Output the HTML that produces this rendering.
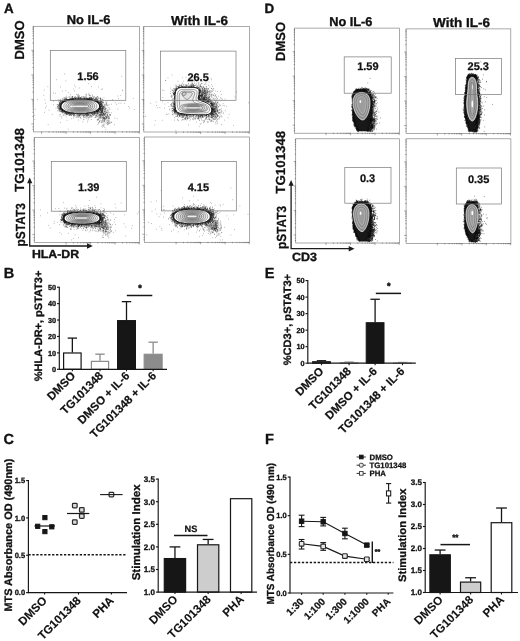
<!DOCTYPE html>
<html><head><meta charset="utf-8"><title>Figure</title>
<style>html,body{margin:0;padding:0;background:#fff}svg{display:block;filter:blur(0.4px)}text{font-family:"Liberation Sans",Arial,sans-serif;text-rendering:geometricPrecision;stroke-linejoin:round}</style>
</head><body>
<svg width="520" height="641" viewBox="0 0 520 641">
<rect width="520" height="641" fill="#fff"/>
<rect x="33.30" y="26.30" width="106.30" height="105.60" fill="none" stroke="#7d7d7d" stroke-width="0.65"/>
<path d="M33.7 123.90h-2.4 M33.7 116.52h-1.3 M33.7 112.21h-1.3 M33.7 109.15h-1.3 M33.7 106.78h-1.3 M33.7 104.84h-1.3 M33.7 103.20h-1.3 M33.7 101.77h-1.3 M33.7 100.52h-1.3 M33.7 99.40h-2.4 M33.7 92.02h-1.3 M33.7 87.71h-1.3 M33.7 84.65h-1.3 M33.7 82.28h-1.3 M33.7 80.34h-1.3 M33.7 78.70h-1.3 M33.7 77.27h-1.3 M33.7 76.02h-1.3 M33.7 74.90h-2.4 M33.7 67.52h-1.3 M33.7 63.21h-1.3 M33.7 60.15h-1.3 M33.7 57.78h-1.3 M33.7 55.84h-1.3 M33.7 54.20h-1.3 M33.7 52.77h-1.3 M33.7 51.52h-1.3 M33.7 50.40h-2.4 M33.7 43.02h-1.3 M33.7 38.71h-1.3 M33.7 35.65h-1.3 M33.7 33.28h-1.3 M33.7 31.34h-1.3 M33.7 29.70h-1.3 M33.7 28.27h-1.3 M33.7 27.02h-1.3 M33.7 129.40h-1.3 M33.7 126.90h-1.3 M115.10 131.5v2.4 M122.48 131.5v1.3 M126.79 131.5v1.3 M129.85 131.5v1.3 M132.22 131.5v1.3 M134.16 131.5v1.3 M135.80 131.5v1.3 M137.23 131.5v1.3 M138.48 131.5v1.3 M90.60 131.5v2.4 M97.98 131.5v1.3 M102.29 131.5v1.3 M105.35 131.5v1.3 M107.72 131.5v1.3 M109.66 131.5v1.3 M111.30 131.5v1.3 M112.73 131.5v1.3 M113.98 131.5v1.3 M66.10 131.5v2.4 M73.48 131.5v1.3 M77.79 131.5v1.3 M80.85 131.5v1.3 M83.22 131.5v1.3 M85.16 131.5v1.3 M86.80 131.5v1.3 M88.23 131.5v1.3 M89.48 131.5v1.3 M41.60 131.5v2.4 M48.98 131.5v1.3 M53.29 131.5v1.3 M56.35 131.5v1.3 M58.72 131.5v1.3 M60.66 131.5v1.3 M62.30 131.5v1.3 M63.73 131.5v1.3 M64.98 131.5v1.3 M139.30 131.5v2.4" stroke="#444" stroke-width="0.45" fill="none"/>
<rect x="143.80" y="26.40" width="105.80" height="105.60" fill="none" stroke="#7d7d7d" stroke-width="0.65"/>
<path d="M144.2 124.00h-2.4 M144.2 116.62h-1.3 M144.2 112.31h-1.3 M144.2 109.25h-1.3 M144.2 106.88h-1.3 M144.2 104.94h-1.3 M144.2 103.30h-1.3 M144.2 101.87h-1.3 M144.2 100.62h-1.3 M144.2 99.50h-2.4 M144.2 92.12h-1.3 M144.2 87.81h-1.3 M144.2 84.75h-1.3 M144.2 82.38h-1.3 M144.2 80.44h-1.3 M144.2 78.80h-1.3 M144.2 77.37h-1.3 M144.2 76.12h-1.3 M144.2 75.00h-2.4 M144.2 67.62h-1.3 M144.2 63.31h-1.3 M144.2 60.25h-1.3 M144.2 57.88h-1.3 M144.2 55.94h-1.3 M144.2 54.30h-1.3 M144.2 52.87h-1.3 M144.2 51.62h-1.3 M144.2 50.50h-2.4 M144.2 43.12h-1.3 M144.2 38.81h-1.3 M144.2 35.75h-1.3 M144.2 33.38h-1.3 M144.2 31.44h-1.3 M144.2 29.80h-1.3 M144.2 28.37h-1.3 M144.2 27.12h-1.3 M144.2 129.50h-1.3 M144.2 127.00h-1.3 M225.10 131.6v2.4 M232.48 131.6v1.3 M236.79 131.6v1.3 M239.85 131.6v1.3 M242.22 131.6v1.3 M244.16 131.6v1.3 M245.80 131.6v1.3 M247.23 131.6v1.3 M248.48 131.6v1.3 M200.60 131.6v2.4 M207.98 131.6v1.3 M212.29 131.6v1.3 M215.35 131.6v1.3 M217.72 131.6v1.3 M219.66 131.6v1.3 M221.30 131.6v1.3 M222.73 131.6v1.3 M223.98 131.6v1.3 M176.10 131.6v2.4 M183.48 131.6v1.3 M187.79 131.6v1.3 M190.85 131.6v1.3 M193.22 131.6v1.3 M195.16 131.6v1.3 M196.80 131.6v1.3 M198.23 131.6v1.3 M199.48 131.6v1.3 M249.30 131.6v2.4" stroke="#444" stroke-width="0.45" fill="none"/>
<rect x="34.30" y="137.30" width="105.30" height="105.30" fill="none" stroke="#7d7d7d" stroke-width="0.65"/>
<path d="M34.7 234.60h-2.4 M34.7 227.22h-1.3 M34.7 222.91h-1.3 M34.7 219.85h-1.3 M34.7 217.48h-1.3 M34.7 215.54h-1.3 M34.7 213.90h-1.3 M34.7 212.47h-1.3 M34.7 211.22h-1.3 M34.7 210.10h-2.4 M34.7 202.72h-1.3 M34.7 198.41h-1.3 M34.7 195.35h-1.3 M34.7 192.98h-1.3 M34.7 191.04h-1.3 M34.7 189.40h-1.3 M34.7 187.97h-1.3 M34.7 186.72h-1.3 M34.7 185.60h-2.4 M34.7 178.22h-1.3 M34.7 173.91h-1.3 M34.7 170.85h-1.3 M34.7 168.48h-1.3 M34.7 166.54h-1.3 M34.7 164.90h-1.3 M34.7 163.47h-1.3 M34.7 162.22h-1.3 M34.7 161.10h-2.4 M34.7 153.72h-1.3 M34.7 149.41h-1.3 M34.7 146.35h-1.3 M34.7 143.98h-1.3 M34.7 142.04h-1.3 M34.7 140.40h-1.3 M34.7 138.97h-1.3 M34.7 240.10h-1.3 M34.7 237.60h-1.3 M115.10 242.2v2.4 M122.48 242.2v1.3 M126.79 242.2v1.3 M129.85 242.2v1.3 M132.22 242.2v1.3 M134.16 242.2v1.3 M135.80 242.2v1.3 M137.23 242.2v1.3 M138.48 242.2v1.3 M90.60 242.2v2.4 M97.98 242.2v1.3 M102.29 242.2v1.3 M105.35 242.2v1.3 M107.72 242.2v1.3 M109.66 242.2v1.3 M111.30 242.2v1.3 M112.73 242.2v1.3 M113.98 242.2v1.3 M66.10 242.2v2.4 M73.48 242.2v1.3 M77.79 242.2v1.3 M80.85 242.2v1.3 M83.22 242.2v1.3 M85.16 242.2v1.3 M86.80 242.2v1.3 M88.23 242.2v1.3 M89.48 242.2v1.3 M139.30 242.2v2.4" stroke="#444" stroke-width="0.45" fill="none"/>
<rect x="144.30" y="137.00" width="105.30" height="105.30" fill="none" stroke="#7d7d7d" stroke-width="0.65"/>
<path d="M144.7 234.30h-2.4 M144.7 226.92h-1.3 M144.7 222.61h-1.3 M144.7 219.55h-1.3 M144.7 217.18h-1.3 M144.7 215.24h-1.3 M144.7 213.60h-1.3 M144.7 212.17h-1.3 M144.7 210.92h-1.3 M144.7 209.80h-2.4 M144.7 202.42h-1.3 M144.7 198.11h-1.3 M144.7 195.05h-1.3 M144.7 192.68h-1.3 M144.7 190.74h-1.3 M144.7 189.10h-1.3 M144.7 187.67h-1.3 M144.7 186.42h-1.3 M144.7 185.30h-2.4 M144.7 177.92h-1.3 M144.7 173.61h-1.3 M144.7 170.55h-1.3 M144.7 168.18h-1.3 M144.7 166.24h-1.3 M144.7 164.60h-1.3 M144.7 163.17h-1.3 M144.7 161.92h-1.3 M144.7 160.80h-2.4 M144.7 153.42h-1.3 M144.7 149.11h-1.3 M144.7 146.05h-1.3 M144.7 143.68h-1.3 M144.7 141.74h-1.3 M144.7 140.10h-1.3 M144.7 138.67h-1.3 M144.7 239.80h-1.3 M144.7 237.30h-1.3 M225.10 241.9v2.4 M232.48 241.9v1.3 M236.79 241.9v1.3 M239.85 241.9v1.3 M242.22 241.9v1.3 M244.16 241.9v1.3 M245.80 241.9v1.3 M247.23 241.9v1.3 M248.48 241.9v1.3 M200.60 241.9v2.4 M207.98 241.9v1.3 M212.29 241.9v1.3 M215.35 241.9v1.3 M217.72 241.9v1.3 M219.66 241.9v1.3 M221.30 241.9v1.3 M222.73 241.9v1.3 M223.98 241.9v1.3 M176.10 241.9v2.4 M183.48 241.9v1.3 M187.79 241.9v1.3 M190.85 241.9v1.3 M193.22 241.9v1.3 M195.16 241.9v1.3 M196.80 241.9v1.3 M198.23 241.9v1.3 M199.48 241.9v1.3 M249.30 241.9v2.4" stroke="#444" stroke-width="0.45" fill="none"/>
<rect x="294.60" y="28.10" width="104.90" height="105.10" fill="none" stroke="#7d7d7d" stroke-width="0.65"/>
<path d="M295.0 125.20h-2.4 M295.0 117.82h-1.3 M295.0 113.51h-1.3 M295.0 110.45h-1.3 M295.0 108.08h-1.3 M295.0 106.14h-1.3 M295.0 104.50h-1.3 M295.0 103.07h-1.3 M295.0 101.82h-1.3 M295.0 100.70h-2.4 M295.0 93.32h-1.3 M295.0 89.01h-1.3 M295.0 85.95h-1.3 M295.0 83.58h-1.3 M295.0 81.64h-1.3 M295.0 80.00h-1.3 M295.0 78.57h-1.3 M295.0 77.32h-1.3 M295.0 76.20h-2.4 M295.0 68.82h-1.3 M295.0 64.51h-1.3 M295.0 61.45h-1.3 M295.0 59.08h-1.3 M295.0 57.14h-1.3 M295.0 55.50h-1.3 M295.0 54.07h-1.3 M295.0 52.82h-1.3 M295.0 51.70h-2.4 M295.0 44.32h-1.3 M295.0 40.01h-1.3 M295.0 36.95h-1.3 M295.0 34.58h-1.3 M295.0 32.64h-1.3 M295.0 31.00h-1.3 M295.0 29.57h-1.3 M295.0 130.70h-1.3 M295.0 128.20h-1.3 M375.00 132.8v2.4 M382.38 132.8v1.3 M386.69 132.8v1.3 M389.75 132.8v1.3 M392.12 132.8v1.3 M394.06 132.8v1.3 M395.70 132.8v1.3 M397.13 132.8v1.3 M398.38 132.8v1.3 M350.50 132.8v2.4 M357.88 132.8v1.3 M362.19 132.8v1.3 M365.25 132.8v1.3 M367.62 132.8v1.3 M369.56 132.8v1.3 M371.20 132.8v1.3 M372.63 132.8v1.3 M373.88 132.8v1.3 M326.00 132.8v2.4 M333.38 132.8v1.3 M337.69 132.8v1.3 M340.75 132.8v1.3 M343.12 132.8v1.3 M345.06 132.8v1.3 M346.70 132.8v1.3 M348.13 132.8v1.3 M349.38 132.8v1.3 M399.20 132.8v2.4" stroke="#444" stroke-width="0.45" fill="none"/>
<rect x="406.10" y="28.90" width="104.70" height="104.70" fill="none" stroke="#7d7d7d" stroke-width="0.65"/>
<path d="M406.5 125.60h-2.4 M406.5 118.22h-1.3 M406.5 113.91h-1.3 M406.5 110.85h-1.3 M406.5 108.48h-1.3 M406.5 106.54h-1.3 M406.5 104.90h-1.3 M406.5 103.47h-1.3 M406.5 102.22h-1.3 M406.5 101.10h-2.4 M406.5 93.72h-1.3 M406.5 89.41h-1.3 M406.5 86.35h-1.3 M406.5 83.98h-1.3 M406.5 82.04h-1.3 M406.5 80.40h-1.3 M406.5 78.97h-1.3 M406.5 77.72h-1.3 M406.5 76.60h-2.4 M406.5 69.22h-1.3 M406.5 64.91h-1.3 M406.5 61.85h-1.3 M406.5 59.48h-1.3 M406.5 57.54h-1.3 M406.5 55.90h-1.3 M406.5 54.47h-1.3 M406.5 53.22h-1.3 M406.5 52.10h-2.4 M406.5 44.72h-1.3 M406.5 40.41h-1.3 M406.5 37.35h-1.3 M406.5 34.98h-1.3 M406.5 33.04h-1.3 M406.5 31.40h-1.3 M406.5 29.97h-1.3 M406.5 131.10h-1.3 M406.5 128.60h-1.3 M486.30 133.2v2.4 M493.68 133.2v1.3 M497.99 133.2v1.3 M501.05 133.2v1.3 M503.42 133.2v1.3 M505.36 133.2v1.3 M507.00 133.2v1.3 M508.43 133.2v1.3 M509.68 133.2v1.3 M461.80 133.2v2.4 M469.18 133.2v1.3 M473.49 133.2v1.3 M476.55 133.2v1.3 M478.92 133.2v1.3 M480.86 133.2v1.3 M482.50 133.2v1.3 M483.93 133.2v1.3 M485.18 133.2v1.3 M437.30 133.2v2.4 M444.68 133.2v1.3 M448.99 133.2v1.3 M452.05 133.2v1.3 M454.42 133.2v1.3 M456.36 133.2v1.3 M458.00 133.2v1.3 M459.43 133.2v1.3 M460.68 133.2v1.3 M510.50 133.2v2.4" stroke="#444" stroke-width="0.45" fill="none"/>
<rect x="295.70" y="138.80" width="103.80" height="104.20" fill="none" stroke="#7d7d7d" stroke-width="0.65"/>
<path d="M296.1 235.00h-2.4 M296.1 227.62h-1.3 M296.1 223.31h-1.3 M296.1 220.25h-1.3 M296.1 217.88h-1.3 M296.1 215.94h-1.3 M296.1 214.30h-1.3 M296.1 212.87h-1.3 M296.1 211.62h-1.3 M296.1 210.50h-2.4 M296.1 203.12h-1.3 M296.1 198.81h-1.3 M296.1 195.75h-1.3 M296.1 193.38h-1.3 M296.1 191.44h-1.3 M296.1 189.80h-1.3 M296.1 188.37h-1.3 M296.1 187.12h-1.3 M296.1 186.00h-2.4 M296.1 178.62h-1.3 M296.1 174.31h-1.3 M296.1 171.25h-1.3 M296.1 168.88h-1.3 M296.1 166.94h-1.3 M296.1 165.30h-1.3 M296.1 163.87h-1.3 M296.1 162.62h-1.3 M296.1 161.50h-2.4 M296.1 154.12h-1.3 M296.1 149.81h-1.3 M296.1 146.75h-1.3 M296.1 144.38h-1.3 M296.1 142.44h-1.3 M296.1 140.80h-1.3 M296.1 139.37h-1.3 M296.1 240.50h-1.3 M296.1 238.00h-1.3 M375.00 242.6v2.4 M382.38 242.6v1.3 M386.69 242.6v1.3 M389.75 242.6v1.3 M392.12 242.6v1.3 M394.06 242.6v1.3 M395.70 242.6v1.3 M397.13 242.6v1.3 M398.38 242.6v1.3 M350.50 242.6v2.4 M357.88 242.6v1.3 M362.19 242.6v1.3 M365.25 242.6v1.3 M367.62 242.6v1.3 M369.56 242.6v1.3 M371.20 242.6v1.3 M372.63 242.6v1.3 M373.88 242.6v1.3 M326.00 242.6v2.4 M333.38 242.6v1.3 M337.69 242.6v1.3 M340.75 242.6v1.3 M343.12 242.6v1.3 M345.06 242.6v1.3 M346.70 242.6v1.3 M348.13 242.6v1.3 M349.38 242.6v1.3 M399.20 242.6v2.4" stroke="#444" stroke-width="0.45" fill="none"/>
<rect x="406.10" y="138.80" width="104.80" height="104.60" fill="none" stroke="#7d7d7d" stroke-width="0.65"/>
<path d="M406.5 235.40h-2.4 M406.5 228.02h-1.3 M406.5 223.71h-1.3 M406.5 220.65h-1.3 M406.5 218.28h-1.3 M406.5 216.34h-1.3 M406.5 214.70h-1.3 M406.5 213.27h-1.3 M406.5 212.02h-1.3 M406.5 210.90h-2.4 M406.5 203.52h-1.3 M406.5 199.21h-1.3 M406.5 196.15h-1.3 M406.5 193.78h-1.3 M406.5 191.84h-1.3 M406.5 190.20h-1.3 M406.5 188.77h-1.3 M406.5 187.52h-1.3 M406.5 186.40h-2.4 M406.5 179.02h-1.3 M406.5 174.71h-1.3 M406.5 171.65h-1.3 M406.5 169.28h-1.3 M406.5 167.34h-1.3 M406.5 165.70h-1.3 M406.5 164.27h-1.3 M406.5 163.02h-1.3 M406.5 161.90h-2.4 M406.5 154.52h-1.3 M406.5 150.21h-1.3 M406.5 147.15h-1.3 M406.5 144.78h-1.3 M406.5 142.84h-1.3 M406.5 141.20h-1.3 M406.5 139.77h-1.3 M406.5 240.90h-1.3 M406.5 238.40h-1.3 M486.40 243.0v2.4 M493.78 243.0v1.3 M498.09 243.0v1.3 M501.15 243.0v1.3 M503.52 243.0v1.3 M505.46 243.0v1.3 M507.10 243.0v1.3 M508.53 243.0v1.3 M509.78 243.0v1.3 M461.90 243.0v2.4 M469.28 243.0v1.3 M473.59 243.0v1.3 M476.65 243.0v1.3 M479.02 243.0v1.3 M480.96 243.0v1.3 M482.60 243.0v1.3 M484.03 243.0v1.3 M485.28 243.0v1.3 M437.40 243.0v2.4 M444.78 243.0v1.3 M449.09 243.0v1.3 M452.15 243.0v1.3 M454.52 243.0v1.3 M456.46 243.0v1.3 M458.10 243.0v1.3 M459.53 243.0v1.3 M460.78 243.0v1.3 M510.60 243.0v2.4" stroke="#444" stroke-width="0.45" fill="none"/>
<path d="M69.9 114.3h0.6 M101.7 111.5h0.6 M61.3 104.2h0.6 M60.8 105.7h0.6 M100.2 108.4h0.6 M97.2 110.5h0.6 M62.7 109.9h0.6 M84.5 114.2h0.6 M64.7 99.3h0.6 M63.9 111.2h0.6 M106.2 103.8h0.6 M74.3 114.2h0.6 M94.2 113.5h0.6 M89.6 98.5h0.6 M91.0 116.2h0.6 M65.3 112.5h0.6 M61.4 103.7h0.6 M86.6 113.2h0.6 M70.6 98.5h0.6 M63.0 102.0h0.6 M60.9 108.9h0.6 M72.3 96.5h0.6 M81.5 115.9h0.6 M95.6 99.9h0.6 M76.9 98.1h0.6 M102.4 117.9h0.6 M63.4 109.9h0.6 M60.2 106.9h0.6 M102.0 109.0h0.6 M60.4 101.5h0.6 M95.8 99.8h0.6 M61.8 100.5h0.6 M60.1 100.8h0.6 M100.1 102.9h0.6 M61.1 107.7h0.6 M73.4 99.1h0.6 M65.8 97.6h0.6 M75.2 113.1h0.6 M65.3 111.1h0.6 M61.4 108.2h0.6 M91.0 113.0h0.6 M83.2 98.9h0.6 M94.1 111.4h0.6 M96.3 98.7h0.6 M101.3 112.1h0.6 M96.0 100.5h0.6 M89.9 98.6h0.6 M62.4 110.7h0.6 M64.6 115.2h0.6 M95.6 116.7h0.6 M89.9 112.6h0.6 M59.9 107.2h0.6 M63.8 102.3h0.6 M63.2 109.9h0.6 M62.9 115.4h0.6 M71.7 97.9h0.6 M59.2 105.1h0.6 M102.1 110.1h0.6 M97.1 101.1h0.6 M88.4 94.8h0.6 M64.3 111.3h0.6 M66.6 100.5h0.6 M100.3 110.1h0.6 M91.6 112.9h0.6 M69.2 112.1h0.6 M92.2 111.9h0.6 M96.5 110.9h0.6 M94.7 100.8h0.6 M64.8 100.9h0.6 M67.7 113.2h0.6 M64.9 114.1h0.6 M104.4 105.5h0.6 M60.8 108.2h0.6 M96.1 110.7h0.6 M68.8 112.4h0.6 M94.6 117.6h0.6 M103.6 108.1h0.6 M93.4 112.8h0.6 M59.6 103.4h0.6 M99.9 104.9h0.6 M94.0 100.2h0.6 M65.7 112.8h0.6 M91.0 112.7h0.6 M85.1 96.7h0.6 M69.9 113.0h0.6 M106.0 104.7h0.6 M93.7 99.0h0.6 M78.3 96.0h0.6 M84.2 115.6h0.6 M99.4 107.8h0.6 M99.6 107.8h0.6 M72.1 98.4h0.6 M106.7 101.8h0.6 M102.2 105.3h0.6 M100.3 103.5h0.6 M84.1 114.4h0.6 M87.9 113.9h0.6 M99.9 99.2h0.6 M93.7 96.7h0.6 M87.2 99.2h0.6 M100.9 112.3h0.6 M85.9 95.2h0.6 M80.3 98.2h0.6 M85.9 99.4h0.6 M68.9 114.1h0.6 M60.0 114.3h0.6 M61.5 112.5h0.6 M91.2 113.8h0.6 M97.4 114.6h0.6 M89.5 95.4h0.6 M95.4 115.4h0.6 M66.3 96.2h0.6 M67.6 112.9h0.6 M99.8 107.1h0.6 M101.7 104.2h0.6 M101.2 101.6h0.6 M60.1 110.5h0.6 M86.8 116.8h0.6 M79.9 113.5h0.6 M62.5 101.6h0.6 M78.6 114.2h0.6 M97.5 101.8h0.6 M66.1 114.3h0.6 M97.4 101.4h0.6 M61.3 110.9h0.6 M60.5 104.3h0.6 M59.4 104.6h0.6 M89.2 112.9h0.6 M100.0 106.5h0.6 M60.3 107.8h0.6 M76.3 97.8h0.6 M60.8 105.1h0.6 M62.1 103.5h0.6 M61.6 103.0h0.6 M80.6 113.8h0.6 M57.9 105.5h0.6 M62.3 103.2h0.6 M57.8 110.6h0.6 M63.5 100.0h0.6 M72.6 99.7h0.6 M59.7 109.3h0.6 M99.0 103.1h0.6 M72.3 96.5h0.6 M78.4 117.3h0.6 M59.1 102.1h0.6 M95.0 113.4h0.6 M95.6 112.1h0.6 M81.9 113.4h0.6 M100.5 111.0h0.6 M100.1 98.6h0.6 M92.5 112.9h0.6 M96.1 115.7h0.6 M96.6 99.8h0.6 M99.1 103.7h0.6 M58.9 114.8h0.6 M91.0 99.6h0.6 M93.2 115.3h0.6 M68.7 113.2h0.6 M88.3 114.7h0.6 M104.7 108.0h0.6 M61.9 103.5h0.6 M70.0 112.4h0.6 M65.6 100.7h0.6 M99.3 105.3h0.6 M86.0 98.5h0.6 M77.8 113.2h0.6 M99.3 108.3h0.6 M96.0 113.4h0.6 M60.1 111.4h0.6 M78.7 115.5h0.6 M94.7 115.1h0.6 M73.1 98.5h0.6 M101.4 113.1h0.6 M62.0 110.2h0.6 M102.2 111.8h0.6 M87.8 98.4h0.6 M97.8 110.4h0.6 M94.0 100.1h0.6 M60.6 108.9h0.6 M101.0 101.1h0.6 M77.2 115.1h0.6 M82.4 115.4h0.6 M96.0 111.2h0.6 M87.2 113.5h0.6 M71.6 113.9h0.6 M73.6 116.8h0.6 M60.5 106.2h0.6 M102.4 107.6h0.6 M80.2 117.2h0.6 M61.8 103.6h0.6 M91.1 119.5h0.6 M96.8 111.5h0.6 M90.5 97.3h0.6 M91.5 99.0h0.6 M62.1 113.0h0.6 M99.4 105.2h0.6 M67.9 113.6h0.6 M65.3 98.8h0.6 M63.8 110.6h0.6 M94.7 112.1h0.6 M97.8 109.5h0.6 M92.4 114.4h0.6 M100.7 112.1h0.6 M68.7 97.1h0.6 M75.6 113.0h0.6 M60.1 108.7h0.6 M93.0 114.2h0.6 M99.8 104.0h0.6 M101.7 104.3h0.6 M99.7 104.2h0.6 M72.4 112.7h0.6 M65.7 111.1h0.6 M60.1 107.8h0.6 M61.3 105.9h0.6 M99.4 106.5h0.6 M63.7 111.1h0.6 M101.9 109.1h0.6 M83.1 113.3h0.6 M60.8 100.7h0.6 M68.7 99.9h0.6 M75.1 98.1h0.6 M69.8 113.9h0.6 M102.8 105.0h0.6 M66.1 98.7h0.6 M102.7 109.5h0.6 M63.9 98.5h0.6 M77.7 99.0h0.6 M60.5 104.8h0.6 M59.5 105.9h0.6 M92.0 96.2h0.6 M61.5 101.3h0.6 M72.0 98.0h0.6 M83.6 114.4h0.6 M67.2 111.8h0.6 M97.8 112.2h0.6 M64.9 99.5h0.6 M65.7 100.4h0.6 M103.3 106.5h0.6 M86.9 99.6h0.6 M59.4 103.9h0.6 M67.6 97.8h0.6 M79.8 114.7h0.6 M98.1 109.9h0.6 M87.9 117.5h0.6 M78.4 97.1h0.6 M65.4 111.3h0.6 M60.0 107.6h0.6 M63.3 99.3h0.6 M67.1 99.9h0.6 M79.5 113.7h0.6 M79.0 98.5h0.6 M103.9 107.3h0.6 M98.7 109.3h0.6 M71.5 97.0h0.6 M70.5 99.5h0.6 M59.3 108.6h0.6 M58.4 108.6h0.6 M88.6 117.0h0.6 M99.8 104.9h0.6 M61.7 108.3h0.6 M90.6 97.3h0.6 M77.3 113.5h0.6 M86.5 114.7h0.6 M63.0 102.3h0.6 M98.5 118.5h0.6 M94.7 112.4h0.6 M91.8 94.8h0.6 M73.8 99.4h0.6 M83.5 115.5h0.6 M101.7 108.0h0.6 M103.5 106.5h0.6 M73.2 112.8h0.6 M94.2 113.0h0.6 M92.5 98.5h0.6 M99.3 106.3h0.6 M99.9 116.0h0.6 M99.2 102.0h0.6 M73.3 118.1h0.6 M61.6 116.3h0.6 M60.0 99.8h0.6 M66.3 113.0h0.6 M99.8 109.0h0.6 M97.3 111.5h0.6 M100.3 102.2h0.6 M80.5 113.3h0.6 M89.7 116.1h0.6 M63.0 114.7h0.6 M89.1 98.4h0.6 M63.9 98.0h0.6 M59.7 103.0h0.6 M75.2 96.5h0.6 M61.1 108.9h0.6 M80.9 98.4h0.6 M100.9 109.4h0.6 M100.1 101.6h0.6 M67.8 113.7h0.6 M73.6 113.2h0.6 M78.1 120.1h0.6 M68.4 99.7h0.6 M62.6 112.4h0.6 M91.2 113.3h0.6 M98.1 101.0h0.6 M60.5 106.4h0.6 M107.4 105.8h0.6 M61.2 108.9h0.6 M98.3 111.2h0.6 M68.2 113.3h0.6 M78.8 114.0h0.6 M60.6 101.9h0.6 M61.6 111.4h0.6 M61.8 111.2h0.6 M69.2 112.4h0.6 M99.7 109.8h0.6 M101.0 118.0h0.6 M58.6 105.9h0.6 M86.1 117.1h0.6 M77.0 113.0h0.6 M60.2 109.6h0.6 M102.8 102.7h0.6 M105.5 108.3h0.6 M101.0 108.3h0.6 M57.3 108.4h0.6 M62.0 101.3h0.6 M97.6 102.8h0.6 M92.0 95.9h0.6 M80.7 118.5h0.6 M97.5 112.4h0.6 M70.6 98.1h0.6 M99.1 103.1h0.6 M83.0 96.4h0.6 M61.3 108.5h0.6 M85.1 99.3h0.6 M83.5 116.5h0.6 M72.4 114.3h0.6 M94.2 111.4h0.6 M72.4 97.0h0.6 M98.5 113.5h0.6 M62.6 102.0h0.6 M64.9 111.2h0.6 M104.4 107.2h0.6 M71.3 118.7h0.6 M67.1 99.7h0.6 M96.8 99.8h0.6 M80.9 113.3h0.6 M99.7 104.0h0.6 M102.3 107.8h0.6 M60.3 106.3h0.6 M78.9 115.4h0.6 M69.3 99.1h0.6 M100.2 108.2h0.6 M67.7 114.9h0.6 M88.1 114.8h0.6 M86.9 99.5h0.6 M87.5 116.3h0.6 M101.6 104.1h0.6 M83.9 117.7h0.6 M84.6 113.1h0.6 M101.5 102.9h0.6 M60.8 106.5h0.6 M62.2 110.7h0.6 M69.2 99.3h0.6 M64.6 111.0h0.6 M86.0 114.4h0.6 M98.8 108.8h0.6 M104.2 111.5h0.6 M98.3 98.5h0.6 M77.0 94.8h0.6 M70.3 112.4h0.6 M90.7 117.1h0.6 M101.4 108.4h0.6 M69.0 99.0h0.6 M69.2 113.7h0.6 M91.8 114.7h0.6 M68.2 111.9h0.6 M105.3 102.1h0.6 M87.7 118.1h0.6 M66.5 113.3h0.6 M59.3 110.9h0.6 M102.0 109.7h0.6 M97.7 102.3h0.6 M89.5 116.8h0.6 M105.1 109.0h0.6 M62.6 110.9h0.6 M104.7 109.8h0.6 M106.8 109.8h0.6 M78.9 115.2h0.6 M79.7 97.9h0.6 M76.7 114.3h0.6 M100.8 103.5h0.6 M75.2 98.5h0.6 M71.6 112.5h0.6 M81.3 99.2h0.6 M102.0 99.6h0.6 M105.9 108.6h0.6 M83.6 119.8h0.6 M100.0 103.5h0.6 M65.4 110.9h0.6 M59.2 106.7h0.6 M100.0 101.7h0.6 M78.1 96.1h0.6 M89.9 99.5h0.6 M68.8 115.3h0.6 M70.1 115.0h0.6 M101.8 112.2h0.6 M87.5 112.7h0.6 M100.6 110.4h0.6 M102.1 108.6h0.6 M100.3 105.0h0.6 M96.9 99.7h0.6 M97.2 110.1h0.6 M101.3 113.8h0.6 M62.2 108.8h0.6 M83.2 116.3h0.6 M70.0 98.8h0.6 M79.9 97.7h0.6 M97.9 114.2h0.6 M92.0 99.5h0.6 M64.3 113.5h0.6 M78.3 98.9h0.6 M81.2 114.9h0.6 M93.9 114.8h0.6 M69.6 114.3h0.6 M62.5 112.3h0.6 M83.3 113.1h0.6 M89.8 95.5h0.6 M103.6 116.3h0.6 M59.8 107.8h0.6 M102.2 99.2h0.6 M99.3 108.4h0.6 M88.9 114.0h0.6 M106.5 103.5h0.6 M64.5 113.3h0.6 M95.2 99.2h0.6 M84.5 98.9h0.6 M102.0 102.3h0.6 M64.7 100.2h0.6 M85.2 114.0h0.6 M87.0 114.0h0.6 M79.3 116.1h0.6 M87.5 115.3h0.6 M101.9 107.1h0.6 M90.5 116.5h0.6 M71.6 113.8h0.6 M58.8 102.8h0.6 M100.9 110.4h0.6 M61.0 103.4h0.6 M66.7 100.0h0.6 M72.7 99.1h0.6 M63.6 110.4h0.6 M101.6 103.0h0.6 M71.2 114.6h0.6 M62.8 110.4h0.6 M95.5 98.6h0.6 M87.5 112.7h0.6 M76.9 99.4h0.6 M96.5 101.8h0.6 M62.3 110.1h0.6 M97.2 99.3h0.6 M61.6 108.2h0.6 M61.9 103.6h0.6 M67.1 100.2h0.6 M65.7 100.9h0.6 M65.6 112.3h0.6 M75.4 112.9h0.6 M60.6 104.9h0.6 M60.9 106.8h0.6 M88.3 98.2h0.6 M94.6 111.6h0.6 M102.2 102.0h0.6 M99.0 109.0h0.6 M102.9 100.2h0.6 M63.9 99.4h0.6 M91.0 97.7h0.6 M85.2 117.2h0.6 M62.2 111.8h0.6 M91.1 117.1h0.6 M85.5 115.7h0.6 M64.3 112.1h0.6 M94.6 111.3h0.6 M100.3 98.5h0.6 M104.6 109.8h0.6 M101.3 108.7h0.6 M92.7 97.8h0.6 M60.4 103.2h0.6 M65.9 100.6h0.6 M61.8 101.5h0.6 M61.9 110.2h0.6 M60.6 109.9h0.6 M102.4 108.0h0.6 M82.9 115.1h0.6 M82.6 99.0h0.6 M90.9 115.7h0.6 M60.7 107.8h0.6 M62.2 109.7h0.6 M100.2 112.5h0.6 M100.4 108.7h0.6 M65.3 98.7h0.6 M84.7 97.7h0.6 M59.1 105.3h0.6 M65.3 111.8h0.6 M103.1 102.3h0.6 M105.0 105.8h0.6 M77.4 98.9h0.6 M101.5 104.9h0.6 M57.0 106.9h0.6 M91.9 113.9h0.6 M86.0 98.8h0.6 M68.0 112.1h0.6 M81.5 97.0h0.6 M75.8 117.5h0.6 M89.7 98.1h0.6 M100.1 101.0h0.6 M86.2 113.1h0.6 M70.1 115.2h0.6 M99.8 108.3h0.6 M99.8 102.4h0.6 M70.8 99.1h0.6 M85.5 98.7h0.6 M99.0 114.4h0.6 M67.0 112.1h0.6 M97.0 98.2h0.6 M96.0 100.4h0.6 M100.0 113.9h0.6 M64.8 110.8h0.6 M87.1 99.0h0.6 M57.9 99.9h0.6 M67.3 111.8h0.6 M91.3 115.6h0.6 M79.0 95.9h0.6 M79.6 114.4h0.6 M65.7 98.8h0.6 M69.5 100.0h0.6 M71.8 113.2h0.6 M92.3 111.8h0.6 M63.9 100.0h0.6 M97.2 100.7h0.6 M94.3 112.0h0.6 M104.7 108.2h0.6 M100.4 106.4h0.6 M67.1 112.4h0.6 M84.7 116.2h0.6 M87.2 114.7h0.6 M65.4 100.5h0.6 M98.3 103.1h0.6 M81.5 113.7h0.6 M66.8 100.3h0.6 M94.5 100.6h0.6 M77.7 115.5h0.6 M102.3 107.1h0.6 M66.8 113.9h0.6 M65.2 97.1h0.6 M77.5 97.8h0.6 M80.6 113.6h0.6 M61.3 104.5h0.6 M64.1 110.3h0.6 M84.7 98.7h0.6 M107.9 107.6h0.6 M94.6 113.8h0.6 M88.1 115.5h0.6 M66.6 99.6h0.6 M89.0 98.9h0.6 M72.8 114.6h0.6 M103.5 110.2h0.6 M74.8 97.4h0.6 M102.8 106.8h0.6 M58.8 108.6h0.6 M78.8 98.0h0.6 M96.4 111.1h0.6 M83.4 115.4h0.6 M80.2 99.0h0.6 M72.3 98.1h0.6 M77.4 116.3h0.6 M59.2 102.5h0.6 M60.1 104.7h0.6 M77.4 117.2h0.6 M86.3 118.7h0.6 M96.6 99.6h0.6 M82.6 113.2h0.6 M79.1 96.3h0.6 M69.9 113.6h0.6 M95.6 100.5h0.6 M98.5 100.9h0.6 M66.0 100.3h0.6 M104.4 104.3h0.6 M59.9 108.1h0.6 M95.5 97.5h0.6 M62.2 109.3h0.6 M71.4 115.7h0.6 M85.9 113.7h0.6 M97.6 101.7h0.6 M93.8 113.1h0.6 M97.9 102.8h0.6 M68.6 112.3h0.6 M99.4 108.5h0.6 M71.9 97.9h0.6 M77.9 97.1h0.6 M100.8 110.5h0.6 M89.7 98.6h0.6 M89.6 99.2h0.6 M94.3 100.4h0.6 M98.3 101.6h0.6 M86.6 113.3h0.6 M100.7 115.5h0.6 M88.9 98.8h0.6 M66.1 100.0h0.6 M74.2 116.0h0.6 M100.3 113.6h0.6 M87.4 115.6h0.6 M71.2 112.9h0.6 M79.1 113.2h0.6 M75.4 113.4h0.6 M70.1 114.6h0.6 M106.0 102.7h0.6 M65.7 101.3h0.6 M102.5 108.5h0.6 M84.0 98.2h0.6 M68.1 112.6h0.6 M85.9 116.3h0.6 M96.5 97.1h0.6 M92.0 115.2h0.6 M101.2 106.3h0.6 M105.2 104.1h0.6 M103.7 106.6h0.6 M86.8 99.5h0.6 M90.1 115.3h0.6 M90.6 100.1h0.6 M78.4 115.0h0.6 M85.6 113.7h0.6 M73.1 98.8h0.6 M67.2 100.9h0.6 M98.4 110.5h0.6 M86.4 96.0h0.6 M65.6 100.2h0.6 M63.4 111.8h0.6 M100.2 97.7h0.6 M103.2 108.2h0.6 M86.6 113.3h0.6 M57.0 106.1h0.6 M65.0 112.0h0.6 M60.8 108.4h0.6 M61.5 104.5h0.6 M66.0 98.0h0.6 M68.1 112.4h0.6 M92.5 99.1h0.6 M69.4 100.2h0.6 M61.3 109.6h0.6 M84.0 98.4h0.6 M61.3 108.3h0.6 M95.2 101.3h0.6 M72.8 114.3h0.6 M73.6 99.0h0.6 M92.7 113.4h0.6 M80.8 114.5h0.6 M93.2 115.3h0.6 M69.2 114.6h0.6 M76.3 94.5h0.6 M97.4 111.6h0.6 M65.4 111.1h0.6 M100.9 105.1h0.6 M59.5 110.6h0.6 M87.9 113.6h0.6 M86.7 113.8h0.6 M63.5 112.4h0.6 M86.2 99.1h0.6 M71.7 97.1h0.6 M61.7 108.1h0.6 M94.8 113.9h0.6 M78.7 98.2h0.6 M100.1 99.9h0.6 M80.1 98.3h0.6 M62.9 110.0h0.6 M98.6 97.7h0.6 M84.2 98.1h0.6 M69.6 96.6h0.6 M66.5 99.5h0.6 M66.2 100.7h0.6 M101.0 113.8h0.6 M74.6 97.9h0.6 M66.6 101.0h0.6 M59.8 109.1h0.6 M64.2 99.5h0.6 M100.4 101.7h0.6 M90.3 115.4h0.6 M62.6 113.0h0.6 M60.8 106.9h0.6 M61.8 104.0h0.6 M92.1 113.5h0.6 M56.8 104.6h0.6 M99.4 113.0h0.6 M75.3 98.4h0.6 M58.9 105.3h0.6 M58.6 104.6h0.6 M62.6 110.9h0.6 M71.5 99.5h0.6 M64.9 110.8h0.6 M101.1 105.1h0.6 M66.7 113.2h0.6 M64.0 110.9h0.6 M102.7 107.3h0.6 M72.9 98.7h0.6 M68.0 111.9h0.6 M78.7 98.0h0.6 M100.5 102.4h0.6 M87.4 99.4h0.6 M64.8 110.9h0.6 M84.5 98.3h0.6 M88.9 98.0h0.6 M61.0 102.6h0.6 M84.3 115.5h0.6 M67.1 100.5h0.6 M89.7 98.8h0.6 M73.4 115.3h0.6 M59.5 103.0h0.6 M65.9 114.4h0.6 M92.5 100.3h0.6 M79.5 115.5h0.6 M63.0 109.6h0.6 M76.1 99.4h0.6 M75.7 113.0h0.6 M59.7 107.6h0.6 M61.0 110.4h0.6 M65.5 113.6h0.6 M98.3 102.6h0.6 M90.5 99.4h0.6 M96.8 101.9h0.6 M91.3 98.8h0.6 M66.7 100.7h0.6 M98.6 103.8h0.6 M68.9 100.4h0.6 M93.9 113.0h0.6 M83.0 113.4h0.6 M93.9 114.5h0.6 M96.8 101.7h0.6 M97.1 100.4h0.6 M64.6 101.3h0.6 M99.6 98.6h0.6 M85.9 98.7h0.6 M72.2 98.7h0.6 M61.5 104.6h0.6 M97.6 99.0h0.6 M62.2 103.5h0.6 M94.9 113.6h0.6 M59.2 106.7h0.6 M93.7 112.9h0.6 M58.8 106.9h0.6 M93.4 100.8h0.6 M101.6 106.7h0.6 M60.8 102.5h0.6 M69.2 99.3h0.6 M61.8 110.8h0.6 M103.4 103.0h0.6 M66.3 99.9h0.6 M103.5 108.5h0.6 M101.0 101.6h0.6 M68.7 114.9h0.6 M61.1 107.1h0.6 M100.2 98.6h0.6 M65.8 100.7h0.6 M68.6 113.4h0.6 M60.0 107.8h0.6 M61.3 104.8h0.6 M61.3 109.8h0.6 M59.7 111.6h0.6 M73.9 114.3h0.6 M91.4 97.7h0.6 M76.7 114.7h0.6 M58.4 105.7h0.6 M86.3 99.1h0.6 M69.7 113.0h0.6 M62.4 101.6h0.6 M66.9 100.8h0.6 M76.1 98.9h0.6 M95.9 100.8h0.6 M73.3 112.9h0.6 M102.5 106.7h0.6 M61.8 99.0h0.6 M68.5 99.5h0.6 M62.0 98.8h0.6 M64.0 100.0h0.6 M62.5 100.8h0.6 M71.1 99.3h0.6 M58.9 109.1h0.6 M82.5 98.3h0.6 M100.3 108.4h0.6 M84.5 96.7h0.6 M65.5 112.7h0.6 M90.0 99.3h0.6 M78.7 116.2h0.6 M72.6 114.6h0.6 M62.0 109.8h0.6 M67.2 100.3h0.6 M62.5 102.9h0.6 M103.8 109.5h0.6 M60.9 101.6h0.6 M97.7 102.3h0.6 M65.3 111.0h0.6 M59.7 99.3h0.6 M59.3 107.9h0.6 M61.5 111.5h0.6 M86.3 115.3h0.6 M92.3 112.2h0.6 M71.6 99.9h0.6 M95.7 112.2h0.6 M94.1 100.8h0.6 M98.1 115.6h0.6 M81.7 113.5h0.6 M77.6 99.2h0.6 M84.1 98.8h0.6 M74.6 97.6h0.6 M101.3 112.4h0.6 M66.1 100.7h0.6 M101.4 101.4h0.6 M79.4 117.0h0.6 M100.6 107.0h0.6 M103.4 107.4h0.6 M102.3 112.6h0.6 M72.1 112.8h0.6 M94.4 99.4h0.6 M59.5 107.2h0.6 M62.5 102.5h0.6 M62.0 109.3h0.6 M87.2 98.4h0.6 M65.8 113.1h0.6 M61.2 111.1h0.6 M64.5 111.8h0.6 M86.5 94.1h0.6 M62.6 103.0h0.6 M100.4 104.6h0.6 M73.6 98.8h0.6 M63.6 100.8h0.6 M101.6 104.6h0.6 M71.4 115.4h0.6 M61.4 110.2h0.6 M71.3 98.7h0.6 M62.3 100.1h0.6 M74.9 115.7h0.6 M99.6 106.3h0.6 M61.9 101.3h0.6 M89.2 99.3h0.6 M91.0 99.7h0.6 M89.3 97.7h0.6 M76.3 115.4h0.6 M93.3 99.3h0.6 M101.2 99.8h0.6 M67.1 114.2h0.6 M87.3 98.1h0.6 M87.1 112.7h0.6 M83.5 119.4h0.6 M64.2 101.1h0.6 M87.2 115.7h0.6 M79.4 113.0h0.6 M58.1 109.2h0.6 M98.8 111.3h0.6 M83.5 117.4h0.6 M60.4 101.0h0.6 M59.0 104.6h0.6 M60.3 107.6h0.6 M88.4 113.6h0.6 M89.7 113.3h0.6 M61.0 102.5h0.6 M63.3 111.2h0.6 M98.9 108.5h0.6 M100.6 106.0h0.6 M66.4 100.5h0.6 M86.1 97.8h0.6 M67.2 114.3h0.6 M60.9 105.0h0.6 M99.4 105.6h0.6 M96.4 97.9h0.6 M78.3 113.3h0.6 M85.5 94.5h0.6 M83.3 97.1h0.6 M90.1 98.1h0.6 M99.5 108.3h0.6 M87.2 113.2h0.6 M99.9 109.2h0.6 M60.9 102.9h0.6 M101.2 102.7h0.6 M100.4 99.9h0.6 M63.7 111.3h0.6 M96.8 113.0h0.6 M62.3 103.0h0.6 M65.7 98.5h0.6 M64.2 111.3h0.6 M59.3 109.7h0.6 M107.6 105.2h0.6 M84.9 115.0h0.6 M67.9 112.2h0.6 M100.7 98.9h0.6 M102.6 109.7h0.6 M85.7 98.7h0.6 M104.5 104.9h0.6 M102.1 110.3h0.6 M102.6 101.5h0.6 M70.6 99.3h0.6 M81.8 96.7h0.6 M96.8 111.5h0.6 M96.2 113.0h0.6 M60.7 107.3h0.6 M94.3 113.5h0.6 M69.6 97.2h0.6 M87.8 113.0h0.6 M101.3 108.6h0.6 M98.9 102.7h0.6 M94.6 99.9h0.6 M61.5 109.0h0.6 M101.7 114.2h0.6 M65.4 99.9h0.6 M60.0 109.2h0.6 M58.2 107.9h0.6 M65.9 100.4h0.6 M100.3 109.7h0.6 M74.8 98.5h0.6 M94.4 100.6h0.6 M77.5 114.2h0.6 M76.9 113.7h0.6 M91.8 99.6h0.6 M60.3 106.8h0.6 M71.0 113.4h0.6 M100.2 104.9h0.6 M102.5 110.5h0.6 M86.5 115.5h0.6 M61.1 107.5h0.6 M87.7 115.0h0.6 M61.4 118.0h0.6 M98.1 102.5h0.6 M97.9 111.6h0.6 M105.8 111.8h0.6 M76.5 98.0h0.6 M109.4 108.2h0.6 M88.2 99.0h0.6 M101.1 106.4h0.6 M91.5 98.6h0.6 M62.4 109.3h0.6 M97.6 101.8h0.6 M96.3 115.1h0.6 M89.6 113.0h0.6 M89.1 117.3h0.6 M101.2 111.9h0.6 M59.9 106.5h0.6 M76.5 113.9h0.6 M73.7 97.1h0.6 M89.0 98.4h0.6 M99.1 109.8h0.6 M77.3 96.8h0.6 M101.5 110.0h0.6 M89.3 97.4h0.6 M97.0 96.9h0.6 M56.9 106.8h0.6 M61.0 107.5h0.6 M94.3 100.9h0.6 M91.4 98.6h0.6 M66.0 112.3h0.6 M62.8 101.2h0.6 M103.4 106.6h0.6 M61.1 105.3h0.6 M95.8 112.2h0.6 M97.4 96.6h0.6 M70.9 113.0h0.6 M80.6 97.5h0.6 M104.3 111.6h0.6 M57.7 106.7h0.6 M58.9 105.2h0.6 M100.1 107.5h0.6 M99.3 104.4h0.6 M97.8 112.0h0.6 M80.2 113.3h0.6 M97.0 110.9h0.6 M73.3 99.6h0.6 M64.2 101.7h0.6 M60.5 101.3h0.6 M96.6 111.1h0.6 M94.1 100.9h0.6 M95.3 111.9h0.6 M59.7 106.7h0.6 M94.6 111.2h0.6 M62.5 111.4h0.6 M95.3 98.4h0.6 M95.7 116.0h0.6 M92.2 114.3h0.6 M91.2 97.8h0.6 M62.6 110.2h0.6 M92.9 97.8h0.6 M98.7 103.2h0.6 M84.5 98.6h0.6 M68.9 113.5h0.6 M59.0 110.8h0.6 M97.5 102.0h0.6 M89.0 99.4h0.6 M60.9 105.2h0.6 M101.2 103.4h0.6 M62.6 110.1h0.6 M65.8 99.8h0.6 M101.0 110.9h0.6 M62.3 109.5h0.6 M93.2 111.6h0.6 M100.4 104.3h0.6 M63.8 97.5h0.6 M89.7 96.0h0.6 M104.2 109.1h0.6 M67.4 100.5h0.6 M76.1 116.8h0.6 M59.5 103.4h0.6 M80.1 114.7h0.6 M57.0 104.5h0.6 M74.3 115.3h0.6 M72.6 113.4h0.6 M63.5 101.7h0.6 M101.5 103.2h0.6 M61.5 108.0h0.6 M61.1 104.3h0.6 M94.9 112.5h0.6 M73.7 114.5h0.6 M81.5 114.2h0.6 M102.8 113.8h0.6 M64.3 100.9h0.6 M62.2 102.6h0.6 M74.4 98.5h0.6 M59.1 108.9h0.6 M60.8 108.0h0.6 M72.2 112.7h0.6 M59.9 105.3h0.6 M65.4 111.2h0.6 M68.0 112.0h0.6 M93.5 100.6h0.6 M58.7 106.9h0.6 M74.8 115.0h0.6 M83.7 99.3h0.6 M95.0 117.4h0.6 M60.8 109.7h0.6 M101.0 110.3h0.6 M77.8 98.0h0.6 M96.6 111.7h0.6 M78.0 94.4h0.6 M92.8 113.4h0.6 M70.1 98.6h0.6 M64.0 100.0h0.6 M58.4 104.9h0.6 M78.4 99.3h0.6 M58.0 108.1h0.6 M85.6 98.2h0.6 M99.7 117.0h0.6 M97.8 97.1h0.6 M63.6 102.3h0.6 M58.8 106.4h0.6 M62.9 110.2h0.6 M85.7 97.3h0.6 M64.2 112.7h0.6 M58.8 109.5h0.6 M74.0 113.8h0.6 M63.4 112.2h0.6 M70.7 113.2h0.6 M86.0 97.9h0.6 M60.3 109.6h0.6 M89.1 113.1h0.6 M62.2 102.3h0.6 M60.1 100.7h0.6 M69.5 115.0h0.6 M93.9 97.1h0.6 M88.5 119.1h0.6 M62.8 109.7h0.6 M98.9 108.6h0.6 M58.5 101.4h0.6 M83.9 99.4h0.6 M59.4 103.7h0.6 M61.4 105.2h0.6 M71.2 98.6h0.6 M63.2 101.4h0.6 M66.1 114.7h0.6 M60.6 104.7h0.6 M98.4 112.0h0.6 M61.2 102.8h0.6 M59.7 101.1h0.6 M57.7 107.3h0.6 M57.6 111.0h0.6 M65.7 116.9h0.6 M61.1 104.5h0.6 M70.9 113.8h0.6 M101.2 104.7h0.6 M98.5 113.4h0.6 M97.6 100.3h0.6 M105.8 105.2h0.6 M96.6 100.4h0.6 M74.5 113.5h0.6 M60.1 105.4h0.6 M89.1 112.5h0.6 M65.6 99.9h0.6 M101.4 105.7h0.6 M65.9 99.4h0.6 M85.8 98.9h0.6 M72.7 112.7h0.6 M72.9 112.9h0.6 M93.6 97.2h0.6 M88.3 115.0h0.6 M59.8 106.4h0.6 M67.7 100.2h0.6 M59.1 104.0h0.6 M63.8 110.1h0.6 M97.1 113.5h0.6 M99.8 114.0h0.6 M97.0 111.1h0.6 M90.3 98.7h0.6 M65.3 101.4h0.6 M99.9 107.0h0.6 M83.6 98.7h0.6 M66.9 113.2h0.6 M90.5 112.3h0.6 M97.0 101.6h0.6 M62.9 102.2h0.6 M64.7 111.6h0.6 M100.2 109.5h0.6 M100.3 103.8h0.6 M61.9 109.3h0.6 M99.6 108.7h0.6 M98.6 102.6h0.6 M97.0 101.2h0.6 M89.2 99.3h0.6 M101.1 103.6h0.6 M60.6 106.5h0.6 M65.0 111.0h0.6 M75.6 99.4h0.6 M95.4 100.2h0.6 M61.2 107.1h0.6 M90.6 113.4h0.6 M66.8 112.7h0.6 M73.7 115.9h0.6 M61.7 102.9h0.6 M64.7 111.6h0.6 M63.8 110.7h0.6 M90.1 99.8h0.6 M68.2 111.8h0.6 M75.2 113.7h0.6 M82.6 115.0h0.6 M68.9 112.4h0.6 M91.8 112.2h0.6 M77.2 113.5h0.6 M91.4 99.3h0.6 M91.6 99.3h0.6 M87.9 99.1h0.6 M76.1 98.7h0.6 M65.5 111.7h0.6 M98.8 103.7h0.6 M61.2 105.9h0.6 M95.2 112.9h0.6 M74.2 99.5h0.6 M61.9 101.2h0.6 M66.8 111.4h0.6 M86.1 114.8h0.6 M95.1 100.1h0.6 M61.1 103.8h0.6 M77.1 113.1h0.6 M68.5 99.6h0.6 M62.4 102.9h0.6 M98.4 110.9h0.6 M90.0 113.2h0.6 M69.2 99.7h0.6 M96.8 111.8h0.6 M60.9 106.2h0.6 M73.5 113.7h0.6 M84.0 113.4h0.6 M94.5 111.5h0.6 M63.5 110.9h0.6 M97.1 101.9h0.6 M95.3 98.3h0.6 M93.8 111.5h0.6 M71.1 99.8h0.6 M69.3 99.7h0.6 M68.7 99.7h0.6 M73.4 99.7h0.6 M66.7 113.7h0.6 M66.4 100.9h0.6 M97.5 101.9h0.6 M77.7 99.4h0.6 M99.3 108.4h0.6 M91.4 112.5h0.6 M65.1 111.7h0.6 M99.8 108.4h0.6 M90.3 114.4h0.6 M92.4 98.5h0.6 M79.4 113.9h0.6 M62.3 109.4h0.6 M100.9 106.3h0.6 M90.9 100.0h0.6 M100.2 108.8h0.6 M92.9 100.3h0.6 M81.3 113.3h0.6 M95.6 111.0h0.6 M98.0 101.8h0.6 M80.2 98.1h0.6 M64.2 111.3h0.6 M79.8 99.0h0.6 M97.9 110.9h0.6 M101.9 102.3h0.6 M72.1 98.8h0.6 M78.3 98.7h0.6 M60.7 108.9h0.6 M99.0 109.0h0.6 M60.3 105.4h0.6 M99.6 102.0h0.6 M101.0 109.0h0.6 M73.7 99.4h0.6 M61.3 103.7h0.6 M100.5 104.3h0.6 M80.4 114.2h0.6 M99.3 109.5h0.6 M87.4 113.9h0.6 M71.8 113.8h0.6 M69.7 99.1h0.6 M82.3 113.1h0.6 M61.0 109.3h0.6 M98.8 102.8h0.6 M95.9 100.7h0.6 M93.9 112.8h0.6 M89.0 99.5h0.6 M62.0 103.8h0.6 M69.6 99.7h0.6 M63.1 101.0h0.6 M90.8 99.6h0.6 M95.5 111.2h0.6 M86.8 114.1h0.6 M98.4 109.2h0.6 M73.4 99.1h0.6 M61.5 109.0h0.6 M61.0 108.0h0.6 M67.1 111.7h0.6 M99.9 106.9h0.6 M99.3 105.7h0.6 M75.4 99.1h0.6 M100.0 105.0h0.6 M61.2 106.9h0.6 M62.2 109.5h0.6 M101.5 106.8h0.6 M98.6 101.8h0.6 M99.8 102.4h0.6 M68.6 100.5h0.6 M94.1 112.6h0.6 M99.6 107.8h0.6 M73.2 115.1h0.6 M89.5 114.4h0.6 M100.0 101.7h0.6 M90.9 112.8h0.6 M78.9 97.6h0.6 M70.1 113.2h0.6 M70.3 114.4h0.6 M66.0 112.2h0.6 M90.7 99.8h0.6 M82.2 114.7h0.6 M66.3 100.8h0.6 M89.7 99.2h0.6 M101.9 102.2h0.6 M60.7 106.6h0.6 M73.5 112.7h0.6 M62.3 101.9h0.6 M91.7 113.2h0.6 M61.9 109.1h0.6 M98.9 108.3h0.6 M61.9 109.3h0.6 M102.1 106.5h0.6 M92.3 99.0h0.6 M61.7 110.3h0.6 M75.3 113.7h0.6 M62.3 110.3h0.6 M68.5 113.6h0.6 M90.3 99.4h0.6 M97.0 101.6h0.6 M61.6 109.2h0.6 M62.2 103.1h0.6 M97.9 110.5h0.6 M69.4 115.3h0.6 M97.6 101.6h0.6 M96.3 97.9h0.6 M65.6 101.0h0.6 M89.1 98.1h0.6 M64.7 101.3h0.6 M73.0 115.5h0.6 M60.3 107.4h0.6 M67.9 100.4h0.6 M96.2 100.5h0.6 M100.1 107.9h0.6 M60.7 109.3h0.6 M97.8 110.5h0.6 M62.7 102.2h0.6 M62.3 110.7h0.6 M64.5 110.8h0.6 M96.4 112.0h0.6 M60.2 103.3h0.6 M96.0 111.5h0.6 M97.3 110.9h0.6 M61.6 104.6h0.6 M61.2 103.2h0.6 M84.0 113.6h0.6 M61.1 105.4h0.6 M63.1 101.8h0.6 M98.4 110.0h0.6 M61.6 109.4h0.6 M75.0 98.6h0.6 M81.6 97.0h0.6 M75.7 97.5h0.6 M96.7 111.1h0.6 M90.9 113.6h0.6 M101.7 103.4h0.6 M94.2 112.5h0.6 M84.4 98.7h0.6 M66.2 111.5h0.6 M100.3 107.2h0.6 M73.3 113.2h0.6 M73.8 97.8h0.6 M65.3 100.6h0.6 M96.5 98.7h0.6 M95.0 100.0h0.6 M90.6 112.3h0.6 M82.6 98.4h0.6 M71.2 99.7h0.6 M66.0 111.7h0.6 M78.1 97.9h0.6 M99.6 108.6h0.6 M63.9 101.2h0.6 M87.8 98.8h0.6 M97.1 112.5h0.6 M79.4 113.9h0.6 M88.9 115.3h0.6 M62.9 102.2h0.6 M95.9 111.5h0.6 M87.2 99.6h0.6 M89.3 113.7h0.6 M71.9 99.6h0.6 M64.7 112.1h0.6 M60.2 103.9h0.6 M72.0 99.0h0.6 M103.6 107.4h0.6 M68.6 112.7h0.6 M95.3 100.0h0.6 M87.4 98.9h0.6 M89.2 99.8h0.6 M70.8 99.2h0.6 M92.2 113.1h0.6 M93.2 98.5h0.6 M64.2 100.8h0.6 M98.0 110.0h0.6 M96.5 101.1h0.6 M63.4 102.0h0.6 M67.2 111.8h0.6 M60.7 108.1h0.6 M67.7 112.2h0.6 M100.8 106.6h0.6 M100.0 107.4h0.6 M61.5 108.3h0.6 M92.7 111.8h0.6 M70.3 100.0h0.6 M60.5 106.2h0.6 M78.2 114.4h0.6 M99.6 103.8h0.6 M101.7 105.6h0.6 M83.6 99.1h0.6 M94.4 100.8h0.6 M66.1 99.9h0.6 M66.9 111.9h0.6 M96.2 99.1h0.6 M98.7 103.0h0.6 M82.6 98.6h0.6 M78.4 98.0h0.6 M68.2 111.9h0.6 M61.9 103.6h0.6 M69.4 112.3h0.6 M70.3 113.7h0.6 M66.8 111.5h0.6 M81.5 113.1h0.6 M94.6 112.8h0.6 M100.7 106.7h0.6 M61.4 109.1h0.6 M62.6 102.9h0.6 M98.9 109.8h0.6 M73.0 113.4h0.6 M60.7 103.2h0.6 M100.1 102.4h0.6 M61.9 101.5h0.6 M98.2 110.3h0.6 M101.5 105.3h0.6 M67.6 111.9h0.6 M95.0 99.8h0.6 M101.6 111.1h0.6 M76.4 113.2h0.6 M78.9 113.8h0.6 M77.4 113.1h0.6 M73.9 99.5h0.6 M87.6 114.2h0.6 M63.9 101.3h0.6 M88.1 114.3h0.6 M77.6 98.1h0.6 M97.8 110.1h0.6 M88.5 99.0h0.6 M94.2 112.4h0.6 M89.7 115.5h0.6 M67.1 100.4h0.6 M97.7 102.5h0.6 M80.1 98.5h0.6 M67.5 99.6h0.6 M68.9 113.0h0.6 M98.7 109.1h0.6 M66.2 101.0h0.6 M68.9 113.6h0.6 M79.0 113.1h0.6 M59.4 108.6h0.6 M62.5 103.1h0.6 M101.7 105.3h0.6 M76.3 99.0h0.6 M70.0 112.8h0.6 M93.3 112.1h0.6 M83.2 97.7h0.6 M62.2 110.2h0.6 M60.7 104.0h0.6 M68.6 99.8h0.6 M64.0 101.4h0.6 M78.8 114.9h0.6 M74.8 99.4h0.6 M71.6 114.6h0.6 M83.9 98.2h0.6 M76.1 113.1h0.6 M61.0 104.9h0.6 M99.6 106.8h0.6 M60.5 107.7h0.6 M66.1 112.9h0.6 M99.7 105.5h0.6 M99.4 111.9h0.6 M99.5 107.8h0.6 M61.0 106.1h0.6 M61.4 103.2h0.6 M65.2 113.5h0.6 M93.1 112.9h0.6 M99.6 101.4h0.6 M92.7 114.6h0.6 M81.6 113.4h0.6 M101.9 104.9h0.6 M68.9 112.0h0.6 M87.5 98.7h0.6 M96.6 101.8h0.6 M95.7 110.8h0.6 M67.7 100.4h0.6 M64.2 110.6h0.6 M62.4 103.1h0.6 M61.8 111.5h0.6 M65.6 100.3h0.6 M84.2 112.9h0.6 M61.9 109.6h0.6 M83.3 113.6h0.6 M66.7 99.5h0.6 M73.4 113.6h0.6 M62.8 103.0h0.6 M92.9 113.9h0.6 M77.3 114.9h0.6 M80.6 99.0h0.6 M69.6 113.0h0.6 M60.9 107.1h0.6 M71.4 99.6h0.6 M63.3 101.3h0.6 M95.4 101.0h0.6 M86.3 113.8h0.6 M84.8 98.8h0.6 M94.3 99.9h0.6 M102.7 105.7h0.6 M73.6 113.3h0.6 M99.2 104.8h0.6 M100.2 106.8h0.6 M78.0 99.1h0.6 M97.4 111.2h0.6 M98.8 111.5h0.6 M68.4 113.5h0.6 M95.8 100.5h0.6 M100.5 104.9h0.6 M86.3 99.4h0.6 M71.8 98.8h0.6 M83.2 113.3h0.6 M62.7 109.5h0.6 M99.5 105.6h0.6 M71.4 112.9h0.6 M61.0 107.0h0.6 M94.2 112.3h0.6 M71.7 99.6h0.6 M92.5 111.9h0.6 M97.0 112.3h0.6 M66.3 114.0h0.6 M68.3 111.9h0.6 M86.0 115.8h0.6 M77.3 99.0h0.6 M76.7 113.4h0.6 M99.0 110.0h0.6 M100.6 108.9h0.6 M62.3 103.5h0.6 M66.0 113.0h0.6 M68.6 100.4h0.6 M60.5 103.6h0.6 M100.1 105.1h0.6 M94.5 100.9h0.6 M70.9 113.6h0.6 M62.4 110.4h0.6 M65.3 111.1h0.6 M61.7 111.5h0.6 M104.6 106.7h0.6 M64.5 101.2h0.6 M65.0 101.4h0.6 M66.1 111.2h0.6 M95.9 111.8h0.6 M92.0 99.8h0.6 M102.5 109.9h0.6 M72.6 99.2h0.6 M60.9 103.4h0.6 M71.7 112.6h0.6 M79.6 99.4h0.6 M93.8 99.0h0.6 M99.5 105.8h0.6 M83.0 114.5h0.6 M64.9 112.1h0.6 M74.7 98.6h0.6 M64.8 101.0h0.6 M70.7 99.5h0.6 M60.7 103.7h0.6 M84.5 113.8h0.6 M97.4 101.7h0.6 M61.3 107.7h0.6 M60.2 107.7h0.6 M84.9 115.0h0.6 M59.8 104.4h0.6 M59.7 104.6h0.6 M82.2 113.4h0.6 M90.5 113.0h0.6 M66.9 100.0h0.6 M91.2 98.1h0.6 M101.0 109.0h0.6 M65.0 111.8h0.6 M96.6 113.3h0.6 M91.9 111.9h0.6 M67.4 112.2h0.6 M88.0 98.4h0.6 M97.1 110.2h0.6 M63.3 111.7h0.6 M62.1 108.7h0.6 M60.9 107.5h0.6 M94.0 114.2h0.6 M70.9 99.2h0.6 M82.5 114.2h0.6 M66.1 111.8h0.6 M100.8 107.4h0.6 M87.2 113.2h0.6 M89.6 112.6h0.6 M75.6 99.4h0.6 M81.8 114.2h0.6 M91.7 98.7h0.6 M93.8 99.8h0.6 M87.7 115.1h0.6 M65.1 100.8h0.6 M65.6 112.2h0.6 M66.6 111.7h0.6 M74.9 99.3h0.6 M67.6 99.8h0.6 M88.7 99.1h0.6 M62.6 102.3h0.6 M99.0 102.0h0.6 M74.3 97.2h0.6 M66.1 111.7h0.6 M99.0 110.1h0.6 M81.4 98.5h0.6 M60.5 106.5h0.6 M96.2 101.9h0.6 M63.9 102.0h0.6 M59.8 108.6h0.6 M63.2 110.2h0.6 M60.7 107.8h0.6 M60.6 106.8h0.6 M60.7 105.4h0.6 M78.6 98.1h0.6 M63.0 111.4h0.6 M61.9 103.5h0.6 M83.3 99.4h0.6 M84.8 113.6h0.6 M97.7 109.9h0.6 M97.5 110.5h0.6 M81.0 99.1h0.6 M71.3 99.8h0.6 M74.7 99.3h0.6 M72.4 99.8h0.6 M60.4 111.6h0.6 M90.0 97.7h0.6 M94.7 100.4h0.6 M60.7 105.1h0.6 M100.8 106.7h0.6 M78.2 113.1h0.6 M72.0 112.6h0.6 M60.4 102.8h0.6 M61.1 105.5h0.6 M72.9 112.8h0.6 M94.4 100.2h0.6 M78.9 115.4h0.6 M87.5 114.5h0.6 M66.0 111.6h0.6 M60.3 108.4h0.6 M66.9 111.6h0.6 M87.6 98.9h0.6 M60.3 102.8h0.6 M99.3 109.0h0.6 M62.9 110.9h0.6 M100.1 116.1h0.6 M106.5 123.3h0.6 M105.5 122.6h0.6 M101.8 110.3h0.6 M98.0 122.5h0.6 M99.0 122.1h0.6 M107.2 115.7h0.6 M102.1 115.4h0.6 M103.4 114.4h0.6 M100.9 115.5h0.6 M105.4 111.7h0.6 M101.9 111.0h0.6 M98.2 112.0h0.6 M104.2 118.9h0.6 M103.1 113.6h0.6 M104.3 113.7h0.6 M105.0 116.4h0.6 M99.5 105.7h0.6 M101.2 121.1h0.6 M107.9 124.6h0.6 M101.4 114.3h0.6 M108.9 115.6h0.6 M110.0 114.7h0.6 M104.3 119.1h0.6 M100.0 115.7h0.6 M101.2 116.1h0.6 M104.5 112.9h0.6 M103.2 113.6h0.6 M99.9 104.1h0.6 M103.1 117.0h0.6 M102.3 121.6h0.6 M106.7 120.5h0.6 M107.5 116.8h0.6 M100.5 112.2h0.6 M101.7 114.6h0.6 M103.0 113.8h0.6 M108.8 104.8h0.6 M105.7 112.2h0.6 M104.6 119.9h0.6 M100.7 111.4h0.6 M104.1 114.6h0.6 M97.7 120.2h0.6 M98.6 115.0h0.6 M105.4 116.3h0.6 M107.2 124.7h0.6 M103.2 113.0h0.6 M103.7 115.1h0.6 M93.4 113.8h0.6 M103.7 126.1h0.6 M102.2 115.3h0.6 M103.8 120.6h0.6 M107.1 122.4h0.6 M109.2 120.9h0.6 M103.8 117.6h0.6 M101.7 116.1h0.6 M97.0 116.7h0.6 M99.1 115.2h0.6 M107.4 114.9h0.6 M108.7 117.2h0.6 M108.2 118.2h0.6 M103.3 120.0h0.6 M101.2 114.6h0.6 M111.5 122.1h0.6 M104.2 124.2h0.6 M103.9 111.4h0.6 M104.9 116.9h0.6 M103.6 114.0h0.6 M99.6 118.3h0.6 M107.5 117.5h0.6 M107.6 119.0h0.6 M100.3 117.5h0.6 M106.5 119.2h0.6 M104.9 117.7h0.6 M108.2 123.7h0.6 M96.9 119.6h0.6 M111.0 112.7h0.6 M98.2 119.6h0.6 M97.6 115.9h0.6 M107.7 122.1h0.6 M106.1 117.7h0.6 M106.7 115.0h0.6 M100.6 117.1h0.6 M103.7 114.4h0.6 M100.6 115.8h0.6 M96.7 114.7h0.6 M102.3 114.8h0.6 M106.5 121.2h0.6 M104.1 115.4h0.6 M97.5 113.9h0.6 M102.5 112.1h0.6 M102.2 111.2h0.6 M103.5 115.5h0.6 M105.4 112.9h0.6 M102.7 117.5h0.6 M107.1 122.2h0.6 M101.4 114.4h0.6 M103.4 118.3h0.6 M105.5 118.2h0.6 M104.6 127.6h0.6 M108.6 112.8h0.6 M100.1 118.6h0.6 M99.7 106.9h0.6 M100.1 110.4h0.6 M107.6 120.4h0.6 M103.1 108.6h0.6 M109.3 117.1h0.6 M103.3 118.5h0.6 M107.0 112.2h0.6 M102.0 113.9h0.6 M102.0 106.0h0.6 M105.3 110.0h0.6 M102.5 108.3h0.6 M99.3 115.3h0.6 M102.2 108.5h0.6 M103.7 112.6h0.6 M106.2 112.7h0.6 M104.3 114.5h0.6 M107.8 111.6h0.6 M107.5 123.5h0.6 M105.0 118.4h0.6 M101.6 118.0h0.6 M96.9 120.2h0.6 M98.2 111.5h0.6 M101.6 122.7h0.6 M101.3 109.6h0.6 M107.1 110.3h0.6 M102.8 117.5h0.6 M96.5 111.8h0.6 M103.7 121.7h0.6 M102.7 108.5h0.6 M106.9 114.1h0.6 M104.9 115.4h0.6 M102.3 111.6h0.6 M99.1 114.9h0.6 M103.6 118.9h0.6 M103.2 124.0h0.6 M100.2 114.9h0.6 M106.3 116.4h0.6 M100.0 112.6h0.6 M96.9 111.7h0.6 M109.0 118.1h0.6 M109.8 114.7h0.6 M105.9 118.3h0.6 M105.5 113.4h0.6 M109.0 123.5h0.6 M95.3 113.6h0.6 M102.1 120.4h0.6 M106.0 112.7h0.6 M105.2 114.7h0.6 M103.0 113.5h0.6 M103.2 116.0h0.6 M111.4 122.5h0.6 M99.2 121.1h0.6 M105.4 119.6h0.6 M108.1 117.1h0.6 M103.6 111.1h0.6 M101.9 125.1h0.6 M104.8 110.4h0.6 M108.5 116.3h0.6 M98.1 123.5h0.6 M102.9 122.0h0.6 M99.7 114.4h0.6 M98.3 117.8h0.6 M104.8 111.8h0.6 M102.5 127.2h0.6 M110.2 115.5h0.6 M99.1 112.4h0.6 M99.7 120.9h0.6 M104.8 109.8h0.6 M102.7 115.0h0.6 M103.6 118.3h0.6 M108.0 110.1h0.6 M108.1 118.7h0.6 M102.1 115.9h0.6 M101.7 122.3h0.6 M100.3 114.4h0.6 M101.6 112.7h0.6 M99.6 116.6h0.6 M107.2 112.7h0.6 M101.7 109.6h0.6 M101.6 126.1h0.6 M98.8 110.9h0.6 M104.3 118.5h0.6 M96.3 115.6h0.6 M102.1 112.1h0.6 M107.7 118.3h0.6 M103.7 113.6h0.6 M101.8 113.7h0.6 M103.6 117.4h0.6 M104.5 120.2h0.6 M109.7 109.6h0.6 M106.1 118.5h0.6 M104.7 114.0h0.6 M104.1 120.6h0.6 M106.2 116.9h0.6 M102.3 119.7h0.6 M105.2 114.0h0.6 M109.9 123.1h0.6 M99.1 121.5h0.6 M96.9 112.8h0.6 M103.8 118.5h0.6 M100.9 111.5h0.6 M97.9 116.3h0.6 M101.5 112.8h0.6 M102.7 125.2h0.6 M100.5 116.8h0.6 M100.4 114.7h0.6 M102.8 114.8h0.6 M102.5 110.5h0.6 M103.2 125.9h0.6 M104.8 119.0h0.6 M108.0 116.1h0.6 M100.0 110.1h0.6 M100.7 122.4h0.6 M106.5 117.0h0.6 M93.8 110.8h0.6 M97.6 113.3h0.6 M101.5 111.9h0.6 M106.6 111.0h0.6 M103.5 120.2h0.6 M102.3 112.0h0.6 M109.9 121.9h0.6 M99.2 117.1h0.6 M95.9 110.5h0.6 M106.7 117.6h0.6 M107.1 116.0h0.6 M97.3 119.3h0.6 M98.8 112.7h0.6 M101.7 120.8h0.6 M106.7 123.9h0.6 M100.5 108.0h0.6 M108.7 119.2h0.6 M100.7 111.4h0.6 M105.6 108.0h0.6 M98.9 108.9h0.6 M95.9 111.7h0.6 M109.1 118.6h0.6 M99.1 111.5h0.6 M104.0 117.5h0.6 M96.3 114.2h0.6 M104.5 118.8h0.6 M104.5 117.6h0.6 M94.2 108.7h0.6 M102.2 112.0h0.6 M102.1 114.8h0.6 M103.0 112.2h0.6 M107.6 113.7h0.6 M106.2 117.5h0.6 M107.3 115.8h0.6 M96.7 116.6h0.6 M109.8 114.6h0.6 M106.0 116.8h0.6 M99.9 114.5h0.6 M103.9 121.5h0.6 M108.3 122.2h0.6 M108.9 122.4h0.6 M102.1 110.7h0.6 M109.2 114.3h0.6 M107.3 114.8h0.6 M102.7 117.2h0.6 M97.3 113.4h0.6 M99.5 115.5h0.6 M99.0 117.9h0.6 M108.7 123.2h0.6 M108.7 112.7h0.6 M105.4 113.6h0.6 M104.4 115.2h0.6 M101.9 117.2h0.6 M99.9 120.2h0.6 M100.0 112.4h0.6 M103.5 118.7h0.6 M102.3 119.0h0.6 M108.4 121.0h0.6 M99.8 117.4h0.6 M108.1 120.9h0.6 M86.7 114.3h0.6 M44.6 99.9h0.6 M120.7 103.2h0.6 M132.9 98.4h0.6 M73.5 89.1h0.6 M95.8 109.0h0.6 M129.4 108.0h0.6 M74.2 91.1h0.6 M78.3 116.4h0.6 M98.3 119.4h0.6 M101.4 105.7h0.6 M95.0 108.1h0.6 M47.8 124.6h0.6 M89.4 94.9h0.6 M89.7 109.3h0.6 M104.6 121.7h0.6 M117.7 96.0h0.6 M34.9 109.2h0.6 M88.5 110.0h0.6 M53.2 101.2h0.6 M85.1 114.2h0.6 M133.9 109.4h0.6 M65.6 80.8h0.6 M106.6 104.8h0.6 M77.6 95.6h0.6 M98.3 86.9h0.6 M83.0 107.5h0.6 M87.6 120.3h0.6 M77.9 107.2h0.6 M101.3 89.5h0.6 M73.1 106.9h0.6 M103.7 97.6h0.6 M100.0 110.3h0.6 M43.9 90.2h0.6 M45.2 107.7h0.6 M85.4 114.0h0.6 M100.4 100.2h0.6 M106.5 115.0h0.6 M91.9 111.4h0.6 M48.7 110.1h0.6 M55.0 93.3h0.6 M71.7 107.7h0.6 M79.0 102.6h0.6 M55.7 108.2h0.6 M62.1 91.0h0.6 M82.6 121.9h0.6 M70.4 94.7h0.6 M114.3 124.7h0.6 M73.1 103.9h0.6 M83.6 117.0h0.6 M91.2 86.5h0.6 M53.2 92.9h0.6 M90.9 107.4h0.6 M124.3 103.3h0.6 M87.9 107.0h0.6 M87.3 122.1h0.6 M112.2 99.6h0.6 M97.2 102.1h0.6 M83.0 107.9h0.6 M80.8 101.1h0.6 M118.6 103.3h0.6 M97.6 124.4h0.6 M95.7 117.3h0.6 M114.5 118.0h0.6 M122.6 90.7h0.6 M128.5 106.5h0.6 M37.3 99.3h0.6 M46.0 106.0h0.6 M43.6 95.3h0.6 M87.6 107.9h0.6 M60.6 103.7h0.6 M77.9 107.0h0.6 M80.1 103.8h0.6 M102.0 88.8h0.6 M68.1 107.6h0.6 M70.4 100.2h0.6 M69.5 108.5h0.6 M111.0 104.2h0.6 M73.7 110.1h0.6 M74.3 85.2h0.6 M86.9 102.1h0.6 M66.2 113.0h0.6 M81.4 100.1h0.6 M80.6 104.9h0.6 M91.1 108.6h0.6 M68.5 92.4h0.6 M53.3 104.7h0.6 M51.9 114.4h0.6 M47.6 86.7h0.6 M75.5 86.9h0.6 M120.5 95.4h0.6 M79.0 103.5h0.6 M60.1 87.0h0.6 M34.3 115.6h0.6 M105.5 129.7h0.6 M44.2 112.3h0.6 M80.0 115.4h0.6 M67.6 114.0h0.6 M102.4 112.8h0.6 M116.0 104.3h0.6 M118.4 98.6h0.6 M121.5 76.3h0.6 M80.6 97.5h0.6 M80.3 117.4h0.6 M98.0 107.2h0.6 M122.3 90.1h0.6 M60.2 122.6h0.6 M88.4 83.6h0.6 M88.7 93.3h0.6 M116.8 118.6h0.6 M66.8 120.3h0.6 M59.7 116.2h0.6 M94.6 104.8h0.6 M45.2 103.2h0.6 M34.6 119.4h0.6 M56.4 79.7h0.6 M94.7 110.2h0.6 M67.8 129.2h0.6 M99.4 106.9h0.6 M64.4 74.0h0.6 M92.1 116.6h0.6 M65.7 90.8h0.6 M79.3 88.0h0.6 M80.5 114.6h0.6 M117.6 109.1h0.6 M85.2 114.4h0.6 M114.9 102.7h0.6" stroke="#111" stroke-width="0.6" fill="none" opacity="0.75"/>
<path d="M99.6 106.2 L99.5 107.4 L99.0 108.4 L98.3 109.3 L97.3 110.1 L96.1 110.8 L94.6 111.5 L92.8 112.0 L90.9 112.5 L88.7 112.8 L86.3 113.1 L83.6 113.2 L80.3 113.3 L77.0 113.2 L74.3 113.1 L71.9 112.8 L69.7 112.5 L67.8 112.0 L66.0 111.5 L64.5 110.8 L63.3 110.1 L62.3 109.3 L61.6 108.4 L61.1 107.4 L61.0 106.2 L61.1 105.0 L61.6 104.0 L62.3 103.1 L63.3 102.3 L64.5 101.6 L66.0 100.9 L67.8 100.4 L69.7 99.9 L71.9 99.6 L74.3 99.3 L77.0 99.2 L80.3 99.1 L83.6 99.2 L86.3 99.3 L88.7 99.6 L90.9 99.9 L92.8 100.4 L94.6 100.9 L96.1 101.6 L97.3 102.3 L98.3 103.1 L99.0 104.0 L99.5 105.0Z" fill="#fff" stroke="#1a1a1a" stroke-width="1.1"/>
<path d="M96.8 106.2 L96.7 107.3 L96.4 108.1 L95.8 108.9 L95.0 109.5 L93.9 110.1 L92.7 110.6 L91.2 111.1 L89.6 111.4 L87.7 111.7 L85.7 111.9 L83.3 112.1 L80.3 112.1 L77.3 112.1 L74.9 111.9 L72.9 111.7 L71.0 111.4 L69.4 111.1 L67.9 110.6 L66.7 110.1 L65.6 109.5 L64.8 108.9 L64.2 108.1 L63.9 107.3 L63.8 106.2 L63.9 105.1 L64.2 104.3 L64.8 103.5 L65.6 102.9 L66.7 102.3 L67.9 101.8 L69.4 101.3 L71.0 101.0 L72.9 100.7 L74.9 100.5 L77.3 100.3 L80.3 100.3 L83.3 100.3 L85.7 100.5 L87.7 100.7 L89.6 101.0 L91.2 101.3 L92.7 101.8 L93.9 102.3 L95.0 102.9 L95.8 103.5 L96.4 104.3 L96.7 105.1Z" fill="#f4f4f4" stroke="#3a3a3a" stroke-width="0.45"/>
<path d="M94.7 106.2 L94.6 107.1 L94.3 107.9 L93.8 108.5 L93.1 109.1 L92.2 109.6 L91.1 110.1 L89.8 110.5 L88.4 110.8 L86.8 111.0 L85.0 111.2 L82.9 111.3 L80.3 111.4 L77.7 111.3 L75.6 111.2 L73.8 111.0 L72.2 110.8 L70.8 110.5 L69.5 110.1 L68.4 109.6 L67.5 109.1 L66.8 108.5 L66.3 107.9 L66.0 107.1 L65.9 106.2 L66.0 105.3 L66.3 104.5 L66.8 103.9 L67.5 103.3 L68.4 102.8 L69.5 102.3 L70.8 101.9 L72.2 101.6 L73.8 101.4 L75.6 101.2 L77.7 101.1 L80.3 101.0 L82.9 101.1 L85.0 101.2 L86.8 101.4 L88.4 101.6 L89.8 101.9 L91.1 102.3 L92.2 102.8 L93.1 103.3 L93.8 103.9 L94.3 104.5 L94.6 105.3Z" fill="#e6e6e6" stroke="#3a3a3a" stroke-width="0.45"/>
<path d="M92.6 106.2 L92.6 107.0 L92.3 107.6 L91.9 108.2 L91.3 108.7 L90.5 109.1 L89.6 109.5 L88.5 109.8 L87.2 110.1 L85.8 110.3 L84.3 110.5 L82.6 110.6 L80.3 110.6 L78.0 110.6 L76.3 110.5 L74.8 110.3 L73.4 110.1 L72.1 109.8 L71.0 109.5 L70.1 109.1 L69.3 108.7 L68.7 108.2 L68.3 107.6 L68.0 107.0 L68.0 106.2 L68.0 105.4 L68.3 104.8 L68.7 104.2 L69.3 103.7 L70.1 103.3 L71.0 102.9 L72.1 102.6 L73.4 102.3 L74.8 102.1 L76.3 101.9 L78.0 101.8 L80.3 101.8 L82.6 101.8 L84.3 101.9 L85.8 102.1 L87.2 102.3 L88.5 102.6 L89.6 102.9 L90.5 103.3 L91.3 103.7 L91.9 104.2 L92.3 104.8 L92.6 105.4Z" fill="#d8d8d8" stroke="#3a3a3a" stroke-width="0.45"/>
<path d="M90.6 106.2 L90.5 106.9 L90.3 107.4 L89.9 107.8 L89.4 108.3 L88.8 108.6 L88.0 109.0 L87.1 109.2 L86.1 109.5 L84.9 109.6 L83.6 109.8 L82.2 109.8 L80.3 109.9 L78.4 109.8 L77.0 109.8 L75.7 109.6 L74.5 109.5 L73.5 109.2 L72.6 109.0 L71.8 108.6 L71.2 108.3 L70.7 107.8 L70.3 107.4 L70.1 106.9 L70.0 106.2 L70.1 105.5 L70.3 105.0 L70.7 104.6 L71.2 104.1 L71.8 103.8 L72.6 103.4 L73.5 103.2 L74.5 102.9 L75.7 102.8 L77.0 102.6 L78.4 102.6 L80.3 102.5 L82.2 102.6 L83.6 102.6 L84.9 102.8 L86.1 102.9 L87.1 103.2 L88.0 103.4 L88.8 103.8 L89.4 104.1 L89.9 104.6 L90.3 105.0 L90.5 105.5Z" fill="#cacaca" stroke="#3a3a3a" stroke-width="0.45"/>
<path d="M88.5 106.2 L88.4 106.7 L88.2 107.1 L87.9 107.5 L87.5 107.8 L87.0 108.1 L86.4 108.4 L85.7 108.6 L84.9 108.8 L84.0 108.9 L82.9 109.0 L81.8 109.1 L80.3 109.1 L78.8 109.1 L77.7 109.0 L76.6 108.9 L75.7 108.8 L74.9 108.6 L74.2 108.4 L73.6 108.1 L73.1 107.8 L72.7 107.5 L72.4 107.1 L72.2 106.7 L72.1 106.2 L72.2 105.7 L72.4 105.3 L72.7 104.9 L73.1 104.6 L73.6 104.3 L74.2 104.0 L74.9 103.8 L75.7 103.6 L76.6 103.5 L77.7 103.4 L78.8 103.3 L80.3 103.3 L81.8 103.3 L82.9 103.4 L84.0 103.5 L84.9 103.6 L85.7 103.8 L86.4 104.0 L87.0 104.3 L87.5 104.6 L87.9 104.9 L88.2 105.3 L88.4 105.7Z" fill="#bcbcbc" stroke="#3a3a3a" stroke-width="0.45"/>
<path d="M86.6 106.2 L86.5 106.6 L86.4 106.9 L86.2 107.1 L85.9 107.3 L85.5 107.5 L85.0 107.7 L84.4 107.9 L83.8 108.0 L83.1 108.1 L82.3 108.2 L81.4 108.2 L80.3 108.2 L79.2 108.2 L78.3 108.2 L77.5 108.1 L76.8 108.0 L76.2 107.9 L75.6 107.7 L75.1 107.5 L74.7 107.3 L74.4 107.1 L74.2 106.9 L74.1 106.6 L74.0 106.2 L74.1 105.8 L74.2 105.5 L74.4 105.3 L74.7 105.1 L75.1 104.9 L75.6 104.7 L76.2 104.5 L76.8 104.4 L77.5 104.3 L78.3 104.2 L79.2 104.2 L80.3 104.2 L81.4 104.2 L82.3 104.2 L83.1 104.3 L83.8 104.4 L84.4 104.5 L85.0 104.7 L85.5 104.9 L85.9 105.1 L86.2 105.3 L86.4 105.5 L86.5 105.8Z" fill="#a2a2a2" stroke="#444" stroke-width="0.4"/>
<line x1="70" y1="106.3" x2="88" y2="106.3" stroke="#fff" stroke-width="1.0" />
<path d="M65.6 214.1h0.6 M74.4 210.8h0.6 M75.0 224.4h0.6 M100.1 218.9h0.6 M69.5 223.2h0.6 M63.6 218.6h0.6 M100.5 216.7h0.6 M85.0 211.0h0.6 M91.6 225.4h0.6 M65.9 222.1h0.6 M73.4 210.1h0.6 M98.7 222.8h0.6 M101.7 214.1h0.6 M105.3 220.7h0.6 M91.6 212.5h0.6 M90.3 208.1h0.6 M72.7 213.2h0.6 M89.6 223.9h0.6 M99.2 213.2h0.6 M64.6 213.8h0.6 M71.6 212.9h0.6 M98.4 222.8h0.6 M103.6 216.9h0.6 M64.1 214.7h0.6 M85.8 224.2h0.6 M93.4 213.4h0.6 M97.0 224.9h0.6 M78.1 212.2h0.6 M94.4 223.1h0.6 M68.4 223.9h0.6 M63.4 217.0h0.6 M88.3 211.6h0.6 M76.6 226.8h0.6 M86.2 227.0h0.6 M89.2 224.1h0.6 M68.1 224.3h0.6 M67.7 210.6h0.6 M100.1 220.7h0.6 M71.7 212.7h0.6 M101.7 219.9h0.6 M63.8 221.3h0.6 M76.6 211.3h0.6 M99.7 223.4h0.6 M92.2 225.5h0.6 M85.0 225.1h0.6 M98.9 221.1h0.6 M66.4 227.0h0.6 M64.5 215.7h0.6 M99.1 221.4h0.6 M62.6 214.5h0.6 M98.9 209.4h0.6 M97.4 223.1h0.6 M101.2 215.0h0.6 M91.5 223.5h0.6 M94.5 213.6h0.6 M79.6 224.8h0.6 M102.9 212.8h0.6 M99.3 221.7h0.6 M64.5 220.3h0.6 M71.4 212.3h0.6 M66.7 226.6h0.6 M60.5 219.5h0.6 M92.4 227.7h0.6 M64.3 217.5h0.6 M105.6 220.3h0.6 M64.2 216.5h0.6 M84.8 227.5h0.6 M71.0 213.5h0.6 M95.2 225.0h0.6 M80.2 208.1h0.6 M96.5 210.1h0.6 M92.4 228.1h0.6 M86.0 228.7h0.6 M101.8 223.6h0.6 M87.1 226.7h0.6 M94.4 223.3h0.6 M89.2 223.5h0.6 M103.0 214.0h0.6 M67.1 221.8h0.6 M99.3 216.0h0.6 M84.8 227.1h0.6 M99.4 215.9h0.6 M61.6 218.8h0.6 M86.6 223.9h0.6 M93.4 210.3h0.6 M57.1 222.2h0.6 M85.7 226.2h0.6 M66.6 221.8h0.6 M71.3 223.2h0.6 M68.7 222.7h0.6 M92.1 223.1h0.6 M67.8 214.5h0.6 M80.6 227.0h0.6 M76.8 212.0h0.6 M94.1 222.7h0.6 M101.0 216.1h0.6 M94.8 225.1h0.6 M64.8 214.3h0.6 M97.5 212.8h0.6 M92.0 223.9h0.6 M64.9 214.1h0.6 M96.7 213.7h0.6 M70.2 210.6h0.6 M78.6 228.7h0.6 M99.5 215.6h0.6 M98.0 214.8h0.6 M98.9 223.7h0.6 M76.8 223.9h0.6 M101.9 216.2h0.6 M63.2 216.6h0.6 M93.9 212.3h0.6 M61.7 217.4h0.6 M95.8 222.3h0.6 M64.1 213.5h0.6 M90.1 207.8h0.6 M90.8 228.0h0.6 M101.5 222.9h0.6 M91.3 225.7h0.6 M74.8 212.9h0.6 M68.4 223.9h0.6 M64.2 217.1h0.6 M80.6 211.9h0.6 M66.8 212.0h0.6 M88.5 212.2h0.6 M105.3 219.0h0.6 M76.5 212.3h0.6 M69.4 211.9h0.6 M88.0 207.4h0.6 M85.2 230.1h0.6 M88.4 226.8h0.6 M62.8 224.1h0.6 M84.7 225.2h0.6 M79.6 210.8h0.6 M84.8 210.1h0.6 M95.1 222.7h0.6 M79.4 225.5h0.6 M101.8 220.3h0.6 M64.7 222.0h0.6 M104.9 224.9h0.6 M64.1 214.2h0.6 M70.0 223.3h0.6 M92.4 226.3h0.6 M61.4 219.4h0.6 M92.5 223.5h0.6 M66.6 225.4h0.6 M92.4 212.3h0.6 M69.0 212.1h0.6 M103.6 215.8h0.6 M88.8 223.8h0.6 M80.9 226.0h0.6 M92.4 209.2h0.6 M97.7 211.4h0.6 M66.7 214.9h0.6 M64.4 216.6h0.6 M78.6 212.6h0.6 M101.0 218.5h0.6 M91.1 223.3h0.6 M84.9 224.0h0.6 M79.6 225.6h0.6 M110.5 220.4h0.6 M102.6 228.1h0.6 M95.4 225.9h0.6 M71.1 225.0h0.6 M66.2 221.4h0.6 M64.5 219.2h0.6 M98.6 221.9h0.6 M94.1 226.5h0.6 M74.8 211.4h0.6 M79.9 224.9h0.6 M69.5 226.3h0.6 M62.7 218.7h0.6 M61.5 214.3h0.6 M102.0 221.3h0.6 M66.0 224.1h0.6 M77.5 212.3h0.6 M90.0 208.5h0.6 M98.7 222.8h0.6 M76.3 212.1h0.6 M88.9 212.4h0.6 M99.3 223.0h0.6 M71.6 212.5h0.6 M89.3 224.1h0.6 M64.5 214.1h0.6 M83.6 226.2h0.6 M80.5 226.6h0.6 M78.2 211.5h0.6 M99.7 219.6h0.6 M76.2 225.4h0.6 M69.4 213.0h0.6 M100.4 212.1h0.6 M88.3 225.2h0.6 M80.1 227.3h0.6 M93.0 223.7h0.6 M93.3 208.9h0.6 M76.7 209.3h0.6 M74.2 224.5h0.6 M74.0 223.5h0.6 M67.4 214.0h0.6 M101.0 223.8h0.6 M93.7 223.9h0.6 M100.8 214.4h0.6 M89.4 225.9h0.6 M98.7 225.3h0.6 M69.8 222.7h0.6 M76.8 209.4h0.6 M97.2 222.6h0.6 M101.2 222.3h0.6 M81.5 225.7h0.6 M72.4 213.0h0.6 M62.8 219.5h0.6 M77.0 212.5h0.6 M63.3 221.0h0.6 M102.2 213.4h0.6 M98.0 223.2h0.6 M63.9 220.3h0.6 M101.5 220.3h0.6 M101.2 217.1h0.6 M64.2 219.8h0.6 M68.4 214.0h0.6 M82.2 211.9h0.6 M85.1 211.8h0.6 M67.4 222.1h0.6 M98.0 222.2h0.6 M76.9 223.8h0.6 M84.7 211.9h0.6 M99.4 221.5h0.6 M95.2 228.6h0.6 M92.0 224.3h0.6 M91.1 223.5h0.6 M70.6 225.3h0.6 M95.5 222.6h0.6 M103.0 228.8h0.6 M80.5 224.1h0.6 M102.9 210.6h0.6 M61.9 219.9h0.6 M76.7 224.6h0.6 M64.0 219.8h0.6 M98.7 226.7h0.6 M89.5 224.9h0.6 M89.9 212.7h0.6 M71.9 223.1h0.6 M63.1 219.8h0.6 M104.0 217.5h0.6 M71.8 226.9h0.6 M91.1 223.3h0.6 M90.8 226.2h0.6 M64.6 222.2h0.6 M62.9 213.8h0.6 M100.0 218.8h0.6 M100.4 211.9h0.6 M102.1 215.3h0.6 M92.3 208.8h0.6 M79.5 225.4h0.6 M69.6 224.2h0.6 M67.8 223.2h0.6 M98.5 214.1h0.6 M64.1 223.1h0.6 M83.1 209.4h0.6 M83.1 228.0h0.6 M102.9 217.5h0.6 M78.9 212.5h0.6 M81.3 228.6h0.6 M69.9 211.1h0.6 M97.6 226.1h0.6 M63.0 216.1h0.6 M69.1 226.2h0.6 M94.5 210.5h0.6 M97.9 227.3h0.6 M98.6 215.7h0.6 M69.4 211.0h0.6 M102.1 221.1h0.6 M63.1 220.6h0.6 M71.4 223.8h0.6 M98.4 209.9h0.6 M87.1 224.9h0.6 M98.6 223.2h0.6 M70.9 227.2h0.6 M85.4 224.6h0.6 M103.4 223.4h0.6 M89.2 225.6h0.6 M61.8 220.5h0.6 M102.7 215.2h0.6 M73.3 226.9h0.6 M61.4 220.1h0.6 M96.9 214.5h0.6 M96.9 212.0h0.6 M64.1 214.5h0.6 M92.4 211.1h0.6 M62.5 217.1h0.6 M95.7 213.9h0.6 M72.0 212.8h0.6 M68.4 224.3h0.6 M99.7 216.3h0.6 M98.9 214.2h0.6 M102.6 220.4h0.6 M77.4 211.6h0.6 M63.8 221.9h0.6 M91.2 211.4h0.6 M87.4 211.7h0.6 M81.1 211.5h0.6 M88.9 211.9h0.6 M107.3 217.4h0.6 M63.4 221.8h0.6 M101.6 213.9h0.6 M88.4 224.4h0.6 M79.2 210.9h0.6 M91.1 226.8h0.6 M72.2 212.6h0.6 M103.3 234.9h0.6 M63.3 214.9h0.6 M88.4 210.6h0.6 M61.4 214.9h0.6 M83.6 211.3h0.6 M100.1 214.2h0.6 M88.5 227.1h0.6 M97.0 214.3h0.6 M99.9 212.4h0.6 M99.3 215.1h0.6 M63.9 215.2h0.6 M89.6 210.2h0.6 M64.9 221.7h0.6 M78.2 224.9h0.6 M64.0 222.4h0.6 M97.4 221.7h0.6 M102.8 218.6h0.6 M81.6 209.9h0.6 M84.0 223.9h0.6 M92.6 226.9h0.6 M66.7 213.9h0.6 M65.9 214.7h0.6 M78.0 212.7h0.6 M76.0 209.7h0.6 M78.4 226.8h0.6 M105.9 222.7h0.6 M100.0 215.5h0.6 M98.7 221.1h0.6 M88.2 212.2h0.6 M63.8 220.1h0.6 M68.8 212.4h0.6 M84.5 212.6h0.6 M82.9 224.3h0.6 M65.7 222.2h0.6 M68.2 214.0h0.6 M86.6 225.3h0.6 M98.5 221.9h0.6 M62.8 217.9h0.6 M91.4 226.6h0.6 M99.9 216.9h0.6 M62.3 219.1h0.6 M88.9 224.7h0.6 M66.3 214.5h0.6 M99.7 221.8h0.6 M75.2 210.9h0.6 M70.3 223.2h0.6 M64.2 222.0h0.6 M65.6 223.8h0.6 M94.6 225.4h0.6 M103.3 218.7h0.6 M93.3 213.2h0.6 M68.1 212.6h0.6 M100.4 213.7h0.6 M75.4 225.1h0.6 M63.7 215.5h0.6 M103.7 214.5h0.6 M96.3 226.4h0.6 M88.3 209.3h0.6 M66.1 214.5h0.6 M101.5 215.0h0.6 M64.1 215.9h0.6 M96.7 223.0h0.6 M96.7 214.5h0.6 M73.1 223.8h0.6 M62.6 219.4h0.6 M96.4 214.5h0.6 M67.6 227.4h0.6 M69.4 213.0h0.6 M63.5 219.4h0.6 M66.6 213.3h0.6 M86.8 212.6h0.6 M66.4 223.5h0.6 M68.2 224.6h0.6 M78.1 225.4h0.6 M72.1 223.7h0.6 M74.2 212.0h0.6 M99.9 219.3h0.6 M89.2 212.1h0.6 M93.4 222.9h0.6 M79.8 224.7h0.6 M79.5 211.8h0.6 M106.3 213.5h0.6 M64.5 215.9h0.6 M98.6 215.1h0.6 M64.5 221.3h0.6 M96.9 209.9h0.6 M65.2 224.8h0.6 M82.7 210.3h0.6 M66.7 214.4h0.6 M98.8 220.5h0.6 M99.2 226.4h0.6 M69.1 213.6h0.6 M96.8 222.9h0.6 M67.1 213.8h0.6 M72.0 211.5h0.6 M100.1 217.2h0.6 M64.5 221.3h0.6 M84.7 225.1h0.6 M105.2 216.1h0.6 M90.9 223.4h0.6 M91.1 224.9h0.6 M79.9 211.1h0.6 M103.9 222.6h0.6 M100.3 219.9h0.6 M64.8 220.8h0.6 M62.5 221.0h0.6 M97.2 212.6h0.6 M66.6 222.6h0.6 M103.5 214.2h0.6 M62.3 214.5h0.6 M94.7 224.0h0.6 M74.0 211.3h0.6 M101.7 218.5h0.6 M61.2 217.2h0.6 M100.8 218.5h0.6 M71.7 211.5h0.6 M65.6 215.4h0.6 M102.8 215.6h0.6 M103.5 215.1h0.6 M73.4 224.8h0.6 M68.4 222.7h0.6 M88.9 207.6h0.6 M87.8 209.6h0.6 M72.3 207.9h0.6 M73.8 223.4h0.6 M66.8 213.4h0.6 M93.7 225.1h0.6 M78.1 226.1h0.6 M104.2 212.0h0.6 M83.3 210.2h0.6 M93.4 223.1h0.6 M100.9 212.4h0.6 M63.1 212.9h0.6 M100.7 223.4h0.6 M86.0 211.2h0.6 M97.2 223.3h0.6 M98.1 210.4h0.6 M80.8 225.3h0.6 M79.1 212.1h0.6 M63.7 218.6h0.6 M78.0 212.0h0.6 M77.5 227.4h0.6 M65.8 226.2h0.6 M104.0 218.0h0.6 M62.7 222.6h0.6 M83.5 210.9h0.6 M63.6 220.4h0.6 M101.6 215.3h0.6 M62.1 219.8h0.6 M96.0 225.9h0.6 M71.2 208.0h0.6 M63.0 216.0h0.6 M80.4 210.7h0.6 M67.1 224.1h0.6 M82.2 224.1h0.6 M64.1 219.3h0.6 M101.5 223.9h0.6 M105.7 221.1h0.6 M61.5 220.4h0.6 M78.9 212.0h0.6 M70.7 224.2h0.6 M94.8 223.3h0.6 M90.4 211.8h0.6 M63.5 218.2h0.6 M70.6 225.7h0.6 M60.5 220.0h0.6 M86.8 212.7h0.6 M87.1 230.0h0.6 M102.9 210.9h0.6 M85.6 208.8h0.6 M66.8 211.1h0.6 M64.5 220.7h0.6 M101.6 225.1h0.6 M73.0 211.3h0.6 M81.1 212.4h0.6 M92.0 210.3h0.6 M101.1 216.1h0.6 M73.8 212.5h0.6 M64.3 215.7h0.6 M94.9 223.5h0.6 M63.0 219.8h0.6 M69.5 222.6h0.6 M65.1 216.0h0.6 M94.5 227.0h0.6 M100.1 210.6h0.6 M106.5 216.5h0.6 M99.1 229.0h0.6 M66.0 224.2h0.6 M64.9 216.2h0.6 M88.0 224.3h0.6 M95.9 223.1h0.6 M63.1 214.7h0.6 M100.1 215.7h0.6 M101.9 215.2h0.6 M67.1 211.0h0.6 M72.1 212.3h0.6 M69.0 223.9h0.6 M101.2 216.5h0.6 M83.0 224.8h0.6 M99.8 218.7h0.6 M64.6 215.9h0.6 M98.6 225.1h0.6 M93.1 211.5h0.6 M102.3 213.3h0.6 M102.2 217.7h0.6 M105.0 218.4h0.6 M107.6 223.0h0.6 M73.2 226.2h0.6 M63.9 214.7h0.6 M96.9 214.6h0.6 M66.7 214.9h0.6 M88.2 224.0h0.6 M90.8 224.0h0.6 M99.6 215.0h0.6 M79.2 226.0h0.6 M72.4 225.2h0.6 M104.0 215.8h0.6 M101.3 222.2h0.6 M92.0 212.0h0.6 M81.3 212.5h0.6 M78.9 225.2h0.6 M71.1 212.0h0.6 M110.3 212.9h0.6 M68.7 213.9h0.6 M70.2 212.1h0.6 M62.6 215.3h0.6 M69.2 223.9h0.6 M94.8 224.0h0.6 M93.9 225.3h0.6 M89.3 210.2h0.6 M94.7 226.9h0.6 M65.5 215.8h0.6 M66.3 221.6h0.6 M98.8 220.6h0.6 M65.9 221.2h0.6 M83.5 228.3h0.6 M90.8 213.1h0.6 M63.6 219.4h0.6 M66.5 223.4h0.6 M86.6 227.9h0.6 M72.1 212.2h0.6 M62.5 218.0h0.6 M99.5 214.5h0.6 M99.5 221.5h0.6 M98.3 221.6h0.6 M70.4 213.0h0.6 M65.3 221.5h0.6 M102.2 214.2h0.6 M83.0 225.1h0.6 M72.4 224.9h0.6 M98.0 214.4h0.6 M93.5 226.1h0.6 M104.2 221.6h0.6 M69.1 211.4h0.6 M93.0 223.7h0.6 M63.9 217.8h0.6 M70.5 226.0h0.6 M77.1 210.8h0.6 M63.0 217.6h0.6 M63.1 221.9h0.6 M70.0 210.3h0.6 M104.1 218.5h0.6 M86.0 225.3h0.6 M98.6 222.2h0.6 M73.7 211.3h0.6 M79.6 223.9h0.6 M72.6 212.9h0.6 M73.7 211.1h0.6 M65.4 221.0h0.6 M64.3 216.3h0.6 M101.1 217.6h0.6 M64.0 218.1h0.6 M63.4 218.8h0.6 M61.6 218.5h0.6 M89.8 211.4h0.6 M92.2 207.4h0.6 M63.1 219.6h0.6 M97.2 224.7h0.6 M73.9 212.2h0.6 M104.1 216.4h0.6 M100.4 220.5h0.6 M100.8 226.3h0.6 M72.0 226.2h0.6 M78.1 211.8h0.6 M70.6 223.5h0.6 M76.6 211.0h0.6 M77.8 226.4h0.6 M100.2 218.4h0.6 M98.1 222.1h0.6 M67.3 210.8h0.6 M94.8 226.2h0.6 M98.9 225.0h0.6 M68.5 222.3h0.6 M99.3 220.0h0.6 M67.1 227.4h0.6 M71.3 228.9h0.6 M98.5 214.1h0.6 M63.4 212.9h0.6 M104.9 215.8h0.6 M62.2 214.1h0.6 M89.9 226.9h0.6 M71.8 223.4h0.6 M66.8 224.7h0.6 M85.8 224.0h0.6 M77.7 226.7h0.6 M66.3 221.2h0.6 M71.6 212.5h0.6 M77.9 226.6h0.6 M85.0 211.5h0.6 M61.2 217.0h0.6 M82.2 226.6h0.6 M68.0 223.3h0.6 M75.9 226.8h0.6 M91.3 210.8h0.6 M64.3 219.0h0.6 M63.7 220.6h0.6 M69.8 223.3h0.6 M82.9 210.8h0.6 M79.5 212.2h0.6 M87.0 211.1h0.6 M70.6 212.4h0.6 M74.1 210.5h0.6 M78.4 226.0h0.6 M100.6 219.9h0.6 M104.5 215.3h0.6 M100.1 216.6h0.6 M88.9 212.6h0.6 M98.8 224.1h0.6 M87.9 212.6h0.6 M67.5 224.5h0.6 M78.6 227.8h0.6 M96.7 214.3h0.6 M94.3 211.7h0.6 M64.7 222.0h0.6 M73.6 224.9h0.6 M92.6 223.3h0.6 M76.9 228.1h0.6 M71.4 225.2h0.6 M94.7 211.6h0.6 M89.9 225.5h0.6 M85.3 211.9h0.6 M97.8 214.0h0.6 M63.3 221.5h0.6 M81.0 225.9h0.6 M102.4 219.5h0.6 M101.9 218.9h0.6 M69.1 222.5h0.6 M72.8 211.4h0.6 M68.8 214.0h0.6 M72.9 212.8h0.6 M67.8 214.2h0.6 M94.8 212.1h0.6 M97.6 214.7h0.6 M63.7 214.2h0.6 M72.5 225.3h0.6 M70.2 213.3h0.6 M66.7 214.0h0.6 M87.0 223.8h0.6 M73.7 225.4h0.6 M98.1 213.8h0.6 M97.7 224.0h0.6 M93.7 213.5h0.6 M83.2 226.0h0.6 M101.1 220.3h0.6 M88.2 212.1h0.6 M85.9 211.0h0.6 M63.8 219.2h0.6 M68.6 222.3h0.6 M85.6 227.2h0.6 M94.4 210.3h0.6 M62.5 215.4h0.6 M99.9 224.6h0.6 M80.4 223.8h0.6 M103.7 217.6h0.6 M99.3 222.9h0.6 M100.2 218.3h0.6 M99.6 223.3h0.6 M64.7 221.3h0.6 M63.7 217.8h0.6 M61.5 217.1h0.6 M101.7 217.1h0.6 M62.3 218.6h0.6 M68.5 223.2h0.6 M96.4 212.9h0.6 M69.2 224.1h0.6 M63.4 214.8h0.6 M76.3 229.1h0.6 M67.3 224.7h0.6 M97.7 223.8h0.6 M71.7 225.5h0.6 M72.2 224.4h0.6 M64.9 222.1h0.6 M101.4 215.8h0.6 M93.5 225.4h0.6 M71.4 212.4h0.6 M65.2 222.8h0.6 M84.6 224.5h0.6 M93.0 210.5h0.6 M68.9 222.4h0.6 M86.3 224.4h0.6 M101.4 216.0h0.6 M61.7 218.4h0.6 M64.2 219.5h0.6 M69.8 212.7h0.6 M75.0 212.8h0.6 M97.6 226.5h0.6 M67.3 213.6h0.6 M73.2 225.9h0.6 M63.7 215.7h0.6 M67.1 213.1h0.6 M95.6 224.0h0.6 M62.3 215.5h0.6 M68.0 213.9h0.6 M86.5 227.4h0.6 M64.1 221.0h0.6 M82.6 210.3h0.6 M65.8 227.2h0.6 M91.6 211.0h0.6 M69.9 211.7h0.6 M102.5 220.3h0.6 M103.6 213.3h0.6 M79.3 224.5h0.6 M94.2 211.4h0.6 M61.2 216.8h0.6 M102.7 219.3h0.6 M92.3 211.5h0.6 M73.0 209.3h0.6 M88.4 224.8h0.6 M96.9 214.4h0.6 M71.8 223.5h0.6 M102.8 222.7h0.6 M97.0 223.8h0.6 M92.7 223.7h0.6 M100.1 213.9h0.6 M102.9 210.8h0.6 M60.9 222.3h0.6 M88.2 211.7h0.6 M91.7 207.4h0.6 M79.4 212.5h0.6 M99.3 214.7h0.6 M62.3 215.1h0.6 M96.5 226.4h0.6 M74.5 209.6h0.6 M64.2 220.2h0.6 M89.5 225.9h0.6 M81.1 212.2h0.6 M91.5 213.2h0.6 M64.7 224.0h0.6 M85.9 225.2h0.6 M65.5 226.9h0.6 M64.0 217.7h0.6 M82.6 212.6h0.6 M81.1 211.3h0.6 M87.8 225.6h0.6 M70.9 223.2h0.6 M64.2 223.5h0.6 M62.1 216.7h0.6 M60.8 220.1h0.6 M64.1 217.8h0.6 M78.0 211.4h0.6 M70.4 223.1h0.6 M78.2 224.8h0.6 M68.5 212.4h0.6 M66.1 215.2h0.6 M86.4 223.9h0.6 M88.2 212.8h0.6 M81.3 225.4h0.6 M65.7 213.3h0.6 M67.3 212.3h0.6 M75.7 226.7h0.6 M94.8 213.0h0.6 M91.5 209.3h0.6 M63.2 221.6h0.6 M92.1 230.0h0.6 M99.7 224.0h0.6 M94.5 224.6h0.6 M86.3 225.6h0.6 M94.7 224.9h0.6 M90.9 225.1h0.6 M64.0 219.4h0.6 M62.7 216.1h0.6 M92.6 212.2h0.6 M101.8 219.2h0.6 M100.2 220.1h0.6 M84.9 210.2h0.6 M86.7 225.2h0.6 M86.5 211.4h0.6 M85.7 228.0h0.6 M65.0 214.9h0.6 M62.9 219.3h0.6 M101.7 222.2h0.6 M95.2 226.4h0.6 M65.1 216.1h0.6 M92.9 212.2h0.6 M96.3 212.3h0.6 M98.3 221.7h0.6 M81.5 226.4h0.6 M81.9 225.4h0.6 M74.9 225.8h0.6 M87.2 212.2h0.6 M78.0 211.6h0.6 M101.4 218.7h0.6 M71.3 225.9h0.6 M86.6 210.5h0.6 M99.9 218.0h0.6 M83.2 212.1h0.6 M64.9 222.5h0.6 M74.0 224.4h0.6 M102.0 222.9h0.6 M64.7 220.8h0.6 M65.1 220.8h0.6 M60.7 219.9h0.6 M93.1 228.6h0.6 M64.7 223.0h0.6 M70.8 211.6h0.6 M65.3 215.0h0.6 M83.0 228.8h0.6 M100.1 222.5h0.6 M66.1 226.1h0.6 M106.8 219.4h0.6 M67.3 212.2h0.6 M61.7 220.1h0.6 M95.8 223.8h0.6 M78.5 209.7h0.6 M88.6 226.3h0.6 M70.3 211.5h0.6 M102.6 219.6h0.6 M66.7 214.4h0.6 M70.7 225.3h0.6 M76.5 226.4h0.6 M87.6 211.7h0.6 M90.3 210.0h0.6 M95.8 222.2h0.6 M99.6 215.2h0.6 M100.0 219.4h0.6 M91.7 226.2h0.6 M65.7 223.4h0.6 M95.2 222.3h0.6 M63.0 216.9h0.6 M64.0 226.2h0.6 M64.9 221.0h0.6 M70.6 229.3h0.6 M70.0 212.8h0.6 M83.0 210.8h0.6 M77.9 224.3h0.6 M64.8 220.4h0.6 M95.7 213.3h0.6 M84.1 210.4h0.6 M78.1 225.5h0.6 M64.1 222.0h0.6 M100.5 215.0h0.6 M64.7 215.5h0.6 M64.4 222.5h0.6 M98.2 214.7h0.6 M74.2 226.8h0.6 M101.3 221.9h0.6 M100.0 214.3h0.6 M77.2 211.7h0.6 M100.9 219.3h0.6 M63.9 219.5h0.6 M101.1 219.1h0.6 M99.6 222.3h0.6 M98.5 222.3h0.6 M96.8 225.7h0.6 M91.3 211.4h0.6 M83.5 224.8h0.6 M94.7 209.4h0.6 M98.3 222.7h0.6 M102.6 214.6h0.6 M95.7 212.0h0.6 M101.0 224.9h0.6 M65.7 214.4h0.6 M77.9 212.3h0.6 M91.2 226.9h0.6 M65.0 220.9h0.6 M74.7 226.8h0.6 M78.4 224.4h0.6 M88.7 212.0h0.6 M64.3 218.4h0.6 M63.4 217.7h0.6 M64.0 218.0h0.6 M64.8 222.5h0.6 M97.3 213.6h0.6 M103.6 208.6h0.6 M102.3 217.5h0.6 M90.1 212.3h0.6 M66.6 213.1h0.6 M66.7 208.3h0.6 M89.7 212.0h0.6 M94.5 213.5h0.6 M90.9 223.5h0.6 M90.5 227.6h0.6 M64.6 219.8h0.6 M71.4 212.6h0.6 M100.7 225.2h0.6 M74.2 212.6h0.6 M102.5 220.9h0.6 M63.5 225.5h0.6 M63.9 222.1h0.6 M80.3 210.4h0.6 M69.7 211.8h0.6 M63.0 217.3h0.6 M92.6 230.8h0.6 M86.1 210.8h0.6 M106.7 217.5h0.6 M83.6 224.9h0.6 M80.7 211.6h0.6 M95.0 207.5h0.6 M95.8 213.7h0.6 M61.0 219.9h0.6 M73.2 226.3h0.6 M94.6 210.1h0.6 M93.1 212.7h0.6 M93.7 224.5h0.6 M65.4 215.4h0.6 M99.2 223.8h0.6 M93.0 223.4h0.6 M94.1 211.8h0.6 M72.2 224.3h0.6 M79.2 225.6h0.6 M65.7 223.4h0.6 M68.5 222.4h0.6 M101.9 219.0h0.6 M102.4 218.2h0.6 M99.5 216.4h0.6 M102.3 219.7h0.6 M97.7 222.5h0.6 M61.8 217.9h0.6 M82.7 225.4h0.6 M64.8 226.9h0.6 M101.0 217.6h0.6 M93.5 212.7h0.6 M101.2 219.4h0.6 M74.0 209.6h0.6 M64.7 216.1h0.6 M63.8 216.3h0.6 M79.5 225.1h0.6 M76.4 212.0h0.6 M65.5 215.2h0.6 M65.1 213.1h0.6 M99.3 214.5h0.6 M71.6 225.9h0.6 M99.1 215.0h0.6 M71.9 223.9h0.6 M75.6 210.3h0.6 M71.4 212.3h0.6 M99.1 215.5h0.6 M62.6 220.4h0.6 M83.6 212.2h0.6 M68.0 213.6h0.6 M89.3 212.9h0.6 M100.2 211.3h0.6 M96.8 224.4h0.6 M71.2 225.0h0.6 M102.7 214.9h0.6 M87.6 212.7h0.6 M67.8 212.1h0.6 M94.5 230.3h0.6 M98.5 221.4h0.6 M64.4 219.1h0.6 M64.7 222.6h0.6 M93.6 212.8h0.6 M86.4 211.2h0.6 M74.8 224.4h0.6 M62.1 218.8h0.6 M62.6 217.8h0.6 M70.4 229.3h0.6 M90.0 229.8h0.6 M71.6 224.1h0.6 M98.8 220.4h0.6 M64.6 221.9h0.6 M104.1 215.7h0.6 M93.7 210.5h0.6 M102.1 219.0h0.6 M68.2 222.3h0.6 M103.3 222.9h0.6 M63.3 216.0h0.6 M65.5 222.7h0.6 M97.1 222.3h0.6 M64.3 212.7h0.6 M100.2 226.2h0.6 M104.0 217.2h0.6 M83.6 208.5h0.6 M71.6 212.3h0.6 M77.6 227.9h0.6 M98.8 212.7h0.6 M82.5 226.1h0.6 M75.8 224.7h0.6 M83.9 211.2h0.6 M63.8 216.1h0.6 M104.7 212.3h0.6 M64.1 214.9h0.6 M103.7 217.6h0.6 M64.8 216.0h0.6 M78.3 209.9h0.6 M64.0 219.3h0.6 M67.6 211.6h0.6 M99.9 215.7h0.6 M102.9 219.2h0.6 M105.2 223.2h0.6 M88.2 209.4h0.6 M88.6 212.2h0.6 M84.0 225.2h0.6 M75.9 211.9h0.6 M63.3 216.7h0.6 M65.7 214.5h0.6 M100.6 215.9h0.6 M82.6 230.2h0.6 M63.1 217.3h0.6 M89.2 211.4h0.6 M93.3 228.1h0.6 M100.4 214.8h0.6 M100.1 219.1h0.6 M102.3 214.1h0.6 M92.9 224.7h0.6 M63.5 215.8h0.6 M100.7 214.2h0.6 M93.3 224.0h0.6 M95.6 223.9h0.6 M63.8 213.8h0.6 M96.3 223.2h0.6 M96.2 225.9h0.6 M90.8 212.3h0.6 M100.7 215.0h0.6 M89.4 212.9h0.6 M94.6 213.8h0.6 M92.8 209.6h0.6 M85.6 210.5h0.6 M67.7 211.7h0.6 M69.9 228.8h0.6 M92.8 211.4h0.6 M73.6 212.3h0.6 M73.4 211.6h0.6 M78.0 226.4h0.6 M81.7 225.2h0.6 M94.1 213.4h0.6 M96.2 214.2h0.6 M71.5 210.4h0.6 M96.1 223.1h0.6 M73.5 227.5h0.6 M97.8 222.4h0.6 M61.2 220.4h0.6 M90.2 212.4h0.6 M70.4 223.7h0.6 M95.9 213.7h0.6 M82.5 211.9h0.6 M97.8 221.9h0.6 M82.6 224.8h0.6 M71.3 212.1h0.6 M63.6 220.7h0.6 M100.8 219.8h0.6 M87.5 211.3h0.6 M77.1 212.2h0.6 M74.8 210.6h0.6 M96.5 224.0h0.6 M77.4 225.1h0.6 M80.3 212.2h0.6 M77.2 225.9h0.6 M95.8 212.0h0.6 M67.1 223.7h0.6 M101.0 213.6h0.6 M65.0 215.3h0.6 M94.2 213.7h0.6 M98.8 223.6h0.6 M64.3 218.1h0.6 M64.6 221.3h0.6 M103.3 217.5h0.6 M92.4 213.1h0.6 M97.1 213.7h0.6 M69.4 213.3h0.6 M80.3 210.0h0.6 M74.2 225.1h0.6 M64.0 217.4h0.6 M62.5 220.0h0.6 M103.0 211.5h0.6 M61.9 219.6h0.6 M104.5 215.5h0.6 M67.9 211.1h0.6 M100.8 207.9h0.6 M105.5 220.3h0.6 M93.6 212.5h0.6 M92.4 211.0h0.6 M86.8 223.7h0.6 M64.5 222.8h0.6 M89.2 225.0h0.6 M102.3 224.6h0.6 M100.1 217.1h0.6 M64.7 222.4h0.6 M62.9 213.6h0.6 M67.5 211.6h0.6 M69.2 223.1h0.6 M64.0 217.3h0.6 M64.1 213.8h0.6 M65.7 221.9h0.6 M70.4 223.4h0.6 M99.0 215.6h0.6 M66.0 214.4h0.6 M82.0 224.2h0.6 M73.5 224.7h0.6 M99.6 217.2h0.6 M65.5 215.7h0.6 M92.6 223.5h0.6 M71.0 223.4h0.6 M84.3 226.6h0.6 M86.4 211.4h0.6 M64.3 216.7h0.6 M101.6 220.7h0.6 M74.3 212.4h0.6 M67.2 223.6h0.6 M75.1 224.6h0.6 M100.7 221.9h0.6 M85.7 224.4h0.6 M99.5 220.1h0.6 M80.0 212.6h0.6 M68.9 213.9h0.6 M84.7 225.3h0.6 M90.3 224.6h0.6 M63.3 220.6h0.6 M77.1 211.7h0.6 M65.9 213.9h0.6 M70.7 212.6h0.6 M89.8 224.7h0.6 M100.5 216.9h0.6 M69.3 212.9h0.6 M97.2 222.1h0.6 M93.0 212.6h0.6 M103.2 219.1h0.6 M86.6 211.9h0.6 M77.7 212.5h0.6 M75.9 212.1h0.6 M75.7 223.8h0.6 M83.7 211.6h0.6 M65.0 214.9h0.6 M66.4 224.5h0.6 M103.4 217.2h0.6 M99.6 219.5h0.6 M63.8 216.0h0.6 M73.6 224.7h0.6 M87.6 224.0h0.6 M83.0 211.3h0.6 M62.7 218.8h0.6 M86.4 224.3h0.6 M63.8 219.6h0.6 M72.3 213.3h0.6 M84.2 211.9h0.6 M79.4 211.8h0.6 M72.4 212.9h0.6 M66.3 214.0h0.6 M78.9 212.4h0.6 M70.9 223.8h0.6 M98.3 222.6h0.6 M65.0 214.7h0.6 M91.1 223.3h0.6 M82.3 212.1h0.6 M93.9 223.7h0.6 M64.0 217.4h0.6 M78.8 226.0h0.6 M77.1 225.7h0.6 M82.0 212.2h0.6 M81.1 225.4h0.6 M99.1 216.1h0.6 M72.6 223.2h0.6 M73.3 223.7h0.6 M97.9 213.6h0.6 M100.3 219.4h0.6 M101.0 219.0h0.6 M96.8 214.6h0.6 M96.5 223.0h0.6 M69.2 222.9h0.6 M82.0 224.4h0.6 M65.5 214.9h0.6 M64.3 217.0h0.6 M85.4 212.5h0.6 M99.0 214.4h0.6 M87.7 211.5h0.6 M72.5 223.7h0.6 M95.6 223.9h0.6 M98.1 222.7h0.6 M98.3 215.2h0.6 M75.7 212.7h0.6 M84.0 226.3h0.6 M70.6 223.3h0.6 M64.1 218.3h0.6 M68.7 213.6h0.6 M65.4 221.3h0.6 M76.9 212.7h0.6 M99.2 219.9h0.6 M93.7 223.5h0.6 M63.8 216.8h0.6 M99.3 223.3h0.6 M68.6 213.9h0.6 M86.5 224.3h0.6 M84.5 210.2h0.6 M71.7 223.5h0.6 M66.6 222.4h0.6 M99.7 216.7h0.6 M96.6 214.0h0.6 M100.6 215.1h0.6 M96.9 223.4h0.6 M81.8 211.2h0.6 M65.8 213.4h0.6 M98.8 223.5h0.6 M86.6 212.5h0.6 M73.7 212.2h0.6 M66.8 221.4h0.6 M98.8 215.4h0.6 M68.0 222.4h0.6 M90.2 211.6h0.6 M75.5 223.8h0.6 M64.4 218.7h0.6 M99.3 222.0h0.6 M64.9 221.6h0.6 M103.8 216.3h0.6 M99.0 222.0h0.6 M76.0 212.6h0.6 M102.1 219.2h0.6 M99.9 214.3h0.6 M90.1 212.4h0.6 M78.0 226.6h0.6 M79.0 224.3h0.6 M103.1 221.0h0.6 M80.2 210.2h0.6 M87.7 225.5h0.6 M71.3 211.8h0.6 M65.8 214.8h0.6 M100.1 215.6h0.6 M100.2 218.4h0.6 M99.9 218.1h0.6 M99.1 224.0h0.6 M79.3 212.1h0.6 M99.8 220.2h0.6 M63.3 218.7h0.6 M95.4 225.3h0.6 M94.7 222.7h0.6 M95.9 213.3h0.6 M83.7 224.3h0.6 M64.1 220.1h0.6 M97.4 213.3h0.6 M61.5 217.4h0.6 M86.7 224.0h0.6 M100.3 219.1h0.6 M96.1 223.3h0.6 M64.2 222.5h0.6 M64.0 219.0h0.6 M95.9 213.5h0.6 M83.5 211.0h0.6 M75.5 223.7h0.6 M64.7 215.8h0.6 M67.0 214.7h0.6 M71.0 223.6h0.6 M91.4 212.0h0.6 M99.1 225.5h0.6 M87.7 225.5h0.6 M81.2 211.6h0.6 M70.6 213.4h0.6 M64.5 215.3h0.6 M99.1 214.5h0.6 M65.7 214.4h0.6 M64.4 218.5h0.6 M96.4 224.2h0.6 M65.1 221.5h0.6 M65.0 215.6h0.6 M69.3 223.4h0.6 M68.7 223.0h0.6 M99.7 216.9h0.6 M78.1 212.6h0.6 M66.5 222.8h0.6 M69.2 222.9h0.6 M83.9 226.5h0.6 M98.8 215.7h0.6 M77.0 224.8h0.6 M98.9 220.6h0.6 M96.7 214.1h0.6 M81.1 224.6h0.6 M75.4 212.5h0.6 M67.2 222.9h0.6 M84.5 224.6h0.6 M95.6 211.4h0.6 M99.2 225.1h0.6 M77.0 211.1h0.6 M64.7 220.0h0.6 M79.3 212.4h0.6 M99.1 221.3h0.6 M63.2 219.6h0.6 M97.8 213.1h0.6 M97.5 222.4h0.6 M66.2 214.6h0.6 M98.7 215.2h0.6 M79.1 212.1h0.6 M71.2 223.5h0.6 M65.6 215.2h0.6 M90.2 211.8h0.6 M90.3 223.6h0.6 M100.2 215.4h0.6 M100.0 215.9h0.6 M97.7 223.5h0.6 M65.8 222.1h0.6 M70.9 224.0h0.6 M101.0 220.0h0.6 M91.9 224.6h0.6 M74.3 225.4h0.6 M63.0 217.3h0.6 M81.2 224.7h0.6 M86.5 212.2h0.6 M92.7 223.1h0.6 M98.7 213.9h0.6 M91.9 223.4h0.6 M87.0 224.4h0.6 M71.6 224.6h0.6 M66.1 222.3h0.6 M63.2 219.5h0.6 M98.3 213.7h0.6 M65.4 221.3h0.6 M100.1 217.1h0.6 M64.2 217.0h0.6 M78.8 224.9h0.6 M95.1 223.5h0.6 M75.3 212.3h0.6 M64.2 220.0h0.6 M90.7 223.5h0.6 M71.8 223.7h0.6 M101.8 218.4h0.6 M76.8 212.4h0.6 M80.4 224.0h0.6 M87.3 224.5h0.6 M72.3 224.5h0.6 M82.3 224.1h0.6 M70.7 223.7h0.6 M87.4 212.3h0.6 M97.6 212.6h0.6 M71.1 213.3h0.6 M92.0 223.4h0.6 M80.6 226.2h0.6 M66.3 214.9h0.6 M65.7 220.9h0.6 M82.7 209.7h0.6 M69.8 225.9h0.6 M80.9 224.8h0.6 M93.8 212.2h0.6 M69.6 223.7h0.6 M96.1 214.2h0.6 M88.7 224.2h0.6 M89.6 211.1h0.6 M73.7 212.9h0.6 M77.6 223.8h0.6 M100.3 217.4h0.6 M100.4 220.4h0.6 M90.1 224.3h0.6 M64.9 221.0h0.6 M92.1 223.6h0.6 M68.8 213.5h0.6 M91.1 224.8h0.6 M95.5 213.5h0.6 M83.4 224.3h0.6 M63.2 217.4h0.6 M78.7 212.5h0.6 M96.7 214.2h0.6 M91.4 213.1h0.6 M99.9 219.1h0.6 M67.1 214.3h0.6 M86.5 212.0h0.6 M93.7 212.8h0.6 M74.1 211.9h0.6 M88.0 211.6h0.6 M66.1 222.0h0.6 M73.1 224.7h0.6 M95.0 223.2h0.6 M96.0 223.5h0.6 M67.2 223.1h0.6 M66.8 221.9h0.6 M88.7 211.9h0.6 M99.1 215.3h0.6 M95.8 212.0h0.6 M64.0 216.5h0.6 M87.1 212.2h0.6 M81.1 224.1h0.6 M97.8 222.3h0.6 M66.3 221.9h0.6 M63.6 216.3h0.6 M88.2 211.7h0.6 M88.2 212.0h0.6 M94.1 223.6h0.6 M83.8 212.3h0.6 M70.9 223.9h0.6 M93.3 223.7h0.6 M90.1 211.8h0.6 M71.4 223.6h0.6 M81.2 211.5h0.6 M96.7 213.2h0.6 M66.0 222.4h0.6 M94.1 213.7h0.6 M68.9 223.8h0.6 M78.4 225.5h0.6 M74.6 224.9h0.6 M98.9 222.2h0.6 M103.7 221.0h0.6 M90.0 211.4h0.6 M64.6 216.5h0.6 M66.4 221.7h0.6 M97.9 215.1h0.6 M97.9 222.9h0.6 M69.4 212.8h0.6 M89.4 211.9h0.6 M102.8 221.6h0.6 M99.8 218.8h0.6 M94.6 225.4h0.6 M64.6 216.8h0.6 M64.1 216.9h0.6 M96.7 214.7h0.6 M63.5 219.3h0.6 M77.8 225.9h0.6 M73.5 212.7h0.6 M75.2 223.7h0.6 M88.6 211.4h0.6 M68.9 223.6h0.6 M64.1 220.5h0.6 M65.2 215.6h0.6 M101.2 216.0h0.6 M102.0 218.7h0.6 M63.5 218.8h0.6 M93.6 212.9h0.6 M77.0 212.0h0.6 M92.1 210.3h0.6 M69.4 211.7h0.6 M99.5 220.2h0.6 M65.6 215.4h0.6 M73.4 223.4h0.6 M99.6 222.1h0.6 M98.1 214.3h0.6 M64.2 220.8h0.6 M74.4 224.4h0.6 M100.5 216.9h0.6 M99.5 216.3h0.6 M101.1 222.7h0.6 M95.5 222.7h0.6 M65.8 221.3h0.6 M102.0 217.3h0.6 M86.5 226.8h0.6 M86.1 224.9h0.6 M98.9 220.5h0.6 M64.2 216.9h0.6 M64.2 215.3h0.6 M66.8 214.5h0.6 M74.0 211.5h0.6 M77.0 211.7h0.6 M77.1 223.9h0.6 M101.7 220.5h0.6 M90.0 223.9h0.6 M95.3 212.0h0.6 M90.7 211.3h0.6 M64.1 218.8h0.6 M80.0 211.9h0.6 M99.7 217.5h0.6 M70.6 222.9h0.6 M70.7 223.3h0.6 M92.8 213.1h0.6 M71.4 223.9h0.6 M74.9 224.1h0.6 M91.8 225.2h0.6 M91.1 212.8h0.6 M101.2 221.8h0.6 M100.3 217.4h0.6 M99.7 215.2h0.6 M100.7 218.1h0.6 M64.0 216.6h0.6 M99.8 219.4h0.6 M98.9 216.0h0.6 M69.0 223.9h0.6 M64.2 214.3h0.6 M96.3 213.0h0.6 M80.9 223.9h0.6 M66.3 221.4h0.6 M98.7 216.0h0.6 M65.6 214.7h0.6 M84.1 224.3h0.6 M99.1 223.1h0.6 M99.9 214.0h0.6 M70.6 223.6h0.6 M97.0 227.1h0.6 M88.9 210.8h0.6 M64.1 220.1h0.6 M102.1 213.4h0.6 M64.5 216.8h0.6 M101.7 217.1h0.6 M79.0 211.7h0.6 M65.2 222.5h0.6 M65.1 215.7h0.6 M94.3 213.1h0.6 M101.9 219.7h0.6 M93.7 223.2h0.6 M98.7 214.8h0.6 M66.5 221.6h0.6 M66.8 214.9h0.6 M97.1 221.6h0.6 M77.0 212.2h0.6 M89.4 212.2h0.6 M94.5 213.2h0.6 M100.4 218.5h0.6 M82.8 211.8h0.6 M100.6 219.2h0.6 M65.7 220.9h0.6 M102.0 217.0h0.6 M87.8 225.7h0.6 M97.2 222.8h0.6 M86.4 227.6h0.6 M72.6 224.5h0.6 M73.7 224.1h0.6 M67.1 221.7h0.6 M75.4 212.1h0.6 M91.0 225.8h0.6 M97.7 222.6h0.6 M98.8 214.5h0.6 M96.4 221.9h0.6 M68.1 223.8h0.6 M96.4 224.1h0.6 M63.5 219.6h0.6 M64.1 219.5h0.6 M64.9 221.7h0.6 M90.6 225.3h0.6 M96.8 214.3h0.6 M101.2 217.9h0.6 M85.9 224.2h0.6 M69.3 213.9h0.6 M74.4 212.2h0.6 M103.1 218.1h0.6 M64.1 221.3h0.6 M70.8 213.1h0.6 M70.9 223.5h0.6 M101.0 217.3h0.6 M64.2 219.3h0.6 M81.1 211.0h0.6 M71.8 211.7h0.6 M100.1 218.3h0.6 M65.7 220.9h0.6 M102.0 219.9h0.6 M88.2 223.9h0.6 M95.7 211.0h0.6 M69.3 224.0h0.6 M68.1 213.7h0.6 M86.1 212.5h0.6 M99.6 218.4h0.6 M96.6 213.2h0.6 M63.6 218.2h0.6 M67.8 214.3h0.6 M89.9 211.3h0.6 M66.9 222.8h0.6 M63.6 217.0h0.6 M100.5 217.7h0.6 M99.9 214.0h0.6 M75.4 212.1h0.6 M95.9 225.3h0.6 M72.8 212.8h0.6 M69.2 213.7h0.6 M98.9 214.6h0.6 M63.8 216.6h0.6 M70.9 223.0h0.6 M102.0 222.5h0.6 M90.0 212.6h0.6 M100.4 218.5h0.6 M78.6 212.4h0.6 M89.5 212.4h0.6 M97.6 224.4h0.6 M102.6 219.1h0.6 M92.0 211.9h0.6 M64.3 217.4h0.6 M98.0 224.7h0.6 M71.5 226.5h0.6 M66.5 221.3h0.6 M85.1 212.2h0.6 M101.9 217.4h0.6 M85.8 210.1h0.6 M99.5 222.3h0.6 M82.1 212.5h0.6 M71.0 223.9h0.6 M101.4 217.5h0.6 M95.3 222.9h0.6 M102.6 218.0h0.6 M64.5 217.3h0.6 M84.6 212.0h0.6 M81.0 211.7h0.6 M75.8 212.2h0.6 M93.4 212.8h0.6 M80.0 211.7h0.6 M65.3 215.4h0.6 M99.1 221.7h0.6 M95.8 222.9h0.6 M99.5 220.4h0.6 M67.2 213.2h0.6 M87.8 224.1h0.6 M67.2 212.9h0.6 M85.4 225.0h0.6 M79.2 224.3h0.6 M110.8 231.0h0.6 M95.0 222.9h0.6 M106.3 228.8h0.6 M102.5 227.3h0.6 M105.0 232.1h0.6 M97.6 231.6h0.6 M98.3 226.4h0.6 M97.0 226.0h0.6 M103.6 226.9h0.6 M108.4 222.9h0.6 M105.4 227.6h0.6 M107.6 232.0h0.6 M104.3 227.1h0.6 M103.3 227.0h0.6 M105.6 230.7h0.6 M103.8 227.0h0.6 M105.1 229.8h0.6 M104.3 231.2h0.6 M103.4 230.4h0.6 M109.8 224.4h0.6 M100.7 222.4h0.6 M105.8 225.6h0.6 M104.9 222.7h0.6 M109.2 232.8h0.6 M104.1 224.9h0.6 M99.7 229.0h0.6 M106.9 228.0h0.6 M98.0 224.8h0.6 M98.4 224.6h0.6 M103.4 228.3h0.6 M109.8 224.2h0.6 M104.3 217.9h0.6 M110.0 227.2h0.6 M106.7 229.2h0.6 M109.7 233.1h0.6 M102.1 218.7h0.6 M102.0 236.0h0.6 M106.3 232.0h0.6 M101.1 224.9h0.6 M103.3 228.6h0.6 M102.8 224.1h0.6 M106.6 228.2h0.6 M98.4 224.1h0.6 M97.0 229.0h0.6 M102.1 224.1h0.6 M101.5 227.3h0.6 M105.0 228.9h0.6 M107.1 227.0h0.6 M104.8 221.1h0.6 M106.2 227.2h0.6 M99.0 226.0h0.6 M105.1 226.3h0.6 M98.6 226.8h0.6 M110.0 227.4h0.6 M106.8 231.8h0.6 M100.5 227.7h0.6 M105.7 223.8h0.6 M101.6 231.0h0.6 M102.8 214.3h0.6 M101.3 221.7h0.6 M99.6 221.9h0.6 M109.9 219.7h0.6 M102.2 224.0h0.6 M99.6 226.8h0.6 M108.1 233.2h0.6 M107.9 232.3h0.6 M100.6 228.9h0.6 M98.8 221.5h0.6 M114.2 219.4h0.6 M102.7 223.5h0.6 M99.6 223.8h0.6 M105.8 223.5h0.6 M103.6 227.7h0.6 M100.4 229.8h0.6 M104.1 228.8h0.6 M102.5 227.6h0.6 M107.3 229.6h0.6 M103.7 231.7h0.6 M100.2 227.8h0.6 M104.3 227.1h0.6 M93.9 227.4h0.6 M105.1 230.7h0.6 M104.9 233.8h0.6 M98.4 230.2h0.6 M105.3 225.9h0.6 M106.5 229.9h0.6 M102.5 230.5h0.6 M106.3 224.1h0.6 M94.0 226.2h0.6 M98.7 224.2h0.6 M103.1 223.0h0.6 M112.3 224.7h0.6 M99.1 228.0h0.6 M109.7 226.8h0.6 M102.8 232.5h0.6 M107.1 236.1h0.6 M103.3 230.1h0.6 M104.3 224.1h0.6 M105.7 231.5h0.6 M105.0 225.7h0.6 M108.8 232.8h0.6 M107.5 227.0h0.6 M101.1 220.2h0.6 M102.9 224.7h0.6 M104.4 223.2h0.6 M102.6 222.0h0.6 M104.7 222.4h0.6 M104.8 229.1h0.6 M102.6 227.4h0.6 M110.7 231.8h0.6 M96.2 226.4h0.6 M107.7 229.3h0.6 M102.4 228.0h0.6 M108.1 235.9h0.6 M100.4 222.6h0.6 M96.1 224.6h0.6 M106.6 223.0h0.6 M110.9 225.9h0.6 M106.2 228.6h0.6 M108.0 229.0h0.6 M99.4 226.3h0.6 M102.2 228.1h0.6 M100.1 222.5h0.6 M105.5 234.9h0.6 M108.1 219.8h0.6 M104.7 226.0h0.6 M102.6 231.0h0.6 M107.1 233.3h0.6 M104.3 224.8h0.6 M95.4 231.0h0.6 M104.6 222.6h0.6 M107.8 227.9h0.6 M97.9 229.1h0.6 M106.2 229.1h0.6 M104.0 226.5h0.6 M101.9 226.3h0.6 M101.2 222.7h0.6 M104.8 224.4h0.6 M104.0 223.9h0.6 M105.1 226.6h0.6 M107.3 227.0h0.6 M106.0 224.5h0.6 M102.9 225.9h0.6 M99.6 228.5h0.6 M108.6 227.9h0.6 M101.7 229.4h0.6 M102.8 220.3h0.6 M105.4 227.5h0.6 M106.4 226.5h0.6 M93.9 222.1h0.6 M108.7 221.8h0.6 M110.2 229.5h0.6 M101.3 222.3h0.6 M107.6 224.3h0.6 M106.2 227.7h0.6 M108.7 229.0h0.6 M96.2 223.8h0.6 M104.0 226.6h0.6 M105.6 224.9h0.6 M107.6 234.9h0.6 M110.3 228.9h0.6 M105.0 222.0h0.6 M103.2 226.7h0.6 M98.4 225.4h0.6 M101.4 221.9h0.6 M106.3 227.7h0.6 M102.1 225.9h0.6 M106.5 227.6h0.6 M102.0 221.5h0.6 M103.3 237.5h0.6 M100.8 226.5h0.6 M96.4 226.9h0.6 M103.2 231.1h0.6 M92.6 226.0h0.6 M101.3 225.6h0.6 M100.3 226.4h0.6 M99.5 230.6h0.6 M107.5 225.3h0.6 M104.8 232.6h0.6 M102.8 222.0h0.6 M100.5 225.4h0.6 M106.1 231.5h0.6 M101.2 227.5h0.6 M101.3 222.0h0.6 M103.5 230.0h0.6 M102.8 217.7h0.6 M105.1 224.5h0.6 M108.8 227.0h0.6 M110.2 224.6h0.6 M100.6 224.3h0.6 M100.5 231.4h0.6 M107.0 229.0h0.6 M101.3 220.5h0.6 M101.8 226.6h0.6 M105.8 229.5h0.6 M108.5 225.4h0.6 M95.2 226.5h0.6 M95.5 227.6h0.6 M100.5 229.8h0.6 M105.4 231.5h0.6 M105.8 223.2h0.6 M106.5 225.2h0.6 M107.9 231.2h0.6 M100.0 228.5h0.6 M106.5 221.2h0.6 M104.5 226.9h0.6 M99.5 222.5h0.6 M99.4 224.2h0.6 M107.4 225.9h0.6 M103.1 221.0h0.6 M105.4 226.5h0.6 M105.2 222.2h0.6 M109.1 230.6h0.6 M107.0 220.1h0.6 M97.0 223.1h0.6 M107.8 227.4h0.6 M102.7 222.9h0.6 M110.9 230.8h0.6 M103.2 226.4h0.6 M108.3 226.7h0.6 M106.7 222.9h0.6 M103.9 224.9h0.6 M101.2 226.7h0.6 M103.9 229.2h0.6 M102.8 227.6h0.6 M98.5 223.5h0.6 M105.7 220.6h0.6 M111.1 227.3h0.6 M95.3 228.3h0.6 M102.4 227.6h0.6 M101.7 224.8h0.6 M107.1 224.1h0.6 M105.0 222.5h0.6 M104.5 233.1h0.6 M100.3 223.1h0.6 M105.4 231.1h0.6 M101.5 224.3h0.6 M107.7 229.5h0.6 M102.3 225.9h0.6 M108.5 237.7h0.6 M106.9 233.8h0.6 M104.1 228.6h0.6 M97.9 231.0h0.6 M103.1 225.5h0.6 M99.4 222.3h0.6 M99.5 230.0h0.6 M101.5 227.6h0.6 M102.0 225.2h0.6 M105.5 235.1h0.6 M99.2 226.8h0.6 M100.2 222.9h0.6 M102.6 231.7h0.6 M106.7 225.7h0.6 M115.1 224.4h0.6 M105.5 221.6h0.6 M110.6 231.3h0.6 M106.5 234.3h0.6 M98.7 223.9h0.6 M101.7 223.8h0.6 M103.1 221.5h0.6 M99.6 219.2h0.6 M105.8 230.9h0.6 M103.5 228.4h0.6 M104.5 220.7h0.6 M100.0 229.3h0.6 M103.9 225.3h0.6 M103.4 233.1h0.6 M99.6 227.8h0.6 M105.1 229.6h0.6 M100.5 224.4h0.6 M107.8 220.1h0.6 M105.7 224.8h0.6 M102.1 227.5h0.6 M103.5 228.4h0.6 M95.9 231.1h0.6 M83.7 209.7h0.6 M73.3 238.7h0.6 M123.8 223.8h0.6 M87.3 215.5h0.6 M113.4 214.3h0.6 M63.5 224.3h0.6 M60.3 211.3h0.6 M114.8 204.2h0.6 M80.6 219.3h0.6 M87.9 205.5h0.6 M76.9 215.3h0.6 M125.5 227.0h0.6 M65.0 225.9h0.6 M96.9 217.2h0.6 M76.6 215.8h0.6 M47.2 212.7h0.6 M103.2 230.8h0.6 M124.0 214.9h0.6 M96.0 197.2h0.6 M76.0 207.2h0.6 M100.7 203.7h0.6 M58.6 208.5h0.6 M91.0 225.5h0.6 M61.3 234.0h0.6 M85.7 210.9h0.6 M90.0 218.1h0.6 M100.9 221.2h0.6 M131.5 228.4h0.6 M67.7 225.1h0.6 M99.3 209.5h0.6 M65.2 211.1h0.6 M77.2 229.0h0.6 M69.5 218.9h0.6 M98.5 226.7h0.6 M89.3 209.1h0.6 M131.9 225.8h0.6 M112.9 232.4h0.6 M113.8 221.8h0.6 M92.8 223.7h0.6 M48.2 225.3h0.6 M60.1 221.9h0.6 M59.3 224.5h0.6 M71.1 240.0h0.6 M86.5 222.6h0.6 M61.7 215.7h0.6 M80.8 215.7h0.6 M72.3 210.6h0.6 M99.3 214.9h0.6 M63.8 221.4h0.6 M63.8 216.7h0.6 M70.6 210.1h0.6 M77.1 211.0h0.6 M53.9 221.3h0.6 M75.5 205.4h0.6 M73.3 219.8h0.6 M91.8 221.5h0.6 M87.9 223.4h0.6 M71.0 211.2h0.6 M96.0 214.6h0.6 M82.4 223.9h0.6 M103.3 228.9h0.6 M66.7 215.0h0.6 M94.7 205.7h0.6 M53.8 223.5h0.6 M68.3 210.2h0.6 M100.3 222.8h0.6 M102.9 215.3h0.6 M75.7 215.2h0.6 M88.9 200.5h0.6 M66.6 224.4h0.6 M64.6 217.6h0.6 M85.0 222.8h0.6 M71.5 208.3h0.6 M138.4 212.0h0.6 M120.7 202.9h0.6 M84.7 216.5h0.6 M124.9 236.0h0.6 M104.2 209.4h0.6 M64.1 211.6h0.6 M70.6 220.5h0.6 M64.5 216.1h0.6 M115.3 230.8h0.6 M40.3 209.9h0.6 M73.8 229.5h0.6 M74.8 234.8h0.6 M90.4 230.7h0.6 M62.9 215.5h0.6 M105.2 223.2h0.6 M40.2 215.8h0.6 M86.3 223.7h0.6 M67.9 233.4h0.6 M85.6 230.8h0.6 M91.3 218.9h0.6 M75.1 208.1h0.6 M101.7 224.8h0.6 M103.2 214.9h0.6 M59.6 214.9h0.6 M75.2 218.1h0.6 M104.3 210.3h0.6 M71.3 224.2h0.6 M102.5 237.5h0.6 M94.1 210.9h0.6 M58.9 211.3h0.6 M83.8 220.4h0.6 M80.7 212.9h0.6 M78.1 217.5h0.6 M95.6 218.9h0.6 M64.1 208.1h0.6 M115.6 217.5h0.6 M78.3 218.0h0.6 M107.6 215.5h0.6 M86.2 216.2h0.6 M95.3 209.4h0.6 M86.8 227.1h0.6 M108.9 223.6h0.6 M88.9 231.9h0.6 M98.1 230.4h0.6 M55.3 208.7h0.6 M100.2 215.9h0.6 M72.6 210.0h0.6 M115.6 207.9h0.6 M84.7 206.1h0.6 M78.4 237.7h0.6 M136.9 213.9h0.6 M59.6 232.4h0.6 M63.1 202.7h0.6 M90.1 208.9h0.6 M49.8 228.0h0.6 M65.9 209.0h0.6 M86.1 216.6h0.6 M107.5 219.0h0.6" stroke="#111" stroke-width="0.6" fill="none" opacity="0.75"/>
<path d="M99.9 218.2 L99.8 219.2 L99.4 220.0 L98.7 220.8 L97.8 221.4 L96.6 222.0 L95.2 222.6 L93.6 223.0 L91.8 223.4 L89.8 223.7 L87.5 223.9 L85.0 224.1 L82.0 224.1 L79.0 224.1 L76.5 223.9 L74.2 223.7 L72.2 223.4 L70.4 223.0 L68.8 222.6 L67.4 222.0 L66.2 221.4 L65.3 220.8 L64.6 220.0 L64.2 219.2 L64.1 218.2 L64.2 217.2 L64.6 216.4 L65.3 215.6 L66.2 215.0 L67.4 214.4 L68.8 213.8 L70.4 213.4 L72.2 213.0 L74.2 212.7 L76.5 212.5 L79.0 212.3 L82.0 212.3 L85.0 212.3 L87.5 212.5 L89.8 212.7 L91.8 213.0 L93.6 213.4 L95.2 213.8 L96.6 214.4 L97.8 215.0 L98.7 215.6 L99.4 216.4 L99.8 217.2Z" fill="#fff" stroke="#1a1a1a" stroke-width="1.1"/>
<path d="M97.3 218.2 L97.2 219.1 L96.9 219.8 L96.3 220.4 L95.6 220.9 L94.6 221.4 L93.5 221.8 L92.1 222.2 L90.6 222.5 L88.9 222.8 L87.0 222.9 L84.8 223.0 L82.0 223.1 L79.2 223.0 L77.0 222.9 L75.1 222.8 L73.4 222.5 L71.9 222.2 L70.5 221.8 L69.4 221.4 L68.4 220.9 L67.7 220.4 L67.1 219.8 L66.8 219.1 L66.7 218.2 L66.8 217.3 L67.1 216.6 L67.7 216.0 L68.4 215.5 L69.4 215.0 L70.5 214.6 L71.9 214.2 L73.4 213.9 L75.1 213.6 L77.0 213.5 L79.2 213.4 L82.0 213.3 L84.8 213.4 L87.0 213.5 L88.9 213.6 L90.6 213.9 L92.1 214.2 L93.5 214.6 L94.6 215.0 L95.6 215.5 L96.3 216.0 L96.9 216.6 L97.2 217.3Z" fill="#f4f4f4" stroke="#3a3a3a" stroke-width="0.45"/>
<path d="M95.4 218.2 L95.3 219.0 L95.0 219.6 L94.5 220.1 L93.9 220.6 L93.0 221.0 L92.0 221.4 L90.8 221.7 L89.5 222.0 L88.0 222.2 L86.3 222.3 L84.5 222.4 L82.0 222.5 L79.5 222.4 L77.7 222.3 L76.0 222.2 L74.5 222.0 L73.2 221.7 L72.0 221.4 L71.0 221.0 L70.1 220.6 L69.5 220.1 L69.0 219.6 L68.7 219.0 L68.6 218.2 L68.7 217.4 L69.0 216.8 L69.5 216.3 L70.1 215.8 L71.0 215.4 L72.0 215.0 L73.2 214.7 L74.5 214.4 L76.0 214.2 L77.7 214.1 L79.5 214.0 L82.0 213.9 L84.5 214.0 L86.3 214.1 L88.0 214.2 L89.5 214.4 L90.8 214.7 L92.0 215.0 L93.0 215.4 L93.9 215.8 L94.5 216.3 L95.0 216.8 L95.3 217.4Z" fill="#e6e6e6" stroke="#3a3a3a" stroke-width="0.45"/>
<path d="M93.4 218.2 L93.4 218.9 L93.1 219.4 L92.7 219.8 L92.1 220.2 L91.4 220.6 L90.6 220.9 L89.6 221.2 L88.4 221.4 L87.1 221.6 L85.7 221.7 L84.1 221.8 L82.0 221.8 L79.9 221.8 L78.3 221.7 L76.9 221.6 L75.6 221.4 L74.4 221.2 L73.4 220.9 L72.6 220.6 L71.9 220.2 L71.3 219.8 L70.9 219.4 L70.6 218.9 L70.6 218.2 L70.6 217.5 L70.9 217.0 L71.3 216.6 L71.9 216.2 L72.6 215.8 L73.4 215.5 L74.4 215.2 L75.6 215.0 L76.9 214.8 L78.3 214.7 L79.9 214.6 L82.0 214.6 L84.1 214.6 L85.7 214.7 L87.1 214.8 L88.4 215.0 L89.6 215.2 L90.6 215.5 L91.4 215.8 L92.1 216.2 L92.7 216.6 L93.1 217.0 L93.4 217.5Z" fill="#d8d8d8" stroke="#3a3a3a" stroke-width="0.45"/>
<path d="M91.5 218.2 L91.4 218.8 L91.2 219.2 L90.9 219.6 L90.4 219.9 L89.8 220.2 L89.1 220.5 L88.3 220.7 L87.3 220.9 L86.3 221.0 L85.1 221.1 L83.7 221.2 L82.0 221.2 L80.3 221.2 L78.9 221.1 L77.7 221.0 L76.7 220.9 L75.7 220.7 L74.9 220.5 L74.2 220.2 L73.6 219.9 L73.1 219.6 L72.8 219.2 L72.6 218.8 L72.5 218.2 L72.6 217.6 L72.8 217.2 L73.1 216.8 L73.6 216.5 L74.2 216.2 L74.9 215.9 L75.7 215.7 L76.7 215.5 L77.7 215.4 L78.9 215.3 L80.3 215.2 L82.0 215.2 L83.7 215.2 L85.1 215.3 L86.3 215.4 L87.3 215.5 L88.3 215.7 L89.1 215.9 L89.8 216.2 L90.4 216.5 L90.9 216.8 L91.2 217.2 L91.4 217.6Z" fill="#cacaca" stroke="#3a3a3a" stroke-width="0.45"/>
<path d="M89.6 218.2 L89.5 218.6 L89.4 219.0 L89.1 219.3 L88.7 219.6 L88.2 219.8 L87.7 220.0 L87.0 220.2 L86.2 220.3 L85.4 220.5 L84.5 220.5 L83.4 220.6 L82.0 220.6 L80.6 220.6 L79.5 220.5 L78.6 220.5 L77.8 220.3 L77.0 220.2 L76.3 220.0 L75.8 219.8 L75.3 219.6 L74.9 219.3 L74.6 219.0 L74.5 218.6 L74.4 218.2 L74.5 217.8 L74.6 217.4 L74.9 217.1 L75.3 216.8 L75.8 216.6 L76.3 216.4 L77.0 216.2 L77.8 216.1 L78.6 215.9 L79.5 215.9 L80.6 215.8 L82.0 215.8 L83.4 215.8 L84.5 215.9 L85.4 215.9 L86.2 216.1 L87.0 216.2 L87.7 216.4 L88.2 216.6 L88.7 216.8 L89.1 217.1 L89.4 217.4 L89.5 217.8Z" fill="#bcbcbc" stroke="#3a3a3a" stroke-width="0.45"/>
<path d="M87.8 218.2 L87.8 218.5 L87.6 218.7 L87.4 219.0 L87.2 219.1 L86.8 219.3 L86.4 219.5 L85.8 219.6 L85.3 219.7 L84.6 219.8 L83.9 219.8 L83.1 219.9 L82.0 219.9 L80.9 219.9 L80.1 219.8 L79.4 219.8 L78.7 219.7 L78.2 219.6 L77.6 219.5 L77.2 219.3 L76.8 219.1 L76.6 219.0 L76.4 218.7 L76.2 218.5 L76.2 218.2 L76.2 217.9 L76.4 217.7 L76.6 217.4 L76.8 217.3 L77.2 217.1 L77.6 216.9 L78.2 216.8 L78.7 216.7 L79.4 216.6 L80.1 216.6 L80.9 216.5 L82.0 216.5 L83.1 216.5 L83.9 216.6 L84.6 216.6 L85.3 216.7 L85.8 216.8 L86.4 216.9 L86.8 217.1 L87.2 217.3 L87.4 217.4 L87.6 217.7 L87.8 217.9Z" fill="#a2a2a2" stroke="#444" stroke-width="0.4"/>
<line x1="75" y1="218" x2="87.5" y2="218" stroke="#fff" stroke-width="1.0" />
<path d="M207.9 221.3h0.6 M206.7 210.7h0.6 M196.1 226.6h0.6 M182.1 207.9h0.6 M174.4 221.8h0.6 M211.7 213.1h0.6 M171.9 215.9h0.6 M175.8 220.8h0.6 M183.6 207.7h0.6 M211.7 211.6h0.6 M193.9 207.6h0.6 M207.9 221.4h0.6 M213.8 224.8h0.6 M205.7 209.9h0.6 M200.2 223.0h0.6 M170.4 218.1h0.6 M204.7 210.0h0.6 M172.4 215.5h0.6 M188.4 208.0h0.6 M205.3 210.5h0.6 M176.4 222.1h0.6 M173.4 217.6h0.6 M185.7 207.9h0.6 M171.7 217.0h0.6 M213.0 217.5h0.6 M174.3 214.1h0.6 M209.8 214.3h0.6 M198.2 224.3h0.6 M204.5 224.5h0.6 M213.1 219.7h0.6 M188.6 225.0h0.6 M184.8 223.2h0.6 M209.2 210.9h0.6 M176.5 211.9h0.6 M210.3 224.8h0.6 M208.2 220.9h0.6 M173.6 213.7h0.6 M175.7 209.5h0.6 M209.0 211.5h0.6 M200.5 224.2h0.6 M185.9 209.5h0.6 M175.4 220.7h0.6 M186.4 228.4h0.6 M174.3 213.3h0.6 M191.0 209.4h0.6 M177.1 210.4h0.6 M176.6 223.8h0.6 M182.0 210.0h0.6 M202.2 223.6h0.6 M183.6 224.2h0.6 M205.0 208.3h0.6 M209.6 214.0h0.6 M212.0 219.1h0.6 M210.3 218.5h0.6 M194.0 207.6h0.6 M215.4 217.2h0.6 M206.1 222.3h0.6 M173.6 218.2h0.6 M180.9 222.6h0.6 M213.9 213.7h0.6 M204.5 207.9h0.6 M212.0 207.8h0.6 M174.2 212.9h0.6 M183.2 223.1h0.6 M196.4 224.7h0.6 M181.5 225.8h0.6 M195.1 205.9h0.6 M210.4 222.2h0.6 M205.6 207.1h0.6 M193.9 223.7h0.6 M184.2 207.3h0.6 M174.6 211.7h0.6 M205.4 223.5h0.6 M216.0 218.1h0.6 M177.1 208.9h0.6 M182.0 223.8h0.6 M170.8 218.3h0.6 M209.2 220.4h0.6 M173.9 215.8h0.6 M190.3 226.9h0.6 M198.0 224.0h0.6 M176.2 225.9h0.6 M205.9 211.3h0.6 M173.4 213.3h0.6 M214.9 217.3h0.6 M207.8 222.7h0.6 M171.2 215.1h0.6 M186.7 223.4h0.6 M208.4 211.9h0.6 M200.8 209.4h0.6 M207.3 210.4h0.6 M207.2 207.3h0.6 M210.0 207.7h0.6 M192.4 225.6h0.6 M199.0 208.8h0.6 M210.0 210.1h0.6 M201.0 203.7h0.6 M175.5 213.0h0.6 M189.6 208.6h0.6 M172.2 216.6h0.6 M173.7 216.0h0.6 M204.1 208.7h0.6 M203.9 209.4h0.6 M171.1 215.7h0.6 M175.5 213.0h0.6 M174.8 219.4h0.6 M210.9 214.6h0.6 M211.9 222.1h0.6 M191.1 223.8h0.6 M198.5 209.2h0.6 M198.7 208.5h0.6 M210.4 212.4h0.6 M175.0 225.9h0.6 M173.2 213.8h0.6 M183.5 209.9h0.6 M189.7 223.6h0.6 M207.6 221.9h0.6 M211.9 213.6h0.6 M182.8 209.1h0.6 M182.1 226.4h0.6 M170.9 214.4h0.6 M197.5 207.6h0.6 M175.4 212.4h0.6 M207.3 224.0h0.6 M182.8 223.0h0.6 M207.7 225.4h0.6 M193.5 223.9h0.6 M209.5 218.8h0.6 M171.9 220.0h0.6 M209.0 225.9h0.6 M191.8 209.0h0.6 M172.9 213.9h0.6 M212.8 215.8h0.6 M212.3 214.8h0.6 M190.3 225.6h0.6 M175.4 220.4h0.6 M182.6 225.8h0.6 M183.1 206.8h0.6 M202.5 227.7h0.6 M173.8 216.1h0.6 M205.2 208.1h0.6 M197.3 207.7h0.6 M195.8 209.2h0.6 M173.5 217.8h0.6 M189.0 225.5h0.6 M173.3 219.1h0.6 M171.0 213.7h0.6 M187.0 226.2h0.6 M188.4 223.9h0.6 M204.1 209.6h0.6 M210.1 211.6h0.6 M209.1 210.9h0.6 M211.0 203.6h0.6 M184.8 224.2h0.6 M208.7 219.7h0.6 M214.5 217.8h0.6 M191.2 227.4h0.6 M203.5 223.2h0.6 M206.0 222.2h0.6 M206.5 222.6h0.6 M208.7 222.5h0.6 M216.8 220.7h0.6 M199.7 207.9h0.6 M184.6 226.2h0.6 M200.9 209.4h0.6 M209.9 214.0h0.6 M196.8 227.5h0.6 M212.5 219.8h0.6 M208.4 221.5h0.6 M181.6 209.6h0.6 M182.6 210.0h0.6 M197.9 226.6h0.6 M207.4 208.8h0.6 M176.8 209.9h0.6 M213.6 221.4h0.6 M171.8 215.4h0.6 M173.7 210.6h0.6 M174.2 214.7h0.6 M187.8 225.2h0.6 M210.3 216.8h0.6 M172.0 215.0h0.6 M198.4 226.7h0.6 M171.7 215.8h0.6 M173.1 218.9h0.6 M172.5 215.8h0.6 M170.3 215.2h0.6 M196.8 209.1h0.6 M190.4 224.7h0.6 M183.4 224.7h0.6 M185.5 225.5h0.6 M210.4 216.3h0.6 M184.9 208.0h0.6 M210.7 211.7h0.6 M213.8 213.2h0.6 M176.4 223.9h0.6 M182.1 225.8h0.6 M204.6 223.2h0.6 M179.2 224.3h0.6 M173.8 218.6h0.6 M214.3 208.9h0.6 M194.6 208.6h0.6 M213.3 217.1h0.6 M198.7 224.2h0.6 M173.1 218.0h0.6 M206.3 223.5h0.6 M192.6 225.7h0.6 M183.9 209.8h0.6 M202.6 209.9h0.6 M192.8 208.3h0.6 M189.7 225.0h0.6 M184.1 206.9h0.6 M178.6 207.2h0.6 M173.2 213.6h0.6 M175.3 220.4h0.6 M213.0 215.0h0.6 M211.8 222.0h0.6 M209.9 214.9h0.6 M191.8 205.8h0.6 M200.6 223.0h0.6 M174.3 213.7h0.6 M208.8 220.7h0.6 M209.8 211.8h0.6 M197.7 208.3h0.6 M207.4 230.1h0.6 M207.2 225.8h0.6 M210.9 223.6h0.6 M198.2 205.6h0.6 M181.2 223.7h0.6 M214.4 220.0h0.6 M172.1 216.0h0.6 M194.2 209.0h0.6 M197.7 225.6h0.6 M203.7 210.3h0.6 M188.3 208.5h0.6 M212.4 219.2h0.6 M194.3 209.2h0.6 M187.5 209.1h0.6 M211.7 219.3h0.6 M179.8 210.8h0.6 M202.5 210.1h0.6 M209.0 210.4h0.6 M179.7 209.1h0.6 M210.6 211.9h0.6 M195.1 207.4h0.6 M171.5 217.3h0.6 M175.7 220.7h0.6 M181.3 223.8h0.6 M183.8 224.1h0.6 M191.4 207.8h0.6 M204.2 208.8h0.6 M209.6 226.0h0.6 M196.4 209.2h0.6 M175.6 223.3h0.6 M174.2 209.0h0.6 M180.6 210.2h0.6 M174.8 212.8h0.6 M174.6 222.3h0.6 M193.0 207.6h0.6 M175.5 213.2h0.6 M212.0 216.2h0.6 M175.1 212.2h0.6 M208.7 221.4h0.6 M186.0 209.3h0.6 M191.0 227.3h0.6 M173.7 217.3h0.6 M211.7 209.7h0.6 M207.7 220.6h0.6 M178.5 211.1h0.6 M172.5 214.3h0.6 M181.8 209.5h0.6 M207.0 208.6h0.6 M198.4 208.4h0.6 M211.0 226.1h0.6 M179.3 225.6h0.6 M197.8 224.6h0.6 M174.9 220.9h0.6 M185.7 207.4h0.6 M211.1 213.6h0.6 M175.6 220.0h0.6 M176.0 220.3h0.6 M214.5 218.5h0.6 M209.8 224.7h0.6 M184.6 226.2h0.6 M210.5 218.3h0.6 M207.6 222.3h0.6 M210.3 222.6h0.6 M168.5 218.5h0.6 M219.8 222.2h0.6 M202.1 226.3h0.6 M211.6 213.9h0.6 M196.3 207.4h0.6 M178.7 223.7h0.6 M211.2 215.0h0.6 M190.7 226.9h0.6 M173.3 220.4h0.6 M175.0 213.3h0.6 M215.9 225.9h0.6 M174.4 222.9h0.6 M173.9 216.1h0.6 M189.6 205.9h0.6 M178.0 221.8h0.6 M177.2 210.7h0.6 M210.8 217.5h0.6 M179.6 223.4h0.6 M189.8 205.5h0.6 M208.3 221.2h0.6 M213.9 212.5h0.6 M203.2 209.4h0.6 M215.3 211.1h0.6 M212.0 218.9h0.6 M196.8 207.2h0.6 M206.3 226.3h0.6 M212.4 222.9h0.6 M184.0 209.6h0.6 M204.1 230.1h0.6 M191.4 226.3h0.6 M202.2 206.5h0.6 M174.3 219.7h0.6 M175.0 220.8h0.6 M208.7 220.2h0.6 M187.4 225.9h0.6 M176.6 225.6h0.6 M209.9 206.8h0.6 M209.0 210.3h0.6 M186.4 208.3h0.6 M174.8 213.2h0.6 M184.1 223.4h0.6 M179.2 210.6h0.6 M180.2 224.9h0.6 M212.2 215.2h0.6 M215.9 215.8h0.6 M216.4 212.2h0.6 M173.0 214.9h0.6 M197.4 209.1h0.6 M173.7 217.4h0.6 M175.4 208.2h0.6 M184.6 208.9h0.6 M174.2 218.7h0.6 M213.1 221.3h0.6 M173.8 225.7h0.6 M205.3 222.8h0.6 M177.2 211.7h0.6 M195.3 224.3h0.6 M212.8 210.7h0.6 M211.0 217.4h0.6 M171.4 217.5h0.6 M174.0 221.2h0.6 M174.0 215.2h0.6 M180.8 224.6h0.6 M203.0 210.5h0.6 M199.9 209.1h0.6 M171.8 216.6h0.6 M203.7 209.2h0.6 M211.8 217.4h0.6 M169.2 217.3h0.6 M210.9 212.1h0.6 M175.8 221.3h0.6 M192.6 209.5h0.6 M172.1 215.2h0.6 M216.1 220.5h0.6 M203.1 233.2h0.6 M205.4 223.4h0.6 M189.4 224.1h0.6 M211.3 211.8h0.6 M210.1 217.6h0.6 M204.7 208.5h0.6 M209.8 223.2h0.6 M216.7 213.9h0.6 M200.1 207.2h0.6 M196.6 224.4h0.6 M205.7 221.8h0.6 M172.8 211.5h0.6 M205.1 222.0h0.6 M209.5 212.4h0.6 M192.9 204.4h0.6 M211.5 215.0h0.6 M197.8 223.3h0.6 M178.0 210.3h0.6 M173.9 210.3h0.6 M173.9 214.8h0.6 M182.8 225.8h0.6 M217.1 221.6h0.6 M171.9 217.5h0.6 M172.8 221.0h0.6 M204.3 207.4h0.6 M172.1 210.7h0.6 M173.8 210.2h0.6 M181.3 223.2h0.6 M207.7 221.8h0.6 M208.8 212.6h0.6 M212.9 211.4h0.6 M174.2 209.3h0.6 M191.2 208.3h0.6 M209.5 220.9h0.6 M190.8 208.5h0.6 M174.8 213.5h0.6 M189.7 223.9h0.6 M175.2 208.8h0.6 M191.6 208.6h0.6 M172.7 219.6h0.6 M173.2 220.8h0.6 M209.4 208.6h0.6 M185.6 223.6h0.6 M212.6 217.1h0.6 M183.8 209.7h0.6 M213.3 216.0h0.6 M187.4 208.2h0.6 M205.3 206.7h0.6 M206.2 224.6h0.6 M188.3 224.9h0.6 M176.4 223.6h0.6 M186.0 223.8h0.6 M212.8 221.0h0.6 M184.2 207.7h0.6 M177.0 221.2h0.6 M205.4 222.2h0.6 M214.3 218.1h0.6 M195.4 224.6h0.6 M173.7 215.0h0.6 M209.6 214.5h0.6 M209.4 208.7h0.6 M172.8 215.9h0.6 M173.0 214.1h0.6 M213.1 212.0h0.6 M183.2 209.3h0.6 M201.1 209.5h0.6 M181.8 226.5h0.6 M212.8 214.0h0.6 M193.0 207.6h0.6 M196.9 207.8h0.6 M213.5 221.1h0.6 M187.4 209.0h0.6 M179.6 225.2h0.6 M176.4 223.1h0.6 M182.9 208.6h0.6 M173.1 214.9h0.6 M173.2 217.5h0.6 M186.7 225.0h0.6 M176.9 221.6h0.6 M211.6 215.0h0.6 M173.8 216.3h0.6 M213.7 218.7h0.6 M177.2 222.0h0.6 M210.6 215.3h0.6 M175.9 212.3h0.6 M192.7 223.7h0.6 M181.3 223.4h0.6 M173.0 217.5h0.6 M188.5 227.1h0.6 M172.9 215.3h0.6 M192.0 208.9h0.6 M180.9 210.0h0.6 M173.8 217.5h0.6 M177.1 227.0h0.6 M203.7 210.2h0.6 M215.5 217.1h0.6 M202.4 207.6h0.6 M173.3 216.7h0.6 M178.5 222.1h0.6 M176.7 209.1h0.6 M210.2 219.6h0.6 M186.2 229.2h0.6 M185.6 225.4h0.6 M210.8 213.3h0.6 M211.8 215.3h0.6 M202.3 224.3h0.6 M174.3 219.5h0.6 M209.7 208.4h0.6 M210.1 220.7h0.6 M184.4 223.3h0.6 M206.8 224.3h0.6 M188.6 208.8h0.6 M213.5 213.9h0.6 M179.9 210.6h0.6 M208.7 226.2h0.6 M209.4 208.7h0.6 M206.6 225.1h0.6 M184.0 206.3h0.6 M194.2 206.8h0.6 M212.0 218.1h0.6 M189.9 209.0h0.6 M213.2 216.8h0.6 M189.1 206.8h0.6 M179.3 222.0h0.6 M181.4 225.0h0.6 M175.5 226.4h0.6 M196.6 226.4h0.6 M175.0 219.4h0.6 M183.9 224.1h0.6 M168.5 219.3h0.6 M205.4 208.7h0.6 M199.2 208.3h0.6 M209.9 214.9h0.6 M203.3 206.3h0.6 M211.7 210.7h0.6 M177.2 221.9h0.6 M213.5 217.1h0.6 M210.6 216.5h0.6 M213.1 215.9h0.6 M218.2 218.3h0.6 M179.4 222.7h0.6 M181.4 207.6h0.6 M170.8 217.5h0.6 M193.9 207.3h0.6 M170.7 218.2h0.6 M172.6 216.9h0.6 M170.8 218.4h0.6 M189.7 209.2h0.6 M181.8 223.0h0.6 M181.9 208.5h0.6 M175.2 224.8h0.6 M196.5 206.4h0.6 M177.1 222.5h0.6 M176.0 210.9h0.6 M218.0 220.1h0.6 M211.0 220.6h0.6 M214.7 205.1h0.6 M187.6 206.6h0.6 M187.7 209.6h0.6 M208.7 224.1h0.6 M205.9 208.0h0.6 M197.1 226.6h0.6 M172.1 216.6h0.6 M173.9 217.2h0.6 M171.7 219.5h0.6 M210.5 215.1h0.6 M209.7 210.9h0.6 M175.5 224.0h0.6 M174.4 210.4h0.6 M184.9 224.7h0.6 M182.2 208.0h0.6 M171.4 217.0h0.6 M179.1 209.6h0.6 M210.1 216.8h0.6 M210.6 209.0h0.6 M201.9 209.7h0.6 M212.2 207.0h0.6 M174.1 224.2h0.6 M188.5 208.6h0.6 M174.3 221.1h0.6 M178.4 222.9h0.6 M204.7 208.5h0.6 M215.3 222.0h0.6 M174.9 213.5h0.6 M179.4 210.1h0.6 M209.0 207.5h0.6 M176.9 222.6h0.6 M191.8 223.5h0.6 M204.8 209.0h0.6 M178.8 209.6h0.6 M201.3 225.8h0.6 M175.7 212.9h0.6 M201.2 225.6h0.6 M190.0 224.1h0.6 M190.3 207.4h0.6 M191.9 207.0h0.6 M175.4 224.9h0.6 M174.1 213.7h0.6 M175.1 212.3h0.6 M210.8 210.1h0.6 M215.2 217.3h0.6 M176.1 221.0h0.6 M210.5 210.3h0.6 M213.1 217.3h0.6 M177.0 209.8h0.6 M202.5 208.5h0.6 M206.0 223.2h0.6 M191.7 225.4h0.6 M211.9 219.0h0.6 M173.3 214.7h0.6 M210.2 213.0h0.6 M177.6 223.0h0.6 M178.7 209.5h0.6 M205.8 225.7h0.6 M214.7 220.2h0.6 M206.5 224.0h0.6 M210.0 219.1h0.6 M209.3 212.5h0.6 M184.1 208.9h0.6 M212.2 220.4h0.6 M211.7 223.0h0.6 M212.4 209.3h0.6 M192.6 207.7h0.6 M172.0 215.7h0.6 M180.1 208.9h0.6 M202.2 210.3h0.6 M184.4 226.2h0.6 M212.7 213.9h0.6 M179.8 224.4h0.6 M197.7 224.5h0.6 M180.0 222.5h0.6 M172.9 218.0h0.6 M186.5 227.2h0.6 M208.3 223.4h0.6 M172.9 217.4h0.6 M182.0 207.7h0.6 M196.1 223.7h0.6 M181.6 224.7h0.6 M209.8 209.2h0.6 M175.1 223.0h0.6 M173.9 218.9h0.6 M213.0 212.8h0.6 M209.1 221.7h0.6 M203.6 209.6h0.6 M185.1 224.0h0.6 M184.5 209.9h0.6 M173.1 215.6h0.6 M190.9 206.5h0.6 M190.0 223.5h0.6 M214.3 220.6h0.6 M209.5 213.1h0.6 M177.9 224.2h0.6 M213.7 223.1h0.6 M207.4 222.9h0.6 M208.4 221.9h0.6 M198.2 207.2h0.6 M172.4 223.0h0.6 M183.1 223.4h0.6 M172.6 214.1h0.6 M201.0 208.6h0.6 M185.9 209.1h0.6 M172.6 216.1h0.6 M174.3 214.2h0.6 M199.9 209.7h0.6 M172.6 219.9h0.6 M171.9 212.6h0.6 M190.4 209.3h0.6 M212.0 210.0h0.6 M210.1 219.7h0.6 M178.8 210.2h0.6 M196.6 224.9h0.6 M201.3 223.1h0.6 M172.4 213.9h0.6 M211.1 217.3h0.6 M174.2 214.9h0.6 M210.6 219.9h0.6 M204.3 223.8h0.6 M173.7 218.6h0.6 M202.5 223.2h0.6 M180.8 227.5h0.6 M209.9 220.6h0.6 M180.6 210.5h0.6 M193.3 205.2h0.6 M204.0 222.9h0.6 M187.2 206.1h0.6 M205.4 207.7h0.6 M171.3 221.3h0.6 M178.1 221.8h0.6 M191.0 225.2h0.6 M204.4 222.5h0.6 M209.6 212.6h0.6 M213.0 214.6h0.6 M184.2 209.1h0.6 M179.1 222.3h0.6 M185.9 225.8h0.6 M211.0 214.8h0.6 M188.4 228.7h0.6 M210.5 221.1h0.6 M197.5 208.1h0.6 M202.6 209.2h0.6 M172.9 221.1h0.6 M209.5 213.6h0.6 M212.1 211.5h0.6 M188.5 207.4h0.6 M179.4 208.1h0.6 M193.9 209.0h0.6 M199.5 224.0h0.6 M174.2 214.1h0.6 M208.4 222.5h0.6 M213.2 216.1h0.6 M189.4 208.4h0.6 M175.1 220.2h0.6 M175.3 210.2h0.6 M181.1 226.5h0.6 M212.8 218.3h0.6 M178.9 208.6h0.6 M199.3 208.5h0.6 M202.3 206.9h0.6 M209.0 225.3h0.6 M208.9 221.8h0.6 M202.6 224.3h0.6 M211.0 212.5h0.6 M187.4 226.4h0.6 M209.3 213.4h0.6 M184.0 226.2h0.6 M173.6 212.4h0.6 M213.4 212.3h0.6 M172.5 213.5h0.6 M210.4 219.0h0.6 M209.8 225.0h0.6 M179.4 210.0h0.6 M201.8 208.1h0.6 M202.6 210.4h0.6 M172.3 214.1h0.6 M214.6 215.2h0.6 M210.2 221.3h0.6 M208.4 211.2h0.6 M181.3 210.2h0.6 M198.9 223.3h0.6 M204.6 227.2h0.6 M211.8 209.6h0.6 M210.0 215.5h0.6 M200.1 205.3h0.6 M209.9 213.1h0.6 M184.5 208.3h0.6 M185.7 208.8h0.6 M178.5 222.9h0.6 M206.3 224.8h0.6 M171.5 218.4h0.6 M197.7 226.1h0.6 M212.4 211.8h0.6 M179.0 209.5h0.6 M199.5 225.8h0.6 M176.7 210.4h0.6 M202.5 228.6h0.6 M177.8 211.1h0.6 M193.2 226.3h0.6 M215.7 221.4h0.6 M172.0 218.0h0.6 M210.3 216.7h0.6 M208.4 222.5h0.6 M185.8 225.6h0.6 M173.9 219.2h0.6 M201.6 209.9h0.6 M193.6 208.9h0.6 M211.0 221.6h0.6 M181.9 226.8h0.6 M173.6 216.1h0.6 M205.4 207.4h0.6 M209.5 218.8h0.6 M205.2 222.6h0.6 M208.2 211.1h0.6 M220.5 223.3h0.6 M174.5 222.1h0.6 M174.2 213.5h0.6 M181.6 223.2h0.6 M178.9 222.1h0.6 M183.8 206.6h0.6 M203.5 229.4h0.6 M201.9 224.4h0.6 M177.2 227.3h0.6 M218.1 219.2h0.6 M183.7 207.7h0.6 M203.0 209.7h0.6 M209.5 222.3h0.6 M193.0 208.5h0.6 M186.9 208.7h0.6 M194.3 208.9h0.6 M184.7 206.9h0.6 M211.5 213.2h0.6 M193.0 225.3h0.6 M189.1 227.8h0.6 M209.9 210.3h0.6 M172.1 210.4h0.6 M214.6 214.2h0.6 M177.1 223.9h0.6 M171.3 219.5h0.6 M174.3 221.4h0.6 M207.6 211.5h0.6 M206.4 225.6h0.6 M201.6 223.0h0.6 M174.9 212.9h0.6 M176.3 209.5h0.6 M172.6 213.5h0.6 M183.1 208.6h0.6 M211.6 217.9h0.6 M203.1 223.5h0.6 M176.1 211.7h0.6 M176.9 223.2h0.6 M204.0 205.8h0.6 M213.2 213.8h0.6 M210.8 215.7h0.6 M194.0 209.2h0.6 M172.4 214.9h0.6 M205.9 206.3h0.6 M181.3 208.1h0.6 M175.3 211.4h0.6 M175.6 221.4h0.6 M186.7 206.7h0.6 M206.7 210.1h0.6 M215.5 225.2h0.6 M199.5 224.0h0.6 M200.6 208.5h0.6 M211.5 217.4h0.6 M175.0 220.2h0.6 M210.7 217.3h0.6 M186.2 226.4h0.6 M190.8 226.4h0.6 M174.2 222.6h0.6 M186.8 225.3h0.6 M179.1 223.6h0.6 M175.5 219.9h0.6 M191.5 208.8h0.6 M180.7 222.4h0.6 M175.3 213.1h0.6 M173.3 212.9h0.6 M178.1 223.5h0.6 M215.3 222.6h0.6 M210.4 210.3h0.6 M173.3 213.8h0.6 M173.6 222.4h0.6 M182.0 226.3h0.6 M211.2 220.4h0.6 M173.8 209.9h0.6 M192.8 208.1h0.6 M184.0 208.9h0.6 M174.5 212.8h0.6 M180.8 223.1h0.6 M183.9 208.2h0.6 M197.4 208.2h0.6 M208.0 222.6h0.6 M184.3 208.6h0.6 M185.6 224.0h0.6 M188.0 208.1h0.6 M186.5 208.0h0.6 M210.6 220.5h0.6 M199.5 209.8h0.6 M170.8 217.4h0.6 M173.5 219.8h0.6 M191.6 209.2h0.6 M171.7 219.3h0.6 M172.0 214.2h0.6 M213.7 215.1h0.6 M174.3 214.7h0.6 M210.6 219.7h0.6 M175.2 212.4h0.6 M188.6 225.6h0.6 M186.2 225.2h0.6 M202.5 224.8h0.6 M212.1 222.5h0.6 M211.9 214.7h0.6 M187.4 224.5h0.6 M176.0 225.9h0.6 M207.3 221.2h0.6 M174.7 212.5h0.6 M179.4 223.3h0.6 M172.2 220.2h0.6 M171.8 218.0h0.6 M212.6 221.7h0.6 M172.4 221.0h0.6 M177.3 221.5h0.6 M180.2 210.4h0.6 M183.4 208.5h0.6 M205.1 209.2h0.6 M189.9 225.8h0.6 M174.5 213.8h0.6 M175.3 223.1h0.6 M183.4 206.4h0.6 M212.2 216.4h0.6 M177.8 223.7h0.6 M206.9 208.7h0.6 M202.5 226.2h0.6 M174.0 214.2h0.6 M175.7 225.9h0.6 M212.3 213.2h0.6 M174.1 213.7h0.6 M210.7 212.2h0.6 M172.2 211.9h0.6 M176.4 209.9h0.6 M178.0 208.7h0.6 M179.9 209.8h0.6 M171.1 214.5h0.6 M181.5 226.9h0.6 M183.2 209.9h0.6 M203.0 209.6h0.6 M212.7 213.2h0.6 M208.8 211.3h0.6 M172.1 216.4h0.6 M214.8 220.4h0.6 M174.7 210.9h0.6 M174.2 218.3h0.6 M176.6 221.2h0.6 M191.8 225.4h0.6 M176.5 211.1h0.6 M208.0 211.1h0.6 M211.0 217.4h0.6 M203.6 207.7h0.6 M210.5 218.3h0.6 M213.2 225.9h0.6 M209.3 218.9h0.6 M181.8 225.8h0.6 M196.0 224.0h0.6 M178.0 207.8h0.6 M214.4 225.4h0.6 M185.5 224.9h0.6 M197.3 224.8h0.6 M210.8 218.4h0.6 M191.0 208.0h0.6 M200.0 209.8h0.6 M175.9 212.3h0.6 M205.1 208.4h0.6 M173.7 221.0h0.6 M201.9 207.8h0.6 M173.6 216.8h0.6 M173.1 218.3h0.6 M204.0 206.9h0.6 M179.8 208.9h0.6 M194.5 209.4h0.6 M208.6 225.9h0.6 M174.3 214.7h0.6 M180.5 226.2h0.6 M202.2 223.2h0.6 M174.6 210.2h0.6 M206.9 221.9h0.6 M209.9 215.0h0.6 M202.8 229.1h0.6 M187.4 207.4h0.6 M184.6 207.8h0.6 M174.5 221.9h0.6 M173.6 218.4h0.6 M186.7 207.2h0.6 M180.1 226.5h0.6 M207.0 211.0h0.6 M175.8 212.0h0.6 M193.6 225.2h0.6 M188.2 209.1h0.6 M190.0 209.1h0.6 M211.2 219.5h0.6 M173.7 211.3h0.6 M173.2 213.6h0.6 M210.6 212.4h0.6 M203.0 206.9h0.6 M173.8 216.0h0.6 M185.7 209.1h0.6 M181.2 208.9h0.6 M172.8 219.3h0.6 M209.2 212.1h0.6 M210.6 213.6h0.6 M194.2 204.6h0.6 M171.6 221.1h0.6 M205.1 225.8h0.6 M177.7 221.4h0.6 M196.9 209.7h0.6 M199.0 231.1h0.6 M187.1 224.2h0.6 M188.2 208.3h0.6 M188.2 225.9h0.6 M192.7 225.1h0.6 M203.5 204.8h0.6 M204.1 224.9h0.6 M215.6 218.9h0.6 M173.5 213.8h0.6 M215.0 213.1h0.6 M190.2 223.8h0.6 M175.2 222.1h0.6 M192.3 208.7h0.6 M183.3 224.1h0.6 M209.8 209.6h0.6 M179.3 209.5h0.6 M195.3 225.3h0.6 M200.7 207.6h0.6 M206.8 210.2h0.6 M183.9 229.8h0.6 M184.0 225.3h0.6 M173.4 214.2h0.6 M178.0 210.2h0.6 M174.6 220.8h0.6 M188.3 207.4h0.6 M175.1 212.8h0.6 M205.5 224.9h0.6 M179.4 222.1h0.6 M194.9 209.2h0.6 M171.1 214.6h0.6 M209.3 220.0h0.6 M205.4 221.9h0.6 M205.5 210.5h0.6 M170.2 215.8h0.6 M175.8 221.2h0.6 M179.0 225.7h0.6 M173.0 218.9h0.6 M187.2 206.3h0.6 M173.9 215.7h0.6 M190.6 206.9h0.6 M175.8 220.3h0.6 M213.1 211.5h0.6 M174.9 213.5h0.6 M213.2 225.8h0.6 M193.4 226.0h0.6 M195.6 209.5h0.6 M186.7 227.4h0.6 M176.7 212.2h0.6 M202.9 209.8h0.6 M174.1 215.2h0.6 M173.3 213.2h0.6 M190.5 209.2h0.6 M194.9 224.4h0.6 M177.5 209.0h0.6 M188.4 207.6h0.6 M178.4 222.7h0.6 M177.1 211.4h0.6 M180.3 210.5h0.6 M207.7 226.1h0.6 M217.8 213.5h0.6 M181.7 209.1h0.6 M196.9 223.8h0.6 M176.0 223.9h0.6 M184.7 209.7h0.6 M197.3 227.7h0.6 M212.9 213.9h0.6 M210.2 212.1h0.6 M211.4 216.0h0.6 M193.1 224.9h0.6 M173.1 217.2h0.6 M189.2 208.4h0.6 M212.9 217.9h0.6 M186.3 208.4h0.6 M190.5 225.3h0.6 M210.3 217.5h0.6 M205.7 209.7h0.6 M210.8 212.4h0.6 M178.2 222.8h0.6 M176.1 220.7h0.6 M207.3 209.4h0.6 M212.8 209.6h0.6 M195.0 224.9h0.6 M180.5 210.4h0.6 M172.6 213.6h0.6 M196.8 226.7h0.6 M176.8 211.2h0.6 M195.8 209.0h0.6 M200.8 224.6h0.6 M171.9 220.9h0.6 M174.3 219.0h0.6 M184.8 208.9h0.6 M177.5 223.4h0.6 M189.4 224.4h0.6 M202.3 222.8h0.6 M205.3 225.4h0.6 M206.1 210.3h0.6 M203.9 224.2h0.6 M175.0 213.5h0.6 M209.1 212.6h0.6 M185.5 208.8h0.6 M173.3 220.3h0.6 M207.8 221.0h0.6 M186.1 228.4h0.6 M210.2 209.8h0.6 M208.6 227.5h0.6 M174.9 220.6h0.6 M193.0 225.5h0.6 M214.6 218.3h0.6 M197.4 224.1h0.6 M190.5 224.6h0.6 M197.2 208.6h0.6 M206.2 210.2h0.6 M175.1 212.9h0.6 M185.1 226.3h0.6 M173.3 212.9h0.6 M188.9 223.5h0.6 M212.8 209.8h0.6 M179.6 223.5h0.6 M173.6 218.5h0.6 M175.2 212.3h0.6 M172.1 213.7h0.6 M212.3 219.5h0.6 M205.0 224.3h0.6 M172.4 213.5h0.6 M208.0 209.9h0.6 M177.4 211.7h0.6 M206.3 210.1h0.6 M213.7 210.7h0.6 M172.8 213.3h0.6 M174.1 220.2h0.6 M186.6 207.8h0.6 M198.5 207.5h0.6 M211.7 212.8h0.6 M177.1 223.6h0.6 M174.3 214.3h0.6 M195.3 209.5h0.6 M188.0 209.1h0.6 M200.3 225.4h0.6 M207.0 224.8h0.6 M173.9 215.3h0.6 M211.9 213.5h0.6 M211.9 220.4h0.6 M182.1 208.2h0.6 M176.2 211.3h0.6 M210.5 219.2h0.6 M173.3 214.3h0.6 M175.8 222.2h0.6 M206.7 210.8h0.6 M172.7 212.0h0.6 M186.9 225.0h0.6 M185.1 224.2h0.6 M199.8 224.5h0.6 M177.1 224.6h0.6 M207.9 223.3h0.6 M173.8 213.6h0.6 M180.8 210.0h0.6 M200.5 210.1h0.6 M206.1 209.7h0.6 M174.9 220.3h0.6 M203.1 208.0h0.6 M215.0 225.4h0.6 M211.0 209.8h0.6 M211.5 214.6h0.6 M187.7 208.0h0.6 M211.1 213.7h0.6 M207.9 211.7h0.6 M213.2 209.7h0.6 M197.4 225.3h0.6 M174.7 212.5h0.6 M209.5 211.8h0.6 M202.2 223.3h0.6 M188.4 224.1h0.6 M207.5 211.4h0.6 M199.1 208.9h0.6 M210.7 216.6h0.6 M207.5 223.0h0.6 M213.6 213.5h0.6 M187.5 224.7h0.6 M178.9 222.3h0.6 M208.4 211.8h0.6 M186.7 225.1h0.6 M207.0 221.5h0.6 M199.8 224.2h0.6 M175.3 213.0h0.6 M206.2 210.6h0.6 M179.1 222.0h0.6 M174.8 213.9h0.6 M210.1 218.2h0.6 M174.2 218.2h0.6 M177.7 211.0h0.6 M202.5 210.2h0.6 M211.4 214.7h0.6 M213.7 214.2h0.6 M178.4 222.8h0.6 M197.0 209.3h0.6 M201.9 222.9h0.6 M173.6 213.9h0.6 M210.1 215.9h0.6 M177.7 221.4h0.6 M206.6 210.2h0.6 M176.5 211.7h0.6 M202.9 209.6h0.6 M211.5 213.4h0.6 M211.3 214.7h0.6 M180.5 210.4h0.6 M189.0 208.9h0.6 M176.8 222.5h0.6 M187.3 209.2h0.6 M207.9 221.6h0.6 M174.5 213.7h0.6 M185.5 224.1h0.6 M176.9 223.8h0.6 M172.9 214.8h0.6 M173.8 213.7h0.6 M200.4 209.1h0.6 M173.2 215.1h0.6 M200.1 223.1h0.6 M197.3 224.3h0.6 M210.3 218.8h0.6 M175.7 220.6h0.6 M193.0 209.3h0.6 M173.9 219.2h0.6 M198.1 208.8h0.6 M183.0 209.3h0.6 M189.6 224.6h0.6 M191.4 209.0h0.6 M210.6 218.5h0.6 M211.0 215.6h0.6 M209.4 212.8h0.6 M210.9 219.6h0.6 M183.2 209.6h0.6 M196.7 208.6h0.6 M208.1 220.5h0.6 M197.0 224.5h0.6 M178.3 211.4h0.6 M207.5 211.2h0.6 M206.9 211.2h0.6 M176.0 212.4h0.6 M209.4 219.4h0.6 M196.6 223.7h0.6 M173.8 216.3h0.6 M200.8 209.0h0.6 M176.3 220.5h0.6 M177.5 211.7h0.6 M173.8 220.3h0.6 M181.2 223.4h0.6 M209.8 212.5h0.6 M173.0 214.7h0.6 M173.3 217.6h0.6 M173.3 217.0h0.6 M212.2 216.4h0.6 M183.8 226.4h0.6 M200.1 209.9h0.6 M174.7 213.7h0.6 M175.6 220.7h0.6 M174.9 220.3h0.6 M173.8 217.7h0.6 M174.6 212.5h0.6 M186.4 208.8h0.6 M199.0 223.1h0.6 M174.0 218.1h0.6 M182.4 209.2h0.6 M176.8 211.5h0.6 M211.5 219.4h0.6 M208.9 212.6h0.6 M186.0 209.0h0.6 M205.1 222.2h0.6 M180.3 210.7h0.6 M209.4 221.4h0.6 M188.1 224.0h0.6 M175.4 222.0h0.6 M206.4 211.5h0.6 M198.0 223.5h0.6 M206.5 211.6h0.6 M186.9 223.9h0.6 M177.1 221.2h0.6 M208.2 212.8h0.6 M174.3 214.8h0.6 M175.3 213.0h0.6 M209.3 213.0h0.6 M207.4 209.0h0.6 M181.6 209.7h0.6 M175.8 212.6h0.6 M176.1 220.4h0.6 M205.0 210.6h0.6 M182.0 210.0h0.6 M206.3 210.0h0.6 M204.4 222.9h0.6 M208.0 211.7h0.6 M198.9 208.7h0.6 M173.7 216.0h0.6 M182.5 224.6h0.6 M213.4 214.1h0.6 M211.8 216.0h0.6 M181.2 209.9h0.6 M210.4 210.4h0.6 M198.5 208.6h0.6 M187.1 224.6h0.6 M203.1 224.4h0.6 M191.0 223.7h0.6 M208.1 211.9h0.6 M211.0 216.3h0.6 M191.3 208.4h0.6 M183.7 208.9h0.6 M205.7 222.3h0.6 M193.4 224.2h0.6 M181.0 209.8h0.6 M193.4 223.7h0.6 M196.9 207.3h0.6 M208.8 213.2h0.6 M173.4 217.3h0.6 M202.1 210.0h0.6 M173.4 217.6h0.6 M175.8 212.1h0.6 M190.6 209.5h0.6 M181.5 209.3h0.6 M173.8 214.9h0.6 M180.0 223.9h0.6 M195.4 208.6h0.6 M175.1 219.7h0.6 M183.9 208.2h0.6 M199.5 209.6h0.6 M209.1 213.6h0.6 M174.4 219.0h0.6 M209.6 222.6h0.6 M175.1 211.8h0.6 M181.1 223.5h0.6 M178.4 221.9h0.6 M178.8 209.5h0.6 M185.7 223.3h0.6 M199.0 209.0h0.6 M177.2 211.9h0.6 M212.5 215.4h0.6 M184.5 208.6h0.6 M175.1 213.2h0.6 M187.0 224.1h0.6 M201.3 208.0h0.6 M210.5 214.5h0.6 M176.3 221.9h0.6 M185.7 208.4h0.6 M191.5 207.6h0.6 M178.0 221.5h0.6 M196.3 209.3h0.6 M175.3 220.0h0.6 M173.8 216.8h0.6 M207.3 211.7h0.6 M193.6 207.8h0.6 M181.2 209.9h0.6 M182.7 209.8h0.6 M175.2 212.0h0.6 M180.1 222.5h0.6 M208.3 211.7h0.6 M180.3 210.2h0.6 M203.9 223.5h0.6 M172.4 218.9h0.6 M198.8 209.5h0.6 M194.1 225.0h0.6 M199.1 208.8h0.6 M177.5 221.9h0.6 M197.4 223.9h0.6 M183.5 224.8h0.6 M207.9 222.0h0.6 M211.3 215.7h0.6 M176.0 223.1h0.6 M187.7 208.1h0.6 M173.9 218.8h0.6 M203.6 223.0h0.6 M173.9 218.1h0.6 M173.8 217.9h0.6 M201.8 223.9h0.6 M181.8 209.9h0.6 M196.7 208.7h0.6 M209.0 220.7h0.6 M197.6 225.2h0.6 M205.7 223.8h0.6 M211.4 214.9h0.6 M174.0 214.3h0.6 M182.5 209.8h0.6 M187.9 208.8h0.6 M172.9 217.5h0.6 M206.6 222.0h0.6 M174.1 218.1h0.6 M173.6 215.0h0.6 M185.4 208.7h0.6 M182.3 210.1h0.6 M175.2 220.5h0.6 M210.1 217.0h0.6 M175.1 213.1h0.6 M176.2 221.6h0.6 M181.2 222.6h0.6 M206.3 208.9h0.6 M187.7 224.7h0.6 M205.4 222.4h0.6 M189.2 206.6h0.6 M208.4 211.9h0.6 M207.2 212.2h0.6 M199.8 209.3h0.6 M206.8 221.5h0.6 M185.9 209.2h0.6 M212.3 220.3h0.6 M173.0 215.5h0.6 M173.0 219.6h0.6 M195.6 223.9h0.6 M185.9 208.9h0.6 M183.8 223.9h0.6 M195.4 223.8h0.6 M200.1 224.2h0.6 M206.3 210.2h0.6 M200.1 208.9h0.6 M182.7 208.9h0.6 M212.0 211.7h0.6 M203.1 209.3h0.6 M178.9 209.6h0.6 M211.8 218.6h0.6 M173.6 213.9h0.6 M210.0 213.6h0.6 M213.3 214.9h0.6 M181.2 222.5h0.6 M198.4 209.7h0.6 M209.4 221.6h0.6 M208.4 219.9h0.6 M179.4 210.9h0.6 M192.9 224.4h0.6 M195.1 209.3h0.6 M184.8 223.2h0.6 M209.3 213.6h0.6 M173.9 219.2h0.6 M206.6 211.3h0.6 M181.6 209.5h0.6 M211.5 218.3h0.6 M179.1 210.8h0.6 M206.3 224.7h0.6 M200.3 223.8h0.6 M209.7 219.4h0.6 M187.0 223.6h0.6 M175.5 212.6h0.6 M173.4 215.5h0.6 M182.0 223.2h0.6 M178.5 211.2h0.6 M211.2 216.5h0.6 M174.6 213.7h0.6 M200.1 224.2h0.6 M179.7 210.7h0.6 M196.4 207.9h0.6 M172.3 219.5h0.6 M174.3 213.9h0.6 M173.4 215.9h0.6 M212.7 214.5h0.6 M182.8 223.5h0.6 M176.8 212.1h0.6 M172.4 216.8h0.6 M184.4 223.2h0.6 M207.1 220.9h0.6 M208.7 211.5h0.6 M182.2 209.8h0.6 M210.8 218.7h0.6 M210.1 214.4h0.6 M174.2 220.2h0.6 M208.7 221.2h0.6 M174.0 216.1h0.6 M189.5 207.8h0.6 M183.2 209.4h0.6 M173.3 215.9h0.6 M209.6 218.6h0.6 M174.8 213.2h0.6 M189.2 225.1h0.6 M176.8 210.0h0.6 M189.3 208.5h0.6 M206.0 210.3h0.6 M209.7 220.0h0.6 M176.4 211.9h0.6 M176.8 221.6h0.6 M189.1 223.9h0.6 M208.2 212.5h0.6 M177.9 222.6h0.6 M189.5 208.6h0.6 M195.6 225.3h0.6 M200.0 207.4h0.6 M205.3 209.8h0.6 M212.1 218.2h0.6 M201.6 207.7h0.6 M186.3 223.8h0.6 M192.6 225.1h0.6 M184.0 209.5h0.6 M203.7 210.4h0.6 M187.5 209.6h0.6 M183.3 209.1h0.6 M178.9 221.8h0.6 M211.4 213.3h0.6 M207.3 220.8h0.6 M212.1 215.4h0.6 M212.7 215.9h0.6 M204.4 222.1h0.6 M198.0 224.4h0.6 M211.7 216.0h0.6 M212.3 214.1h0.6 M183.8 208.5h0.6 M209.4 220.6h0.6 M210.7 215.2h0.6 M206.0 223.2h0.6 M173.4 215.5h0.6 M201.4 225.5h0.6 M174.9 213.7h0.6 M213.9 214.9h0.6 M205.2 222.5h0.6 M189.8 207.8h0.6 M181.1 223.9h0.6 M174.1 218.5h0.6 M178.3 222.4h0.6 M203.6 209.7h0.6 M211.7 217.6h0.6 M194.2 208.8h0.6 M177.6 221.7h0.6 M205.5 223.3h0.6 M212.4 214.1h0.6 M182.6 209.7h0.6 M211.7 216.1h0.6 M210.6 216.6h0.6 M201.9 223.5h0.6 M188.4 223.8h0.6 M205.0 210.8h0.6 M175.3 219.9h0.6 M173.8 215.1h0.6 M180.4 222.8h0.6 M180.2 222.2h0.6 M173.0 216.1h0.6 M203.0 209.7h0.6 M175.6 211.9h0.6 M209.6 221.3h0.6 M205.4 223.8h0.6 M200.9 223.0h0.6 M187.6 225.4h0.6 M205.3 224.3h0.6 M182.7 209.8h0.6 M175.2 212.2h0.6 M181.8 223.4h0.6 M210.5 221.4h0.6 M185.7 209.1h0.6 M200.8 224.3h0.6 M173.1 217.5h0.6 M182.1 224.3h0.6 M213.0 220.6h0.6 M174.2 213.7h0.6 M178.2 211.4h0.6 M211.7 213.1h0.6 M209.6 214.1h0.6 M206.1 224.7h0.6 M189.7 223.9h0.6 M205.6 209.4h0.6 M195.5 209.2h0.6 M181.0 210.1h0.6 M207.4 222.2h0.6 M176.9 220.9h0.6 M180.5 209.8h0.6 M210.7 220.2h0.6 M207.4 211.2h0.6 M176.2 210.3h0.6 M179.6 209.8h0.6 M178.7 210.3h0.6 M212.5 219.3h0.6 M203.3 210.3h0.6 M177.6 221.5h0.6 M203.4 209.2h0.6 M193.0 209.0h0.6 M197.8 224.0h0.6 M191.2 209.5h0.6 M174.3 221.8h0.6 M199.5 223.8h0.6 M206.0 211.1h0.6 M211.5 218.0h0.6 M210.5 218.7h0.6 M196.5 226.2h0.6 M175.8 220.3h0.6 M207.1 209.3h0.6 M188.4 208.5h0.6 M173.9 212.6h0.6 M177.0 212.0h0.6 M211.5 214.7h0.6 M193.0 207.5h0.6 M174.5 219.5h0.6 M176.9 221.7h0.6 M175.2 212.6h0.6 M203.2 210.4h0.6 M180.9 209.9h0.6 M181.7 210.0h0.6 M207.7 210.5h0.6 M203.3 209.2h0.6 M179.0 210.6h0.6 M173.9 215.4h0.6 M210.4 215.1h0.6 M185.1 223.3h0.6 M193.7 224.0h0.6 M194.4 209.0h0.6 M199.6 225.3h0.6 M208.2 224.7h0.6 M175.8 212.6h0.6 M211.6 221.0h0.6 M183.1 210.0h0.6 M181.1 225.5h0.6 M181.3 208.2h0.6 M179.0 210.8h0.6 M207.8 212.6h0.6 M190.9 209.2h0.6 M177.7 222.0h0.6 M180.9 208.7h0.6 M179.8 223.7h0.6 M210.1 219.9h0.6 M193.8 224.3h0.6 M191.5 209.3h0.6 M189.3 224.5h0.6 M198.4 209.7h0.6 M189.8 208.7h0.6 M205.4 223.6h0.6 M202.1 208.9h0.6 M200.2 223.9h0.6 M207.9 220.5h0.6 M182.3 226.1h0.6 M187.7 223.7h0.6 M197.3 209.6h0.6 M196.2 209.5h0.6 M207.3 211.9h0.6 M199.5 209.8h0.6 M210.6 213.8h0.6 M178.1 208.8h0.6 M185.2 209.3h0.6 M200.8 224.5h0.6 M179.0 210.4h0.6 M210.5 218.2h0.6 M213.2 217.6h0.6 M199.8 224.9h0.6 M205.0 222.8h0.6 M197.1 207.7h0.6 M208.5 212.1h0.6 M210.4 214.8h0.6 M198.1 208.7h0.6 M181.7 223.6h0.6 M178.6 211.0h0.6 M190.9 223.7h0.6 M175.0 220.6h0.6 M188.1 209.3h0.6 M201.6 223.5h0.6 M197.2 223.6h0.6 M187.2 208.2h0.6 M199.4 209.7h0.6 M212.2 216.9h0.6 M180.0 222.9h0.6 M198.1 209.2h0.6 M197.6 225.4h0.6 M196.1 224.2h0.6 M181.7 210.2h0.6 M206.9 221.3h0.6 M180.5 210.1h0.6 M205.8 209.4h0.6 M181.9 210.0h0.6 M175.2 211.2h0.6 M173.9 214.7h0.6 M208.8 221.0h0.6 M207.2 222.0h0.6 M174.7 213.2h0.6 M201.5 209.9h0.6 M203.5 207.7h0.6 M199.6 223.9h0.6 M209.3 219.9h0.6 M196.2 223.4h0.6 M210.0 218.0h0.6 M199.9 208.3h0.6 M211.0 221.3h0.6 M220.6 224.2h0.6 M213.5 230.2h0.6 M210.2 222.6h0.6 M214.3 228.9h0.6 M219.9 228.5h0.6 M214.4 225.5h0.6 M217.3 230.8h0.6 M216.2 231.2h0.6 M211.6 227.8h0.6 M217.9 227.9h0.6 M213.5 224.2h0.6 M207.7 227.9h0.6 M210.6 226.4h0.6 M217.0 220.8h0.6 M216.5 225.0h0.6 M211.0 228.8h0.6 M213.6 220.6h0.6 M209.7 227.0h0.6 M214.9 222.9h0.6 M216.3 227.5h0.6 M215.1 228.2h0.6 M217.4 223.6h0.6 M212.6 221.8h0.6 M211.6 227.4h0.6 M215.0 222.5h0.6 M211.9 232.5h0.6 M215.4 212.5h0.6 M211.1 228.8h0.6 M213.4 222.0h0.6 M217.5 230.2h0.6 M214.8 229.8h0.6 M212.3 222.7h0.6 M210.8 225.2h0.6 M220.6 228.7h0.6 M211.3 220.1h0.6 M211.7 225.8h0.6 M208.2 229.7h0.6 M211.9 220.9h0.6 M211.7 225.5h0.6 M221.0 225.9h0.6 M216.5 225.5h0.6 M212.3 232.3h0.6 M207.7 220.3h0.6 M215.4 223.9h0.6 M215.2 228.5h0.6 M214.2 228.5h0.6 M217.1 223.0h0.6 M213.0 227.2h0.6 M215.0 223.9h0.6 M212.7 223.7h0.6 M215.0 228.7h0.6 M211.2 227.2h0.6 M208.1 226.3h0.6 M215.4 228.4h0.6 M210.7 227.9h0.6 M212.0 229.3h0.6 M215.8 227.8h0.6 M210.2 221.4h0.6 M209.4 222.3h0.6 M211.9 227.4h0.6 M215.8 222.2h0.6 M212.2 228.6h0.6 M212.3 237.7h0.6 M211.7 233.0h0.6 M219.1 228.5h0.6 M215.3 229.5h0.6 M215.1 230.8h0.6 M210.3 224.5h0.6 M214.1 224.1h0.6 M214.1 222.1h0.6 M212.6 222.3h0.6 M218.5 234.9h0.6 M208.1 223.6h0.6 M208.8 228.4h0.6 M217.8 222.0h0.6 M216.4 224.2h0.6 M216.6 235.3h0.6 M213.1 217.6h0.6 M212.0 229.7h0.6 M215.4 224.5h0.6 M216.1 228.0h0.6 M215.2 230.9h0.6 M213.2 230.8h0.6 M217.2 225.7h0.6 M213.0 227.0h0.6 M208.0 231.3h0.6 M205.4 221.2h0.6 M214.2 221.7h0.6 M215.2 226.1h0.6 M206.8 226.0h0.6 M214.3 228.8h0.6 M211.4 221.5h0.6 M212.7 227.8h0.6 M209.3 227.0h0.6 M207.7 219.3h0.6 M221.0 226.9h0.6 M214.7 230.9h0.6 M214.3 234.1h0.6 M213.2 227.7h0.6 M212.5 227.8h0.6 M215.0 226.1h0.6 M213.3 230.8h0.6 M215.6 225.6h0.6 M215.5 221.9h0.6 M217.4 223.7h0.6 M217.5 222.2h0.6 M213.7 227.7h0.6 M220.4 230.2h0.6 M211.1 224.5h0.6 M219.0 230.0h0.6 M215.3 224.0h0.6 M217.7 224.2h0.6 M215.9 228.6h0.6 M207.3 218.8h0.6 M216.2 228.9h0.6 M216.5 227.8h0.6 M216.8 230.2h0.6 M217.7 232.0h0.6 M215.9 229.5h0.6 M213.1 228.6h0.6 M215.6 226.3h0.6 M218.6 224.1h0.6 M218.1 225.9h0.6 M215.2 221.2h0.6 M215.1 230.8h0.6 M212.5 229.4h0.6 M216.1 226.3h0.6 M216.5 227.8h0.6 M214.2 228.5h0.6 M211.5 225.6h0.6 M209.1 228.8h0.6 M209.1 229.5h0.6 M212.2 222.0h0.6 M214.9 227.5h0.6 M211.0 223.6h0.6 M214.6 228.3h0.6 M221.0 232.4h0.6 M209.0 231.2h0.6 M213.9 223.3h0.6 M219.6 234.0h0.6 M217.4 231.5h0.6 M216.1 223.0h0.6 M209.8 234.9h0.6 M214.6 217.1h0.6 M211.9 224.2h0.6 M214.7 226.4h0.6 M216.1 222.3h0.6 M215.9 216.7h0.6 M220.6 236.4h0.6 M215.1 229.1h0.6 M219.9 240.0h0.6 M215.8 223.6h0.6 M208.9 230.6h0.6 M211.6 217.4h0.6 M213.8 229.5h0.6 M206.5 229.8h0.6 M206.4 224.0h0.6 M217.7 230.2h0.6 M216.0 222.0h0.6 M211.6 218.8h0.6 M210.9 231.1h0.6 M210.6 223.3h0.6 M208.0 228.8h0.6 M216.1 215.0h0.6 M213.4 232.6h0.6 M207.0 227.4h0.6 M216.7 230.7h0.6 M217.8 233.6h0.6 M213.7 226.1h0.6 M216.1 227.1h0.6 M207.5 225.4h0.6 M214.1 228.2h0.6 M208.8 225.8h0.6 M212.6 229.1h0.6 M214.1 229.6h0.6 M213.1 222.3h0.6 M210.4 222.2h0.6 M216.1 229.4h0.6 M207.2 221.4h0.6 M214.9 224.5h0.6 M214.9 228.3h0.6 M217.2 229.4h0.6 M207.7 218.8h0.6 M211.9 226.1h0.6 M213.7 228.7h0.6 M216.2 231.9h0.6 M212.1 227.6h0.6 M217.7 235.3h0.6 M209.0 224.3h0.6 M214.6 230.1h0.6 M213.6 225.8h0.6 M205.1 221.0h0.6 M212.8 225.9h0.6 M220.0 224.9h0.6 M217.4 229.5h0.6 M208.6 223.3h0.6 M216.2 232.9h0.6 M215.6 222.6h0.6 M212.4 232.2h0.6 M214.8 220.4h0.6 M217.0 220.8h0.6 M215.8 224.4h0.6 M211.7 224.7h0.6 M217.4 227.7h0.6 M215.8 224.0h0.6 M216.3 236.3h0.6 M218.6 222.8h0.6 M214.0 234.3h0.6 M214.5 226.5h0.6 M217.3 226.4h0.6 M218.8 234.0h0.6 M209.9 232.2h0.6 M211.2 228.5h0.6 M214.1 227.8h0.6 M208.4 233.3h0.6 M220.0 220.9h0.6 M218.1 227.4h0.6 M213.8 224.0h0.6 M216.5 226.5h0.6 M220.2 227.2h0.6 M205.4 216.4h0.6 M219.6 225.8h0.6 M213.2 223.9h0.6 M224.4 227.4h0.6 M213.5 224.9h0.6 M218.8 230.8h0.6 M217.7 229.3h0.6 M215.6 227.4h0.6 M210.5 229.2h0.6 M214.0 226.1h0.6 M214.0 228.1h0.6 M211.8 226.7h0.6 M215.3 237.7h0.6 M208.6 223.4h0.6 M211.5 225.8h0.6 M205.3 218.9h0.6 M221.2 227.6h0.6 M214.1 229.3h0.6 M207.0 222.1h0.6 M216.3 228.2h0.6 M211.9 227.7h0.6 M204.5 231.3h0.6 M217.5 225.3h0.6 M215.8 228.4h0.6 M204.9 225.1h0.6 M210.7 229.6h0.6 M207.9 220.3h0.6 M216.3 224.2h0.6 M221.5 232.6h0.6 M206.2 224.4h0.6 M220.4 230.1h0.6 M216.0 227.2h0.6 M217.6 227.8h0.6 M211.8 231.6h0.6 M216.1 223.2h0.6 M210.2 226.2h0.6 M213.4 229.6h0.6 M216.4 225.3h0.6 M209.1 220.2h0.6 M210.5 223.4h0.6 M213.1 228.8h0.6 M222.3 239.8h0.6 M210.2 225.9h0.6 M210.0 227.5h0.6 M215.4 230.9h0.6 M210.2 233.4h0.6 M214.8 223.3h0.6 M212.4 228.5h0.6 M215.2 225.0h0.6 M213.6 226.8h0.6 M211.3 229.4h0.6 M215.8 225.7h0.6 M210.6 228.5h0.6 M214.4 227.9h0.6 M214.6 230.4h0.6 M217.2 225.7h0.6 M197.4 230.1h0.6 M191.0 214.7h0.6 M158.7 216.7h0.6 M220.2 205.9h0.6 M210.1 202.4h0.6 M198.9 236.8h0.6 M193.0 203.6h0.6 M198.6 214.9h0.6 M210.4 210.7h0.6 M151.7 211.2h0.6 M205.6 227.9h0.6 M198.3 216.8h0.6 M207.9 214.3h0.6 M181.4 219.0h0.6 M217.3 211.0h0.6 M203.4 209.5h0.6 M174.8 218.4h0.6 M161.0 207.1h0.6 M164.2 209.9h0.6 M206.0 217.3h0.6 M160.8 190.4h0.6 M202.1 209.6h0.6 M216.2 212.2h0.6 M161.5 209.5h0.6 M156.4 201.0h0.6 M208.4 210.7h0.6 M207.9 210.4h0.6 M186.5 210.5h0.6 M179.2 209.3h0.6 M226.6 215.9h0.6 M146.5 235.1h0.6 M221.0 228.8h0.6 M189.4 214.8h0.6 M180.7 217.9h0.6 M202.7 216.5h0.6 M172.7 206.0h0.6 M230.6 235.0h0.6 M163.0 209.5h0.6 M190.9 223.0h0.6 M189.1 219.1h0.6 M200.3 229.0h0.6 M161.4 228.5h0.6 M202.0 222.4h0.6 M156.7 214.0h0.6 M185.7 223.5h0.6 M207.7 224.0h0.6 M161.7 230.3h0.6 M193.3 226.7h0.6 M191.5 208.9h0.6 M209.5 211.5h0.6 M186.6 228.7h0.6 M202.2 235.6h0.6 M219.7 204.8h0.6 M155.9 229.2h0.6 M205.7 213.7h0.6 M184.9 210.5h0.6 M233.5 214.8h0.6 M159.6 226.4h0.6 M189.7 220.4h0.6 M182.8 216.1h0.6 M147.9 222.4h0.6 M175.7 212.4h0.6 M199.1 230.4h0.6 M204.4 227.5h0.6 M170.5 220.0h0.6 M201.0 226.6h0.6 M177.2 214.5h0.6 M179.7 228.9h0.6 M217.0 211.8h0.6 M188.5 218.9h0.6 M170.6 215.3h0.6 M211.8 224.9h0.6 M175.8 209.6h0.6 M188.9 200.7h0.6 M198.9 217.9h0.6 M160.5 214.1h0.6 M176.2 213.7h0.6 M171.2 231.3h0.6 M169.1 224.8h0.6 M196.4 232.1h0.6 M190.3 216.6h0.6 M193.2 196.3h0.6 M247.7 214.3h0.6 M184.2 204.5h0.6 M188.4 233.9h0.6 M174.0 221.3h0.6 M215.7 226.7h0.6 M182.2 197.9h0.6 M201.1 222.7h0.6 M184.0 212.0h0.6 M232.5 199.7h0.6 M179.6 210.1h0.6 M155.1 209.2h0.6 M173.0 229.9h0.6 M150.8 201.9h0.6 M197.7 200.1h0.6 M163.4 206.2h0.6 M187.9 221.5h0.6 M176.5 213.7h0.6 M208.2 215.0h0.6 M208.7 210.3h0.6 M203.0 230.2h0.6 M184.0 213.0h0.6 M187.8 221.6h0.6 M163.4 217.1h0.6 M177.9 231.8h0.6 M151.3 223.5h0.6 M184.2 208.7h0.6 M194.8 214.1h0.6 M192.5 219.2h0.6 M219.6 212.3h0.6 M230.6 187.9h0.6 M234.1 229.6h0.6 M228.1 218.8h0.6 M198.2 205.9h0.6 M222.8 204.3h0.6 M173.0 216.6h0.6 M197.0 220.3h0.6 M164.4 213.0h0.6 M203.0 229.2h0.6 M209.4 221.0h0.6 M185.5 210.9h0.6 M179.6 215.6h0.6 M203.9 211.3h0.6 M239.6 206.0h0.6 M210.6 214.5h0.6" stroke="#111" stroke-width="0.6" fill="none" opacity="0.75"/>
<path d="M210.3 216.5 L210.2 217.7 L209.8 218.8 L209.1 219.7 L208.1 220.5 L207.0 221.2 L205.5 221.9 L203.9 222.5 L202.0 222.9 L199.9 223.3 L197.6 223.6 L195.1 223.7 L192.0 223.8 L188.9 223.7 L186.4 223.6 L184.1 223.3 L182.0 222.9 L180.1 222.5 L178.5 221.9 L177.0 221.2 L175.9 220.5 L174.9 219.7 L174.2 218.8 L173.8 217.7 L173.7 216.5 L173.8 215.3 L174.2 214.2 L174.9 213.3 L175.9 212.5 L177.0 211.8 L178.5 211.1 L180.1 210.5 L182.0 210.1 L184.1 209.7 L186.4 209.4 L188.9 209.3 L192.0 209.2 L195.1 209.3 L197.6 209.4 L199.9 209.7 L202.0 210.1 L203.9 210.5 L205.5 211.1 L207.0 211.8 L208.1 212.5 L209.1 213.3 L209.8 214.2 L210.2 215.3Z" fill="#fff" stroke="#1a1a1a" stroke-width="1.1"/>
<path d="M207.7 216.5 L207.5 217.6 L207.2 218.5 L206.7 219.2 L205.9 219.9 L204.9 220.5 L203.7 221.1 L202.4 221.5 L200.8 221.9 L199.0 222.2 L197.1 222.4 L194.9 222.5 L192.0 222.6 L189.1 222.5 L186.9 222.4 L185.0 222.2 L183.2 221.9 L181.6 221.5 L180.3 221.1 L179.1 220.5 L178.1 219.9 L177.3 219.2 L176.8 218.5 L176.5 217.6 L176.3 216.5 L176.5 215.4 L176.8 214.5 L177.3 213.8 L178.1 213.1 L179.1 212.5 L180.3 211.9 L181.6 211.5 L183.2 211.1 L185.0 210.8 L186.9 210.6 L189.1 210.5 L192.0 210.4 L194.9 210.5 L197.1 210.6 L199.0 210.8 L200.8 211.1 L202.4 211.5 L203.7 211.9 L204.9 212.5 L205.9 213.1 L206.7 213.8 L207.2 214.5 L207.5 215.4Z" fill="#f4f4f4" stroke="#3a3a3a" stroke-width="0.45"/>
<path d="M205.7 216.5 L205.6 217.5 L205.3 218.2 L204.8 218.9 L204.1 219.5 L203.3 220.0 L202.2 220.5 L201.0 220.9 L199.7 221.2 L198.1 221.5 L196.4 221.7 L194.5 221.8 L192.0 221.8 L189.5 221.8 L187.6 221.7 L185.9 221.5 L184.3 221.2 L183.0 220.9 L181.8 220.5 L180.7 220.0 L179.9 219.5 L179.2 218.9 L178.7 218.2 L178.4 217.5 L178.3 216.5 L178.4 215.5 L178.7 214.8 L179.2 214.1 L179.9 213.5 L180.7 213.0 L181.8 212.5 L183.0 212.1 L184.3 211.8 L185.9 211.5 L187.6 211.3 L189.5 211.2 L192.0 211.2 L194.5 211.2 L196.4 211.3 L198.1 211.5 L199.7 211.8 L201.0 212.1 L202.2 212.5 L203.3 213.0 L204.1 213.5 L204.8 214.1 L205.3 214.8 L205.6 215.5Z" fill="#e6e6e6" stroke="#3a3a3a" stroke-width="0.45"/>
<path d="M203.7 216.5 L203.6 217.3 L203.4 218.0 L203.0 218.5 L202.4 219.1 L201.6 219.5 L200.8 219.9 L199.7 220.3 L198.6 220.5 L197.3 220.8 L195.8 220.9 L194.1 221.0 L192.0 221.1 L189.9 221.0 L188.2 220.9 L186.7 220.8 L185.4 220.5 L184.3 220.3 L183.2 219.9 L182.4 219.5 L181.6 219.1 L181.0 218.5 L180.6 218.0 L180.4 217.3 L180.3 216.5 L180.4 215.7 L180.6 215.0 L181.0 214.5 L181.6 213.9 L182.4 213.5 L183.2 213.1 L184.3 212.7 L185.4 212.5 L186.7 212.2 L188.2 212.1 L189.9 212.0 L192.0 211.9 L194.1 212.0 L195.8 212.1 L197.3 212.2 L198.6 212.5 L199.7 212.7 L200.8 213.1 L201.6 213.5 L202.4 213.9 L203.0 214.5 L203.4 215.0 L203.6 215.7Z" fill="#d8d8d8" stroke="#3a3a3a" stroke-width="0.45"/>
<path d="M201.7 216.5 L201.7 217.2 L201.4 217.7 L201.1 218.2 L200.6 218.6 L200.0 219.0 L199.3 219.3 L198.4 219.6 L197.5 219.9 L196.4 220.0 L195.2 220.2 L193.8 220.3 L192.0 220.3 L190.2 220.3 L188.8 220.2 L187.6 220.0 L186.5 219.9 L185.6 219.6 L184.7 219.3 L184.0 219.0 L183.4 218.6 L182.9 218.2 L182.6 217.7 L182.3 217.2 L182.3 216.5 L182.3 215.8 L182.6 215.3 L182.9 214.8 L183.4 214.4 L184.0 214.0 L184.7 213.7 L185.6 213.4 L186.5 213.1 L187.6 213.0 L188.8 212.8 L190.2 212.7 L192.0 212.7 L193.8 212.7 L195.2 212.8 L196.4 213.0 L197.5 213.1 L198.4 213.4 L199.3 213.7 L200.0 214.0 L200.6 214.4 L201.1 214.8 L201.4 215.3 L201.7 215.8Z" fill="#cacaca" stroke="#3a3a3a" stroke-width="0.45"/>
<path d="M199.7 216.5 L199.7 217.1 L199.5 217.5 L199.2 217.9 L198.9 218.2 L198.4 218.5 L197.8 218.8 L197.1 219.0 L196.3 219.2 L195.5 219.3 L194.5 219.4 L193.4 219.5 L192.0 219.5 L190.6 219.5 L189.5 219.4 L188.5 219.3 L187.7 219.2 L186.9 219.0 L186.2 218.8 L185.6 218.5 L185.1 218.2 L184.8 217.9 L184.5 217.5 L184.3 217.1 L184.3 216.5 L184.3 215.9 L184.5 215.5 L184.8 215.1 L185.1 214.8 L185.6 214.5 L186.2 214.2 L186.9 214.0 L187.7 213.8 L188.5 213.7 L189.5 213.6 L190.6 213.5 L192.0 213.5 L193.4 213.5 L194.5 213.6 L195.5 213.7 L196.3 213.8 L197.1 214.0 L197.8 214.2 L198.4 214.5 L198.9 214.8 L199.2 215.1 L199.5 215.5 L199.7 215.9Z" fill="#bcbcbc" stroke="#3a3a3a" stroke-width="0.45"/>
<path d="M197.9 216.5 L197.9 216.9 L197.8 217.2 L197.6 217.4 L197.3 217.7 L196.9 217.9 L196.4 218.1 L195.9 218.2 L195.3 218.4 L194.7 218.5 L193.9 218.5 L193.1 218.6 L192.0 218.6 L190.9 218.6 L190.1 218.5 L189.3 218.5 L188.7 218.4 L188.1 218.2 L187.6 218.1 L187.1 217.9 L186.7 217.7 L186.4 217.4 L186.2 217.2 L186.1 216.9 L186.1 216.5 L186.1 216.1 L186.2 215.8 L186.4 215.6 L186.7 215.3 L187.1 215.1 L187.6 214.9 L188.1 214.8 L188.7 214.6 L189.3 214.5 L190.1 214.5 L190.9 214.4 L192.0 214.4 L193.1 214.4 L193.9 214.5 L194.7 214.5 L195.3 214.6 L195.9 214.8 L196.4 214.9 L196.9 215.1 L197.3 215.3 L197.6 215.6 L197.8 215.8 L197.9 216.1Z" fill="#a2a2a2" stroke="#444" stroke-width="0.4"/>
<line x1="187.5" y1="216.3" x2="196.5" y2="216.3" stroke="#fff" stroke-width="1.0" />
<path d="M181.9 95.5h0.6 M184.4 98.1h0.6 M212.5 110.2h0.6 M181.1 114.5h0.6 M211.3 103.7h0.6 M202.8 98.1h0.6 M215.9 108.7h0.6 M211.1 112.0h0.6 M216.5 99.6h0.6 M176.6 96.5h0.6 M178.1 100.8h0.6 M211.3 100.6h0.6 M174.8 103.6h0.6 M179.3 115.4h0.6 M212.0 108.5h0.6 M211.7 113.6h0.6 M211.2 110.8h0.6 M183.4 93.1h0.6 M204.6 99.5h0.6 M175.4 116.6h0.6 M206.0 101.3h0.6 M173.7 105.3h0.6 M198.1 114.9h0.6 M200.7 95.9h0.6 M213.8 106.0h0.6 M173.9 109.9h0.6 M173.7 100.9h0.6 M174.0 102.7h0.6 M215.8 103.9h0.6 M212.0 109.6h0.6 M183.6 114.5h0.6 M176.5 110.9h0.6 M208.6 113.4h0.6 M217.1 98.8h0.6 M211.3 115.6h0.6 M213.4 111.5h0.6 M185.6 117.5h0.6 M176.3 103.5h0.6 M214.8 113.0h0.6 M203.2 117.5h0.6 M172.5 102.0h0.6 M177.7 100.9h0.6 M175.6 106.0h0.6 M186.3 98.0h0.6 M176.8 116.3h0.6 M176.3 102.5h0.6 M177.0 101.6h0.6 M181.1 100.0h0.6 M174.0 111.4h0.6 M187.0 115.6h0.6 M179.0 101.2h0.6 M180.9 100.5h0.6 M173.5 105.0h0.6 M175.6 114.1h0.6 M215.1 108.6h0.6 M178.5 100.3h0.6 M213.1 102.1h0.6 M179.4 116.5h0.6 M201.3 96.4h0.6 M171.8 108.6h0.6 M175.0 110.6h0.6 M216.8 106.9h0.6 M211.6 116.7h0.6 M197.9 116.4h0.6 M198.1 118.8h0.6 M187.0 114.5h0.6 M180.2 113.5h0.6 M208.8 115.7h0.6 M211.8 105.8h0.6 M211.6 115.2h0.6 M212.9 105.6h0.6 M207.6 101.0h0.6 M173.8 103.7h0.6 M176.4 111.1h0.6 M214.5 108.4h0.6 M208.7 101.2h0.6 M198.4 116.9h0.6 M202.2 98.9h0.6 M187.2 97.6h0.6 M179.7 114.6h0.6 M190.9 114.8h0.6 M185.9 115.8h0.6 M184.4 114.4h0.6 M175.2 107.2h0.6 M173.5 106.7h0.6 M201.2 119.1h0.6 M191.8 97.9h0.6 M182.8 119.4h0.6 M210.6 113.1h0.6 M208.4 115.0h0.6 M183.6 116.9h0.6 M178.2 112.8h0.6 M194.4 99.4h0.6 M207.5 101.3h0.6 M183.1 114.8h0.6 M191.9 98.9h0.6 M217.1 105.1h0.6 M173.6 110.5h0.6 M200.8 115.7h0.6 M193.3 117.3h0.6 M200.8 98.1h0.6 M190.4 99.0h0.6 M217.3 110.9h0.6 M181.3 100.7h0.6 M202.4 116.3h0.6 M219.6 104.5h0.6 M212.7 108.8h0.6 M212.4 112.8h0.6 M174.9 100.6h0.6 M207.2 98.0h0.6 M187.3 116.8h0.6 M193.2 98.0h0.6 M211.8 110.0h0.6 M178.5 113.9h0.6 M206.5 117.7h0.6 M185.7 116.2h0.6 M214.1 100.1h0.6 M173.4 106.4h0.6 M180.5 100.4h0.6 M173.9 104.0h0.6 M172.8 114.0h0.6 M214.5 106.4h0.6 M190.6 99.0h0.6 M212.7 112.8h0.6 M199.1 120.4h0.6 M190.4 100.3h0.6 M210.1 102.9h0.6 M214.3 112.0h0.6 M173.2 109.1h0.6 M215.2 98.8h0.6 M175.3 105.0h0.6 M171.8 105.6h0.6 M172.2 112.4h0.6 M175.8 103.2h0.6 M216.1 106.1h0.6 M173.0 103.6h0.6 M182.8 116.7h0.6 M209.4 99.2h0.6 M207.5 122.6h0.6 M203.7 120.6h0.6 M174.2 103.8h0.6 M207.9 113.1h0.6 M189.6 120.2h0.6 M213.8 103.7h0.6 M174.6 107.7h0.6 M177.0 111.4h0.6 M176.5 102.9h0.6 M182.1 101.2h0.6 M213.9 111.2h0.6 M185.5 100.4h0.6 M179.9 101.2h0.6 M174.5 112.9h0.6 M203.4 115.2h0.6 M186.9 100.0h0.6 M215.6 104.8h0.6 M174.9 106.3h0.6 M206.2 113.8h0.6 M214.1 116.6h0.6 M177.2 115.2h0.6 M216.4 109.1h0.6 M211.6 96.9h0.6 M202.7 117.0h0.6 M174.4 105.3h0.6 M213.6 95.6h0.6 M205.8 114.5h0.6 M206.1 117.6h0.6 M175.4 110.0h0.6 M186.0 100.4h0.6 M174.0 104.4h0.6 M193.8 117.1h0.6 M208.1 97.9h0.6 M186.1 117.4h0.6 M215.0 112.1h0.6 M208.8 119.7h0.6 M214.8 100.4h0.6 M218.9 113.3h0.6 M180.6 98.5h0.6 M211.1 103.0h0.6 M198.2 119.0h0.6 M201.8 100.5h0.6 M193.3 119.7h0.6 M175.7 109.4h0.6 M199.5 117.8h0.6 M215.5 106.3h0.6 M207.9 102.2h0.6 M207.2 119.7h0.6 M203.9 100.7h0.6 M212.1 112.1h0.6 M209.9 113.2h0.6 M197.3 96.0h0.6 M184.4 97.0h0.6 M209.6 119.6h0.6 M197.8 117.1h0.6 M190.7 99.6h0.6 M204.2 101.0h0.6 M175.4 102.4h0.6 M183.2 117.5h0.6 M206.2 115.0h0.6 M206.4 99.3h0.6 M215.4 116.0h0.6 M196.6 114.7h0.6 M176.0 99.3h0.6 M212.8 102.7h0.6 M174.9 109.4h0.6 M184.8 118.1h0.6 M182.2 117.4h0.6 M187.6 100.0h0.6 M175.3 106.6h0.6 M209.8 98.4h0.6 M178.3 98.8h0.6 M216.1 106.8h0.6 M201.4 115.3h0.6 M195.1 99.3h0.6 M180.1 98.4h0.6 M214.5 109.1h0.6 M192.6 116.5h0.6 M180.5 100.6h0.6 M187.1 99.3h0.6 M218.1 115.6h0.6 M212.9 102.4h0.6 M217.6 102.1h0.6 M176.7 103.8h0.6 M170.2 104.5h0.6 M213.5 104.9h0.6 M175.7 111.4h0.6 M174.2 113.0h0.6 M203.2 97.0h0.6 M212.3 113.2h0.6 M173.8 104.9h0.6 M203.9 98.1h0.6 M182.9 99.7h0.6 M210.7 103.6h0.6 M207.9 101.0h0.6 M183.8 100.8h0.6 M176.4 113.5h0.6 M188.9 116.4h0.6 M208.1 115.8h0.6 M174.4 112.3h0.6 M193.7 98.9h0.6 M190.1 114.7h0.6 M174.8 103.6h0.6 M192.4 97.4h0.6 M180.7 113.8h0.6 M192.3 118.8h0.6 M211.5 117.3h0.6 M216.7 102.7h0.6 M203.3 99.0h0.6 M194.8 118.5h0.6 M186.2 116.0h0.6 M174.1 108.9h0.6 M175.1 104.3h0.6 M200.9 114.6h0.6 M200.4 100.3h0.6 M205.3 115.3h0.6 M215.6 106.1h0.6 M174.3 101.2h0.6 M207.2 101.8h0.6 M197.2 99.1h0.6 M186.8 95.0h0.6 M186.6 116.4h0.6 M172.7 110.5h0.6 M176.4 103.6h0.6 M213.5 112.4h0.6 M212.5 114.8h0.6 M174.6 107.2h0.6 M188.0 98.1h0.6 M194.5 99.2h0.6 M214.3 104.8h0.6 M179.0 101.0h0.6 M194.2 118.7h0.6 M211.1 111.9h0.6 M207.3 114.8h0.6 M183.6 100.1h0.6 M193.2 100.1h0.6 M206.5 114.0h0.6 M211.7 109.0h0.6 M189.9 100.0h0.6 M205.7 113.9h0.6 M214.2 111.3h0.6 M202.3 116.1h0.6 M203.9 97.4h0.6 M208.3 116.4h0.6 M181.2 100.4h0.6 M213.7 106.4h0.6 M189.9 119.0h0.6 M213.5 107.3h0.6 M173.6 103.8h0.6 M183.5 98.6h0.6 M174.6 101.6h0.6 M215.7 113.2h0.6 M171.1 103.3h0.6 M198.7 98.7h0.6 M195.9 117.9h0.6 M177.5 114.7h0.6 M215.2 112.9h0.6 M206.4 113.6h0.6 M210.6 121.3h0.6 M206.8 114.1h0.6 M173.0 102.5h0.6 M176.6 102.2h0.6 M187.4 117.1h0.6 M201.6 120.2h0.6 M197.9 118.5h0.6 M210.4 100.5h0.6 M177.4 102.8h0.6 M209.4 119.1h0.6 M213.0 116.2h0.6 M177.0 103.4h0.6 M174.3 110.1h0.6 M199.8 115.3h0.6 M175.5 102.0h0.6 M212.0 101.7h0.6 M175.8 109.6h0.6 M174.7 108.4h0.6 M211.6 110.9h0.6 M177.8 113.9h0.6 M206.5 116.5h0.6 M185.4 115.4h0.6 M215.1 113.7h0.6 M173.1 103.9h0.6 M211.9 99.8h0.6 M174.6 112.5h0.6 M205.2 99.5h0.6 M198.0 115.2h0.6 M201.0 98.8h0.6 M179.5 101.5h0.6 M183.0 97.7h0.6 M176.5 112.0h0.6 M175.7 101.8h0.6 M212.4 105.5h0.6 M175.4 102.7h0.6 M216.6 105.0h0.6 M171.8 110.6h0.6 M207.5 98.6h0.6 M197.9 116.0h0.6 M179.9 115.3h0.6 M202.6 96.4h0.6 M171.4 108.9h0.6 M208.6 99.8h0.6 M214.6 110.4h0.6 M208.2 99.0h0.6 M174.0 110.2h0.6 M214.1 105.0h0.6 M208.0 115.2h0.6 M211.2 102.5h0.6 M189.4 97.6h0.6 M204.7 100.4h0.6 M180.8 100.6h0.6 M209.9 99.0h0.6 M180.9 101.2h0.6 M202.1 115.2h0.6 M218.3 106.6h0.6 M210.1 114.5h0.6 M215.7 111.0h0.6 M205.7 115.7h0.6 M211.0 117.9h0.6 M177.3 115.6h0.6 M216.7 106.9h0.6 M205.3 99.7h0.6 M176.3 100.8h0.6 M174.4 103.9h0.6 M196.1 116.5h0.6 M181.7 98.8h0.6 M180.8 99.0h0.6 M211.1 104.9h0.6 M205.6 97.0h0.6 M180.1 99.0h0.6 M202.5 100.8h0.6 M203.0 122.4h0.6 M171.7 111.5h0.6 M172.3 103.8h0.6 M173.2 111.0h0.6 M209.7 102.0h0.6 M177.3 100.7h0.6 M185.1 117.6h0.6 M212.6 110.7h0.6 M184.9 118.8h0.6 M203.7 122.3h0.6 M205.5 116.3h0.6 M208.5 116.4h0.6 M202.3 98.6h0.6 M189.1 117.9h0.6 M180.0 99.8h0.6 M206.9 99.0h0.6 M212.0 108.8h0.6 M205.0 100.0h0.6 M183.2 100.8h0.6 M207.5 121.7h0.6 M175.1 108.5h0.6 M216.1 113.6h0.6 M215.2 111.6h0.6 M216.1 97.3h0.6 M184.9 118.4h0.6 M201.5 115.9h0.6 M213.2 98.6h0.6 M198.5 98.1h0.6 M198.5 99.1h0.6 M188.4 98.4h0.6 M213.2 108.7h0.6 M216.0 105.8h0.6 M200.1 96.2h0.6 M176.5 102.6h0.6 M177.9 101.1h0.6 M191.8 114.8h0.6 M185.7 97.7h0.6 M195.4 98.5h0.6 M179.7 100.9h0.6 M176.0 102.6h0.6 M194.6 97.0h0.6 M181.7 115.9h0.6 M184.1 115.7h0.6 M175.3 102.4h0.6 M208.6 112.9h0.6 M190.0 100.2h0.6 M180.5 115.5h0.6 M212.8 109.5h0.6 M184.0 97.7h0.6 M181.4 98.4h0.6 M174.4 111.6h0.6 M181.5 117.4h0.6 M202.3 117.0h0.6 M215.6 111.8h0.6 M205.3 115.2h0.6 M175.2 105.7h0.6 M177.4 113.2h0.6 M190.7 96.5h0.6 M221.2 116.0h0.6 M175.2 99.8h0.6 M211.8 106.3h0.6 M182.5 115.9h0.6 M196.6 116.0h0.6 M173.9 107.3h0.6 M202.1 100.6h0.6 M196.7 99.6h0.6 M180.6 101.6h0.6 M206.5 101.3h0.6 M206.7 113.3h0.6 M201.2 98.1h0.6 M217.7 101.9h0.6 M207.1 98.3h0.6 M174.0 109.7h0.6 M206.9 114.2h0.6 M209.8 114.5h0.6 M213.7 111.4h0.6 M186.3 115.8h0.6 M174.1 106.6h0.6 M209.0 96.6h0.6 M175.6 104.8h0.6 M217.5 110.7h0.6 M212.9 115.4h0.6 M216.6 103.7h0.6 M199.9 116.9h0.6 M213.3 109.9h0.6 M205.2 119.6h0.6 M214.7 110.4h0.6 M181.3 114.7h0.6 M208.0 100.5h0.6 M185.9 100.1h0.6 M187.6 95.1h0.6 M173.1 109.6h0.6 M180.4 99.8h0.6 M185.9 115.3h0.6 M175.6 111.8h0.6 M185.2 100.6h0.6 M210.8 110.6h0.6 M217.4 110.1h0.6 M182.5 115.6h0.6 M176.6 116.1h0.6 M204.0 114.0h0.6 M217.9 116.2h0.6 M173.8 113.6h0.6 M201.0 116.1h0.6 M205.1 96.7h0.6 M215.5 102.9h0.6 M184.1 99.9h0.6 M189.1 116.9h0.6 M178.8 114.1h0.6 M188.0 118.4h0.6 M218.3 96.2h0.6 M181.4 100.7h0.6 M190.2 96.2h0.6 M169.3 109.8h0.6 M182.5 98.8h0.6 M204.4 116.6h0.6 M177.4 116.2h0.6 M206.7 116.8h0.6 M201.9 116.9h0.6 M210.4 99.8h0.6 M219.5 109.9h0.6 M194.8 98.7h0.6 M179.5 115.9h0.6 M212.0 108.0h0.6 M210.8 112.3h0.6 M204.4 121.5h0.6 M186.9 118.9h0.6 M180.6 100.4h0.6 M185.1 114.6h0.6 M200.3 100.1h0.6 M179.2 113.3h0.6 M173.9 108.2h0.6 M206.0 114.4h0.6 M202.4 115.8h0.6 M175.2 105.6h0.6 M208.2 100.7h0.6 M213.6 112.0h0.6 M212.5 111.5h0.6 M185.4 118.7h0.6 M191.4 116.4h0.6 M177.0 115.2h0.6 M174.2 111.4h0.6 M199.9 116.3h0.6 M196.1 122.0h0.6 M207.3 99.0h0.6 M215.0 109.9h0.6 M195.2 114.8h0.6 M204.4 98.9h0.6 M214.0 103.6h0.6 M184.5 119.2h0.6 M175.7 102.5h0.6 M170.6 105.8h0.6 M177.0 102.6h0.6 M172.7 108.5h0.6 M186.8 97.4h0.6 M186.1 115.1h0.6 M206.3 115.2h0.6 M172.4 99.6h0.6 M213.7 109.1h0.6 M172.6 106.4h0.6 M212.9 106.5h0.6 M201.7 100.0h0.6 M211.7 106.2h0.6 M174.1 117.7h0.6 M178.8 100.6h0.6 M187.3 96.6h0.6 M204.2 98.0h0.6 M175.1 100.7h0.6 M213.8 104.4h0.6 M209.3 98.0h0.6 M195.7 99.8h0.6 M206.3 115.6h0.6 M184.2 114.6h0.6 M182.1 100.8h0.6 M208.5 113.7h0.6 M174.4 104.1h0.6 M188.0 98.8h0.6 M210.5 112.4h0.6 M210.5 96.0h0.6 M187.4 97.6h0.6 M208.3 114.6h0.6 M174.8 110.8h0.6 M186.9 118.7h0.6 M204.3 120.1h0.6 M215.9 107.4h0.6 M207.9 101.3h0.6 M211.1 104.3h0.6 M178.5 100.2h0.6 M196.9 98.7h0.6 M213.1 114.3h0.6 M205.5 114.6h0.6 M185.9 98.7h0.6 M176.4 111.5h0.6 M212.6 113.8h0.6 M183.0 101.0h0.6 M174.2 110.2h0.6 M172.6 108.0h0.6 M174.2 112.1h0.6 M175.4 111.2h0.6 M186.1 115.4h0.6 M176.0 100.8h0.6 M200.2 116.3h0.6 M212.1 105.2h0.6 M178.8 114.7h0.6 M211.4 109.7h0.6 M204.5 98.8h0.6 M188.2 99.9h0.6 M195.4 118.8h0.6 M211.8 109.9h0.6 M175.4 106.1h0.6 M198.0 98.5h0.6 M174.0 104.5h0.6 M206.4 115.1h0.6 M205.9 118.8h0.6 M206.3 115.1h0.6 M216.3 96.9h0.6 M211.3 115.3h0.6 M213.3 109.9h0.6 M193.0 115.1h0.6 M211.7 104.8h0.6 M186.9 118.8h0.6 M211.8 120.0h0.6 M209.5 115.9h0.6 M184.1 114.6h0.6 M175.3 102.1h0.6 M212.4 110.6h0.6 M178.5 114.4h0.6 M214.2 112.4h0.6 M193.7 115.1h0.6 M183.2 116.7h0.6 M183.2 100.9h0.6 M206.6 114.5h0.6 M204.9 97.1h0.6 M205.3 118.6h0.6 M184.3 97.7h0.6 M198.7 117.0h0.6 M205.8 99.3h0.6 M188.9 98.1h0.6 M215.4 102.6h0.6 M177.5 100.8h0.6 M180.6 114.0h0.6 M174.7 110.4h0.6 M214.5 114.7h0.6 M175.0 112.4h0.6 M200.7 117.3h0.6 M175.3 104.9h0.6 M172.4 108.5h0.6 M195.8 93.0h0.6 M210.5 100.7h0.6 M216.8 98.3h0.6 M211.6 103.8h0.6 M211.7 112.9h0.6 M209.7 112.2h0.6 M175.1 109.9h0.6 M181.1 113.6h0.6 M188.5 99.7h0.6 M212.3 104.6h0.6 M191.4 98.0h0.6 M183.6 119.9h0.6 M199.8 124.1h0.6 M173.8 109.8h0.6 M176.3 114.3h0.6 M213.3 105.3h0.6 M205.5 91.5h0.6 M205.0 97.6h0.6 M211.4 115.6h0.6 M177.4 119.7h0.6 M206.0 118.8h0.6 M172.7 108.1h0.6 M176.3 101.9h0.6 M191.0 117.2h0.6 M198.2 98.3h0.6 M188.3 97.6h0.6 M177.3 102.9h0.6 M197.4 100.2h0.6 M202.5 99.8h0.6 M185.6 100.6h0.6 M202.8 120.8h0.6 M211.8 97.9h0.6 M172.2 102.8h0.6 M208.1 100.1h0.6 M175.8 104.3h0.6 M182.7 100.4h0.6 M208.8 101.6h0.6 M212.4 112.4h0.6 M186.6 99.4h0.6 M177.7 102.8h0.6 M195.6 117.6h0.6 M175.3 105.3h0.6 M187.5 118.3h0.6 M208.4 113.7h0.6 M213.9 103.5h0.6 M177.7 112.3h0.6 M214.2 98.9h0.6 M179.8 113.3h0.6 M215.6 106.8h0.6 M186.1 114.7h0.6 M176.0 104.9h0.6 M179.3 101.6h0.6 M175.4 113.5h0.6 M179.6 114.4h0.6 M181.5 98.6h0.6 M213.9 109.8h0.6 M174.4 109.4h0.6 M199.1 116.2h0.6 M175.4 102.3h0.6 M176.8 112.7h0.6 M211.5 106.1h0.6 M174.7 112.6h0.6 M185.4 119.5h0.6 M200.1 99.2h0.6 M176.5 103.4h0.6 M188.0 117.4h0.6 M222.1 99.1h0.6 M174.4 109.6h0.6 M184.5 118.5h0.6 M208.7 115.0h0.6 M194.8 99.5h0.6 M177.3 102.4h0.6 M218.7 103.9h0.6 M173.0 109.3h0.6 M212.4 108.9h0.6 M172.5 110.7h0.6 M171.4 105.3h0.6 M213.3 104.5h0.6 M215.3 109.0h0.6 M211.1 110.6h0.6 M198.3 115.5h0.6 M175.1 111.8h0.6 M213.1 108.0h0.6 M186.2 100.1h0.6 M212.1 102.7h0.6 M211.0 96.8h0.6 M174.4 104.2h0.6 M185.6 98.2h0.6 M179.4 115.9h0.6 M182.5 114.3h0.6 M202.4 99.6h0.6 M196.6 97.2h0.6 M211.7 109.2h0.6 M173.1 103.9h0.6 M181.5 120.3h0.6 M175.3 105.8h0.6 M221.4 108.8h0.6 M185.7 115.1h0.6 M176.6 116.5h0.6 M207.0 100.9h0.6 M174.9 110.5h0.6 M212.3 113.5h0.6 M174.9 102.5h0.6 M199.7 116.4h0.6 M173.6 111.6h0.6 M174.9 108.9h0.6 M213.7 108.6h0.6 M212.2 111.8h0.6 M208.8 118.9h0.6 M182.0 116.1h0.6 M172.6 114.9h0.6 M187.7 99.9h0.6 M197.9 115.1h0.6 M178.0 98.0h0.6 M204.0 98.9h0.6 M179.6 95.9h0.6 M207.9 102.1h0.6 M211.1 113.0h0.6 M178.3 101.8h0.6 M174.7 107.0h0.6 M175.3 109.9h0.6 M178.1 100.4h0.6 M179.4 100.6h0.6 M185.8 100.0h0.6 M205.5 117.6h0.6 M208.7 100.0h0.6 M202.0 114.9h0.6 M177.3 102.5h0.6 M174.8 106.3h0.6 M176.7 103.4h0.6 M189.3 99.5h0.6 M189.7 115.8h0.6 M205.5 100.2h0.6 M178.4 101.4h0.6 M212.1 115.8h0.6 M177.2 112.9h0.6 M201.7 100.0h0.6 M212.5 107.5h0.6 M196.4 99.8h0.6 M215.7 106.4h0.6 M212.2 105.7h0.6 M193.1 118.1h0.6 M220.2 97.8h0.6 M177.1 114.3h0.6 M178.4 117.2h0.6 M216.4 107.8h0.6 M216.0 104.1h0.6 M174.4 111.6h0.6 M177.6 101.7h0.6 M221.1 110.5h0.6 M217.1 110.7h0.6 M212.5 108.1h0.6 M197.2 99.0h0.6 M213.0 95.3h0.6 M197.7 117.0h0.6 M202.2 117.3h0.6 M201.9 117.0h0.6 M209.8 103.4h0.6 M198.0 117.4h0.6 M187.4 118.1h0.6 M198.4 98.0h0.6 M213.3 103.8h0.6 M178.7 113.5h0.6 M217.4 102.6h0.6 M204.4 99.7h0.6 M172.8 110.7h0.6 M178.9 99.4h0.6 M212.9 106.8h0.6 M169.5 109.1h0.6 M209.0 99.5h0.6 M208.2 98.6h0.6 M210.6 112.1h0.6 M204.4 97.4h0.6 M202.4 114.5h0.6 M180.8 114.6h0.6 M175.2 109.9h0.6 M208.0 97.8h0.6 M184.7 98.6h0.6 M177.1 114.1h0.6 M207.7 101.3h0.6 M194.9 116.6h0.6 M193.3 116.4h0.6 M194.8 119.2h0.6 M172.4 114.3h0.6 M199.0 120.0h0.6 M224.7 99.1h0.6 M182.4 117.7h0.6 M217.4 102.9h0.6 M211.1 103.0h0.6 M203.6 99.3h0.6 M196.2 115.5h0.6 M212.6 103.6h0.6 M181.2 115.1h0.6 M178.5 102.0h0.6 M208.6 100.0h0.6 M210.5 114.6h0.6 M173.9 109.8h0.6 M207.2 101.8h0.6 M219.4 109.6h0.6 M201.9 100.7h0.6 M197.8 114.8h0.6 M189.7 98.3h0.6 M211.0 100.0h0.6 M209.9 112.2h0.6 M201.6 95.2h0.6 M198.6 118.0h0.6 M191.1 99.2h0.6 M176.7 113.5h0.6 M184.5 97.1h0.6 M180.3 113.7h0.6 M173.7 107.4h0.6 M202.9 116.4h0.6 M212.8 114.0h0.6 M184.4 115.8h0.6 M173.8 106.8h0.6 M210.4 101.5h0.6 M208.6 115.5h0.6 M214.4 115.0h0.6 M191.0 97.6h0.6 M211.0 101.8h0.6 M210.6 112.9h0.6 M178.1 112.4h0.6 M175.5 111.4h0.6 M210.8 112.3h0.6 M179.8 99.0h0.6 M211.9 103.8h0.6 M213.3 112.1h0.6 M202.1 114.5h0.6 M208.0 112.8h0.6 M171.0 104.0h0.6 M174.1 108.8h0.6 M213.2 114.1h0.6 M216.9 105.4h0.6 M193.2 100.1h0.6 M174.3 111.9h0.6 M176.4 111.2h0.6 M213.9 109.7h0.6 M215.5 94.7h0.6 M178.5 113.7h0.6 M184.8 100.4h0.6 M213.6 107.8h0.6 M182.4 114.9h0.6 M197.0 118.6h0.6 M174.0 109.1h0.6 M175.8 110.7h0.6 M221.4 98.3h0.6 M188.5 98.1h0.6 M211.1 117.4h0.6 M174.5 111.4h0.6 M202.5 115.6h0.6 M174.5 110.2h0.6 M210.9 121.4h0.6 M175.5 100.9h0.6 M173.0 106.3h0.6 M176.4 101.2h0.6 M187.7 115.5h0.6 M215.4 101.3h0.6 M209.3 99.6h0.6 M177.4 103.1h0.6 M218.7 112.6h0.6 M211.4 105.4h0.6 M210.6 112.9h0.6 M176.7 100.8h0.6 M212.9 104.8h0.6 M174.8 108.8h0.6 M200.8 97.7h0.6 M187.3 100.1h0.6 M176.8 111.8h0.6 M195.9 99.4h0.6 M172.0 106.4h0.6 M196.2 99.4h0.6 M174.7 114.7h0.6 M216.9 115.0h0.6 M198.6 97.1h0.6 M193.2 115.6h0.6 M211.8 103.8h0.6 M214.1 112.2h0.6 M208.8 102.1h0.6 M206.3 114.5h0.6 M186.7 118.0h0.6 M205.8 100.7h0.6 M187.3 93.8h0.6 M185.7 114.5h0.6 M184.2 114.6h0.6 M172.4 110.4h0.6 M203.4 106.5h0.6 M195.7 89.4h0.6 M177.4 88.4h0.6 M173.9 94.3h0.6 M182.3 87.6h0.6 M172.9 93.8h0.6 M182.4 101.4h0.6 M179.6 89.3h0.6 M196.8 99.0h0.6 M176.0 92.1h0.6 M196.6 97.9h0.6 M191.8 88.0h0.6 M182.1 102.1h0.6 M195.0 99.6h0.6 M180.9 88.7h0.6 M171.6 95.8h0.6 M185.1 101.6h0.6 M185.4 101.0h0.6 M197.0 97.3h0.6 M195.2 101.5h0.6 M174.2 99.0h0.6 M175.5 91.5h0.6 M180.9 86.8h0.6 M196.0 87.0h0.6 M194.6 98.8h0.6 M197.1 90.2h0.6 M200.1 85.4h0.6 M174.4 90.5h0.6 M200.0 89.8h0.6 M184.1 101.3h0.6 M174.7 98.8h0.6 M178.8 99.3h0.6 M205.7 96.4h0.6 M173.5 99.2h0.6 M192.4 83.0h0.6 M184.9 84.8h0.6 M174.2 94.3h0.6 M193.9 81.8h0.6 M186.1 84.9h0.6 M181.8 87.4h0.6 M196.3 100.2h0.6 M186.5 102.8h0.6 M198.2 99.7h0.6 M202.1 95.1h0.6 M191.2 86.4h0.6 M186.8 101.1h0.6 M180.2 103.0h0.6 M174.6 97.9h0.6 M183.0 84.5h0.6 M184.7 86.3h0.6 M188.8 85.8h0.6 M196.1 98.5h0.6 M194.9 85.3h0.6 M177.1 103.9h0.6 M194.5 99.6h0.6 M178.1 99.9h0.6 M174.7 97.4h0.6 M179.5 87.1h0.6 M191.7 84.5h0.6 M176.3 97.3h0.6 M173.4 94.3h0.6 M172.8 90.9h0.6 M182.1 87.0h0.6 M200.0 86.2h0.6 M174.7 96.6h0.6 M171.2 95.1h0.6 M192.6 88.4h0.6 M195.5 87.5h0.6 M173.5 90.8h0.6 M186.0 100.8h0.6 M197.4 100.2h0.6 M194.2 100.7h0.6 M175.5 92.5h0.6 M203.3 97.9h0.6 M190.1 87.2h0.6 M199.9 89.3h0.6 M175.9 94.3h0.6 M181.9 100.7h0.6 M187.8 86.6h0.6 M181.2 85.3h0.6 M198.7 95.5h0.6 M187.9 100.5h0.6 M182.2 100.8h0.6 M176.9 96.9h0.6 M195.9 100.2h0.6 M198.4 100.4h0.6 M192.0 86.5h0.6 M196.4 89.8h0.6 M175.7 98.9h0.6 M175.4 92.9h0.6 M170.2 91.7h0.6 M173.8 100.4h0.6 M191.8 85.7h0.6 M193.9 88.9h0.6 M202.1 88.3h0.6 M187.5 87.9h0.6 M172.9 93.4h0.6 M195.8 102.1h0.6 M174.6 95.5h0.6 M191.4 83.0h0.6 M177.3 98.3h0.6 M178.5 86.6h0.6 M188.2 100.4h0.6 M204.5 93.6h0.6 M185.4 104.2h0.6 M185.8 102.9h0.6 M188.7 87.3h0.6 M184.7 87.1h0.6 M183.4 100.0h0.6 M190.1 85.8h0.6 M177.6 87.3h0.6 M193.1 85.6h0.6 M192.4 102.4h0.6 M177.8 87.8h0.6 M195.2 88.6h0.6 M182.8 85.8h0.6 M202.4 95.3h0.6 M174.5 96.9h0.6 M175.4 93.7h0.6 M184.1 87.3h0.6 M183.5 102.6h0.6 M196.8 100.2h0.6 M175.0 96.2h0.6 M197.4 101.7h0.6 M199.2 93.7h0.6 M175.9 88.6h0.6 M179.8 85.9h0.6 M176.0 101.4h0.6 M201.8 100.1h0.6 M178.3 100.0h0.6 M184.7 86.6h0.6 M204.0 88.2h0.6 M193.5 85.7h0.6 M175.3 92.3h0.6 M177.3 99.2h0.6 M199.5 101.9h0.6 M199.1 109.7h0.6 M174.8 101.4h0.6 M200.7 91.8h0.6 M201.3 87.9h0.6 M177.1 90.7h0.6 M191.8 85.1h0.6 M201.7 83.2h0.6 M197.9 95.5h0.6 M177.1 86.5h0.6 M175.0 97.6h0.6 M195.9 100.0h0.6 M198.4 88.8h0.6 M176.2 100.1h0.6 M188.3 87.2h0.6 M178.4 100.5h0.6 M180.5 99.2h0.6 M196.0 98.2h0.6 M181.5 86.8h0.6 M198.3 104.0h0.6 M176.2 85.2h0.6 M201.1 100.0h0.6 M175.8 88.1h0.6 M200.1 91.7h0.6 M198.5 94.7h0.6 M201.3 100.5h0.6 M193.7 88.0h0.6 M198.8 97.7h0.6 M178.9 99.0h0.6 M197.5 91.2h0.6 M176.9 90.1h0.6 M192.6 99.8h0.6 M187.5 102.6h0.6 M183.0 100.0h0.6 M175.6 89.3h0.6 M176.5 91.3h0.6 M201.5 96.0h0.6 M176.4 90.8h0.6 M176.0 98.4h0.6 M202.9 89.8h0.6 M201.8 97.1h0.6 M174.9 91.6h0.6 M188.5 83.4h0.6 M198.3 96.5h0.6 M189.0 88.2h0.6 M170.7 96.4h0.6 M186.6 85.7h0.6 M198.0 97.9h0.6 M176.0 97.5h0.6 M195.3 98.8h0.6 M175.6 92.0h0.6 M196.8 97.7h0.6 M181.9 104.8h0.6 M175.1 89.8h0.6 M193.8 85.4h0.6 M197.3 91.2h0.6 M200.9 93.5h0.6 M200.5 88.7h0.6 M204.8 102.2h0.6 M189.3 100.8h0.6 M195.5 88.3h0.6 M189.5 100.0h0.6 M174.8 93.9h0.6 M173.0 89.0h0.6 M201.0 96.4h0.6 M183.0 86.7h0.6 M188.8 103.0h0.6 M191.6 86.4h0.6 M189.3 87.4h0.6 M188.6 86.9h0.6 M202.8 95.3h0.6 M199.1 95.4h0.6 M178.5 89.6h0.6 M195.0 98.6h0.6 M182.0 88.1h0.6 M190.2 103.6h0.6 M176.0 93.1h0.6 M195.2 87.5h0.6 M181.0 107.4h0.6 M198.6 95.9h0.6 M175.8 89.1h0.6 M203.3 99.5h0.6 M186.4 85.9h0.6 M204.5 92.9h0.6 M195.5 87.8h0.6 M193.5 101.4h0.6 M198.4 90.3h0.6 M175.2 95.6h0.6 M176.6 89.3h0.6 M186.5 87.2h0.6 M199.4 98.9h0.6 M178.0 88.6h0.6 M181.1 100.3h0.6 M180.4 102.0h0.6 M196.1 102.2h0.6 M191.4 106.4h0.6 M182.1 83.0h0.6 M191.4 104.3h0.6 M178.1 104.4h0.6 M191.7 85.9h0.6 M199.6 88.2h0.6 M179.4 85.8h0.6 M171.6 97.3h0.6 M201.8 102.3h0.6 M176.0 95.5h0.6 M197.4 87.6h0.6 M191.3 100.0h0.6 M176.0 90.6h0.6 M197.3 97.1h0.6 M182.5 101.4h0.6 M181.8 88.0h0.6 M188.1 86.6h0.6 M187.6 85.5h0.6 M191.0 88.1h0.6 M175.2 90.0h0.6 M192.7 88.7h0.6 M202.3 94.9h0.6 M176.2 89.1h0.6 M193.0 102.0h0.6 M197.9 100.2h0.6 M200.2 91.4h0.6 M185.6 85.9h0.6 M179.0 88.0h0.6 M192.4 87.2h0.6 M184.6 103.3h0.6 M192.5 100.7h0.6 M204.1 88.2h0.6 M176.1 97.1h0.6 M181.8 101.1h0.6 M177.1 100.3h0.6 M174.0 94.6h0.6 M178.1 88.9h0.6 M174.5 97.4h0.6 M199.1 97.5h0.6 M175.5 88.4h0.6 M185.0 103.4h0.6 M195.2 100.9h0.6 M205.2 94.5h0.6 M198.8 90.7h0.6 M181.4 100.0h0.6 M175.7 86.2h0.6 M198.5 95.7h0.6 M174.3 97.5h0.6 M176.3 90.8h0.6 M200.9 95.5h0.6 M176.5 98.5h0.6 M200.2 95.2h0.6 M194.0 88.5h0.6 M174.6 89.6h0.6 M205.5 97.9h0.6 M188.3 101.5h0.6 M178.7 89.2h0.6 M177.2 101.6h0.6 M174.8 93.3h0.6 M185.4 86.0h0.6 M186.9 88.2h0.6 M197.0 102.4h0.6 M193.5 100.6h0.6 M202.7 98.6h0.6 M181.3 101.6h0.6 M192.2 103.1h0.6 M193.8 86.1h0.6 M186.6 87.3h0.6 M196.5 83.3h0.6 M199.7 85.6h0.6 M176.0 91.1h0.6 M181.6 87.3h0.6 M199.2 97.3h0.6 M192.8 101.5h0.6 M177.9 89.4h0.6 M194.7 99.6h0.6 M191.4 84.6h0.6 M176.5 88.0h0.6 M201.4 94.3h0.6 M187.8 103.4h0.6 M197.5 101.4h0.6 M180.4 89.0h0.6 M174.8 97.2h0.6 M198.1 95.5h0.6 M179.0 87.9h0.6 M202.0 103.2h0.6 M194.0 102.1h0.6 M195.4 98.9h0.6 M197.3 102.1h0.6 M195.6 99.5h0.6 M203.8 96.5h0.6 M178.5 87.5h0.6 M180.0 99.2h0.6 M176.5 97.6h0.6 M199.3 90.3h0.6 M175.6 95.1h0.6 M176.8 103.0h0.6 M191.1 86.1h0.6 M175.1 89.3h0.6 M174.5 94.0h0.6 M175.1 90.4h0.6 M172.1 92.5h0.6 M188.9 104.7h0.6 M173.9 94.2h0.6 M179.3 103.3h0.6 M192.9 100.9h0.6 M198.4 87.6h0.6 M174.7 92.8h0.6 M188.1 87.4h0.6 M174.7 94.8h0.6 M200.2 95.1h0.6 M191.5 100.3h0.6 M177.1 101.0h0.6 M183.8 102.3h0.6 M179.2 89.3h0.6 M176.6 96.5h0.6 M182.4 86.3h0.6 M209.1 96.1h0.6 M174.1 93.1h0.6 M193.4 86.4h0.6 M172.7 98.3h0.6 M196.2 88.2h0.6 M176.3 90.2h0.6 M178.5 98.5h0.6 M192.0 100.2h0.6 M199.0 103.4h0.6 M174.2 89.3h0.6 M175.8 101.1h0.6 M177.1 100.8h0.6 M198.8 92.6h0.6 M201.6 79.1h0.6 M205.7 105.4h0.6 M199.6 91.0h0.6 M176.7 89.4h0.6 M176.3 98.9h0.6 M196.5 108.8h0.6 M202.6 100.7h0.6 M192.7 85.1h0.6 M175.3 96.4h0.6 M191.3 87.5h0.6 M187.9 87.5h0.6 M200.6 86.4h0.6 M179.1 99.1h0.6 M175.9 87.0h0.6 M176.0 99.4h0.6 M183.1 88.3h0.6 M194.5 105.5h0.6 M179.7 99.4h0.6 M197.4 100.5h0.6 M175.6 88.0h0.6 M199.4 88.6h0.6 M174.3 96.8h0.6 M195.2 88.2h0.6 M177.8 99.9h0.6 M192.7 88.6h0.6 M193.1 86.7h0.6 M202.1 93.0h0.6 M181.2 85.1h0.6 M178.4 89.9h0.6 M195.1 89.4h0.6 M179.6 101.5h0.6 M198.5 84.1h0.6 M185.2 87.6h0.6 M205.0 88.7h0.6 M199.2 89.5h0.6 M199.2 89.6h0.6 M199.6 99.5h0.6 M172.2 90.6h0.6 M198.4 91.7h0.6 M194.9 100.0h0.6 M196.7 88.8h0.6 M178.8 87.1h0.6 M201.2 96.5h0.6 M191.6 100.7h0.6 M173.2 95.0h0.6 M184.1 87.9h0.6 M192.5 100.3h0.6 M175.9 99.2h0.6 M196.5 89.9h0.6 M192.0 83.8h0.6 M175.4 97.9h0.6 M196.1 86.1h0.6 M193.4 100.5h0.6 M201.9 90.0h0.6 M183.0 86.2h0.6 M175.1 96.1h0.6 M187.1 100.5h0.6 M190.9 102.6h0.6 M176.3 87.1h0.6 M187.1 86.6h0.6 M203.9 91.4h0.6 M175.6 92.5h0.6 M174.9 95.3h0.6 M179.8 101.1h0.6 M173.2 93.3h0.6 M180.5 87.9h0.6 M210.0 92.3h0.6 M179.9 103.7h0.6 M176.3 88.6h0.6 M174.9 96.2h0.6 M188.5 101.1h0.6 M191.6 88.4h0.6 M174.9 95.2h0.6 M200.4 90.6h0.6 M179.3 101.5h0.6 M179.9 87.9h0.6 M175.6 91.2h0.6 M198.3 95.4h0.6 M178.2 86.8h0.6 M184.3 99.8h0.6 M186.0 87.9h0.6 M194.2 100.0h0.6 M179.5 101.7h0.6 M195.2 85.1h0.6 M198.9 91.7h0.6 M180.6 88.6h0.6 M178.8 99.9h0.6 M177.0 98.5h0.6 M187.8 103.2h0.6 M174.8 103.2h0.6 M173.3 93.7h0.6 M177.1 101.7h0.6 M185.0 101.3h0.6 M174.3 94.2h0.6 M174.8 85.2h0.6 M178.4 101.1h0.6 M191.5 105.9h0.6 M197.1 85.8h0.6 M198.8 97.1h0.6 M190.0 86.5h0.6 M181.6 86.5h0.6 M198.7 85.1h0.6 M193.5 85.4h0.6 M185.6 104.5h0.6 M199.7 90.1h0.6 M181.8 101.8h0.6 M192.6 88.3h0.6 M173.4 91.6h0.6 M183.2 100.4h0.6 M184.4 87.9h0.6 M202.3 90.7h0.6 M176.7 90.3h0.6 M177.3 99.5h0.6 M175.3 94.8h0.6 M182.3 88.5h0.6 M198.1 100.9h0.6 M181.0 85.6h0.6 M204.0 95.7h0.6 M196.9 88.5h0.6 M199.3 87.2h0.6 M189.8 87.3h0.6 M199.2 99.1h0.6 M199.7 101.8h0.6 M182.4 86.5h0.6 M200.4 90.6h0.6 M196.2 87.5h0.6 M190.7 88.0h0.6 M197.7 92.0h0.6 M176.9 97.7h0.6 M174.8 91.7h0.6 M187.3 87.5h0.6 M202.5 101.1h0.6 M203.1 86.9h0.6 M175.4 90.7h0.6 M178.1 89.2h0.6 M188.4 83.8h0.6 M187.2 102.7h0.6 M195.6 88.0h0.6 M188.9 101.4h0.6 M200.0 96.1h0.6 M196.3 101.0h0.6 M173.6 95.2h0.6 M200.4 101.3h0.6 M174.4 92.9h0.6 M183.9 105.6h0.6 M174.4 98.4h0.6 M173.9 93.8h0.6 M195.3 87.8h0.6 M197.7 97.0h0.6 M184.6 101.3h0.6 M202.9 101.0h0.6 M191.8 84.2h0.6 M173.8 94.1h0.6 M198.8 88.3h0.6 M183.1 81.3h0.6 M197.7 91.7h0.6 M174.2 88.6h0.6 M178.4 89.3h0.6 M198.8 94.3h0.6 M197.6 96.7h0.6 M181.4 88.5h0.6 M195.8 102.1h0.6 M184.7 100.3h0.6 M184.2 103.6h0.6 M199.2 89.0h0.6 M178.6 89.6h0.6 M174.4 97.0h0.6 M183.9 101.2h0.6 M191.1 88.2h0.6 M179.7 85.7h0.6 M174.4 98.9h0.6 M197.1 98.9h0.6 M188.2 101.6h0.6 M198.9 91.8h0.6 M194.1 99.9h0.6 M193.6 88.8h0.6 M196.5 89.9h0.6 M178.9 101.3h0.6 M178.5 88.8h0.6 M178.6 87.0h0.6 M184.2 102.7h0.6 M178.5 87.0h0.6 M206.1 94.5h0.6 M176.0 89.4h0.6 M180.6 87.3h0.6 M177.7 98.0h0.6 M196.9 102.5h0.6 M197.4 87.4h0.6 M179.2 87.3h0.6 M184.5 103.9h0.6 M173.1 93.6h0.6 M187.7 103.7h0.6 M187.6 84.9h0.6 M197.8 98.6h0.6 M173.3 92.3h0.6 M191.2 86.2h0.6 M175.7 100.6h0.6 M175.4 91.0h0.6 M201.7 92.5h0.6 M177.8 102.0h0.6 M198.8 96.9h0.6 M182.7 86.9h0.6 M179.7 88.7h0.6 M175.4 95.0h0.6 M179.8 100.1h0.6 M194.3 86.9h0.6 M175.2 96.3h0.6 M176.2 91.5h0.6 M178.1 88.3h0.6 M185.1 101.8h0.6 M170.8 89.8h0.6 M175.2 100.5h0.6 M203.3 87.9h0.6 M197.4 89.4h0.6 M174.2 97.5h0.6 M181.5 102.4h0.6 M187.6 103.7h0.6 M174.2 94.1h0.6 M175.1 96.1h0.6 M183.2 104.5h0.6 M181.7 100.2h0.6 M176.7 97.4h0.6 M197.2 99.5h0.6 M180.2 101.4h0.6 M189.9 99.7h0.6 M197.9 88.0h0.6 M174.3 96.6h0.6 M198.7 91.6h0.6 M176.3 89.3h0.6 M204.0 94.1h0.6 M198.2 93.7h0.6 M175.2 97.7h0.6 M197.5 89.9h0.6 M173.5 88.8h0.6 M192.3 102.3h0.6 M196.7 102.6h0.6 M207.1 100.0h0.6 M180.6 100.2h0.6 M176.8 86.4h0.6 M199.6 86.7h0.6 M182.5 100.5h0.6 M172.9 98.6h0.6 M197.8 87.6h0.6 M196.4 98.9h0.6 M192.9 88.6h0.6 M179.5 87.5h0.6 M173.8 93.2h0.6 M175.9 90.9h0.6 M175.8 91.1h0.6 M195.2 102.2h0.6 M178.5 89.0h0.6 M176.1 89.8h0.6 M177.8 98.3h0.6 M199.2 96.1h0.6 M186.2 86.9h0.6 M174.6 93.3h0.6 M192.5 103.1h0.6 M189.8 101.6h0.6 M179.9 85.3h0.6 M177.8 104.0h0.6 M189.9 85.7h0.6 M201.9 96.7h0.6 M182.1 100.3h0.6 M196.7 98.1h0.6 M194.1 85.8h0.6 M188.4 102.5h0.6 M174.7 92.5h0.6 M175.1 96.3h0.6 M183.9 102.9h0.6 M196.3 99.6h0.6 M186.0 86.2h0.6 M190.0 84.4h0.6 M203.2 87.6h0.6 M190.7 87.8h0.6 M194.3 83.6h0.6 M186.3 85.1h0.6 M175.7 100.7h0.6 M202.5 88.4h0.6 M175.4 101.5h0.6 M181.9 86.6h0.6 M180.3 99.4h0.6 M181.2 86.8h0.6 M176.0 95.8h0.6 M192.4 86.9h0.6 M192.6 101.6h0.6 M202.2 98.0h0.6 M176.3 98.5h0.6 M172.2 90.2h0.6 M175.5 94.4h0.6 M193.8 88.9h0.6 M202.8 89.7h0.6 M190.2 88.1h0.6 M198.3 82.9h0.6 M197.4 88.4h0.6 M201.7 108.7h0.6 M179.5 89.1h0.6 M195.6 89.5h0.6 M199.6 101.0h0.6 M172.3 96.1h0.6 M176.1 95.9h0.6 M181.6 100.1h0.6 M182.9 102.8h0.6 M173.8 94.8h0.6 M176.7 89.9h0.6 M174.6 99.0h0.6 M193.7 89.0h0.6 M200.7 86.5h0.6 M181.9 102.0h0.6 M193.9 99.8h0.6 M188.7 86.9h0.6 M198.4 89.8h0.6 M196.6 100.2h0.6 M189.2 86.9h0.6 M199.1 93.5h0.6 M187.5 81.4h0.6 M190.4 86.5h0.6 M199.3 90.1h0.6 M179.8 99.4h0.6 M175.4 92.1h0.6 M184.7 101.1h0.6 M189.5 85.3h0.6 M198.1 90.8h0.6 M196.7 88.2h0.6 M177.6 98.8h0.6 M179.8 87.4h0.6 M201.1 103.6h0.6 M180.5 86.9h0.6 M198.1 96.5h0.6 M173.6 93.2h0.6 M175.1 99.1h0.6 M193.4 84.5h0.6 M204.5 106.5h0.6 M201.6 99.9h0.6 M193.8 89.0h0.6 M199.3 95.5h0.6 M175.1 97.5h0.6 M193.0 87.5h0.6 M176.9 99.2h0.6 M188.9 87.1h0.6 M179.1 99.0h0.6 M212.7 109.4h0.6 M186.0 114.7h0.6 M182.2 114.1h0.6 M209.8 112.3h0.6 M208.0 114.5h0.6 M211.0 103.4h0.6 M189.4 100.3h0.6 M175.6 104.5h0.6 M204.2 100.7h0.6 M179.1 114.8h0.6 M212.1 104.6h0.6 M201.5 100.4h0.6 M177.0 102.5h0.6 M210.2 102.1h0.6 M174.5 109.0h0.6 M212.2 109.3h0.6 M195.5 98.5h0.6 M214.0 108.3h0.6 M176.7 103.8h0.6 M178.7 100.9h0.6 M192.6 99.0h0.6 M211.6 116.1h0.6 M197.6 117.9h0.6 M178.2 112.6h0.6 M200.3 115.8h0.6 M210.0 111.7h0.6 M202.4 98.4h0.6 M209.4 113.0h0.6 M181.6 115.4h0.6 M174.9 111.0h0.6 M177.7 101.9h0.6 M178.6 112.9h0.6 M186.6 100.3h0.6 M181.6 117.2h0.6 M174.7 106.3h0.6 M210.9 110.8h0.6 M215.6 111.1h0.6 M177.9 101.3h0.6 M207.1 113.6h0.6 M212.7 110.0h0.6 M182.1 114.0h0.6 M205.1 100.0h0.6 M175.6 103.9h0.6 M210.2 111.2h0.6 M196.1 100.0h0.6 M178.4 114.7h0.6 M203.0 99.1h0.6 M185.1 99.8h0.6 M175.9 103.6h0.6 M176.1 111.6h0.6 M174.1 109.5h0.6 M181.9 115.2h0.6 M175.9 104.1h0.6 M186.6 100.1h0.6 M211.9 108.1h0.6 M204.0 114.3h0.6 M192.3 99.5h0.6 M175.2 108.5h0.6 M211.2 103.4h0.6 M212.1 104.1h0.6 M195.0 116.5h0.6 M201.5 99.5h0.6 M200.8 99.1h0.6 M200.0 115.9h0.6 M189.9 117.0h0.6 M211.9 104.0h0.6 M176.0 104.4h0.6 M177.5 113.0h0.6 M210.2 103.6h0.6 M207.8 117.0h0.6 M175.6 113.0h0.6 M203.4 99.4h0.6 M208.2 102.1h0.6 M210.8 114.3h0.6 M174.9 110.3h0.6 M201.4 114.5h0.6 M177.0 112.4h0.6 M209.4 100.7h0.6 M210.8 103.7h0.6 M176.4 112.1h0.6 M192.5 116.0h0.6 M181.9 99.8h0.6 M181.3 101.2h0.6 M195.8 99.5h0.6 M210.1 112.6h0.6 M199.9 114.6h0.6 M195.8 99.8h0.6 M211.0 103.9h0.6 M174.6 106.6h0.6 M197.1 115.9h0.6 M180.6 100.4h0.6 M211.9 102.2h0.6 M207.2 100.8h0.6 M208.4 100.1h0.6 M206.2 98.1h0.6 M211.2 105.1h0.6 M201.3 114.9h0.6 M174.8 104.4h0.6 M176.4 111.9h0.6 M177.3 111.7h0.6 M177.8 102.9h0.6 M211.0 114.2h0.6 M200.3 117.0h0.6 M189.0 114.9h0.6 M191.1 100.2h0.6 M206.2 100.3h0.6 M201.6 115.4h0.6 M213.4 109.6h0.6 M175.2 109.6h0.6 M179.7 113.2h0.6 M173.3 108.9h0.6 M178.6 113.0h0.6 M209.2 102.1h0.6 M206.6 116.0h0.6 M177.4 103.2h0.6 M214.2 111.7h0.6 M192.0 98.8h0.6 M184.8 117.0h0.6 M207.2 99.6h0.6 M173.4 104.5h0.6 M198.8 116.8h0.6 M188.9 99.5h0.6 M176.7 111.4h0.6 M206.6 99.6h0.6 M190.9 100.2h0.6 M175.5 109.9h0.6 M186.8 116.3h0.6 M177.9 102.5h0.6 M212.0 107.8h0.6 M176.4 112.0h0.6 M187.8 114.9h0.6 M174.8 108.3h0.6 M208.4 101.6h0.6 M181.4 99.0h0.6 M210.3 101.3h0.6 M211.3 102.2h0.6 M201.8 115.3h0.6 M204.6 115.0h0.6 M189.1 115.0h0.6 M209.2 112.9h0.6 M205.2 101.2h0.6 M200.9 114.8h0.6 M216.9 108.0h0.6 M205.9 114.5h0.6 M175.8 102.8h0.6 M177.2 102.8h0.6 M190.0 98.2h0.6 M199.6 98.4h0.6 M211.0 114.7h0.6 M198.0 100.2h0.6 M178.2 113.9h0.6 M174.9 106.5h0.6 M212.9 110.5h0.6 M176.5 111.0h0.6 M181.6 114.3h0.6 M210.2 113.0h0.6 M193.1 115.5h0.6 M180.7 114.6h0.6 M208.6 100.8h0.6 M206.4 113.5h0.6 M183.2 115.9h0.6 M187.2 99.2h0.6 M183.4 115.5h0.6 M214.5 106.9h0.6 M204.5 116.1h0.6 M176.0 110.9h0.6 M174.8 105.4h0.6 M176.7 103.5h0.6 M178.2 112.6h0.6 M198.8 99.3h0.6 M205.8 114.8h0.6 M210.3 103.6h0.6 M214.3 108.4h0.6 M187.0 98.4h0.6 M196.3 114.8h0.6 M211.0 113.3h0.6 M209.8 113.3h0.6 M177.5 112.1h0.6 M213.1 105.2h0.6 M182.6 100.3h0.6 M179.2 101.8h0.6 M180.9 100.7h0.6 M198.8 114.7h0.6 M177.3 112.7h0.6 M186.5 114.8h0.6 M184.5 114.4h0.6 M178.1 102.3h0.6 M175.1 112.0h0.6 M178.0 100.4h0.6 M182.7 100.8h0.6 M200.2 99.5h0.6 M186.1 115.2h0.6 M204.9 101.2h0.6 M212.3 105.2h0.6 M200.5 115.7h0.6 M175.6 111.3h0.6 M214.7 103.7h0.6 M187.6 99.8h0.6 M183.9 115.3h0.6 M213.7 110.0h0.6 M186.7 115.5h0.6 M212.4 106.8h0.6 M206.3 99.6h0.6 M179.9 101.5h0.6 M199.5 99.0h0.6 M214.6 103.0h0.6 M181.6 114.5h0.6 M208.4 113.0h0.6 M180.5 99.8h0.6 M212.5 105.8h0.6 M201.0 100.5h0.6 M213.0 111.4h0.6 M176.0 110.7h0.6 M205.4 114.6h0.6 M180.8 114.0h0.6 M183.4 114.9h0.6 M211.4 111.9h0.6 M178.2 101.8h0.6 M182.8 115.7h0.6 M175.4 104.0h0.6 M178.6 113.3h0.6 M176.5 112.2h0.6 M175.7 103.4h0.6 M210.3 112.1h0.6 M209.9 103.2h0.6 M199.7 115.3h0.6 M182.3 100.2h0.6 M177.5 112.2h0.6 M197.8 115.0h0.6 M210.6 111.2h0.6 M196.4 115.7h0.6 M201.0 114.6h0.6 M179.2 116.0h0.6 M186.2 98.9h0.6 M203.8 98.9h0.6 M179.7 101.4h0.6 M212.2 108.3h0.6 M184.6 100.4h0.6 M180.1 113.8h0.6 M211.7 105.4h0.6 M188.7 115.4h0.6 M184.0 115.1h0.6 M202.2 114.8h0.6 M213.4 108.6h0.6 M213.3 103.7h0.6 M214.1 106.2h0.6 M176.1 104.7h0.6 M200.7 114.6h0.6 M200.0 100.3h0.6 M190.2 115.3h0.6 M210.6 111.8h0.6 M180.6 115.0h0.6 M176.0 103.6h0.6 M175.9 105.2h0.6 M212.4 108.3h0.6 M206.4 117.5h0.6 M175.3 111.6h0.6 M197.7 99.4h0.6 M183.3 114.0h0.6 M198.5 99.3h0.6 M173.6 106.7h0.6 M203.8 115.5h0.6 M175.3 107.7h0.6 M198.4 100.1h0.6 M201.3 114.8h0.6 M198.4 99.9h0.6 M186.6 100.0h0.6 M180.2 114.5h0.6 M174.7 108.2h0.6 M211.4 104.8h0.6 M183.9 114.7h0.6 M174.5 110.0h0.6 M179.1 101.8h0.6 M199.6 99.0h0.6 M186.1 114.6h0.6 M199.7 99.2h0.6 M174.4 107.8h0.6 M208.6 102.5h0.6 M204.6 115.0h0.6 M175.6 104.8h0.6 M196.2 100.0h0.6 M175.7 110.7h0.6 M213.0 106.1h0.6 M198.7 114.8h0.6 M175.4 109.4h0.6 M176.5 102.5h0.6 M198.4 116.9h0.6 M182.8 114.3h0.6 M213.6 109.2h0.6 M211.6 105.2h0.6 M178.6 102.2h0.6 M211.2 103.5h0.6 M196.1 100.1h0.6 M186.0 114.5h0.6 M176.2 112.0h0.6 M175.1 109.6h0.6 M201.4 118.1h0.6 M207.6 101.5h0.6 M203.1 100.6h0.6 M174.9 109.2h0.6 M210.4 103.8h0.6 M205.9 100.9h0.6 M216.9 108.9h0.6 M176.8 103.6h0.6 M212.5 108.3h0.6 M183.4 99.4h0.6 M211.3 112.9h0.6 M204.5 114.3h0.6 M207.4 113.7h0.6 M212.6 104.2h0.6 M183.4 114.2h0.6 M175.7 109.6h0.6 M206.2 114.7h0.6 M185.6 100.3h0.6 M178.3 102.3h0.6 M186.2 99.0h0.6 M206.8 101.5h0.6 M198.9 99.9h0.6 M212.8 104.2h0.6 M208.5 114.4h0.6 M208.4 99.8h0.6 M210.1 103.6h0.6 M200.1 117.9h0.6 M208.7 102.1h0.6 M212.7 113.7h0.6 M178.6 101.9h0.6 M175.4 105.9h0.6 M179.9 113.1h0.6 M206.2 115.6h0.6 M191.0 115.1h0.6 M207.9 100.6h0.6 M211.9 104.3h0.6 M199.4 116.2h0.6 M197.6 118.8h0.6 M186.2 99.6h0.6 M190.0 116.9h0.6 M178.3 113.5h0.6 M207.2 100.7h0.6 M186.3 115.2h0.6 M175.2 109.6h0.6 M182.0 100.4h0.6 M179.4 115.6h0.6 M178.6 112.6h0.6 M200.2 98.4h0.6 M190.1 116.1h0.6 M176.7 102.3h0.6 M182.8 114.0h0.6 M191.3 99.9h0.6 M177.2 111.7h0.6 M179.9 114.7h0.6 M184.2 114.8h0.6 M191.5 114.7h0.6 M180.1 101.1h0.6 M173.6 105.2h0.6 M183.9 114.6h0.6 M177.7 112.9h0.6 M207.6 114.6h0.6 M214.5 102.4h0.6 M211.6 101.8h0.6 M212.1 105.1h0.6 M180.4 101.2h0.6 M181.5 101.1h0.6 M215.7 104.2h0.6 M175.4 111.1h0.6 M184.0 99.3h0.6 M205.9 101.5h0.6 M209.0 99.6h0.6 M180.8 114.2h0.6 M203.8 100.1h0.6 M203.7 100.6h0.6 M200.3 99.6h0.6 M190.9 115.8h0.6 M205.5 100.3h0.6 M203.7 99.2h0.6 M212.3 109.5h0.6 M208.5 116.0h0.6 M211.8 110.6h0.6 M175.3 105.2h0.6 M210.8 103.4h0.6 M212.5 111.6h0.6 M207.9 101.1h0.6 M200.3 99.5h0.6 M206.1 114.5h0.6 M189.6 98.7h0.6 M212.0 109.8h0.6 M205.0 99.3h0.6 M175.1 108.2h0.6 M176.5 102.8h0.6 M187.8 115.3h0.6 M174.5 103.8h0.6 M183.9 114.4h0.6 M174.7 106.1h0.6 M205.7 115.1h0.6 M178.7 112.9h0.6 M178.7 115.1h0.6 M185.6 115.1h0.6 M192.8 99.4h0.6 M181.4 114.0h0.6 M183.3 99.9h0.6 M181.0 101.1h0.6 M196.5 98.4h0.6 M179.5 88.2h0.6 M178.4 98.3h0.6 M187.3 102.3h0.6 M175.4 92.6h0.6 M176.6 90.7h0.6 M193.3 88.0h0.6 M179.6 87.5h0.6 M193.3 87.3h0.6 M194.9 99.4h0.6 M189.4 87.9h0.6 M199.2 93.3h0.6 M196.8 89.6h0.6 M189.3 87.8h0.6 M180.2 99.6h0.6 M194.8 88.4h0.6 M179.2 99.5h0.6 M178.2 89.4h0.6 M198.5 96.9h0.6 M176.9 90.1h0.6 M192.3 85.5h0.6 M193.9 99.1h0.6 M185.2 87.7h0.6 M180.5 99.6h0.6 M177.8 99.4h0.6 M190.6 88.3h0.6 M191.1 86.7h0.6 M176.8 89.8h0.6 M199.6 96.0h0.6 M178.3 87.9h0.6 M173.7 93.5h0.6 M175.9 90.0h0.6 M198.7 96.8h0.6 M176.1 95.6h0.6 M177.8 90.2h0.6 M175.6 94.3h0.6 M180.9 87.0h0.6 M198.5 93.9h0.6 M198.9 92.5h0.6 M176.3 90.5h0.6 M190.3 102.0h0.6 M198.9 92.1h0.6 M177.2 99.0h0.6 M196.2 97.8h0.6 M186.0 101.4h0.6 M200.7 98.0h0.6 M180.1 100.2h0.6 M185.6 99.9h0.6 M193.0 99.4h0.6 M184.1 100.1h0.6 M199.2 97.4h0.6 M175.0 94.3h0.6 M181.2 99.8h0.6 M194.1 87.9h0.6 M194.0 88.9h0.6 M178.3 99.7h0.6 M198.0 93.1h0.6 M189.5 100.1h0.6 M199.4 90.8h0.6 M174.9 94.7h0.6 M182.9 87.3h0.6 M179.7 88.7h0.6 M191.2 86.8h0.6 M193.0 88.1h0.6 M194.0 100.0h0.6 M201.0 98.3h0.6 M176.2 95.9h0.6 M182.1 101.1h0.6 M198.6 89.0h0.6 M199.7 91.5h0.6 M177.1 97.9h0.6 M189.6 101.6h0.6 M175.5 92.9h0.6 M198.1 97.5h0.6 M193.0 100.7h0.6 M195.6 88.5h0.6 M175.9 95.9h0.6 M178.5 99.7h0.6 M199.1 92.6h0.6 M189.8 99.9h0.6 M175.6 93.5h0.6 M177.9 89.8h0.6 M196.6 88.8h0.6 M175.7 94.1h0.6 M187.5 100.9h0.6 M178.2 98.4h0.6 M189.8 86.3h0.6 M197.0 99.6h0.6 M181.6 100.3h0.6 M194.6 101.5h0.6 M175.2 90.8h0.6 M176.1 92.7h0.6 M183.3 101.0h0.6 M193.7 99.6h0.6 M175.9 91.9h0.6 M197.8 95.9h0.6 M175.8 94.2h0.6 M179.0 88.5h0.6 M186.0 100.1h0.6 M174.5 92.0h0.6 M198.1 90.1h0.6 M199.0 94.6h0.6 M178.6 98.4h0.6 M175.1 97.7h0.6 M176.3 96.5h0.6 M175.9 92.9h0.6 M194.1 88.7h0.6 M175.7 94.3h0.6 M177.6 89.5h0.6 M198.5 90.8h0.6 M199.1 93.5h0.6 M181.6 99.4h0.6 M185.4 101.3h0.6 M175.9 91.3h0.6 M197.9 98.1h0.6 M189.5 103.4h0.6 M182.8 102.0h0.6 M188.5 100.0h0.6 M193.9 100.7h0.6 M175.4 96.8h0.6 M187.9 101.0h0.6 M185.7 88.0h0.6 M178.1 87.7h0.6 M175.5 98.3h0.6 M186.1 99.8h0.6 M176.2 96.2h0.6 M197.3 91.1h0.6 M182.3 100.6h0.6 M191.5 88.0h0.6 M186.9 100.8h0.6 M185.6 100.3h0.6 M180.8 87.8h0.6 M181.3 88.4h0.6 M200.2 95.6h0.6 M180.5 88.8h0.6 M175.6 89.7h0.6 M181.8 87.9h0.6 M193.2 86.4h0.6 M197.3 90.5h0.6 M186.4 87.5h0.6 M179.8 98.8h0.6 M175.8 90.4h0.6 M196.8 97.8h0.6 M197.0 98.2h0.6 M195.8 88.6h0.6 M175.8 96.2h0.6 M176.8 91.0h0.6 M198.6 92.5h0.6 M200.1 95.9h0.6 M180.4 100.4h0.6 M178.7 88.5h0.6 M175.6 93.0h0.6 M192.8 86.8h0.6 M176.6 90.1h0.6 M196.5 89.2h0.6 M198.9 95.3h0.6 M199.9 95.8h0.6 M192.4 99.8h0.6 M194.4 99.9h0.6 M174.8 90.7h0.6 M176.3 97.8h0.6 M175.6 94.5h0.6 M199.3 98.1h0.6 M184.6 88.1h0.6 M196.6 90.0h0.6 M189.5 100.0h0.6 M193.2 99.7h0.6 M193.7 87.6h0.6 M177.3 90.4h0.6 M198.9 90.1h0.6 M196.7 88.6h0.6 M199.5 91.3h0.6 M192.9 87.5h0.6 M197.1 97.8h0.6 M184.8 100.2h0.6 M189.6 88.0h0.6 M174.9 93.7h0.6 M181.1 100.7h0.6 M196.8 90.6h0.6 M189.9 100.7h0.6 M198.5 91.7h0.6 M197.8 90.8h0.6 M198.5 95.7h0.6 M189.4 101.2h0.6 M177.5 90.3h0.6 M186.4 87.0h0.6 M175.4 98.0h0.6 M193.1 101.2h0.6 M190.8 101.0h0.6 M197.1 97.1h0.6 M182.4 100.5h0.6 M186.1 100.8h0.6 M197.5 90.8h0.6 M175.4 92.1h0.6 M199.6 99.0h0.6 M197.8 98.1h0.6 M179.0 98.6h0.6 M190.2 100.7h0.6 M189.9 100.7h0.6 M179.8 88.9h0.6 M188.3 102.4h0.6 M175.1 93.4h0.6 M198.0 91.4h0.6 M174.0 92.6h0.6 M199.8 98.7h0.6 M199.3 91.8h0.6 M175.5 98.1h0.6 M181.2 101.1h0.6 M188.0 87.9h0.6 M189.1 101.8h0.6 M198.2 96.5h0.6 M175.4 92.8h0.6 M179.2 99.5h0.6 M195.3 99.3h0.6 M184.2 100.2h0.6 M196.9 89.4h0.6 M196.0 88.6h0.6 M180.0 88.9h0.6 M196.2 89.7h0.6 M190.4 100.6h0.6 M199.0 96.6h0.6 M177.8 98.1h0.6 M188.7 87.8h0.6 M200.9 95.2h0.6 M175.8 98.7h0.6 M183.8 100.1h0.6 M192.0 88.6h0.6 M182.7 100.2h0.6 M190.9 87.9h0.6 M196.1 99.8h0.6 M193.6 100.2h0.6 M179.6 88.3h0.6 M195.5 89.0h0.6 M175.0 92.4h0.6 M178.0 89.8h0.6 M176.3 92.0h0.6 M176.4 97.1h0.6 M179.7 99.5h0.6 M186.7 101.1h0.6 M198.5 99.4h0.6 M177.7 98.6h0.6 M189.1 86.6h0.6 M193.5 99.4h0.6 M197.1 88.8h0.6 M192.0 101.3h0.6 M176.6 88.9h0.6 M193.5 100.0h0.6 M196.5 88.9h0.6 M193.5 100.5h0.6 M175.7 92.4h0.6 M184.8 87.5h0.6 M197.0 97.4h0.6 M174.9 94.5h0.6 M184.5 86.9h0.6 M193.6 99.3h0.6 M191.5 99.5h0.6 M178.6 89.1h0.6 M181.3 87.9h0.6 M176.1 96.2h0.6 M176.1 97.3h0.6 M196.1 98.1h0.6 M176.6 90.6h0.6 M198.2 90.5h0.6 M193.2 102.0h0.6 M191.8 87.6h0.6 M184.6 99.8h0.6 M181.2 88.1h0.6 M175.9 94.1h0.6 M183.8 99.7h0.6 M196.6 90.3h0.6 M182.5 100.6h0.6 M184.7 86.6h0.6 M190.5 87.4h0.6 M176.1 97.2h0.6 M190.9 87.5h0.6 M178.3 89.9h0.6 M176.5 96.7h0.6 M191.3 86.0h0.6 M199.0 97.6h0.6 M198.3 96.2h0.6 M183.2 101.6h0.6 M190.2 99.8h0.6 M192.9 100.1h0.6 M181.7 88.0h0.6 M180.5 88.7h0.6 M190.1 100.1h0.6 M193.0 87.9h0.6 M175.5 94.3h0.6 M198.6 95.8h0.6 M200.9 91.8h0.6 M181.4 100.4h0.6 M196.8 86.7h0.6 M175.0 96.1h0.6 M176.4 91.2h0.6 M176.7 90.8h0.6 M175.1 93.7h0.6 M190.5 87.3h0.6 M198.5 92.5h0.6 M197.6 97.5h0.6 M199.5 92.8h0.6 M199.5 94.3h0.6 M204.8 90.9h0.6 M204.0 92.0h0.6 M195.6 88.2h0.6 M201.1 91.7h0.6 M205.2 100.5h0.6 M202.6 102.7h0.6 M201.8 94.3h0.6 M202.6 87.0h0.6 M203.2 93.0h0.6 M200.3 96.9h0.6 M205.0 92.6h0.6 M200.1 95.1h0.6 M200.4 90.4h0.6 M201.6 97.7h0.6 M202.4 93.2h0.6 M202.2 96.3h0.6 M202.9 97.2h0.6 M202.9 97.3h0.6 M202.3 90.8h0.6 M205.0 93.0h0.6 M201.7 99.7h0.6 M201.6 90.7h0.6 M202.2 99.7h0.6 M198.3 98.6h0.6 M205.4 92.2h0.6 M202.2 90.9h0.6 M195.7 90.1h0.6 M198.1 87.4h0.6 M201.8 96.3h0.6 M199.9 92.5h0.6 M200.5 93.0h0.6 M204.9 98.8h0.6 M205.7 95.4h0.6 M208.7 96.8h0.6 M205.3 96.2h0.6 M206.5 89.7h0.6 M200.0 94.2h0.6 M196.6 92.8h0.6 M202.1 95.2h0.6 M206.0 99.2h0.6 M194.4 94.8h0.6 M204.7 99.7h0.6 M201.0 95.6h0.6 M202.8 90.1h0.6 M204.3 97.8h0.6 M202.0 94.3h0.6 M207.5 93.1h0.6 M202.1 95.1h0.6 M205.0 95.5h0.6 M208.0 95.7h0.6 M198.8 87.3h0.6 M203.0 100.7h0.6 M203.5 92.1h0.6 M204.4 96.0h0.6 M208.1 88.7h0.6 M206.2 94.7h0.6 M206.5 98.3h0.6 M194.8 97.6h0.6 M205.2 90.7h0.6 M202.8 98.2h0.6 M197.6 97.5h0.6 M206.3 101.0h0.6 M200.1 91.4h0.6 M207.1 92.7h0.6 M204.9 83.3h0.6 M212.4 86.3h0.6 M197.0 95.9h0.6 M205.2 90.6h0.6 M194.9 96.1h0.6 M204.2 90.2h0.6 M203.8 91.5h0.6 M199.4 96.7h0.6 M203.3 94.0h0.6 M198.6 91.0h0.6 M202.2 91.4h0.6 M204.6 94.0h0.6 M202.4 93.2h0.6 M204.8 98.0h0.6 M199.2 97.8h0.6 M206.7 97.1h0.6 M201.2 94.7h0.6 M211.3 88.5h0.6 M206.5 92.8h0.6 M209.6 94.4h0.6 M206.5 91.3h0.6 M201.4 100.4h0.6 M198.4 91.8h0.6 M202.3 88.8h0.6 M205.7 88.9h0.6 M203.5 92.9h0.6 M194.9 94.5h0.6 M197.4 94.0h0.6 M194.4 91.7h0.6 M206.4 95.0h0.6 M207.6 100.5h0.6 M206.1 93.1h0.6 M202.8 96.4h0.6 M198.5 89.6h0.6 M203.2 101.0h0.6 M199.0 94.9h0.6 M200.6 96.8h0.6 M204.6 93.7h0.6 M206.7 92.8h0.6 M196.9 102.5h0.6 M202.9 95.1h0.6 M206.3 90.6h0.6 M201.5 90.8h0.6 M205.5 95.5h0.6 M204.0 88.5h0.6 M200.1 88.0h0.6 M198.1 90.8h0.6 M204.4 95.9h0.6 M196.4 96.5h0.6 M204.6 100.4h0.6 M206.5 87.7h0.6 M205.1 94.8h0.6 M204.5 90.9h0.6 M208.7 94.3h0.6 M201.1 86.5h0.6 M202.3 88.2h0.6 M197.7 100.5h0.6 M203.0 97.9h0.6 M207.5 96.9h0.6 M201.6 89.1h0.6 M202.6 94.4h0.6 M202.7 92.6h0.6 M203.8 88.0h0.6 M207.3 89.0h0.6 M203.7 90.3h0.6 M208.4 91.6h0.6 M199.7 92.3h0.6 M206.6 88.8h0.6 M198.3 91.7h0.6 M206.2 81.8h0.6 M206.8 103.1h0.6 M202.6 97.7h0.6 M202.8 86.2h0.6 M201.6 96.4h0.6 M199.0 92.6h0.6 M200.7 95.5h0.6 M212.8 94.2h0.6 M198.3 100.7h0.6 M202.2 92.1h0.6 M205.2 97.0h0.6 M204.1 95.3h0.6 M204.0 88.9h0.6 M206.3 97.4h0.6 M200.3 86.6h0.6 M201.0 94.6h0.6 M208.7 94.8h0.6 M190.8 91.3h0.6 M203.5 94.8h0.6 M197.4 92.4h0.6 M203.8 96.7h0.6 M206.4 100.7h0.6 M200.6 92.1h0.6 M201.6 95.9h0.6 M211.0 94.6h0.6 M203.9 90.0h0.6 M198.4 101.2h0.6 M203.0 99.7h0.6 M206.4 91.8h0.6 M204.2 90.1h0.6 M205.7 93.2h0.6 M206.3 99.0h0.6 M201.0 97.2h0.6 M205.0 91.7h0.6 M204.3 99.0h0.6 M203.9 97.9h0.6 M204.6 99.1h0.6 M202.8 92.5h0.6 M205.7 84.4h0.6 M201.3 100.2h0.6 M200.4 101.5h0.6 M209.5 91.8h0.6 M200.4 95.5h0.6 M206.8 101.1h0.6 M209.2 90.9h0.6 M206.6 91.7h0.6 M207.5 95.8h0.6 M208.9 93.5h0.6 M206.5 88.6h0.6 M199.6 95.9h0.6 M203.7 97.5h0.6 M212.2 91.2h0.6 M198.7 89.4h0.6 M200.9 98.6h0.6 M204.8 92.6h0.6 M205.9 93.1h0.6 M204.3 93.7h0.6 M198.1 97.2h0.6 M204.0 103.1h0.6 M203.7 91.3h0.6 M204.0 90.8h0.6 M203.2 92.3h0.6 M204.6 90.0h0.6 M202.9 92.1h0.6 M199.5 93.5h0.6 M206.0 96.8h0.6 M204.6 93.3h0.6 M207.0 92.6h0.6 M206.0 86.6h0.6 M198.7 90.8h0.6 M207.8 92.7h0.6 M205.1 89.2h0.6 M197.5 105.5h0.6 M209.8 101.1h0.6 M203.4 91.0h0.6 M204.4 92.8h0.6 M201.5 83.5h0.6 M204.2 84.6h0.6 M201.4 87.4h0.6 M211.2 88.4h0.6 M201.8 95.3h0.6 M202.1 94.8h0.6 M207.0 91.1h0.6 M205.4 93.2h0.6 M198.3 95.0h0.6 M199.2 98.1h0.6 M203.4 94.5h0.6 M207.3 90.3h0.6 M200.3 99.7h0.6 M206.2 95.6h0.6 M195.6 93.8h0.6 M199.7 91.2h0.6 M197.0 86.9h0.6 M201.7 95.3h0.6 M201.4 93.0h0.6 M203.7 99.4h0.6 M201.1 94.3h0.6 M214.2 93.6h0.6 M206.6 88.8h0.6 M199.2 91.9h0.6 M215.5 91.1h0.6 M209.0 91.6h0.6 M198.5 85.9h0.6 M204.1 98.1h0.6 M200.3 92.0h0.6 M199.0 90.7h0.6 M207.5 91.4h0.6 M199.3 96.3h0.6 M204.5 93.5h0.6 M211.6 95.0h0.6 M208.0 88.5h0.6 M203.2 99.0h0.6 M206.4 97.5h0.6 M197.6 92.5h0.6 M210.1 99.8h0.6 M191.2 85.8h0.6 M208.9 97.0h0.6 M208.7 82.0h0.6 M203.8 97.0h0.6 M208.3 89.6h0.6 M207.7 97.0h0.6 M201.4 100.3h0.6 M208.6 97.4h0.6 M201.6 94.9h0.6 M203.3 100.7h0.6 M213.3 90.1h0.6 M211.5 95.5h0.6 M200.7 90.7h0.6 M209.7 95.0h0.6 M200.8 92.9h0.6 M201.9 93.1h0.6 M210.8 90.8h0.6 M202.2 81.0h0.6 M205.5 97.6h0.6 M211.8 91.1h0.6 M202.3 92.0h0.6 M198.4 93.7h0.6 M200.3 92.7h0.6 M204.1 96.8h0.6 M203.7 103.7h0.6 M204.8 95.9h0.6 M205.6 93.3h0.6 M207.4 94.3h0.6 M198.0 91.5h0.6 M209.5 86.9h0.6 M210.7 94.2h0.6 M204.5 98.9h0.6 M204.4 91.7h0.6 M194.6 91.1h0.6 M198.7 96.6h0.6 M203.9 89.7h0.6 M208.3 97.4h0.6 M212.6 94.8h0.6 M198.5 94.1h0.6 M206.6 97.4h0.6 M198.1 95.6h0.6 M206.2 95.3h0.6 M196.8 91.7h0.6 M203.0 92.7h0.6 M207.2 92.0h0.6 M196.0 84.8h0.6 M205.5 90.3h0.6 M203.3 98.3h0.6 M201.4 93.5h0.6 M197.6 88.6h0.6 M205.9 98.5h0.6 M210.6 113.5h0.6 M213.1 110.7h0.6 M212.4 111.4h0.6 M213.7 109.9h0.6 M208.4 108.4h0.6 M207.2 108.4h0.6 M215.0 117.4h0.6 M207.1 111.9h0.6 M211.8 116.4h0.6 M211.4 112.3h0.6 M209.5 113.7h0.6 M210.1 110.5h0.6 M218.6 112.5h0.6 M213.3 114.6h0.6 M221.6 111.5h0.6 M211.3 113.9h0.6 M217.7 112.9h0.6 M212.4 114.0h0.6 M208.8 113.8h0.6 M211.2 112.8h0.6 M217.4 110.8h0.6 M216.7 111.0h0.6 M211.2 120.7h0.6 M211.1 113.6h0.6 M219.7 116.7h0.6 M216.5 117.9h0.6 M213.0 116.6h0.6 M212.5 118.7h0.6 M212.8 116.7h0.6 M212.7 121.0h0.6 M217.5 109.1h0.6 M211.0 109.1h0.6 M209.1 107.6h0.6 M215.1 111.5h0.6 M216.7 111.0h0.6 M210.4 110.1h0.6 M214.7 111.4h0.6 M205.9 109.2h0.6 M215.8 110.9h0.6 M211.6 111.0h0.6 M211.4 113.9h0.6 M210.9 107.9h0.6 M222.9 112.3h0.6 M207.2 116.8h0.6 M215.0 108.4h0.6 M210.0 117.7h0.6 M211.1 114.1h0.6 M218.2 110.1h0.6 M215.4 107.5h0.6 M206.5 114.8h0.6 M213.4 116.5h0.6 M209.8 104.3h0.6 M208.5 113.3h0.6 M209.3 111.7h0.6 M212.4 114.3h0.6 M206.2 112.0h0.6 M213.0 119.5h0.6 M209.1 107.4h0.6 M216.7 115.9h0.6 M205.2 111.0h0.6 M214.5 112.4h0.6 M218.6 118.4h0.6 M217.4 115.8h0.6 M214.8 119.5h0.6 M211.6 115.6h0.6 M205.8 115.0h0.6 M213.3 107.9h0.6 M206.6 105.2h0.6 M208.9 108.4h0.6 M212.1 111.0h0.6 M210.1 112.9h0.6 M211.7 113.7h0.6 M214.8 118.1h0.6 M210.5 101.1h0.6 M216.7 109.7h0.6 M212.0 108.8h0.6 M216.2 114.2h0.6 M208.7 109.5h0.6 M215.6 113.8h0.6 M205.3 106.1h0.6 M210.5 116.6h0.6 M214.7 106.8h0.6 M208.8 109.7h0.6 M212.3 109.2h0.6 M219.6 112.3h0.6 M211.5 111.7h0.6 M215.2 109.6h0.6 M212.1 114.1h0.6 M219.6 116.8h0.6 M209.1 108.7h0.6 M209.8 113.9h0.6 M209.0 101.4h0.6 M216.0 113.4h0.6 M210.2 106.7h0.6 M212.1 110.7h0.6 M211.5 117.0h0.6 M217.3 111.5h0.6 M217.1 115.9h0.6 M212.2 111.2h0.6 M216.2 107.8h0.6 M212.9 114.8h0.6 M209.6 109.9h0.6 M216.4 110.9h0.6 M209.6 111.9h0.6 M216.7 115.1h0.6 M216.3 117.1h0.6 M216.6 119.2h0.6 M213.2 106.8h0.6 M213.5 114.4h0.6 M210.7 109.0h0.6 M214.3 111.8h0.6 M205.6 110.5h0.6 M214.0 117.3h0.6 M213.4 113.7h0.6 M215.4 110.4h0.6 M212.9 112.6h0.6 M214.3 108.7h0.6 M212.6 109.4h0.6 M215.8 117.1h0.6 M211.8 116.2h0.6 M213.8 113.7h0.6 M214.8 112.3h0.6 M218.7 119.2h0.6 M208.5 109.8h0.6 M216.2 113.1h0.6 M217.7 107.0h0.6 M214.0 109.5h0.6 M210.3 111.4h0.6 M208.5 110.6h0.6 M211.8 112.8h0.6 M215.1 116.0h0.6 M210.2 114.1h0.6 M212.3 117.7h0.6 M209.5 113.1h0.6 M213.2 118.5h0.6 M206.9 110.5h0.6 M211.1 112.2h0.6 M212.9 118.9h0.6 M206.7 105.6h0.6 M209.5 108.1h0.6 M210.0 112.1h0.6 M209.4 112.8h0.6 M213.3 116.0h0.6 M219.0 105.8h0.6 M214.3 118.1h0.6 M219.9 113.0h0.6 M216.7 120.9h0.6 M216.1 117.4h0.6 M208.7 109.0h0.6 M215.1 107.1h0.6 M210.3 115.2h0.6 M211.8 117.1h0.6 M212.9 112.0h0.6 M214.7 119.6h0.6 M219.8 115.0h0.6 M212.9 121.6h0.6 M217.3 119.4h0.6 M213.1 109.3h0.6 M206.7 113.1h0.6 M215.7 109.1h0.6 M215.1 105.0h0.6 M214.7 111.3h0.6 M209.8 116.8h0.6 M211.2 112.5h0.6 M204.6 112.5h0.6 M210.8 113.4h0.6 M215.2 122.3h0.6 M212.3 114.4h0.6 M215.0 118.5h0.6 M217.1 115.8h0.6 M208.9 116.2h0.6 M214.1 115.7h0.6 M211.4 114.6h0.6 M209.4 113.2h0.6 M213.0 110.3h0.6 M210.3 113.8h0.6 M215.0 114.0h0.6 M208.6 113.3h0.6 M207.3 111.0h0.6 M222.9 113.6h0.6 M214.5 110.6h0.6 M219.1 117.5h0.6 M218.4 113.7h0.6 M215.6 124.0h0.6 M217.3 115.0h0.6 M215.0 113.8h0.6 M208.0 106.9h0.6 M224.2 120.1h0.6 M216.0 114.8h0.6 M214.7 116.0h0.6 M212.4 112.9h0.6 M211.0 105.2h0.6 M216.3 109.0h0.6 M216.1 114.4h0.6 M221.6 116.8h0.6 M207.0 111.4h0.6 M209.8 106.2h0.6 M214.6 111.4h0.6 M212.6 117.6h0.6 M208.6 111.6h0.6 M215.0 116.4h0.6 M211.6 111.9h0.6 M212.7 111.2h0.6 M209.6 119.8h0.6 M217.0 116.5h0.6 M214.4 114.6h0.6 M204.9 110.5h0.6 M209.9 120.9h0.6 M214.0 119.4h0.6 M213.3 110.5h0.6 M210.9 110.0h0.6 M212.4 115.1h0.6 M213.9 109.9h0.6 M210.9 120.2h0.6 M211.3 117.7h0.6 M206.4 112.0h0.6 M208.5 119.0h0.6 M221.3 124.5h0.6 M218.8 110.3h0.6 M206.3 115.6h0.6 M214.5 114.0h0.6 M211.1 108.8h0.6 M216.3 121.0h0.6 M210.4 112.4h0.6 M208.0 112.6h0.6 M217.3 112.4h0.6 M210.6 112.5h0.6 M214.0 109.4h0.6 M209.8 113.2h0.6 M207.9 121.9h0.6 M212.2 117.4h0.6 M215.2 117.0h0.6 M216.9 123.7h0.6 M214.1 111.2h0.6 M209.1 104.3h0.6 M204.8 106.9h0.6 M217.0 122.1h0.6 M210.6 106.7h0.6 M209.1 117.2h0.6 M214.3 111.1h0.6 M217.8 111.5h0.6 M220.9 112.9h0.6 M213.1 99.1h0.6 M216.9 114.8h0.6 M218.7 112.8h0.6 M214.8 113.6h0.6 M214.8 114.9h0.6 M214.0 103.9h0.6 M208.2 108.1h0.6 M211.8 115.2h0.6 M197.6 106.3h0.6 M207.4 106.8h0.6 M188.5 100.6h0.6 M175.5 97.0h0.6 M192.5 106.2h0.6 M166.2 114.3h0.6 M193.0 84.7h0.6 M191.5 108.4h0.6 M196.0 97.4h0.6 M178.5 104.5h0.6 M197.1 105.3h0.6 M187.4 115.6h0.6 M162.0 101.9h0.6 M165.2 80.4h0.6 M197.3 111.2h0.6 M189.0 106.9h0.6 M190.9 114.7h0.6 M183.6 107.9h0.6 M200.0 84.5h0.6 M214.9 95.5h0.6 M173.9 94.7h0.6 M209.3 97.5h0.6 M207.9 91.6h0.6 M198.7 82.9h0.6 M188.9 116.3h0.6 M184.7 103.9h0.6 M161.9 120.3h0.6 M190.0 107.0h0.6 M187.1 90.5h0.6 M187.8 98.3h0.6 M175.6 100.2h0.6 M176.7 96.5h0.6 M199.5 104.4h0.6 M189.7 106.5h0.6 M224.2 105.8h0.6 M196.0 101.0h0.6 M199.8 109.0h0.6 M154.6 125.1h0.6 M210.7 107.2h0.6 M183.1 100.7h0.6 M180.3 116.6h0.6 M181.7 84.2h0.6 M189.9 92.6h0.6 M197.2 103.5h0.6 M178.8 85.0h0.6 M187.8 87.7h0.6 M190.3 103.9h0.6 M186.7 103.7h0.6 M186.5 120.0h0.6 M162.3 90.0h0.6 M213.4 88.5h0.6 M204.5 99.5h0.6 M193.6 86.5h0.6 M186.3 100.3h0.6 M155.9 102.1h0.6 M185.7 77.3h0.6 M196.2 98.0h0.6 M166.8 114.4h0.6 M191.2 89.4h0.6 M177.7 105.1h0.6 M183.6 109.6h0.6 M171.3 104.7h0.6 M201.2 107.5h0.6 M179.0 91.5h0.6 M173.2 102.8h0.6 M188.4 114.9h0.6 M187.6 116.2h0.6 M188.6 112.9h0.6 M210.7 105.0h0.6 M171.1 106.4h0.6 M195.8 98.5h0.6 M189.1 109.4h0.6 M156.9 107.8h0.6 M221.2 94.5h0.6 M214.5 96.8h0.6 M187.9 98.0h0.6 M192.7 93.5h0.6 M182.7 99.3h0.6 M177.0 101.1h0.6 M210.8 92.8h0.6 M196.4 93.6h0.6 M173.0 101.6h0.6 M188.1 112.6h0.6 M205.2 102.8h0.6 M181.7 116.5h0.6 M170.2 93.5h0.6 M205.6 106.2h0.6 M203.8 99.4h0.6 M205.6 114.4h0.6 M159.6 107.5h0.6 M209.8 90.6h0.6 M176.5 105.7h0.6 M203.7 101.6h0.6 M164.6 104.0h0.6 M191.1 97.7h0.6 M210.8 78.7h0.6 M194.7 95.2h0.6 M203.0 98.3h0.6 M222.8 103.7h0.6 M183.7 84.2h0.6 M188.3 101.2h0.6 M220.2 105.7h0.6 M196.1 91.9h0.6 M196.6 91.3h0.6 M168.6 106.5h0.6 M185.2 87.3h0.6 M212.7 114.9h0.6 M200.7 84.0h0.6 M178.5 91.2h0.6 M208.7 100.5h0.6 M178.4 86.7h0.6 M180.3 103.6h0.6 M188.7 107.1h0.6 M202.1 89.4h0.6 M207.5 102.0h0.6 M220.9 100.2h0.6 M186.9 100.4h0.6 M214.3 107.2h0.6 M213.4 112.8h0.6 M198.8 126.7h0.6 M191.6 99.2h0.6 M212.5 89.2h0.6 M198.7 112.4h0.6 M177.7 81.3h0.6 M168.6 113.8h0.6 M236.4 92.1h0.6 M170.5 88.1h0.6 M220.4 109.8h0.6 M205.0 93.9h0.6 M204.8 93.7h0.6 M203.1 93.5h0.6 M171.4 96.8h0.6 M200.5 105.2h0.6 M183.9 111.5h0.6 M165.5 80.5h0.6 M203.7 99.9h0.6 M192.7 96.7h0.6 M202.6 104.0h0.6 M217.4 91.4h0.6 M171.6 100.2h0.6 M189.0 98.3h0.6 M156.1 105.5h0.6 M222.8 105.5h0.6 M215.0 108.0h0.6 M198.1 105.9h0.6 M212.5 106.5h0.6 M204.9 100.9h0.6 M180.6 105.4h0.6 M186.6 107.8h0.6 M154.9 120.6h0.6 M216.6 118.0h0.6 M200.5 90.3h0.6 M186.8 89.0h0.6 M200.9 101.8h0.6 M196.6 81.6h0.6 M167.7 77.9h0.6 M218.4 107.0h0.6 M194.8 97.7h0.6 M162.6 97.5h0.6 M186.6 92.5h0.6 M211.4 79.8h0.6 M196.8 110.3h0.6 M208.1 85.4h0.6 M145.0 116.5h0.6 M218.9 99.8h0.6 M189.3 105.2h0.6 M212.9 102.9h0.6 M188.1 103.9h0.6 M200.8 123.7h0.6 M194.6 91.6h0.6 M227.8 117.8h0.6 M220.2 91.4h0.6 M183.8 86.8h0.6 M192.1 115.9h0.6 M210.9 102.1h0.6 M198.4 106.9h0.6 M191.9 90.3h0.6 M182.1 119.5h0.6 M177.8 89.3h0.6 M204.5 98.0h0.6 M188.4 103.3h0.6 M192.1 83.8h0.6 M211.2 104.0h0.6 M224.9 110.8h0.6 M184.3 96.9h0.6 M182.0 77.7h0.6 M207.6 94.3h0.6 M212.1 103.5h0.6 M192.6 119.2h0.6 M178.0 120.6h0.6 M188.1 124.9h0.6 M215.3 96.0h0.6 M226.0 106.3h0.6 M201.0 97.4h0.6 M193.9 97.2h0.6 M188.8 110.3h0.6 M209.3 115.1h0.6 M216.2 100.9h0.6 M208.2 99.0h0.6 M205.1 108.5h0.6 M201.7 93.1h0.6 M174.0 120.2h0.6 M181.0 95.0h0.6 M201.9 97.6h0.6 M202.6 116.5h0.6 M167.7 102.7h0.6 M205.7 86.6h0.6 M208.1 117.7h0.6 M195.7 106.9h0.6 M189.9 112.4h0.6 M186.0 101.8h0.6 M183.3 94.0h0.6 M215.5 101.2h0.6 M211.0 84.6h0.6 M174.1 92.0h0.6 M228.8 114.4h0.6 M234.7 96.9h0.6 M205.9 105.7h0.6 M190.5 108.2h0.6 M194.7 107.0h0.6 M163.7 90.5h0.6 M177.5 120.0h0.6 M210.8 91.3h0.6 M204.0 95.6h0.6 M175.2 91.8h0.6 M248.0 102.8h0.6 M193.6 115.3h0.6 M200.2 89.8h0.6 M233.3 125.6h0.6 M209.3 92.6h0.6 M194.2 103.0h0.6 M175.6 130.3h0.6 M195.4 95.8h0.6 M190.5 98.3h0.6 M150.5 103.3h0.6 M215.9 104.2h0.6 M203.0 101.0h0.6 M164.3 108.2h0.6 M207.3 90.7h0.6 M175.2 95.5h0.6 M171.8 75.0h0.6 M188.1 95.4h0.6 M197.3 114.7h0.6 M179.1 85.0h0.6 M193.3 109.1h0.6 M220.7 112.0h0.6 M197.6 102.3h0.6" stroke="#111" stroke-width="0.6" fill="none" opacity="0.75"/>
<path d="M175.1 94.3 Q175.6 87.6 181.3 87.4 Q187.0 87.3 193.2 87.4 Q199.3 87.6 199.2 91.3 Q199.2 95.0 198.2 97.3 Q197.2 99.6 200.6 100.6 Q204.0 101.6 207.9 103.5 Q211.8 105.5 211.8 110.0 Q211.8 114.6 205.4 114.8 Q199.0 114.9 191.5 114.6 Q184.0 114.2 179.8 113.3 Q175.6 112.5 175.1 106.8 Q174.6 101.0 175.1 94.3Z" fill="#fff" stroke="#1a1a1a" stroke-width="1.0"/>
<path d="M177.2 95.3 Q177.6 89.6 182.3 89.4 Q187.0 89.3 192.1 89.4 Q197.2 89.6 197.1 92.3 Q197.0 95.0 196.0 97.9 Q195.0 100.8 199.0 102.0 Q203.0 103.2 206.3 104.8 Q209.6 106.5 209.6 109.7 Q209.6 112.8 204.3 112.9 Q199.0 113.1 192.0 112.8 Q185.0 112.6 181.5 111.8 Q178.0 111.0 177.4 106.0 Q176.8 101.0 177.2 95.3Z" fill="#f6f6f6" stroke="#3a3a3a" stroke-width="0.45"/>
<path d="M179.2 96.1 Q179.4 91.2 183.2 91.1 Q187.0 91.0 191.0 91.1 Q195.0 91.2 194.8 93.1 Q194.6 95.0 193.1 98.4 Q191.5 101.8 196.2 103.2 Q201.0 104.6 204.3 106.0 Q207.6 107.5 207.5 109.3 Q207.4 111.2 203.2 111.4 Q199.0 111.6 192.5 111.4 Q186.0 111.2 183.2 110.3 Q180.3 109.5 179.7 105.2 Q179.0 101.0 179.2 96.1Z" fill="#ececec" stroke="#3a3a3a" stroke-width="0.45"/>
<path d="M182.0 94.7 Q181.0 92.4 184.2 92.3 Q187.5 92.2 190.4 92.4 Q193.3 92.6 191.9 94.8 Q190.5 97.0 188.9 98.7 Q187.3 100.3 185.2 98.7 Q183.0 97.0 182.0 94.7Z" fill="#e0e0e0" stroke="#3a3a3a" stroke-width="0.45"/>
<ellipse cx="184.200" cy="93.800" rx="2.1" ry="1.6" fill="#cfcfcf" stroke="#3a3a3a" stroke-width="0.45" transform="rotate(-25 184.200 93.800)"/>
<path d="M206.9 107.9 L206.8 108.7 L206.5 109.3 L206.0 109.8 L205.4 110.3 L204.5 110.7 L203.5 111.0 L202.3 111.4 L200.9 111.6 L199.4 111.8 L197.7 112.0 L195.8 112.1 L193.3 112.1 L190.8 112.1 L188.9 112.0 L187.2 111.8 L185.7 111.6 L184.3 111.4 L183.1 111.0 L182.1 110.7 L181.2 110.3 L180.6 109.8 L180.1 109.3 L179.8 108.7 L179.7 107.9 L179.8 107.1 L180.1 106.5 L180.6 106.0 L181.2 105.5 L182.1 105.1 L183.1 104.8 L184.3 104.4 L185.7 104.2 L187.2 104.0 L188.9 103.8 L190.8 103.7 L193.3 103.7 L195.8 103.7 L197.7 103.8 L199.4 104.0 L200.9 104.2 L202.3 104.4 L203.5 104.8 L204.5 105.1 L205.4 105.5 L206.0 106.0 L206.5 106.5 L206.8 107.1Z" fill="#e4e4e4" stroke="#3a3a3a" stroke-width="0.45"/>
<path d="M204.7 107.9 L204.6 108.5 L204.4 109.0 L204.0 109.5 L203.4 109.9 L202.7 110.2 L201.9 110.5 L200.9 110.8 L199.7 111.0 L198.4 111.2 L197.0 111.3 L195.4 111.4 L193.3 111.4 L191.2 111.4 L189.6 111.3 L188.2 111.2 L186.9 111.0 L185.7 110.8 L184.7 110.5 L183.9 110.2 L183.2 109.9 L182.6 109.5 L182.2 109.0 L182.0 108.5 L181.9 107.9 L182.0 107.3 L182.2 106.8 L182.6 106.3 L183.2 105.9 L183.9 105.6 L184.7 105.3 L185.7 105.0 L186.9 104.8 L188.2 104.6 L189.6 104.5 L191.2 104.4 L193.3 104.4 L195.4 104.4 L197.0 104.5 L198.4 104.6 L199.7 104.8 L200.9 105.0 L201.9 105.3 L202.7 105.6 L203.4 105.9 L204.0 106.3 L204.4 106.8 L204.6 107.3Z" fill="#d8d8d8" stroke="#3a3a3a" stroke-width="0.45"/>
<path d="M202.5 107.9 L202.5 108.4 L202.3 108.8 L202.0 109.2 L201.5 109.5 L200.9 109.8 L200.2 110.0 L199.4 110.3 L198.5 110.4 L197.5 110.6 L196.3 110.7 L195.0 110.7 L193.3 110.8 L191.6 110.7 L190.3 110.7 L189.1 110.6 L188.1 110.4 L187.2 110.3 L186.4 110.0 L185.7 109.8 L185.1 109.5 L184.6 109.2 L184.3 108.8 L184.1 108.4 L184.1 107.9 L184.1 107.4 L184.3 107.0 L184.6 106.6 L185.1 106.3 L185.7 106.0 L186.4 105.8 L187.2 105.5 L188.1 105.4 L189.1 105.2 L190.3 105.1 L191.6 105.1 L193.3 105.0 L195.0 105.1 L196.3 105.1 L197.5 105.2 L198.5 105.4 L199.4 105.5 L200.2 105.8 L200.9 106.0 L201.5 106.3 L202.0 106.6 L202.3 107.0 L202.5 107.4Z" fill="#cacaca" stroke="#3a3a3a" stroke-width="0.45"/>
<path d="M200.4 107.9 L200.3 108.3 L200.2 108.6 L199.9 108.9 L199.6 109.1 L199.1 109.3 L198.6 109.5 L198.0 109.7 L197.3 109.8 L196.5 109.9 L195.6 110.0 L194.6 110.1 L193.3 110.1 L192.0 110.1 L191.0 110.0 L190.1 109.9 L189.3 109.8 L188.6 109.7 L188.0 109.5 L187.5 109.3 L187.0 109.1 L186.7 108.9 L186.4 108.6 L186.3 108.3 L186.2 107.9 L186.3 107.5 L186.4 107.2 L186.7 106.9 L187.0 106.7 L187.5 106.5 L188.0 106.3 L188.6 106.1 L189.3 106.0 L190.1 105.9 L191.0 105.8 L192.0 105.7 L193.3 105.7 L194.6 105.7 L195.6 105.8 L196.5 105.9 L197.3 106.0 L198.0 106.1 L198.6 106.3 L199.1 106.5 L199.6 106.7 L199.9 106.9 L200.2 107.2 L200.3 107.5Z" fill="#bcbcbc" stroke="#3a3a3a" stroke-width="0.45"/>
<path d="M199.8 107.9 L199.8 108.2 L199.6 108.4 L199.4 108.5 L199.1 108.7 L198.7 108.8 L198.2 108.9 L197.6 109.1 L196.9 109.1 L196.2 109.2 L195.4 109.3 L194.5 109.3 L193.3 109.3 L192.1 109.3 L191.2 109.3 L190.4 109.2 L189.7 109.1 L189.0 109.1 L188.4 108.9 L187.9 108.8 L187.5 108.7 L187.2 108.5 L187.0 108.4 L186.8 108.2 L186.8 107.9 L186.8 107.6 L187.0 107.4 L187.2 107.3 L187.5 107.1 L187.9 107.0 L188.4 106.9 L189.0 106.7 L189.7 106.7 L190.4 106.6 L191.2 106.5 L192.1 106.5 L193.3 106.5 L194.5 106.5 L195.4 106.5 L196.2 106.6 L196.9 106.7 L197.6 106.7 L198.2 106.9 L198.7 107.0 L199.1 107.1 L199.4 107.3 L199.6 107.4 L199.8 107.6Z" fill="#a2a2a2" stroke="#444" stroke-width="0.4"/>
<line x1="184" y1="107.9" x2="201.5" y2="107.9" stroke="#fff" stroke-width="1.0" />
<path d="M356.7 89.5 L355.7 90.3 L354.4 91.1 L353.4 91.9 L353.6 92.7 L353.2 93.5 L352.4 94.3 L352.6 95.1 L352.7 95.9 L352.0 96.7 L352.0 97.5 L352.6 98.3 L352.7 99.1 L352.4 99.9 L352.7 100.7 L352.2 101.5 L352.2 102.3 L352.7 103.1 L352.5 103.9 L352.1 104.7 L352.6 105.5 L352.8 106.3 L352.1 107.1 L352.4 107.9 L352.8 108.7 L352.3 109.5 L352.3 110.3 L352.4 111.1 L352.4 111.9 L352.6 112.7 L352.8 113.5 L352.9 114.3 L352.2 115.1 L352.9 115.9 L352.5 116.7 L352.8 117.5 L352.8 118.3 L353.0 119.1 L352.9 119.9 L353.6 120.7 L353.6 121.5 L354.4 122.3 L354.2 123.1 L354.8 123.9 L355.1 124.7 L355.1 125.5 L356.1 126.3 L356.4 127.1 L356.5 127.9 L356.9 128.7 L357.8 129.5 L358.1 130.3 L358.2 131.1 L368.6 131.1 L368.5 130.3 L369.2 129.5 L369.5 128.7 L369.3 127.9 L369.3 127.1 L369.9 126.3 L370.5 125.5 L370.3 124.7 L370.6 123.9 L371.2 123.1 L371.0 122.3 L371.5 121.5 L372.4 120.7 L371.9 119.9 L372.1 119.1 L372.8 118.3 L372.5 117.5 L372.7 116.7 L371.9 115.9 L372.6 115.1 L372.0 114.3 L372.3 113.5 L372.3 112.7 L372.7 111.9 L372.4 111.1 L372.7 110.3 L372.4 109.5 L371.8 108.7 L372.8 107.9 L373.0 107.1 L372.4 106.3 L371.9 105.5 L372.5 104.7 L372.7 103.9 L372.5 103.1 L372.2 102.3 L372.2 101.5 L372.5 100.7 L372.1 99.9 L372.5 99.1 L372.2 98.3 L372.8 97.5 L372.2 96.7 L371.2 95.9 L370.9 95.1 L371.3 94.3 L370.4 93.5 L369.7 92.7 L368.4 91.9 L367.3 91.1 L366.5 90.3 L365.6 89.5Z" fill="#181818" stroke="#181818" stroke-width="0.5" stroke-linejoin="round"/>
<path d="M353.4 116.1h0.7 M356.4 129.0h0.7 M370.7 103.1h0.7 M369.8 126.7h0.7 M356.0 128.6h0.7 M373.0 123.6h0.7 M371.6 118.8h0.7 M352.1 108.1h0.7 M371.2 102.5h0.7 M353.3 103.8h0.7 M374.4 100.9h0.7 M372.6 127.0h0.7 M371.9 121.1h0.7 M372.0 131.1h0.7 M352.5 117.9h0.7 M372.9 104.2h0.7 M357.4 129.9h0.7 M374.4 122.9h0.7 M368.6 128.0h0.7 M370.2 126.8h0.7 M352.6 103.9h0.7 M368.8 131.0h0.7 M357.7 129.5h0.7 M372.1 120.9h0.7 M367.6 130.1h0.7 M352.5 105.5h0.7 M375.9 118.7h0.7 M370.5 126.9h0.7 M372.6 94.9h0.7 M352.8 117.9h0.7 M356.8 129.9h0.7 M371.7 113.9h0.7 M353.4 118.9h0.7 M353.8 124.8h0.7 M352.2 120.2h0.7 M372.5 114.2h0.7 M374.0 101.3h0.7 M371.1 125.4h0.7 M355.0 120.8h0.7 M374.5 103.1h0.7 M373.8 112.3h0.7 M372.0 105.1h0.7 M370.6 119.6h0.7 M371.1 125.6h0.7 M373.0 104.5h0.7 M371.9 127.3h0.7 M372.3 123.9h0.7 M370.8 122.1h0.7 M353.7 93.7h0.7 M355.6 125.7h0.7 M354.4 124.2h0.7 M373.8 102.2h0.7 M368.0 90.0h0.7 M372.4 126.1h0.7 M356.9 130.8h0.7 M373.6 125.6h0.7 M370.7 127.8h0.7 M373.3 117.4h0.7 M373.2 103.1h0.7 M354.8 125.5h0.7 M373.5 102.3h0.7 M369.9 129.2h0.7 M370.7 122.4h0.7 M374.4 126.5h0.7 M352.9 103.3h0.7 M373.3 104.6h0.7 M372.0 127.2h0.7 M369.6 130.3h0.7 M374.7 122.3h0.7 M353.0 97.5h0.7 M370.8 122.4h0.7 M374.0 121.6h0.7 M371.6 111.9h0.7 M367.5 96.1h0.7 M371.3 93.3h0.7 M351.6 98.1h0.7 M354.2 122.5h0.7 M352.3 110.5h0.7 M374.0 99.8h0.7 M369.0 113.7h0.7 M373.0 104.6h0.7 M374.7 115.0h0.7 M370.8 128.5h0.7 M357.7 131.1h0.7 M370.3 131.2h0.7 M354.1 120.8h0.7 M356.6 127.4h0.7 M373.9 126.8h0.7 M353.5 105.8h0.7 M363.6 89.1h0.7 M371.2 131.4h0.7 M354.7 123.9h0.7 M375.2 116.1h0.7 M351.7 114.9h0.7 M352.7 113.2h0.7 M371.4 101.7h0.7 M371.4 103.7h0.7 M354.3 125.5h0.7 M355.7 126.9h0.7 M373.0 99.2h0.7 M370.6 123.8h0.7 M358.2 130.8h0.7 M369.5 130.0h0.7 M373.0 119.1h0.7 M374.1 119.9h0.7 M352.6 113.8h0.7 M368.2 129.8h0.7 M372.0 102.0h0.7 M357.0 127.2h0.7 M373.0 91.6h0.7 M374.2 105.7h0.7 M369.2 126.0h0.7 M372.0 126.2h0.7 M372.7 98.2h0.7 M376.2 111.3h0.7 M370.1 95.8h0.7 M356.1 128.3h0.7 M373.4 99.5h0.7 M355.5 90.2h0.7 M356.5 89.6h0.7 M354.3 125.5h0.7 M371.3 120.7h0.7 M372.8 128.8h0.7 M372.2 130.8h0.7 M370.1 126.2h0.7 M353.8 112.8h0.7 M371.2 121.8h0.7 M352.8 116.9h0.7 M372.9 94.4h0.7 M374.4 100.3h0.7 M371.5 128.0h0.7 M370.1 92.3h0.7 M354.1 92.8h0.7 M373.4 119.9h0.7 M372.4 119.9h0.7 M373.0 111.2h0.7 M372.6 124.4h0.7 M374.3 107.0h0.7 M351.7 98.3h0.7 M374.7 121.2h0.7 M363.9 90.1h0.7 M372.6 120.7h0.7 M371.2 106.6h0.7 M371.2 127.2h0.7 M374.2 101.4h0.7 M367.5 130.5h0.7 M352.6 119.0h0.7 M371.8 109.8h0.7 M351.5 96.3h0.7 M355.8 126.4h0.7 M373.9 104.7h0.7 M351.5 106.0h0.7 M368.7 90.2h0.7 M373.3 122.0h0.7 M354.7 121.1h0.7 M371.7 129.4h0.7 M373.9 105.1h0.7 M352.3 111.0h0.7 M370.4 129.9h0.7 M373.2 106.1h0.7 M374.3 100.7h0.7 M371.6 118.9h0.7 M353.4 118.9h0.7 M370.3 130.6h0.7 M375.1 111.3h0.7 M368.5 91.7h0.7 M370.5 94.3h0.7 M354.7 90.4h0.7 M374.4 112.2h0.7 M372.2 118.6h0.7 M352.9 92.9h0.7 M354.4 107.1h0.7 M354.0 108.0h0.7 M354.4 122.4h0.7 M372.6 121.4h0.7 M373.1 112.7h0.7 M374.4 127.3h0.7 M357.1 131.1h0.7 M352.9 92.9h0.7 M367.3 90.8h0.7 M373.3 103.4h0.7 M371.1 114.1h0.7 M372.6 108.7h0.7 M353.4 124.9h0.7 M371.1 125.6h0.7 M356.5 129.8h0.7 M371.3 121.8h0.7 M353.5 99.1h0.7 M371.8 120.5h0.7 M373.9 118.8h0.7 M377.1 119.5h0.7 M369.8 128.7h0.7 M367.1 89.8h0.7 M371.1 127.1h0.7 M375.1 94.2h0.7 M370.1 98.8h0.7 M356.6 127.9h0.7 M372.2 110.0h0.7 M371.1 105.0h0.7 M372.8 125.4h0.7 M370.9 113.1h0.7 M353.3 117.4h0.7 M370.4 102.1h0.7 M369.5 122.2h0.7 M353.0 111.8h0.7 M355.5 122.1h0.7 M373.9 113.3h0.7 M371.9 127.5h0.7 M373.1 130.0h0.7 M357.8 90.7h0.7 M354.4 122.7h0.7 M370.7 122.4h0.7 M375.2 97.2h0.7 M356.3 129.1h0.7 M354.3 93.1h0.7 M354.2 121.6h0.7 M369.0 114.7h0.7 M370.9 97.8h0.7 M355.3 124.9h0.7 M372.5 102.0h0.7 M371.3 127.4h0.7 M369.4 91.5h0.7 M372.9 109.0h0.7 M351.0 110.3h0.7 M369.9 120.4h0.7 M370.5 125.6h0.7 M352.8 113.1h0.7 M375.3 118.6h0.7 M372.2 98.3h0.7 M369.0 131.3h0.7 M370.5 92.8h0.7 M370.0 102.4h0.7 M353.7 91.8h0.7 M370.1 112.3h0.7 M370.4 120.9h0.7 M372.3 119.8h0.7 M370.8 126.2h0.7 M372.2 121.2h0.7 M370.2 119.7h0.7 M352.7 103.1h0.7 M371.8 95.9h0.7 M354.1 123.0h0.7 M352.5 119.9h0.7 M376.2 119.2h0.7 M375.5 123.6h0.7 M354.4 124.4h0.7 M367.5 131.2h0.7 M357.3 130.4h0.7 M352.8 103.0h0.7 M368.4 108.5h0.7 M371.1 126.5h0.7 M368.4 129.3h0.7 M357.3 129.7h0.7 M368.2 92.8h0.7 M370.8 126.1h0.7 M367.9 130.4h0.7 M353.5 122.3h0.7 M373.4 114.9h0.7 M376.2 113.5h0.7 M354.8 125.0h0.7 M373.9 126.1h0.7 M352.6 113.1h0.7 M353.2 101.2h0.7 M368.0 90.0h0.7 M354.4 95.8h0.7 M353.3 92.2h0.7 M369.2 129.7h0.7 M371.9 129.9h0.7 M369.5 92.5h0.7 M371.5 130.2h0.7 M372.2 106.8h0.7 M371.8 127.9h0.7 M373.4 118.8h0.7 M371.5 96.1h0.7 M372.6 126.0h0.7 M370.7 128.7h0.7 M373.2 102.1h0.7 M353.6 125.1h0.7 M373.7 101.0h0.7 M355.4 90.2h0.7 M371.3 103.7h0.7 M373.2 107.5h0.7 M352.3 108.5h0.7 M367.2 129.5h0.7 M371.9 127.3h0.7 M366.6 90.9h0.7 M373.8 103.7h0.7 M369.1 101.3h0.7 M374.5 102.6h0.7 M356.4 126.0h0.7 M352.3 96.4h0.7 M371.2 129.1h0.7 M370.0 131.3h0.7 M369.3 128.9h0.7 M356.3 129.9h0.7 M372.1 102.1h0.7 M371.6 95.1h0.7 M370.2 129.0h0.7 M373.2 119.9h0.7 M371.9 126.7h0.7 M370.7 127.8h0.7 M373.0 126.4h0.7 M371.6 112.7h0.7 M372.5 110.1h0.7 M370.2 130.3h0.7 M355.4 91.0h0.7 M373.0 124.2h0.7 M354.5 120.1h0.7 M373.8 122.3h0.7 M352.2 104.2h0.7 M372.0 128.3h0.7 M353.2 121.6h0.7 M370.8 102.2h0.7 M374.1 121.0h0.7 M370.2 91.9h0.7 M366.0 89.0h0.7 M357.3 89.6h0.7 M372.0 106.3h0.7 M369.6 95.9h0.7 M368.1 128.5h0.7 M369.8 127.0h0.7 M353.8 93.3h0.7 M353.3 105.6h0.7 M372.9 109.8h0.7 M353.6 119.1h0.7 M354.7 93.8h0.7 M354.9 124.8h0.7 M371.4 113.0h0.7 M368.5 130.8h0.7 M370.7 125.0h0.7 M352.0 115.0h0.7 M371.2 90.6h0.7 M371.8 126.3h0.7 M371.3 125.4h0.7 M352.7 115.0h0.7 M373.9 113.0h0.7 M370.5 94.0h0.7 M371.2 125.7h0.7 M370.6 104.7h0.7 M369.5 90.8h0.7 M368.6 126.8h0.7 M366.6 89.5h0.7 M352.3 99.3h0.7 M376.8 98.4h0.7 M352.1 95.5h0.7 M373.8 124.6h0.7 M372.8 112.7h0.7 M373.1 125.5h0.7 M371.5 95.4h0.7 M374.4 98.8h0.7 M373.0 120.0h0.7 M371.3 100.3h0.7 M356.1 129.9h0.7 M353.1 115.1h0.7 M372.3 125.0h0.7 M373.8 119.7h0.7 M369.0 122.1h0.7 M373.5 120.1h0.7 M368.5 131.0h0.7 M371.5 115.9h0.7 M371.9 126.7h0.7 M374.0 95.4h0.7 M371.5 124.0h0.7 M370.4 128.0h0.7 M374.7 103.5h0.7 M356.8 89.5h0.7 M368.4 115.7h0.7 M367.3 123.4h0.7 M370.4 121.2h0.7 M353.3 97.9h0.7 M370.5 111.0h0.7 M370.3 127.7h0.7 M355.2 128.5h0.7 M351.7 100.0h0.7 M371.4 115.2h0.7 M356.2 125.5h0.7 M372.1 108.9h0.7 M375.3 125.8h0.7 M372.1 119.8h0.7 M357.9 129.7h0.7 M353.7 120.6h0.7 M376.8 107.9h0.7 M369.4 128.1h0.7 M374.4 96.5h0.7 M371.8 110.1h0.7 M376.0 97.1h0.7 M374.6 116.1h0.7 M369.9 93.6h0.7 M353.8 121.2h0.7 M376.4 123.2h0.7 M352.1 101.0h0.7 M373.4 123.7h0.7 M363.7 89.2h0.7 M373.2 123.1h0.7 M363.5 88.9h0.7 M371.2 119.6h0.7 M374.8 97.5h0.7 M353.9 126.5h0.7 M354.6 121.9h0.7 M367.3 91.8h0.7 M356.5 126.4h0.7 M372.9 98.7h0.7 M372.2 101.3h0.7 M366.4 130.8h0.7 M352.1 117.7h0.7 M370.1 115.5h0.7 M355.0 91.1h0.7 M374.3 123.7h0.7 M371.6 101.4h0.7 M363.4 88.9h0.7 M368.9 129.7h0.7 M354.8 121.6h0.7 M370.1 119.9h0.7 M369.1 118.8h0.7 M371.9 97.2h0.7 M370.9 120.4h0.7 M369.5 92.2h0.7 M372.5 100.9h0.7 M373.6 109.1h0.7 M372.4 115.1h0.7 M373.9 97.9h0.7 M354.2 122.7h0.7 M370.6 119.8h0.7 M353.1 110.3h0.7 M369.7 107.6h0.7 M369.7 103.4h0.7 M375.1 114.6h0.7 M370.0 91.3h0.7 M373.7 119.1h0.7 M370.5 120.0h0.7 M371.6 101.2h0.7 M373.0 127.2h0.7 M374.1 128.3h0.7 M372.8 95.7h0.7 M374.4 106.7h0.7 M354.7 126.7h0.7 M355.2 123.7h0.7 M356.5 128.8h0.7 M375.5 120.5h0.7 M371.3 128.7h0.7 M369.0 92.5h0.7 M375.3 96.9h0.7 M371.8 101.9h0.7 M365.3 89.3h0.7 M369.1 111.1h0.7 M352.8 100.1h0.7 M370.7 129.0h0.7 M372.3 95.0h0.7 M371.9 107.6h0.7 M356.3 127.0h0.7 M367.2 90.2h0.7 M373.1 115.6h0.7 M354.4 124.5h0.7 M373.3 127.5h0.7 M370.7 122.8h0.7 M371.9 124.7h0.7 M352.6 120.8h0.7 M373.7 118.6h0.7 M355.8 126.7h0.7 M370.5 124.9h0.7 M356.1 89.3h0.7 M369.4 91.7h0.7 M371.5 111.4h0.7 M354.7 125.7h0.7 M370.2 103.0h0.7 M372.6 104.1h0.7 M370.2 130.3h0.7 M370.9 123.1h0.7 M373.6 96.7h0.7 M371.6 119.8h0.7 M372.2 123.0h0.7 M354.0 91.5h0.7 M354.9 125.1h0.7 M367.9 118.7h0.7 M372.3 111.9h0.7 M367.7 89.8h0.7 M363.2 89.6h0.7 M356.4 128.2h0.7 M370.9 92.9h0.7 M352.6 103.6h0.7 M353.6 118.1h0.7 M370.0 92.9h0.7 M373.7 121.8h0.7 M375.6 97.2h0.7 M355.6 126.4h0.7 M367.8 128.2h0.7 M369.3 128.1h0.7 M353.4 117.2h0.7 M363.5 90.8h0.7 M375.2 100.8h0.7 M372.3 103.7h0.7 M370.2 129.4h0.7 M372.7 119.6h0.7 M353.1 120.3h0.7 M365.3 89.6h0.7 M372.7 122.5h0.7 M351.6 106.3h0.7 M354.6 123.7h0.7 M373.5 95.4h0.7 M367.9 121.6h0.7 M371.1 129.8h0.7 M357.0 129.8h0.7 M373.8 114.1h0.7 M370.3 124.3h0.7 M372.9 127.1h0.7 M372.9 106.1h0.7 M353.2 104.6h0.7 M351.8 114.4h0.7 M374.6 120.3h0.7 M352.4 101.1h0.7 M373.2 105.8h0.7 M369.6 125.5h0.7 M355.9 127.0h0.7 M366.6 92.5h0.7 M369.2 120.4h0.7 M374.2 123.2h0.7 M371.8 115.8h0.7 M353.6 120.6h0.7 M376.1 103.5h0.7 M354.2 120.6h0.7 M365.9 90.2h0.7 M372.7 106.1h0.7 M369.2 110.7h0.7 M372.3 105.0h0.7 M352.2 120.2h0.7 M369.1 127.0h0.7 M352.9 100.8h0.7 M353.1 113.4h0.7 M374.2 117.1h0.7 M370.9 100.7h0.7 M353.1 105.6h0.7 M352.4 98.3h0.7 M370.7 119.0h0.7 M372.5 126.3h0.7 M371.8 94.7h0.7 M370.1 93.4h0.7 M354.3 120.6h0.7 M356.1 128.8h0.7 M355.2 126.1h0.7 M370.6 101.8h0.7 M373.8 99.4h0.7 M371.3 125.1h0.7 M369.6 92.5h0.7 M352.7 106.5h0.7 M370.9 124.1h0.7 M374.2 102.3h0.7 M369.4 130.0h0.7 M370.8 126.4h0.7 M362.4 88.8h0.7 M371.5 130.8h0.7 M372.1 121.6h0.7 M354.3 122.7h0.7 M376.2 124.7h0.7 M371.0 113.3h0.7 M352.8 106.6h0.7 M370.0 118.9h0.7 M371.5 127.7h0.7 M354.3 118.5h0.7 M372.1 124.7h0.7 M372.3 103.9h0.7 M372.2 122.3h0.7 M353.7 114.8h0.7 M351.5 107.1h0.7 M352.5 96.1h0.7 M353.5 120.0h0.7 M367.3 119.4h0.7 M373.8 102.9h0.7 M369.5 130.2h0.7 M354.1 97.1h0.7 M375.1 105.2h0.7 M371.7 128.2h0.7 M372.8 119.6h0.7 M373.3 106.8h0.7 M368.8 130.3h0.7 M374.9 119.2h0.7 M372.6 118.6h0.7 M372.3 125.3h0.7 M374.0 102.4h0.7 M370.5 103.1h0.7 M362.5 91.3h0.7 M372.2 128.2h0.7 M373.0 121.4h0.7 M369.9 127.3h0.7 M370.8 125.5h0.7 M370.9 124.5h0.7 M357.3 129.2h0.7 M373.8 115.2h0.7 M372.3 126.1h0.7 M354.8 126.0h0.7 M355.8 90.4h0.7 M368.3 126.1h0.7 M352.4 111.6h0.7 M371.0 121.3h0.7 M372.3 127.4h0.7 M370.5 127.2h0.7 M353.6 121.5h0.7 M376.0 121.1h0.7 M352.7 114.8h0.7 M373.6 123.9h0.7 M370.3 114.7h0.7 M374.5 114.0h0.7 M373.6 105.4h0.7 M372.1 103.4h0.7 M368.9 124.6h0.7 M374.4 115.1h0.7 M373.0 122.7h0.7 M353.9 120.1h0.7 M374.5 100.9h0.7 M372.4 112.9h0.7 M353.5 104.7h0.7 M370.5 130.4h0.7 M371.6 126.9h0.7 M369.5 90.0h0.7 M371.4 122.1h0.7 M370.0 128.4h0.7 M367.9 130.3h0.7 M373.0 101.8h0.7 M371.9 106.8h0.7 M355.5 125.2h0.7 M353.3 100.8h0.7 M356.5 128.4h0.7 M370.8 108.0h0.7 M373.3 110.3h0.7 M357.8 130.8h0.7 M373.5 101.4h0.7 M370.1 118.7h0.7 M354.6 119.4h0.7 M352.5 93.8h0.7 M373.7 118.9h0.7 M352.3 113.8h0.7 M376.5 111.8h0.7 M371.7 104.9h0.7 M371.7 97.0h0.7 M355.6 126.2h0.7 M369.8 129.3h0.7 M371.9 124.1h0.7 M370.9 128.2h0.7 M373.2 97.5h0.7 M353.0 123.3h0.7 M354.2 109.2h0.7 M366.5 119.9h0.7 M369.2 91.9h0.7 M351.7 110.6h0.7 M372.2 106.6h0.7 M372.5 105.9h0.7 M371.4 126.5h0.7 M370.1 128.1h0.7 M371.7 123.7h0.7 M354.4 123.8h0.7 M372.3 107.8h0.7 M375.6 106.3h0.7 M353.4 115.0h0.7 M366.0 89.6h0.7 M371.7 119.3h0.7 M368.6 93.1h0.7 M354.1 124.1h0.7 M370.1 127.1h0.7 M371.3 123.6h0.7 M372.2 127.9h0.7 M373.1 102.0h0.7 M371.6 120.3h0.7 M355.5 126.4h0.7 M373.7 110.7h0.7 M368.8 129.8h0.7 M369.4 118.8h0.7 M368.0 120.4h0.7 M370.7 123.1h0.7 M352.6 98.1h0.7 M356.9 129.3h0.7 M370.3 91.6h0.7 M371.7 125.4h0.7 M372.8 125.2h0.7 M352.2 113.2h0.7 M352.2 95.8h0.7 M353.7 121.6h0.7 M356.4 129.1h0.7 M354.3 122.3h0.7 M354.9 123.9h0.7 M372.2 128.6h0.7 M371.2 105.6h0.7 M366.7 127.6h0.7 M375.0 124.4h0.7 M370.2 120.4h0.7 M371.3 128.1h0.7 M373.7 128.3h0.7 M374.6 121.3h0.7 M372.6 102.2h0.7 M371.4 105.2h0.7 M374.2 121.2h0.7 M371.4 124.0h0.7 M377.2 109.7h0.7 M352.8 114.4h0.7 M364.1 89.4h0.7 M374.2 119.8h0.7 M367.2 131.1h0.7 M368.7 131.3h0.7 M372.4 131.4h0.7 M367.6 90.6h0.7 M373.7 119.7h0.7 M368.3 130.4h0.7 M370.1 119.7h0.7 M352.7 104.3h0.7 M372.1 125.0h0.7 M372.9 120.3h0.7 M367.7 131.3h0.7 M352.9 96.7h0.7 M368.7 128.7h0.7 M354.7 126.3h0.7 M374.7 108.5h0.7 M362.8 88.6h0.7 M369.4 126.0h0.7 M369.4 127.6h0.7 M375.0 97.7h0.7 M372.3 121.4h0.7 M371.5 129.9h0.7 M353.1 117.9h0.7 M365.7 130.7h0.7 M373.7 129.8h0.7 M352.8 118.3h0.7 M367.1 130.7h0.7 M371.4 109.2h0.7 M372.8 123.5h0.7 M371.9 103.7h0.7 M357.4 128.5h0.7 M370.1 130.7h0.7 M374.0 115.9h0.7 M371.1 126.1h0.7 M375.2 114.6h0.7 M372.0 118.8h0.7 M351.4 106.2h0.7 M357.5 129.1h0.7 M369.2 92.5h0.7 M374.9 108.8h0.7 M352.7 114.2h0.7 M376.9 123.4h0.7 M371.7 100.2h0.7 M374.1 125.3h0.7 M370.2 113.4h0.7 M357.5 130.7h0.7 M352.6 112.0h0.7 M369.5 126.0h0.7 M371.3 126.0h0.7 M373.9 129.7h0.7 M371.5 128.1h0.7 M369.9 93.6h0.7 M373.7 119.0h0.7 M373.5 124.8h0.7 M372.1 92.0h0.7 M369.4 123.3h0.7 M369.1 129.6h0.7 M354.1 121.4h0.7 M372.1 98.2h0.7 M354.5 121.7h0.7 M353.5 106.4h0.7 M355.6 127.7h0.7 M370.2 94.1h0.7 M371.6 123.7h0.7 M352.3 112.5h0.7 M358.2 130.4h0.7 M372.0 111.9h0.7 M370.8 104.9h0.7 M371.0 127.8h0.7 M370.8 115.5h0.7 M371.7 94.0h0.7 M356.4 126.8h0.7 M371.4 102.5h0.7 M370.9 129.4h0.7 M352.4 121.0h0.7 M374.1 125.5h0.7 M371.3 127.1h0.7 M372.6 127.5h0.7 M370.9 126.2h0.7 M369.7 128.4h0.7 M371.0 128.1h0.7 M369.8 94.2h0.7 M371.6 126.8h0.7 M353.2 121.2h0.7 M352.0 105.1h0.7 M371.6 126.8h0.7 M375.8 104.9h0.7 M369.4 93.6h0.7 M353.8 122.7h0.7 M353.4 120.2h0.7 M354.0 103.1h0.7 M371.1 124.4h0.7 M372.2 113.7h0.7 M352.8 119.6h0.7 M372.4 96.0h0.7 M356.8 129.9h0.7 M371.2 96.2h0.7 M355.9 127.9h0.7 M367.1 127.6h0.7 M374.5 127.7h0.7 M373.4 97.3h0.7 M376.0 129.1h0.7 M373.3 120.7h0.7 M372.1 125.0h0.7 M373.6 126.7h0.7 M351.6 104.4h0.7 M370.3 123.3h0.7 M370.5 130.3h0.7 M355.0 122.3h0.7 M357.6 131.1h0.7 M353.4 100.5h0.7 M353.8 122.6h0.7 M372.0 127.7h0.7 M354.6 127.2h0.7 M372.4 102.0h0.7 M358.3 131.3h0.7 M371.6 119.3h0.7 M363.8 90.7h0.7 M371.1 125.5h0.7 M351.9 99.8h0.7 M372.9 112.0h0.7 M358.5 89.0h0.7 M374.4 100.5h0.7 M357.6 128.3h0.7 M352.0 117.7h0.7 M370.1 127.5h0.7 M370.8 120.4h0.7 M353.3 96.7h0.7 M372.5 117.1h0.7 M370.1 119.6h0.7 M357.5 130.2h0.7 M370.2 127.4h0.7 M372.3 126.8h0.7 M370.3 131.5h0.7 M377.5 116.2h0.7 M356.3 128.5h0.7 M369.3 95.5h0.7 M373.7 96.3h0.7 M370.7 123.4h0.7 M353.1 95.1h0.7 M357.3 129.0h0.7 M375.2 112.8h0.7 M371.7 124.9h0.7 M371.1 114.7h0.7 M356.7 130.1h0.7 M356.8 89.0h0.7 M373.2 108.7h0.7 M357.6 129.3h0.7 M378.6 112.1h0.7 M372.9 111.7h0.7 M354.3 91.4h0.7 M374.5 119.6h0.7 M353.8 99.4h0.7 M371.6 101.2h0.7 M373.8 121.5h0.7 M370.4 95.0h0.7 M373.5 118.8h0.7 M364.5 89.1h0.7 M373.1 93.3h0.7 M371.9 125.3h0.7 M353.9 120.6h0.7 M370.9 106.1h0.7 M372.5 119.7h0.7 M370.0 102.1h0.7 M372.4 106.8h0.7 M371.3 127.3h0.7 M357.3 127.7h0.7 M376.9 118.0h0.7 M372.7 113.7h0.7 M376.0 115.9h0.7 M352.1 107.4h0.7 M352.9 101.2h0.7 M373.2 101.5h0.7 M353.9 121.1h0.7 M351.1 95.9h0.7 M352.4 97.9h0.7 M371.6 124.7h0.7 M371.5 127.4h0.7 M357.3 128.7h0.7 M373.8 120.4h0.7 M354.7 126.1h0.7 M371.1 110.9h0.7 M353.5 109.3h0.7 M352.3 101.1h0.7 M371.9 97.6h0.7 M352.4 95.3h0.7 M354.4 122.9h0.7 M371.2 120.2h0.7 M371.6 104.9h0.7 M369.4 127.8h0.7 M371.5 123.6h0.7 M372.3 117.1h0.7 M373.8 106.0h0.7 M376.1 116.8h0.7 M374.4 101.8h0.7 M372.9 94.1h0.7 M373.4 113.7h0.7 M374.8 112.3h0.7 M372.3 118.2h0.7 M353.7 108.1h0.7 M369.6 125.7h0.7 M374.8 121.9h0.7 M374.6 116.6h0.7 M373.7 121.4h0.7 M355.9 127.6h0.7 M368.3 93.2h0.7 M371.5 128.4h0.7 M363.6 90.0h0.7 M362.4 89.5h0.7 M365.7 89.9h0.7 M360.3 89.5h0.7 M364.0 90.4h0.7 M358.9 90.5h0.7 M368.3 89.5h0.7 M357.3 89.9h0.7 M356.2 88.8h0.7 M361.7 90.3h0.7 M363.2 89.2h0.7 M364.7 88.0h0.7 M357.2 90.1h0.7 M366.3 89.2h0.7 M357.7 89.8h0.7 M361.1 89.9h0.7 M366.5 90.4h0.7 M361.0 88.6h0.7 M363.8 89.6h0.7 M360.9 90.4h0.7 M359.2 90.0h0.7 M363.2 90.3h0.7 M364.2 90.0h0.7 M362.2 90.5h0.7 M363.1 90.5h0.7 M355.8 90.4h0.7 M362.1 89.0h0.7 M364.2 89.9h0.7 M356.4 90.2h0.7 M359.7 89.3h0.7 M368.3 89.2h0.7 M363.9 88.7h0.7 M366.3 90.2h0.7 M360.4 89.5h0.7 M365.7 88.5h0.7 M368.1 90.4h0.7 M364.9 90.2h0.7 M368.1 90.0h0.7 M362.7 89.7h0.7 M360.7 90.0h0.7 M356.5 89.9h0.7 M368.6 88.6h0.7 M363.4 89.2h0.7 M364.5 88.4h0.7 M356.7 90.1h0.7 M359.5 89.6h0.7 M360.0 88.4h0.7 M357.6 89.6h0.7 M364.6 89.5h0.7 M357.9 89.9h0.7 M363.8 90.1h0.7 M368.6 89.8h0.7 M360.5 89.8h0.7 M355.5 89.1h0.7 M362.7 90.2h0.7 M357.3 89.8h0.7 M363.6 90.4h0.7 M365.3 89.7h0.7 M360.2 90.4h0.7 M359.3 90.0h0.7 M362.0 89.3h0.7 M361.6 88.7h0.7 M355.5 89.4h0.7 M366.1 90.5h0.7 M366.1 88.8h0.7 M362.4 87.6h0.7 M363.9 89.8h0.7 M365.0 88.0h0.7 M357.5 89.8h0.7 M360.3 89.5h0.7 M368.5 89.6h0.7 M358.3 90.0h0.7 M358.7 90.3h0.7 M358.9 90.3h0.7 M366.5 88.3h0.7 M360.6 89.0h0.7 M365.3 90.2h0.7 M367.9 90.4h0.7 M358.5 89.5h0.7 M367.5 89.7h0.7 M361.3 90.2h0.7 M359.6 89.4h0.7 M356.3 89.9h0.7 M361.1 87.3h0.7 M366.8 88.8h0.7 M362.8 89.6h0.7 M358.3 90.0h0.7 M360.4 88.9h0.7 M360.9 90.3h0.7 M366.9 89.0h0.7 M364.0 89.9h0.7 M356.2 90.3h0.7 M358.3 89.3h0.7 M366.1 90.0h0.7 M358.3 90.1h0.7 M364.3 90.4h0.7 M361.8 90.2h0.7 M365.8 90.1h0.7 M365.2 88.4h0.7 M364.2 90.0h0.7 M363.1 89.4h0.7 M358.8 88.2h0.7 M362.7 89.7h0.7 M358.3 90.5h0.7 M367.5 89.1h0.7 M358.0 88.7h0.7 M363.0 88.7h0.7 M367.0 89.3h0.7 M374.2 117.9h0.7 M364.8 99.6h0.7 M367.5 83.1h0.7 M364.1 118.6h0.7 M373.1 128.5h0.7 M376.4 100.3h0.7 M377.4 102.7h0.7 M369.7 78.5h0.7 M369.8 90.5h0.7 M380.2 118.0h0.7 M374.7 106.7h0.7 M374.9 120.3h0.7 M369.5 120.3h0.7 M369.4 96.0h0.7 M362.9 91.5h0.7 M369.2 105.0h0.7 M376.4 111.0h0.7 M372.4 113.3h0.7 M361.2 95.1h0.7 M372.4 114.4h0.7 M369.9 95.4h0.7 M371.6 109.2h0.7 M367.0 109.9h0.7 M375.5 101.0h0.7 M374.3 92.3h0.7 M361.5 102.6h0.7 M378.9 122.9h0.7 M368.2 118.4h0.7 M362.6 110.4h0.7 M367.1 96.3h0.7 M369.5 102.3h0.7 M372.4 96.2h0.7" stroke="#111" stroke-width="0.7" fill="none" opacity="0.8"/>
<path d="M361.5 92.5 C367.9 92.5 370.0 97.5 370.0 102.4 C370.0 112.1 365.7 120.0 362.7 120.0 C358.9 120.0 353.0 111.2 353.0 102.4 C353.0 97.5 355.1 92.5 361.5 92.5Z" fill="#9c9c9c" stroke="#f0f0f0" stroke-width="0.7"/>
<path d="M361.5 93.7 C367.0 93.7 368.8 98.1 368.8 102.5 C368.8 111.1 365.3 118.1 362.7 118.1 C359.4 118.1 354.2 110.3 354.2 102.5 C354.2 98.1 356.0 93.7 361.5 93.7Z" fill="none" stroke="#666" stroke-width="0.4"/>
<path d="M361.5 94.7 C366.2 94.7 367.8 98.6 367.8 102.5 C367.8 110.2 364.9 116.5 362.7 116.5 C359.9 116.5 355.2 109.5 355.2 102.5 C355.2 98.6 356.8 94.7 361.5 94.7Z" fill="none" stroke="#ccc" stroke-width="0.4"/>
<path d="M361.5 95.7 C365.5 95.7 366.8 99.2 366.8 102.6 C366.8 109.4 364.6 114.9 362.7 114.9 C360.3 114.9 356.2 108.7 356.2 102.6 C356.2 99.2 357.5 95.7 361.5 95.7Z" fill="none" stroke="#666" stroke-width="0.4"/>
<path d="M361.5 96.7 C364.7 96.7 365.8 99.7 365.8 102.7 C365.8 108.5 364.2 113.3 362.7 113.3 C360.8 113.3 357.2 108.0 357.2 102.7 C357.2 99.7 358.3 96.7 361.5 96.7Z" fill="none" stroke="#ccc" stroke-width="0.4"/>
<ellipse cx="360.4" cy="101.5" rx="0.9" ry="1.6" fill="#fff"/>
<path d="M356.5 202.0 L355.0 202.8 L354.2 203.6 L353.4 204.4 L353.6 205.2 L352.8 206.0 L352.6 206.8 L352.3 207.6 L352.4 208.4 L352.3 209.2 L352.4 210.0 L352.7 210.8 L352.1 211.6 L352.6 212.4 L352.5 213.2 L352.5 214.0 L352.8 214.8 L352.5 215.6 L352.4 216.4 L352.4 217.2 L352.8 218.0 L352.8 218.8 L352.9 219.6 L353.1 220.4 L352.6 221.2 L352.9 222.0 L352.7 222.8 L352.5 223.6 L353.3 224.4 L352.7 225.2 L353.3 226.0 L352.9 226.8 L353.0 227.6 L353.1 228.4 L353.2 229.2 L354.1 230.0 L353.7 230.8 L354.8 231.6 L354.6 232.4 L355.2 233.2 L355.7 234.0 L355.6 234.8 L356.4 235.6 L356.5 236.4 L357.2 237.2 L357.7 238.0 L358.1 238.8 L358.6 239.6 L359.3 240.4 L359.7 241.2 L367.4 241.2 L367.9 240.4 L367.6 239.6 L367.6 238.8 L368.0 238.0 L368.4 237.2 L369.8 236.4 L370.0 235.6 L369.8 234.8 L370.6 234.0 L370.4 233.2 L370.8 232.4 L370.9 231.6 L371.6 230.8 L371.2 230.0 L371.3 229.2 L371.9 228.4 L372.5 227.6 L371.9 226.8 L371.5 226.0 L371.9 225.2 L372.0 224.4 L371.3 223.6 L371.7 222.8 L371.5 222.0 L372.4 221.2 L371.8 220.4 L371.7 219.6 L371.9 218.8 L372.5 218.0 L372.1 217.2 L372.0 216.4 L371.6 215.6 L371.9 214.8 L371.4 214.0 L372.0 213.2 L371.4 212.4 L372.3 211.6 L371.9 210.8 L372.1 210.0 L371.1 209.2 L370.9 208.4 L371.4 207.6 L370.6 206.8 L370.3 206.0 L369.8 205.2 L369.1 204.4 L367.6 203.6 L366.3 202.8 L364.3 202.0Z" fill="#181818" stroke="#181818" stroke-width="0.5" stroke-linejoin="round"/>
<path d="M352.6 207.9h0.7 M354.8 230.0h0.7 M374.4 219.1h0.7 M369.7 225.7h0.7 M353.5 223.5h0.7 M372.5 223.8h0.7 M369.3 238.7h0.7 M371.3 238.8h0.7 M372.6 239.8h0.7 M369.0 237.4h0.7 M374.3 216.2h0.7 M369.5 205.7h0.7 M370.9 230.3h0.7 M357.4 239.2h0.7 M369.0 220.5h0.7 M370.6 233.4h0.7 M352.9 219.1h0.7 M369.5 204.4h0.7 M371.5 230.4h0.7 M351.8 216.3h0.7 M371.9 233.9h0.7 M370.8 208.3h0.7 M352.7 223.2h0.7 M355.7 235.9h0.7 M373.0 229.4h0.7 M369.1 236.2h0.7 M371.4 206.1h0.7 M369.1 234.3h0.7 M369.3 237.2h0.7 M352.6 221.8h0.7 M356.7 234.5h0.7 M367.6 236.3h0.7 M354.2 230.9h0.7 M374.5 211.8h0.7 M354.7 204.6h0.7 M364.0 202.0h0.7 M370.1 236.4h0.7 M369.3 205.1h0.7 M369.8 236.5h0.7 M372.7 214.0h0.7 M357.3 237.4h0.7 M369.8 241.0h0.7 M368.4 234.4h0.7 M353.5 232.5h0.7 M359.3 241.4h0.7 M374.4 208.3h0.7 M352.8 214.3h0.7 M354.7 231.3h0.7 M368.3 239.8h0.7 M354.6 230.3h0.7 M374.2 217.5h0.7 M372.6 216.0h0.7 M372.4 219.3h0.7 M372.9 230.0h0.7 M372.8 216.2h0.7 M374.9 223.7h0.7 M355.6 234.9h0.7 M352.0 228.8h0.7 M353.3 205.4h0.7 M364.8 203.2h0.7 M352.3 210.4h0.7 M352.4 208.0h0.7 M355.7 202.9h0.7 M373.6 225.5h0.7 M371.4 226.8h0.7 M371.5 233.1h0.7 M366.8 239.7h0.7 M370.1 240.3h0.7 M373.1 232.5h0.7 M356.1 235.3h0.7 M373.4 229.6h0.7 M352.8 211.0h0.7 M372.1 216.5h0.7 M368.7 203.3h0.7 M371.6 231.3h0.7 M370.4 231.9h0.7 M353.2 205.3h0.7 M369.1 208.4h0.7 M369.6 226.5h0.7 M368.6 238.4h0.7 M370.8 240.9h0.7 M365.2 201.6h0.7 M355.5 235.1h0.7 M370.1 208.4h0.7 M371.4 222.7h0.7 M359.3 240.2h0.7 M353.0 219.0h0.7 M370.0 205.4h0.7 M369.7 210.3h0.7 M373.8 217.2h0.7 M353.7 215.0h0.7 M374.0 218.8h0.7 M370.2 235.1h0.7 M351.6 212.5h0.7 M371.0 226.9h0.7 M371.6 227.0h0.7 M371.0 227.8h0.7 M372.1 237.3h0.7 M355.8 236.0h0.7 M373.2 213.2h0.7 M351.9 215.0h0.7 M370.2 233.4h0.7 M372.0 211.2h0.7 M371.4 225.4h0.7 M356.3 238.6h0.7 M354.7 230.1h0.7 M371.0 219.2h0.7 M372.2 233.8h0.7 M355.9 235.6h0.7 M353.4 226.5h0.7 M370.4 231.9h0.7 M373.6 211.7h0.7 M352.5 207.8h0.7 M371.1 217.3h0.7 M369.6 202.7h0.7 M369.6 205.8h0.7 M368.5 241.0h0.7 M355.4 231.5h0.7 M370.1 237.5h0.7 M353.4 225.9h0.7 M353.6 229.2h0.7 M367.3 240.0h0.7 M372.5 214.8h0.7 M371.5 208.3h0.7 M353.0 218.3h0.7 M374.8 215.1h0.7 M371.9 222.3h0.7 M372.3 234.0h0.7 M358.2 239.3h0.7 M367.5 239.5h0.7 M372.8 205.2h0.7 M367.0 238.8h0.7 M373.0 214.6h0.7 M368.1 204.2h0.7 M372.4 221.4h0.7 M371.0 232.9h0.7 M373.5 229.7h0.7 M353.8 231.9h0.7 M367.9 207.2h0.7 M374.3 218.8h0.7 M373.9 231.9h0.7 M373.8 235.4h0.7 M372.0 215.6h0.7 M353.0 208.2h0.7 M369.7 218.2h0.7 M369.8 239.6h0.7 M369.0 237.2h0.7 M372.4 235.8h0.7 M372.0 223.6h0.7 M372.8 237.1h0.7 M373.7 229.8h0.7 M373.1 222.9h0.7 M353.4 226.4h0.7 M369.0 238.9h0.7 M358.5 239.6h0.7 M370.1 206.8h0.7 M371.1 238.3h0.7 M356.0 203.0h0.7 M369.8 215.9h0.7 M372.8 224.7h0.7 M369.8 233.9h0.7 M370.6 232.5h0.7 M369.7 225.4h0.7 M372.8 229.8h0.7 M354.9 231.8h0.7 M370.8 223.8h0.7 M363.5 202.1h0.7 M370.5 238.0h0.7 M372.1 228.5h0.7 M371.4 239.0h0.7 M369.7 236.8h0.7 M372.6 215.8h0.7 M374.2 222.9h0.7 M368.4 236.2h0.7 M370.2 224.4h0.7 M368.4 237.7h0.7 M370.6 231.4h0.7 M371.7 215.0h0.7 M372.0 226.8h0.7 M354.1 202.3h0.7 M352.7 224.1h0.7 M359.5 240.7h0.7 M370.6 214.0h0.7 M366.1 203.8h0.7 M370.6 231.5h0.7 M367.5 231.7h0.7 M368.3 239.9h0.7 M376.0 224.6h0.7 M373.4 235.0h0.7 M357.9 237.6h0.7 M370.4 233.4h0.7 M370.2 233.8h0.7 M353.2 208.8h0.7 M375.6 230.3h0.7 M362.0 201.3h0.7 M371.5 207.3h0.7 M376.0 227.3h0.7 M367.1 237.9h0.7 M355.0 231.6h0.7 M368.9 238.7h0.7 M351.7 213.7h0.7 M373.9 218.9h0.7 M373.3 215.4h0.7 M373.1 219.3h0.7 M374.0 219.6h0.7 M372.1 232.0h0.7 M369.5 218.7h0.7 M356.2 236.7h0.7 M370.7 232.0h0.7 M365.6 238.6h0.7 M370.2 225.0h0.7 M370.8 220.1h0.7 M369.8 208.4h0.7 M369.7 240.1h0.7 M355.8 233.1h0.7 M370.3 231.5h0.7 M353.4 208.8h0.7 M353.3 210.7h0.7 M372.8 216.5h0.7 M371.4 235.0h0.7 M370.9 234.8h0.7 M355.6 202.7h0.7 M353.5 205.7h0.7 M374.0 233.9h0.7 M354.7 231.8h0.7 M369.5 238.1h0.7 M370.5 226.4h0.7 M371.8 229.4h0.7 M372.3 217.0h0.7 M371.2 224.3h0.7 M372.8 224.7h0.7 M373.4 230.4h0.7 M373.0 211.2h0.7 M352.5 211.7h0.7 M372.8 224.7h0.7 M370.8 239.9h0.7 M355.0 236.1h0.7 M357.0 238.0h0.7 M369.4 206.9h0.7 M364.6 201.2h0.7 M370.2 215.5h0.7 M358.9 240.1h0.7 M354.2 230.0h0.7 M375.7 216.0h0.7 M353.4 228.8h0.7 M373.3 211.0h0.7 M353.6 226.1h0.7 M374.5 228.9h0.7 M368.9 205.4h0.7 M366.8 233.4h0.7 M372.3 235.1h0.7 M369.7 216.2h0.7 M359.0 239.3h0.7 M370.4 218.5h0.7 M352.6 214.1h0.7 M373.0 227.1h0.7 M367.5 236.7h0.7 M374.4 222.7h0.7 M369.7 235.3h0.7 M368.4 204.1h0.7 M374.0 230.8h0.7 M369.8 239.6h0.7 M354.2 229.6h0.7 M352.5 211.3h0.7 M372.3 218.2h0.7 M371.6 231.2h0.7 M369.4 205.2h0.7 M368.9 241.2h0.7 M369.5 241.2h0.7 M374.8 207.4h0.7 M369.3 233.9h0.7 M355.3 203.5h0.7 M353.9 206.9h0.7 M373.2 212.8h0.7 M368.6 235.6h0.7 M370.6 212.1h0.7 M369.6 234.6h0.7 M372.5 232.8h0.7 M374.7 214.4h0.7 M368.5 235.6h0.7 M369.9 236.4h0.7 M369.7 229.4h0.7 M373.5 211.6h0.7 M370.8 208.7h0.7 M370.2 229.4h0.7 M370.7 224.5h0.7 M371.5 213.5h0.7 M353.9 223.1h0.7 M370.6 237.1h0.7 M372.7 214.3h0.7 M373.3 211.2h0.7 M353.0 205.7h0.7 M357.0 236.6h0.7 M356.9 234.8h0.7 M369.6 208.9h0.7 M371.8 209.6h0.7 M370.0 240.4h0.7 M368.5 224.9h0.7 M357.1 201.8h0.7 M355.8 234.1h0.7 M354.0 206.2h0.7 M352.9 211.0h0.7 M356.6 237.5h0.7 M370.1 219.7h0.7 M355.2 233.2h0.7 M372.9 225.5h0.7 M355.2 233.6h0.7 M372.5 219.5h0.7 M370.9 220.3h0.7 M373.1 222.8h0.7 M370.7 231.4h0.7 M354.0 229.9h0.7 M373.8 214.7h0.7 M362.8 203.5h0.7 M373.1 222.8h0.7 M370.2 237.4h0.7 M354.2 225.8h0.7 M353.4 210.9h0.7 M352.1 206.4h0.7 M372.0 236.4h0.7 M368.2 238.7h0.7 M352.7 209.4h0.7 M369.2 238.8h0.7 M370.7 226.1h0.7 M353.2 207.1h0.7 M374.3 215.4h0.7 M371.8 233.0h0.7 M358.1 239.5h0.7 M354.8 203.4h0.7 M370.8 229.7h0.7 M373.0 205.9h0.7 M354.9 230.0h0.7 M371.2 227.2h0.7 M354.2 232.0h0.7 M372.6 232.9h0.7 M370.7 224.8h0.7 M370.9 231.2h0.7 M372.1 238.3h0.7 M370.2 227.4h0.7 M371.9 229.3h0.7 M371.4 238.3h0.7 M353.7 220.4h0.7 M370.2 235.8h0.7 M371.9 206.5h0.7 M372.5 225.4h0.7 M370.0 238.3h0.7 M374.0 219.1h0.7 M354.1 224.2h0.7 M372.1 206.3h0.7 M370.8 236.3h0.7 M353.3 225.8h0.7 M369.6 210.5h0.7 M373.4 214.1h0.7 M372.7 236.0h0.7 M371.5 233.2h0.7 M372.0 235.8h0.7 M355.5 236.4h0.7 M369.1 234.7h0.7 M372.5 225.3h0.7 M368.5 235.9h0.7 M370.6 209.0h0.7 M371.7 235.1h0.7 M371.8 233.9h0.7 M358.5 201.3h0.7 M354.7 203.6h0.7 M371.7 226.3h0.7 M376.1 229.2h0.7 M373.4 221.0h0.7 M371.1 235.7h0.7 M353.5 212.4h0.7 M359.1 240.8h0.7 M372.3 238.9h0.7 M351.8 211.2h0.7 M368.4 202.6h0.7 M352.2 225.1h0.7 M369.0 236.7h0.7 M353.5 210.4h0.7 M369.4 219.2h0.7 M371.4 238.9h0.7 M370.4 204.7h0.7 M371.6 233.8h0.7 M352.1 209.5h0.7 M372.2 229.4h0.7 M369.0 239.1h0.7 M352.7 204.8h0.7 M354.2 205.0h0.7 M373.0 229.9h0.7 M368.7 205.0h0.7 M358.5 239.3h0.7 M372.3 231.8h0.7 M356.7 236.5h0.7 M374.2 218.7h0.7 M371.2 230.8h0.7 M370.7 237.5h0.7 M373.7 214.2h0.7 M374.7 210.2h0.7 M358.7 201.3h0.7 M369.3 237.8h0.7 M375.5 222.6h0.7 M372.5 227.6h0.7 M372.1 215.5h0.7 M372.8 215.2h0.7 M374.5 226.6h0.7 M372.5 225.3h0.7 M368.1 240.4h0.7 M368.5 237.5h0.7 M370.3 206.7h0.7 M353.5 221.7h0.7 M371.9 239.2h0.7 M369.3 238.8h0.7 M374.3 217.5h0.7 M369.1 237.6h0.7 M374.0 229.5h0.7 M373.6 235.6h0.7 M371.5 208.4h0.7 M354.0 202.9h0.7 M372.9 224.1h0.7 M355.5 233.9h0.7 M352.8 207.4h0.7 M366.4 201.3h0.7 M375.9 224.8h0.7 M357.8 240.0h0.7 M370.2 234.9h0.7 M371.6 232.7h0.7 M374.5 228.1h0.7 M368.6 237.2h0.7 M367.0 235.3h0.7 M370.9 235.2h0.7 M368.1 240.0h0.7 M367.1 202.5h0.7 M363.8 201.4h0.7 M371.7 216.7h0.7 M352.6 213.1h0.7 M374.2 216.5h0.7 M371.5 236.0h0.7 M373.6 225.5h0.7 M368.8 240.4h0.7 M365.1 201.5h0.7 M355.3 235.1h0.7 M371.4 230.2h0.7 M358.9 239.7h0.7 M368.5 237.3h0.7 M372.6 221.1h0.7 M369.7 204.8h0.7 M357.0 239.3h0.7 M374.1 230.5h0.7 M371.8 217.6h0.7 M359.3 239.4h0.7 M371.5 219.9h0.7 M369.1 241.1h0.7 M353.4 220.1h0.7 M373.8 231.7h0.7 M370.9 231.3h0.7 M371.4 232.5h0.7 M355.5 229.4h0.7 M369.7 231.3h0.7 M371.4 233.9h0.7 M371.8 239.0h0.7 M354.7 231.9h0.7 M353.1 231.9h0.7 M370.0 238.4h0.7 M373.4 215.2h0.7 M372.0 231.3h0.7 M352.9 212.3h0.7 M371.3 226.3h0.7 M375.3 215.3h0.7 M353.0 211.8h0.7 M369.5 223.8h0.7 M367.7 237.6h0.7 M372.9 211.5h0.7 M356.4 235.4h0.7 M354.7 228.5h0.7 M353.5 216.0h0.7 M373.2 232.9h0.7 M353.0 221.4h0.7 M368.0 238.2h0.7 M354.1 228.5h0.7 M368.7 241.1h0.7 M354.6 230.5h0.7 M354.0 204.2h0.7 M353.5 210.7h0.7 M364.9 201.4h0.7 M355.9 233.8h0.7 M372.8 232.0h0.7 M372.4 238.5h0.7 M366.5 203.2h0.7 M370.2 237.9h0.7 M368.4 239.7h0.7 M366.4 202.1h0.7 M356.6 238.3h0.7 M375.8 231.9h0.7 M353.5 224.7h0.7 M372.7 216.7h0.7 M371.8 222.4h0.7 M374.2 219.1h0.7 M374.2 215.7h0.7 M371.4 209.6h0.7 M367.6 203.3h0.7 M371.4 208.0h0.7 M373.6 229.5h0.7 M370.6 211.8h0.7 M372.0 204.9h0.7 M372.4 220.7h0.7 M364.9 201.2h0.7 M370.3 204.8h0.7 M372.1 224.3h0.7 M366.1 205.4h0.7 M372.7 231.3h0.7 M371.4 232.8h0.7 M353.1 226.0h0.7 M355.8 233.7h0.7 M372.9 211.0h0.7 M353.6 214.2h0.7 M371.3 217.5h0.7 M369.5 219.4h0.7 M368.2 203.2h0.7 M370.4 240.4h0.7 M368.6 239.7h0.7 M352.7 221.4h0.7 M371.5 229.6h0.7 M369.5 208.3h0.7 M353.4 205.9h0.7 M355.2 234.7h0.7 M368.4 237.7h0.7 M370.5 207.2h0.7 M370.6 215.8h0.7 M356.5 239.9h0.7 M372.0 229.8h0.7 M369.7 234.3h0.7 M351.0 208.1h0.7 M369.1 234.7h0.7 M374.9 222.4h0.7 M359.2 201.2h0.7 M369.5 206.9h0.7 M372.8 224.6h0.7 M370.6 213.0h0.7 M357.9 237.1h0.7 M355.6 233.0h0.7 M374.9 225.9h0.7 M372.5 206.9h0.7 M371.0 239.6h0.7 M372.5 230.0h0.7 M371.5 226.9h0.7 M369.1 204.9h0.7 M368.3 241.3h0.7 M372.0 240.6h0.7 M370.5 235.8h0.7 M367.7 202.9h0.7 M370.5 235.9h0.7 M353.9 228.0h0.7 M355.9 202.3h0.7 M364.4 202.4h0.7 M374.9 215.4h0.7 M356.5 235.8h0.7 M352.5 215.4h0.7 M353.5 227.6h0.7 M353.9 226.9h0.7 M371.4 235.5h0.7 M370.0 205.1h0.7 M371.0 222.6h0.7 M358.4 239.7h0.7 M370.8 227.3h0.7 M373.1 234.9h0.7 M353.4 224.8h0.7 M368.2 239.7h0.7 M353.1 221.9h0.7 M374.1 222.5h0.7 M369.9 209.2h0.7 M367.8 237.1h0.7 M353.8 221.4h0.7 M357.8 237.1h0.7 M367.0 240.8h0.7 M371.0 235.3h0.7 M370.4 217.1h0.7 M372.0 231.0h0.7 M373.3 221.2h0.7 M371.0 231.3h0.7 M370.9 214.3h0.7 M352.2 207.5h0.7 M357.2 238.8h0.7 M368.8 232.6h0.7 M370.1 217.7h0.7 M355.9 233.6h0.7 M355.7 234.0h0.7 M374.1 228.5h0.7 M368.7 217.1h0.7 M372.2 235.1h0.7 M364.9 202.6h0.7 M375.4 232.6h0.7 M358.2 238.7h0.7 M358.4 240.6h0.7 M369.9 234.8h0.7 M369.9 205.4h0.7 M355.0 232.0h0.7 M353.8 225.9h0.7 M353.7 226.5h0.7 M371.8 227.1h0.7 M369.4 231.8h0.7 M372.4 224.3h0.7 M371.7 233.6h0.7 M352.4 208.6h0.7 M373.7 233.0h0.7 M368.3 240.1h0.7 M373.2 232.0h0.7 M372.6 231.6h0.7 M370.9 239.9h0.7 M369.9 204.9h0.7 M372.1 237.6h0.7 M372.2 229.3h0.7 M369.5 206.5h0.7 M370.4 231.3h0.7 M355.2 232.4h0.7 M372.7 236.5h0.7 M356.9 201.9h0.7 M363.1 201.7h0.7 M372.8 219.7h0.7 M363.5 202.0h0.7 M367.7 241.5h0.7 M352.9 227.3h0.7 M370.7 218.1h0.7 M369.2 206.7h0.7 M369.5 234.7h0.7 M371.6 235.1h0.7 M356.7 236.2h0.7 M369.7 229.9h0.7 M354.1 226.6h0.7 M368.6 236.0h0.7 M371.7 208.7h0.7 M355.9 235.4h0.7 M370.0 234.0h0.7 M352.8 217.7h0.7 M374.3 212.6h0.7 M367.6 238.5h0.7 M352.8 208.2h0.7 M355.6 231.0h0.7 M371.8 218.9h0.7 M373.0 234.5h0.7 M354.2 231.6h0.7 M372.1 214.3h0.7 M368.0 232.9h0.7 M372.2 238.6h0.7 M373.7 206.4h0.7 M367.2 202.4h0.7 M353.0 214.8h0.7 M376.1 218.3h0.7 M356.2 234.8h0.7 M370.6 231.4h0.7 M371.7 230.6h0.7 M354.2 231.6h0.7 M369.8 228.0h0.7 M373.7 208.5h0.7 M370.4 240.6h0.7 M354.0 207.6h0.7 M356.2 236.5h0.7 M373.3 211.0h0.7 M358.4 240.4h0.7 M370.2 206.1h0.7 M373.1 230.1h0.7 M373.6 231.5h0.7 M372.6 231.7h0.7 M352.7 208.1h0.7 M371.5 241.4h0.7 M371.8 217.5h0.7 M372.3 205.7h0.7 M373.3 234.2h0.7 M352.8 215.6h0.7 M353.3 211.8h0.7 M372.9 211.9h0.7 M370.6 218.0h0.7 M373.1 208.1h0.7 M364.3 202.3h0.7 M356.2 236.2h0.7 M354.7 233.0h0.7 M373.6 235.2h0.7 M373.2 215.7h0.7 M371.2 220.9h0.7 M368.5 204.4h0.7 M372.0 238.9h0.7 M372.1 228.1h0.7 M372.6 222.2h0.7 M371.7 223.6h0.7 M370.3 233.9h0.7 M369.5 240.4h0.7 M352.0 222.6h0.7 M352.5 223.4h0.7 M369.7 205.4h0.7 M368.8 206.0h0.7 M353.7 206.7h0.7 M372.2 237.8h0.7 M371.8 240.6h0.7 M370.9 234.1h0.7 M369.9 213.9h0.7 M372.2 232.9h0.7 M371.7 230.1h0.7 M353.3 224.7h0.7 M352.2 208.2h0.7 M370.1 234.1h0.7 M369.3 203.3h0.7 M367.2 240.9h0.7 M372.8 223.9h0.7 M367.8 241.4h0.7 M368.8 235.8h0.7 M356.8 239.5h0.7 M373.1 228.9h0.7 M370.3 234.7h0.7 M372.1 222.6h0.7 M352.9 220.3h0.7 M374.3 210.7h0.7 M371.6 206.6h0.7 M366.7 239.0h0.7 M371.3 203.8h0.7 M356.5 235.5h0.7 M368.9 235.6h0.7 M368.6 233.8h0.7 M353.7 227.8h0.7 M353.4 219.4h0.7 M359.1 240.5h0.7 M370.3 236.8h0.7 M357.1 237.0h0.7 M365.6 236.8h0.7 M370.8 236.5h0.7 M362.4 202.0h0.7 M357.8 237.9h0.7 M371.8 216.8h0.7 M374.6 217.8h0.7 M374.7 229.8h0.7 M353.5 218.4h0.7 M371.9 229.7h0.7 M369.6 240.9h0.7 M352.1 209.1h0.7 M357.1 237.8h0.7 M351.4 218.1h0.7 M368.5 235.4h0.7 M368.0 232.3h0.7 M353.4 226.1h0.7 M352.4 206.9h0.7 M373.6 231.2h0.7 M371.9 235.6h0.7 M375.5 210.6h0.7 M355.2 234.2h0.7 M369.0 236.2h0.7 M356.7 236.3h0.7 M370.9 211.2h0.7 M370.8 240.1h0.7 M351.7 212.5h0.7 M354.2 230.7h0.7 M369.6 214.7h0.7 M375.2 215.7h0.7 M356.0 235.5h0.7 M356.2 237.0h0.7 M369.0 230.2h0.7 M372.1 217.9h0.7 M376.8 219.3h0.7 M357.8 236.7h0.7 M372.8 230.4h0.7 M369.4 240.6h0.7 M355.1 231.2h0.7 M366.8 240.2h0.7 M352.2 215.0h0.7 M371.7 223.9h0.7 M357.7 237.8h0.7 M373.4 230.7h0.7 M371.7 208.5h0.7 M367.7 236.8h0.7 M372.6 233.8h0.7 M358.2 239.7h0.7 M371.7 227.2h0.7 M357.6 240.5h0.7 M368.7 239.7h0.7 M370.1 235.1h0.7 M352.3 209.2h0.7 M370.7 230.3h0.7 M367.0 237.5h0.7 M369.2 225.1h0.7 M366.2 204.1h0.7 M353.8 206.4h0.7 M374.2 228.0h0.7 M353.4 220.2h0.7 M372.0 218.6h0.7 M373.6 229.1h0.7 M372.0 215.5h0.7 M368.8 237.3h0.7 M356.5 236.5h0.7 M370.1 235.2h0.7 M356.3 236.0h0.7 M374.2 224.5h0.7 M373.4 235.6h0.7 M366.4 237.9h0.7 M353.5 220.2h0.7 M371.1 229.7h0.7 M369.6 235.0h0.7 M368.6 236.6h0.7 M375.1 225.6h0.7 M372.1 208.7h0.7 M372.3 220.4h0.7 M372.0 226.1h0.7 M357.5 238.4h0.7 M372.4 230.9h0.7 M352.7 224.1h0.7 M370.8 237.8h0.7 M368.5 204.8h0.7 M370.2 233.3h0.7 M366.6 202.2h0.7 M368.5 236.1h0.7 M373.6 216.0h0.7 M368.0 234.3h0.7 M353.8 228.8h0.7 M357.2 235.6h0.7 M369.5 232.7h0.7 M352.2 226.7h0.7 M371.5 222.1h0.7 M370.9 204.4h0.7 M373.2 209.1h0.7 M369.4 231.5h0.7 M370.3 203.8h0.7 M351.9 218.9h0.7 M357.2 236.5h0.7 M369.6 216.0h0.7 M375.3 230.4h0.7 M370.3 214.6h0.7 M369.9 235.2h0.7 M356.9 237.2h0.7 M371.3 230.9h0.7 M371.3 221.8h0.7 M372.2 224.3h0.7 M368.9 227.4h0.7 M375.0 213.2h0.7 M370.9 209.5h0.7 M353.5 206.0h0.7 M370.1 207.9h0.7 M373.5 236.8h0.7 M355.3 202.5h0.7 M370.4 239.0h0.7 M358.9 241.0h0.7 M370.9 227.2h0.7 M367.9 238.5h0.7 M369.1 237.6h0.7 M370.2 223.8h0.7 M371.8 234.2h0.7 M368.7 239.8h0.7 M370.8 236.5h0.7 M368.6 241.3h0.7 M371.2 222.8h0.7 M374.8 225.5h0.7 M368.8 241.2h0.7 M355.6 231.7h0.7 M374.2 225.9h0.7 M372.1 231.2h0.7 M352.8 209.1h0.7 M352.1 207.6h0.7 M353.5 207.3h0.7 M358.1 237.9h0.7 M358.7 239.2h0.7 M373.1 234.1h0.7 M357.8 236.5h0.7 M370.8 237.4h0.7 M370.6 228.8h0.7 M368.8 241.1h0.7 M367.7 234.3h0.7 M355.7 202.8h0.7 M369.3 240.7h0.7 M372.9 223.5h0.7 M371.4 229.1h0.7 M372.7 229.7h0.7 M368.7 238.1h0.7 M356.9 235.7h0.7 M353.1 206.0h0.7 M372.6 227.5h0.7 M353.6 226.1h0.7 M366.1 203.8h0.7 M369.8 220.4h0.7 M371.0 208.5h0.7 M371.7 233.9h0.7 M371.8 217.0h0.7 M353.6 231.9h0.7 M367.9 238.9h0.7 M367.8 204.7h0.7 M358.5 240.9h0.7 M373.8 236.2h0.7 M371.5 235.8h0.7 M352.0 216.5h0.7 M371.5 217.4h0.7 M370.6 233.4h0.7 M356.9 237.4h0.7 M368.9 239.6h0.7 M372.6 227.3h0.7 M372.7 219.2h0.7 M370.1 205.4h0.7 M370.0 233.4h0.7 M356.1 236.6h0.7 M371.7 237.7h0.7 M368.7 232.2h0.7 M352.9 219.3h0.7 M352.8 204.5h0.7 M372.3 205.5h0.7 M372.3 230.9h0.7 M371.7 235.2h0.7 M366.6 232.9h0.7 M369.4 230.3h0.7 M370.1 221.0h0.7 M364.5 202.7h0.7 M361.2 200.6h0.7 M365.2 202.4h0.7 M363.2 202.5h0.7 M356.1 200.4h0.7 M360.0 199.5h0.7 M367.6 201.9h0.7 M366.8 202.7h0.7 M367.3 202.6h0.7 M361.4 202.0h0.7 M364.2 202.3h0.7 M361.3 200.2h0.7 M364.7 200.6h0.7 M359.3 202.1h0.7 M364.7 201.7h0.7 M361.6 202.9h0.7 M361.7 199.1h0.7 M366.3 202.5h0.7 M360.3 202.2h0.7 M365.9 202.7h0.7 M364.6 200.9h0.7 M358.1 202.6h0.7 M361.6 201.9h0.7 M361.5 202.8h0.7 M357.1 201.3h0.7 M362.4 202.2h0.7 M365.5 201.9h0.7 M361.3 201.5h0.7 M360.2 201.4h0.7 M356.3 200.5h0.7 M357.3 202.4h0.7 M363.8 202.4h0.7 M367.8 202.3h0.7 M362.1 201.5h0.7 M360.4 200.9h0.7 M359.7 203.0h0.7 M358.2 202.9h0.7 M362.7 202.7h0.7 M364.2 202.3h0.7 M361.5 201.4h0.7 M357.3 201.5h0.7 M367.2 201.3h0.7 M359.2 201.8h0.7 M362.2 202.3h0.7 M359.6 202.3h0.7 M358.8 202.9h0.7 M357.6 201.2h0.7 M362.8 202.8h0.7 M359.5 202.1h0.7 M367.4 201.9h0.7 M360.0 202.1h0.7 M359.4 202.0h0.7 M366.0 202.7h0.7 M361.6 199.8h0.7 M365.2 202.7h0.7 M356.6 202.6h0.7 M366.9 201.8h0.7 M356.3 202.6h0.7 M358.2 202.4h0.7 M364.8 201.9h0.7 M364.5 202.9h0.7 M357.9 202.5h0.7 M358.8 202.9h0.7 M364.3 201.5h0.7 M362.1 202.7h0.7 M355.8 200.2h0.7 M365.7 201.1h0.7 M355.5 202.0h0.7 M355.9 201.6h0.7 M361.8 202.6h0.7 M356.1 202.1h0.7 M367.4 202.2h0.7 M356.8 201.3h0.7 M367.1 201.1h0.7 M366.7 200.9h0.7 M366.2 202.2h0.7 M366.6 202.8h0.7 M361.9 202.2h0.7 M357.4 201.3h0.7 M363.6 202.7h0.7 M366.7 200.8h0.7 M361.8 201.9h0.7 M365.0 202.7h0.7 M364.8 201.5h0.7 M359.8 201.9h0.7 M364.2 202.7h0.7 M356.4 201.4h0.7 M362.4 202.9h0.7 M356.6 202.9h0.7 M360.6 201.3h0.7 M365.3 202.4h0.7 M366.7 202.3h0.7 M357.8 200.7h0.7 M368.1 202.2h0.7 M365.8 202.3h0.7 M365.7 202.4h0.7 M365.4 201.0h0.7 M356.3 202.3h0.7 M366.3 202.7h0.7 M356.1 201.3h0.7 M358.3 202.7h0.7 M361.2 202.9h0.7 M355.9 202.9h0.7 M367.6 202.6h0.7 M365.3 201.4h0.7 M357.5 202.1h0.7 M367.8 202.1h0.7 M356.7 202.5h0.7 M370.6 233.4h0.7 M368.5 215.4h0.7 M369.8 236.3h0.7 M366.8 199.1h0.7 M371.2 217.7h0.7 M372.4 221.6h0.7 M377.0 228.3h0.7 M368.9 221.2h0.7 M377.3 216.7h0.7 M373.8 236.0h0.7 M366.7 226.7h0.7 M376.5 233.1h0.7 M363.7 238.9h0.7 M374.2 226.4h0.7 M373.8 212.7h0.7 M376.9 241.0h0.7 M374.0 236.0h0.7 M366.0 222.5h0.7 M370.9 233.1h0.7 M365.8 225.8h0.7 M375.7 213.5h0.7 M377.4 231.0h0.7 M368.8 213.8h0.7 M377.2 218.4h0.7 M367.9 223.1h0.7 M375.2 239.5h0.7 M369.5 200.2h0.7 M376.7 225.4h0.7 M369.6 225.3h0.7 M365.3 213.5h0.7 M364.7 240.2h0.7 M368.3 226.7h0.7 M367.7 210.1h0.7" stroke="#111" stroke-width="0.7" fill="none" opacity="0.8"/>
<path d="M361.2 204.0 C367.1 204.0 369.0 209.0 369.0 214.0 C369.0 223.7 364.7 231.7 362.0 231.7 C358.5 231.7 353.5 222.8 353.5 214.0 C353.5 209.0 355.4 204.0 361.2 204.0Z" fill="#9c9c9c" stroke="#f0f0f0" stroke-width="0.7"/>
<path d="M361.2 205.2 C366.2 205.2 367.8 209.6 367.8 214.0 C367.8 222.7 364.3 229.8 362.0 229.8 C359.1 229.8 354.7 221.9 354.7 214.0 C354.7 209.6 356.3 205.2 361.2 205.2Z" fill="none" stroke="#666" stroke-width="0.4"/>
<path d="M361.2 206.2 C365.4 206.2 366.8 210.2 366.8 214.1 C366.8 221.8 363.9 228.2 362.0 228.2 C359.5 228.2 355.7 221.1 355.7 214.1 C355.7 210.2 357.1 206.2 361.2 206.2Z" fill="none" stroke="#ccc" stroke-width="0.4"/>
<path d="M361.2 207.2 C364.7 207.2 365.8 210.7 365.8 214.2 C365.8 221.0 363.6 226.6 362.0 226.6 C360.0 226.6 356.7 220.4 356.7 214.2 C356.7 210.7 357.8 207.2 361.2 207.2Z" fill="none" stroke="#666" stroke-width="0.4"/>
<path d="M361.2 208.2 C363.9 208.2 364.8 211.2 364.8 214.2 C364.8 220.1 363.2 225.0 362.0 225.0 C360.4 225.0 357.7 219.6 357.7 214.2 C357.7 211.2 358.6 208.2 361.2 208.2Z" fill="none" stroke="#ccc" stroke-width="0.4"/>
<ellipse cx="360.6" cy="213.3" rx="0.9" ry="1.8" fill="#fff"/>
<path d="M467.4 202.0 L466.5 202.8 L466.0 203.6 L465.4 204.4 L465.0 205.2 L464.5 206.0 L464.5 206.8 L464.7 207.6 L464.6 208.4 L464.4 209.2 L464.2 210.0 L464.1 210.8 L464.3 211.6 L464.3 212.4 L464.5 213.2 L464.5 214.0 L464.5 214.8 L464.4 215.6 L464.8 216.4 L464.4 217.2 L464.2 218.0 L464.8 218.8 L464.7 219.6 L464.3 220.4 L464.3 221.2 L464.5 222.0 L464.3 222.8 L464.9 223.6 L464.2 224.4 L464.8 225.2 L464.3 226.0 L464.7 226.8 L464.3 227.6 L464.5 228.4 L464.8 229.2 L465.0 230.0 L465.4 230.8 L465.8 231.6 L465.9 232.4 L466.1 233.2 L466.3 234.0 L467.0 234.8 L467.2 235.6 L467.7 236.4 L468.0 237.2 L468.3 238.0 L469.2 238.8 L469.2 239.6 L470.2 240.4 L470.4 241.2 L471.2 242.0 L473.5 242.0 L473.6 241.2 L473.9 240.4 L475.0 239.6 L475.3 238.8 L475.4 238.0 L474.9 237.2 L475.7 236.4 L475.7 235.6 L476.2 234.8 L476.5 234.0 L476.8 233.2 L477.5 232.4 L477.8 231.6 L477.5 230.8 L477.6 230.0 L478.1 229.2 L477.8 228.4 L478.3 227.6 L478.2 226.8 L477.7 226.0 L478.0 225.2 L477.6 224.4 L477.8 223.6 L477.6 222.8 L477.4 222.0 L478.4 221.2 L478.1 220.4 L478.4 219.6 L477.7 218.8 L478.0 218.0 L477.6 217.2 L478.1 216.4 L477.7 215.6 L478.3 214.8 L477.6 214.0 L478.2 213.2 L477.9 212.4 L477.2 211.6 L477.7 210.8 L477.4 210.0 L477.2 209.2 L477.9 208.4 L478.3 207.6 L478.1 206.8 L477.5 206.0 L477.6 205.2 L476.8 204.4 L475.8 203.6 L475.3 202.8 L474.3 202.0Z" fill="#181818" stroke="#181818" stroke-width="0.5" stroke-linejoin="round"/>
<path d="M476.1 213.0h0.7 M466.4 233.4h0.7 M480.2 226.0h0.7 M474.3 203.6h0.7 M474.0 202.3h0.7 M479.3 222.8h0.7 M465.7 232.8h0.7 M479.2 235.9h0.7 M479.2 226.5h0.7 M468.2 237.9h0.7 M465.2 205.7h0.7 M477.8 230.7h0.7 M477.2 237.3h0.7 M465.6 206.5h0.7 M478.2 224.7h0.7 M481.0 219.2h0.7 M481.9 221.5h0.7 M470.0 240.5h0.7 M480.1 210.4h0.7 M464.4 225.5h0.7 M464.6 226.9h0.7 M474.1 225.3h0.7 M468.5 239.7h0.7 M469.5 241.4h0.7 M476.3 238.5h0.7 M474.5 238.2h0.7 M478.1 225.5h0.7 M476.4 241.3h0.7 M475.1 204.4h0.7 M474.6 237.3h0.7 M475.7 236.4h0.7 M465.6 204.0h0.7 M467.1 235.5h0.7 M477.3 234.6h0.7 M464.6 210.8h0.7 M477.6 220.3h0.7 M478.6 229.5h0.7 M477.5 219.3h0.7 M478.3 212.3h0.7 M481.3 211.0h0.7 M474.1 240.9h0.7 M479.1 207.2h0.7 M465.7 232.1h0.7 M474.6 212.8h0.7 M466.8 203.6h0.7 M479.1 236.7h0.7 M477.5 232.5h0.7 M475.2 241.9h0.7 M479.1 233.6h0.7 M478.1 210.6h0.7 M476.2 213.4h0.7 M465.4 216.6h0.7 M465.3 217.4h0.7 M474.8 238.4h0.7 M477.1 206.1h0.7 M479.2 204.6h0.7 M481.1 225.6h0.7 M476.3 239.0h0.7 M475.1 230.2h0.7 M477.0 204.7h0.7 M478.7 227.1h0.7 M476.4 224.9h0.7 M469.0 239.7h0.7 M476.7 235.0h0.7 M479.8 226.5h0.7 M476.9 224.7h0.7 M480.1 234.6h0.7 M475.6 234.0h0.7 M477.4 238.2h0.7 M480.3 223.1h0.7 M475.9 205.5h0.7 M477.6 210.1h0.7 M478.1 233.1h0.7 M474.8 238.0h0.7 M479.4 230.2h0.7 M478.4 235.6h0.7 M476.5 210.4h0.7 M479.8 214.5h0.7 M476.6 222.9h0.7 M476.9 235.1h0.7 M477.3 226.7h0.7 M467.6 235.7h0.7 M478.4 213.5h0.7 M479.1 233.1h0.7 M476.3 239.8h0.7 M464.8 230.8h0.7 M479.4 219.6h0.7 M477.2 234.9h0.7 M476.3 201.4h0.7 M478.7 209.6h0.7 M476.5 241.0h0.7 M478.5 226.5h0.7 M475.5 241.3h0.7 M478.0 225.5h0.7 M475.0 241.6h0.7 M475.7 240.6h0.7 M478.6 221.4h0.7 M477.7 217.0h0.7 M476.7 234.2h0.7 M477.6 238.6h0.7 M479.2 224.0h0.7 M469.9 201.4h0.7 M476.7 208.4h0.7 M476.1 207.8h0.7 M477.6 205.4h0.7 M471.3 201.5h0.7 M474.3 226.7h0.7 M474.7 235.1h0.7 M465.3 220.3h0.7 M478.6 232.5h0.7 M467.6 236.4h0.7 M474.9 206.2h0.7 M473.8 201.2h0.7 M466.3 231.2h0.7 M475.9 233.5h0.7 M468.5 238.5h0.7 M475.6 236.6h0.7 M464.5 204.8h0.7 M477.6 237.3h0.7 M474.5 236.1h0.7 M479.1 228.4h0.7 M463.9 208.9h0.7 M479.3 234.9h0.7 M476.5 208.5h0.7 M478.3 239.9h0.7 M475.5 239.1h0.7 M476.6 211.9h0.7 M476.7 233.6h0.7 M464.0 221.1h0.7 M466.2 230.0h0.7 M477.8 210.0h0.7 M474.6 202.2h0.7 M469.0 240.2h0.7 M468.9 239.9h0.7 M466.4 234.2h0.7 M477.0 220.4h0.7 M477.9 236.3h0.7 M478.2 229.8h0.7 M467.7 235.7h0.7 M475.2 203.4h0.7 M479.9 229.2h0.7 M478.2 225.8h0.7 M465.2 207.5h0.7 M474.9 235.1h0.7 M465.6 225.5h0.7 M477.3 208.5h0.7 M475.7 231.0h0.7 M464.8 205.4h0.7 M466.3 231.4h0.7 M477.7 234.5h0.7 M473.9 240.8h0.7 M476.3 205.2h0.7 M474.1 238.3h0.7 M476.1 221.9h0.7 M474.0 209.8h0.7 M476.4 209.8h0.7 M477.7 218.0h0.7 M476.7 205.5h0.7 M479.5 231.8h0.7 M480.2 208.7h0.7 M475.2 239.7h0.7 M476.7 222.1h0.7 M468.7 201.5h0.7 M465.7 234.5h0.7 M475.2 228.2h0.7 M465.0 217.0h0.7 M479.5 205.5h0.7 M476.6 238.5h0.7 M478.8 230.8h0.7 M466.3 235.0h0.7 M466.1 233.7h0.7 M477.3 230.5h0.7 M476.3 232.8h0.7 M476.7 205.5h0.7 M478.2 209.0h0.7 M467.8 238.6h0.7 M474.8 233.4h0.7 M476.8 216.4h0.7 M477.4 233.4h0.7 M464.9 214.7h0.7 M478.5 228.3h0.7 M465.2 233.9h0.7 M478.1 229.6h0.7 M478.6 219.7h0.7 M478.2 235.6h0.7 M465.4 217.1h0.7 M476.0 217.5h0.7 M478.7 217.3h0.7 M477.1 230.0h0.7 M478.5 233.1h0.7 M478.1 237.8h0.7 M479.0 235.4h0.7 M466.6 234.0h0.7 M466.7 234.2h0.7 M475.0 236.1h0.7 M477.5 222.1h0.7 M475.1 241.9h0.7 M476.8 224.2h0.7 M464.3 220.9h0.7 M464.4 213.6h0.7 M477.4 232.7h0.7 M463.6 228.5h0.7 M476.8 233.3h0.7 M479.5 219.0h0.7 M469.2 239.6h0.7 M463.9 206.8h0.7 M466.0 231.3h0.7 M478.9 240.2h0.7 M469.2 240.2h0.7 M478.5 210.6h0.7 M474.1 240.9h0.7 M476.4 232.7h0.7 M466.5 234.0h0.7 M477.3 210.4h0.7 M475.1 235.2h0.7 M475.2 236.7h0.7 M478.3 237.4h0.7 M465.9 204.0h0.7 M477.3 238.5h0.7 M479.5 232.1h0.7 M467.5 236.0h0.7 M465.9 235.1h0.7 M477.5 205.5h0.7 M470.2 239.8h0.7 M467.0 235.1h0.7 M464.9 207.2h0.7 M479.7 232.3h0.7 M478.4 227.3h0.7 M465.2 212.7h0.7 M479.5 239.0h0.7 M476.3 238.7h0.7 M477.8 230.2h0.7 M473.0 240.8h0.7 M478.5 216.0h0.7 M479.8 226.3h0.7 M469.6 241.8h0.7 M467.7 239.3h0.7 M466.5 224.4h0.7 M480.6 216.0h0.7 M475.5 237.1h0.7 M479.7 229.5h0.7 M465.8 232.8h0.7 M465.3 229.0h0.7 M477.4 241.1h0.7 M478.6 229.6h0.7 M464.2 211.7h0.7 M478.1 240.5h0.7 M480.3 233.6h0.7 M480.5 224.0h0.7 M475.6 238.6h0.7 M472.9 203.9h0.7 M479.4 223.6h0.7 M478.0 223.9h0.7 M478.1 212.9h0.7 M478.2 230.4h0.7 M479.2 224.2h0.7 M476.1 240.0h0.7 M465.0 230.5h0.7 M476.2 219.2h0.7 M479.4 211.3h0.7 M479.6 233.0h0.7 M479.3 231.3h0.7 M468.4 201.6h0.7 M479.4 231.4h0.7 M476.9 232.0h0.7 M474.3 204.7h0.7 M479.8 211.8h0.7 M465.0 231.9h0.7 M477.2 233.7h0.7 M465.9 203.9h0.7 M479.5 230.2h0.7 M476.3 201.7h0.7 M478.9 235.4h0.7 M480.1 233.6h0.7 M465.8 232.6h0.7 M464.4 224.7h0.7 M465.5 229.7h0.7 M464.2 208.6h0.7 M477.1 231.9h0.7 M465.6 204.5h0.7 M474.8 239.7h0.7 M476.5 232.7h0.7 M477.5 232.1h0.7 M478.3 204.4h0.7 M465.3 230.8h0.7 M469.6 240.6h0.7 M464.8 213.9h0.7 M467.0 231.8h0.7 M464.3 217.5h0.7 M478.1 221.5h0.7 M465.1 220.8h0.7 M474.5 241.8h0.7 M474.5 214.4h0.7 M476.4 235.3h0.7 M478.2 232.8h0.7 M481.6 214.9h0.7 M479.6 234.1h0.7 M476.1 236.1h0.7 M467.8 234.3h0.7 M481.0 233.3h0.7 M478.6 231.1h0.7 M479.8 230.2h0.7 M466.8 234.5h0.7 M478.8 203.3h0.7 M474.8 215.5h0.7 M475.7 205.3h0.7 M480.6 210.0h0.7 M477.5 238.7h0.7 M465.0 230.5h0.7 M479.1 232.2h0.7 M476.5 238.5h0.7 M474.9 241.2h0.7 M478.3 233.5h0.7 M469.5 238.8h0.7 M478.2 220.9h0.7 M475.9 241.7h0.7 M478.1 234.0h0.7 M476.4 202.3h0.7 M479.5 212.7h0.7 M463.6 224.8h0.7 M476.0 208.1h0.7 M472.1 201.4h0.7 M476.8 203.4h0.7 M479.7 230.4h0.7 M475.0 240.5h0.7 M466.5 237.0h0.7 M479.0 227.2h0.7 M477.0 235.6h0.7 M479.2 227.6h0.7 M473.8 224.3h0.7 M476.2 236.8h0.7 M468.0 201.7h0.7 M479.1 220.0h0.7 M466.5 233.9h0.7 M479.8 232.8h0.7 M477.7 211.9h0.7 M466.5 229.1h0.7 M475.9 226.3h0.7 M480.7 211.1h0.7 M465.9 232.0h0.7 M477.3 228.1h0.7 M478.2 223.1h0.7 M463.6 221.7h0.7 M475.5 227.7h0.7 M481.4 223.0h0.7 M464.5 215.4h0.7 M476.0 232.5h0.7 M476.5 233.3h0.7 M476.3 231.2h0.7 M477.4 238.1h0.7 M476.4 240.5h0.7 M467.9 235.6h0.7 M474.9 236.0h0.7 M465.0 228.5h0.7 M478.8 231.1h0.7 M466.2 231.7h0.7 M476.8 214.8h0.7 M475.9 232.9h0.7 M475.9 235.3h0.7 M479.3 210.5h0.7 M476.3 216.4h0.7 M466.0 205.6h0.7 M481.2 218.9h0.7 M476.9 227.2h0.7 M464.4 207.0h0.7 M479.5 221.6h0.7 M478.2 233.2h0.7 M479.0 213.6h0.7 M480.4 209.3h0.7 M475.9 237.7h0.7 M479.5 230.3h0.7 M477.6 216.8h0.7 M464.7 217.7h0.7 M465.6 231.3h0.7 M475.9 222.7h0.7 M478.3 231.9h0.7 M467.0 235.5h0.7 M476.0 233.4h0.7 M477.1 219.4h0.7 M477.7 229.6h0.7 M464.3 208.8h0.7 M478.2 211.1h0.7 M475.8 241.3h0.7 M478.9 205.0h0.7 M478.9 217.8h0.7 M476.6 230.5h0.7 M477.2 216.5h0.7 M478.4 225.2h0.7 M477.0 226.0h0.7 M465.2 214.4h0.7 M477.0 230.3h0.7 M478.3 230.5h0.7 M463.6 219.1h0.7 M477.2 211.0h0.7 M463.3 214.6h0.7 M476.4 236.3h0.7 M479.2 212.3h0.7 M463.4 221.4h0.7 M479.7 229.7h0.7 M465.1 219.2h0.7 M481.1 224.4h0.7 M477.6 210.4h0.7 M476.9 238.3h0.7 M466.2 221.0h0.7 M468.0 237.8h0.7 M477.2 232.3h0.7 M464.6 212.0h0.7 M477.5 218.0h0.7 M468.5 239.4h0.7 M478.4 233.0h0.7 M475.5 230.9h0.7 M481.7 209.7h0.7 M477.2 202.0h0.7 M466.1 230.9h0.7 M479.2 234.9h0.7 M474.1 241.9h0.7 M479.7 210.1h0.7 M470.9 203.5h0.7 M479.1 234.0h0.7 M477.7 239.8h0.7 M475.0 221.1h0.7 M476.3 234.4h0.7 M476.0 238.4h0.7 M467.8 236.6h0.7 M478.5 221.3h0.7 M477.0 209.3h0.7 M464.8 216.2h0.7 M476.5 238.8h0.7 M476.3 203.7h0.7 M465.9 215.5h0.7 M476.5 237.1h0.7 M478.5 215.4h0.7 M477.8 228.8h0.7 M477.3 205.0h0.7 M474.7 237.5h0.7 M472.1 240.3h0.7 M477.5 235.9h0.7 M478.2 239.0h0.7 M475.6 237.2h0.7 M476.6 238.5h0.7 M478.6 225.3h0.7 M479.1 235.6h0.7 M466.8 231.3h0.7 M478.5 231.2h0.7 M475.4 225.3h0.7 M468.0 237.6h0.7 M478.0 240.6h0.7 M479.8 235.6h0.7 M465.1 212.1h0.7 M477.7 237.7h0.7 M464.4 216.9h0.7 M479.4 229.8h0.7 M466.1 233.4h0.7 M477.2 237.1h0.7 M475.9 203.0h0.7 M476.3 235.0h0.7 M467.9 239.4h0.7 M475.6 235.3h0.7 M475.9 233.8h0.7 M479.2 230.7h0.7 M478.0 240.5h0.7 M476.3 239.8h0.7 M465.3 231.0h0.7 M464.5 225.2h0.7 M478.0 207.7h0.7 M478.7 236.1h0.7 M465.7 229.2h0.7 M466.6 233.8h0.7 M478.5 216.1h0.7 M468.0 237.4h0.7 M477.3 225.6h0.7 M474.3 202.3h0.7 M476.8 205.8h0.7 M476.2 235.4h0.7 M475.8 217.1h0.7 M479.1 230.5h0.7 M476.9 241.6h0.7 M478.5 211.6h0.7 M481.9 230.2h0.7 M481.3 226.2h0.7 M477.4 232.3h0.7 M481.4 215.9h0.7 M473.6 236.6h0.7 M479.6 233.1h0.7 M479.6 206.9h0.7 M476.5 223.1h0.7 M475.5 212.0h0.7 M476.7 238.2h0.7 M464.6 226.1h0.7 M477.1 232.1h0.7 M477.2 240.0h0.7 M476.9 227.9h0.7 M467.5 234.6h0.7 M474.6 240.8h0.7 M474.0 239.3h0.7 M475.0 241.2h0.7 M477.3 239.1h0.7 M476.2 218.2h0.7 M466.3 232.9h0.7 M474.9 231.5h0.7 M480.2 209.5h0.7 M478.5 211.4h0.7 M478.4 223.8h0.7 M464.1 212.8h0.7 M479.9 222.6h0.7 M476.4 238.5h0.7 M476.6 210.0h0.7 M475.3 234.8h0.7 M475.8 238.5h0.7 M481.1 214.8h0.7 M478.4 239.1h0.7 M475.6 201.9h0.7 M474.8 223.5h0.7 M477.9 221.8h0.7 M478.8 210.4h0.7 M474.2 237.4h0.7 M476.0 213.1h0.7 M479.9 219.2h0.7 M475.3 237.4h0.7 M478.2 228.6h0.7 M475.5 240.4h0.7 M476.3 236.8h0.7 M466.2 203.4h0.7 M465.9 207.4h0.7 M464.6 228.4h0.7 M466.5 233.3h0.7 M478.5 230.5h0.7 M475.3 234.9h0.7 M476.8 203.6h0.7 M478.0 212.4h0.7 M481.3 220.3h0.7 M477.3 232.3h0.7 M468.7 237.5h0.7 M478.4 232.7h0.7 M464.6 225.6h0.7 M477.1 235.8h0.7 M475.8 207.6h0.7 M481.3 225.2h0.7 M464.8 217.8h0.7 M475.3 202.0h0.7 M474.7 238.8h0.7 M464.5 227.2h0.7 M470.6 240.1h0.7 M479.0 236.5h0.7 M478.1 218.7h0.7 M477.8 233.9h0.7 M478.9 227.8h0.7 M465.5 230.7h0.7 M477.0 240.4h0.7 M479.3 230.8h0.7 M464.7 205.6h0.7 M474.7 233.3h0.7 M479.5 213.3h0.7 M477.3 236.2h0.7 M479.3 231.5h0.7 M477.8 233.7h0.7 M469.2 201.1h0.7 M467.9 238.3h0.7 M476.1 233.7h0.7 M477.2 224.6h0.7 M463.6 215.8h0.7 M476.6 241.5h0.7 M464.5 209.3h0.7 M478.4 230.2h0.7 M479.3 219.6h0.7 M480.5 217.5h0.7 M480.0 241.2h0.7 M466.0 230.6h0.7 M477.9 206.9h0.7 M480.5 213.2h0.7 M476.8 234.7h0.7 M465.4 207.9h0.7 M479.0 232.5h0.7 M464.8 231.9h0.7 M477.0 237.8h0.7 M479.0 232.9h0.7 M477.7 231.1h0.7 M464.4 226.8h0.7 M476.6 233.3h0.7 M476.8 229.3h0.7 M479.8 231.3h0.7 M477.6 234.1h0.7 M466.2 233.9h0.7 M475.9 239.5h0.7 M479.1 236.0h0.7 M480.1 209.6h0.7 M479.0 240.9h0.7 M480.1 225.6h0.7 M465.2 208.0h0.7 M476.2 239.0h0.7 M475.0 238.8h0.7 M477.6 232.3h0.7 M478.0 210.8h0.7 M465.8 208.3h0.7 M466.8 231.5h0.7 M480.9 209.7h0.7 M473.2 202.3h0.7 M476.1 205.9h0.7 M475.2 232.6h0.7 M476.1 221.4h0.7 M481.0 229.7h0.7 M478.3 232.7h0.7 M477.1 234.2h0.7 M464.3 223.4h0.7 M466.1 202.6h0.7 M476.3 229.1h0.7 M479.5 209.1h0.7 M477.5 235.2h0.7 M478.5 213.3h0.7 M477.3 242.0h0.7 M477.1 232.1h0.7 M466.9 236.9h0.7 M474.2 240.9h0.7 M467.9 237.8h0.7 M475.1 238.9h0.7 M479.9 229.1h0.7 M466.5 234.6h0.7 M476.4 218.1h0.7 M479.5 231.8h0.7 M465.4 233.9h0.7 M478.6 215.2h0.7 M480.6 219.8h0.7 M475.6 240.3h0.7 M474.9 228.8h0.7 M466.9 235.0h0.7 M464.3 208.5h0.7 M466.9 230.9h0.7 M467.7 235.5h0.7 M479.4 232.4h0.7 M477.3 220.3h0.7 M466.9 234.3h0.7 M478.8 212.1h0.7 M467.3 201.8h0.7 M476.8 239.1h0.7 M473.1 241.8h0.7 M472.1 230.6h0.7 M475.2 212.5h0.7 M473.3 239.7h0.7 M479.2 239.1h0.7 M480.5 231.2h0.7 M466.8 235.2h0.7 M471.2 242.0h0.7 M479.1 221.4h0.7 M478.6 207.7h0.7 M474.4 239.5h0.7 M467.6 234.0h0.7 M478.2 232.8h0.7 M476.7 240.5h0.7 M469.7 201.2h0.7 M467.6 237.1h0.7 M473.8 236.9h0.7 M474.6 237.4h0.7 M473.9 241.0h0.7 M476.5 234.4h0.7 M477.4 236.9h0.7 M473.8 229.8h0.7 M477.1 239.9h0.7 M475.4 236.7h0.7 M475.6 240.2h0.7 M480.3 232.5h0.7 M466.5 202.6h0.7 M477.5 203.6h0.7 M476.0 237.3h0.7 M480.7 238.3h0.7 M465.1 224.5h0.7 M476.9 237.6h0.7 M475.4 238.5h0.7 M476.2 202.4h0.7 M469.4 240.0h0.7 M477.2 227.3h0.7 M475.7 233.0h0.7 M478.3 203.0h0.7 M465.6 209.8h0.7 M476.5 241.3h0.7 M475.0 201.8h0.7 M479.9 237.8h0.7 M477.0 235.7h0.7 M468.5 241.1h0.7 M479.0 240.6h0.7 M478.8 226.6h0.7 M473.7 241.6h0.7 M474.8 202.9h0.7 M467.5 237.5h0.7 M480.9 226.8h0.7 M475.6 237.1h0.7 M465.1 209.2h0.7 M481.9 225.5h0.7 M469.0 241.0h0.7 M468.9 240.2h0.7 M465.1 204.3h0.7 M478.9 235.0h0.7 M478.0 224.6h0.7 M476.2 237.6h0.7 M478.6 203.6h0.7 M480.2 219.7h0.7 M479.6 213.0h0.7 M478.9 206.6h0.7 M465.4 214.6h0.7 M477.4 203.6h0.7 M476.1 203.4h0.7 M475.4 230.8h0.7 M467.1 233.5h0.7 M478.7 231.5h0.7 M480.9 207.5h0.7 M477.1 235.3h0.7 M478.4 231.7h0.7 M475.8 239.2h0.7 M464.5 218.7h0.7 M476.9 237.6h0.7 M467.4 234.5h0.7 M465.4 221.5h0.7 M477.0 233.6h0.7 M478.4 237.4h0.7 M475.1 225.3h0.7 M477.1 234.0h0.7 M475.8 241.1h0.7 M473.7 201.4h0.7 M466.7 233.1h0.7 M479.2 218.6h0.7 M478.4 214.8h0.7 M465.2 224.2h0.7 M471.8 240.6h0.7 M478.6 206.4h0.7 M475.1 238.5h0.7 M479.2 216.7h0.7 M468.7 241.1h0.7 M477.0 237.8h0.7 M465.9 230.7h0.7 M469.9 240.7h0.7 M467.2 232.3h0.7 M469.5 239.8h0.7 M475.3 213.4h0.7 M477.9 213.5h0.7 M466.4 232.2h0.7 M476.9 228.6h0.7 M478.4 239.6h0.7 M466.2 233.0h0.7 M480.0 218.7h0.7 M465.6 229.9h0.7 M464.3 212.2h0.7 M475.6 222.2h0.7 M467.1 234.9h0.7 M473.7 242.0h0.7 M466.1 221.2h0.7 M475.0 237.5h0.7 M465.9 224.8h0.7 M477.5 237.8h0.7 M477.9 232.1h0.7 M475.5 242.0h0.7 M474.7 241.4h0.7 M475.7 202.8h0.7 M474.5 201.1h0.7 M479.3 225.1h0.7 M475.6 228.9h0.7 M477.1 234.1h0.7 M478.1 209.2h0.7 M476.0 231.4h0.7 M478.7 232.7h0.7 M476.3 240.9h0.7 M478.1 205.9h0.7 M467.3 235.8h0.7 M473.5 232.5h0.7 M465.1 220.3h0.7 M475.4 241.9h0.7 M479.6 221.4h0.7 M467.2 235.4h0.7 M465.6 231.0h0.7 M477.7 237.9h0.7 M481.3 225.6h0.7 M473.4 239.8h0.7 M476.0 218.5h0.7 M476.4 232.5h0.7 M478.3 235.6h0.7 M477.3 236.1h0.7 M472.4 241.4h0.7 M479.6 208.9h0.7 M467.0 232.0h0.7 M468.9 239.5h0.7 M467.8 237.0h0.7 M474.6 237.6h0.7 M477.1 232.5h0.7 M475.0 242.0h0.7 M477.7 233.4h0.7 M464.6 228.0h0.7 M473.3 201.7h0.7 M476.6 223.3h0.7 M464.8 230.8h0.7 M477.2 237.2h0.7 M466.5 231.3h0.7 M475.7 227.4h0.7 M469.2 238.7h0.7 M464.7 207.8h0.7 M477.0 205.4h0.7 M477.5 229.6h0.7 M474.3 238.7h0.7 M476.2 233.9h0.7 M477.6 202.5h0.7 M469.5 241.8h0.7 M477.9 232.3h0.7 M479.6 227.3h0.7 M477.3 233.0h0.7 M464.2 210.5h0.7 M475.3 203.1h0.7 M468.9 241.7h0.7 M475.6 231.5h0.7 M475.7 241.4h0.7 M475.1 219.0h0.7 M467.6 236.6h0.7 M478.3 237.6h0.7 M475.3 241.9h0.7 M473.0 202.5h0.7 M463.7 208.4h0.7 M484.1 221.5h0.7 M479.0 238.5h0.7 M479.1 232.6h0.7 M477.3 223.8h0.7 M476.6 229.2h0.7 M478.1 209.8h0.7 M478.6 218.2h0.7 M475.9 209.3h0.7 M480.1 227.3h0.7 M467.2 202.0h0.7 M478.7 216.8h0.7 M472.7 240.6h0.7 M475.1 218.3h0.7 M474.2 241.9h0.7 M477.5 228.0h0.7 M466.8 234.7h0.7 M465.9 204.1h0.7 M469.5 201.5h0.7 M465.8 233.3h0.7 M466.5 233.5h0.7 M476.6 224.3h0.7 M466.1 229.8h0.7 M480.0 218.6h0.7 M479.7 209.1h0.7 M466.0 231.6h0.7 M474.8 238.0h0.7 M468.8 201.7h0.7 M467.0 202.8h0.7 M476.3 235.8h0.7 M465.0 227.9h0.7 M465.2 215.2h0.7 M474.7 202.4h0.7 M474.3 239.9h0.7 M477.3 214.5h0.7 M465.8 230.0h0.7 M466.0 227.3h0.7 M475.8 239.7h0.7 M464.7 211.2h0.7 M479.7 212.8h0.7 M474.7 217.4h0.7 M477.5 236.3h0.7 M466.2 234.9h0.7 M479.7 228.8h0.7 M477.2 215.3h0.7 M472.4 201.7h0.7 M476.5 235.8h0.7 M466.5 234.6h0.7 M480.9 219.8h0.7 M477.2 215.8h0.7 M465.0 220.1h0.7 M463.6 205.1h0.7 M477.7 204.8h0.7 M466.4 235.4h0.7 M476.2 230.6h0.7 M477.5 237.6h0.7 M477.4 234.8h0.7 M473.2 241.8h0.7 M479.5 233.9h0.7 M464.5 216.8h0.7 M478.5 229.8h0.7 M479.1 232.8h0.7 M476.8 203.0h0.7 M477.6 231.1h0.7 M479.3 215.7h0.7 M471.7 202.0h0.7 M477.5 231.1h0.7 M474.7 237.6h0.7 M476.8 234.2h0.7 M468.1 236.2h0.7 M474.0 201.3h0.7 M466.5 233.9h0.7 M474.0 202.9h0.7 M478.9 227.0h0.7 M480.7 216.1h0.7 M475.1 202.2h0.7 M464.3 217.0h0.7 M467.7 234.6h0.7 M463.8 219.7h0.7 M478.6 228.6h0.7 M467.9 235.3h0.7 M477.3 226.6h0.7 M467.1 236.0h0.7 M468.9 240.1h0.7 M478.6 226.7h0.7 M475.2 240.5h0.7 M467.1 234.8h0.7 M467.0 234.3h0.7 M466.8 231.8h0.7 M475.5 202.8h0.7 M468.7 202.1h0.7 M467.7 202.7h0.7 M473.9 202.4h0.7 M472.7 202.4h0.7 M466.7 201.5h0.7 M467.4 202.6h0.7 M469.9 202.6h0.7 M470.8 200.7h0.7 M467.2 200.5h0.7 M473.5 202.4h0.7 M471.4 202.6h0.7 M473.5 201.0h0.7 M469.4 201.7h0.7 M467.3 201.3h0.7 M477.0 201.6h0.7 M477.1 202.9h0.7 M472.1 201.6h0.7 M470.3 202.8h0.7 M476.2 200.2h0.7 M476.2 202.5h0.7 M468.7 202.4h0.7 M466.7 201.7h0.7 M468.2 200.5h0.7 M473.6 202.8h0.7 M476.8 201.2h0.7 M470.6 202.7h0.7 M473.6 202.1h0.7 M472.6 202.5h0.7 M472.4 202.1h0.7 M471.1 202.4h0.7 M474.5 202.7h0.7 M472.6 199.9h0.7 M471.2 201.6h0.7 M466.8 202.9h0.7 M472.0 202.5h0.7 M476.4 201.3h0.7 M468.5 200.0h0.7 M466.9 200.5h0.7 M467.2 202.9h0.7 M472.0 202.6h0.7 M468.7 202.5h0.7 M469.5 200.5h0.7 M469.5 202.7h0.7 M470.5 202.6h0.7 M468.8 201.2h0.7 M472.9 202.5h0.7 M470.3 202.7h0.7 M469.4 202.9h0.7 M473.1 202.4h0.7 M472.0 202.6h0.7 M475.4 202.0h0.7 M467.0 202.8h0.7 M473.3 201.8h0.7 M474.3 202.8h0.7 M472.3 202.7h0.7 M474.9 202.8h0.7 M475.8 201.9h0.7 M474.0 202.6h0.7 M474.0 199.7h0.7 M470.9 200.1h0.7 M477.0 202.9h0.7 M467.8 202.5h0.7 M468.3 202.6h0.7 M469.1 202.2h0.7 M473.3 202.8h0.7 M474.8 202.7h0.7 M474.6 200.9h0.7 M476.4 199.8h0.7 M474.0 202.5h0.7 M474.0 202.4h0.7 M471.4 201.2h0.7 M469.9 201.3h0.7 M477.2 202.7h0.7 M469.0 201.0h0.7 M472.5 201.9h0.7 M476.6 202.2h0.7 M466.9 201.6h0.7 M470.0 202.0h0.7 M467.9 202.2h0.7 M473.2 201.7h0.7 M466.7 201.9h0.7 M475.4 202.5h0.7 M473.3 202.6h0.7 M476.1 203.0h0.7 M472.7 202.9h0.7 M467.7 202.4h0.7 M472.0 201.7h0.7 M475.7 201.4h0.7 M475.0 200.7h0.7 M471.3 202.6h0.7 M471.8 202.5h0.7 M469.7 202.5h0.7 M474.5 202.6h0.7 M476.4 201.3h0.7 M468.3 202.0h0.7 M469.5 202.7h0.7 M473.1 201.9h0.7 M469.4 200.3h0.7 M477.0 202.7h0.7 M472.8 202.4h0.7 M468.0 201.2h0.7 M476.1 202.7h0.7 M466.8 202.8h0.7 M475.0 199.1h0.7 M475.3 202.0h0.7 M468.5 202.1h0.7 M471.0 201.9h0.7 M481.7 231.1h0.7 M474.9 217.8h0.7 M487.1 217.9h0.7 M480.1 210.2h0.7 M481.5 228.9h0.7 M480.3 234.5h0.7 M475.7 223.4h0.7 M479.1 227.6h0.7 M486.3 224.3h0.7 M483.6 233.7h0.7 M483.1 230.9h0.7 M478.5 237.2h0.7 M481.4 216.0h0.7 M481.7 233.7h0.7 M485.1 223.4h0.7 M477.7 233.6h0.7 M480.4 221.8h0.7 M475.3 218.9h0.7 M474.2 196.2h0.7 M480.7 226.2h0.7 M486.3 218.2h0.7 M482.9 223.8h0.7 M477.3 221.2h0.7 M480.7 221.2h0.7 M481.6 230.2h0.7 M476.5 220.1h0.7 M483.0 214.0h0.7 M485.8 214.8h0.7 M482.1 224.4h0.7 M480.5 217.1h0.7 M481.3 224.4h0.7 M483.9 196.6h0.7 M482.1 225.9h0.7" stroke="#111" stroke-width="0.7" fill="none" opacity="0.8"/>
<path d="M472.0 204.6 C476.5 204.6 478.0 209.7 478.0 214.8 C478.0 224.7 474.8 232.9 472.7 232.9 C470.0 232.9 466.0 223.8 466.0 214.8 C466.0 209.7 467.5 204.6 472.0 204.6Z" fill="#9c9c9c" stroke="#f0f0f0" stroke-width="0.7"/>
<path d="M472.0 205.8 C475.6 205.8 476.8 210.3 476.8 214.9 C476.8 223.7 474.4 231.0 472.7 231.0 C470.5 231.0 467.2 222.9 467.2 214.9 C467.2 210.3 468.4 205.8 472.0 205.8Z" fill="none" stroke="#666" stroke-width="0.4"/>
<path d="M472.0 206.8 C474.9 206.8 475.8 210.9 475.8 214.9 C475.8 222.9 474.0 229.4 472.7 229.4 C471.0 229.4 468.2 222.2 468.2 214.9 C468.2 210.9 469.1 206.8 472.0 206.8Z" fill="none" stroke="#ccc" stroke-width="0.4"/>
<path d="M472.0 207.8 C474.1 207.8 474.8 211.4 474.8 215.0 C474.8 222.0 473.7 227.8 472.7 227.8 C471.4 227.8 469.2 221.4 469.2 215.0 C469.2 211.4 469.9 207.8 472.0 207.8Z" fill="none" stroke="#666" stroke-width="0.4"/>
<path d="M472.0 208.8 C473.4 208.8 473.8 211.9 473.8 215.1 C473.8 221.2 473.3 226.2 472.7 226.2 C471.9 226.2 470.2 220.6 470.2 215.1 C470.2 211.9 470.6 208.8 472.0 208.8Z" fill="none" stroke="#ccc" stroke-width="0.4"/>
<ellipse cx="472.3" cy="213" rx="0.9" ry="2.2" fill="#fff"/>
<path d="M467.9 75.5 L467.5 76.3 L466.8 77.1 L466.9 77.9 L466.6 78.7 L467.1 79.5 L466.3 80.3 L466.7 81.1 L466.6 81.9 L466.1 82.7 L466.5 83.5 L466.2 84.3 L465.6 85.1 L466.1 85.9 L465.7 86.7 L465.4 87.5 L465.3 88.3 L465.4 89.1 L465.7 89.9 L465.2 90.7 L465.5 91.5 L465.0 92.3 L464.6 93.1 L465.2 93.9 L464.9 94.7 L465.0 95.5 L464.2 96.3 L464.6 97.1 L464.6 97.9 L464.7 98.7 L464.5 99.5 L464.3 100.3 L464.2 101.1 L464.4 101.9 L464.0 102.7 L463.8 103.5 L464.4 104.3 L464.3 105.1 L464.3 105.9 L464.0 106.7 L464.3 107.5 L464.6 108.3 L464.3 109.1 L464.1 109.9 L464.6 110.7 L464.6 111.5 L464.0 112.3 L464.4 113.1 L464.2 113.9 L464.6 114.7 L465.1 115.5 L464.8 116.3 L465.0 117.1 L465.0 117.9 L465.8 118.7 L466.0 119.5 L465.6 120.3 L466.2 121.1 L466.6 121.9 L466.4 122.7 L466.9 123.5 L467.2 124.3 L467.8 125.1 L468.1 125.9 L468.4 126.7 L468.9 127.5 L469.0 128.3 L468.8 129.1 L469.7 129.9 L469.9 130.7 L469.9 131.5 L473.1 131.5 L473.9 130.7 L474.3 129.9 L474.7 129.1 L474.6 128.3 L474.6 127.5 L474.9 126.7 L475.6 125.9 L476.0 125.1 L476.2 124.3 L476.0 123.5 L476.9 122.7 L476.7 121.9 L477.1 121.1 L477.2 120.3 L478.1 119.5 L478.2 118.7 L478.6 117.9 L478.4 117.1 L478.0 116.3 L478.6 115.5 L479.1 114.7 L478.3 113.9 L479.4 113.1 L478.5 112.3 L478.5 111.5 L479.3 110.7 L479.4 109.9 L478.5 109.1 L478.6 108.3 L479.5 107.5 L479.3 106.7 L479.5 105.9 L478.7 105.1 L478.7 104.3 L479.2 103.5 L479.4 102.7 L479.2 101.9 L478.7 101.1 L479.0 100.3 L479.2 99.5 L478.4 98.7 L479.3 97.9 L478.3 97.1 L478.4 96.3 L478.5 95.5 L478.7 94.7 L478.3 93.9 L478.2 93.1 L478.6 92.3 L477.8 91.5 L477.8 90.7 L478.2 89.9 L478.2 89.1 L477.5 88.3 L477.8 87.5 L477.8 86.7 L477.1 85.9 L477.2 85.1 L477.7 84.3 L477.1 83.5 L476.9 82.7 L476.8 81.9 L477.2 81.1 L476.3 80.3 L476.7 79.5 L477.1 78.7 L476.4 77.9 L476.8 77.1 L475.1 76.3 L474.7 75.5Z" fill="#181818" stroke="#181818" stroke-width="0.5" stroke-linejoin="round"/>
<path d="M477.2 77.8h0.7 M478.8 85.1h0.7 M467.3 76.3h0.7 M474.3 131.4h0.7 M478.5 116.9h0.7 M478.6 122.8h0.7 M467.3 80.8h0.7 M477.4 126.0h0.7 M475.9 127.8h0.7 M476.6 85.0h0.7 M466.5 90.1h0.7 M477.5 121.1h0.7 M468.5 128.0h0.7 M478.8 98.8h0.7 M465.3 107.5h0.7 M464.1 111.2h0.7 M475.2 121.6h0.7 M479.4 104.3h0.7 M478.8 101.8h0.7 M478.9 103.3h0.7 M475.6 89.3h0.7 M477.6 126.3h0.7 M479.4 100.5h0.7 M464.1 112.3h0.7 M479.5 85.1h0.7 M468.1 126.0h0.7 M475.8 131.2h0.7 M467.2 82.5h0.7 M477.3 99.8h0.7 M478.5 122.5h0.7 M480.6 105.5h0.7 M476.0 129.6h0.7 M479.6 109.4h0.7 M477.1 129.8h0.7 M476.0 122.2h0.7 M464.3 108.5h0.7 M478.9 107.1h0.7 M477.4 85.9h0.7 M475.5 130.6h0.7 M477.8 78.9h0.7 M475.3 131.3h0.7 M477.5 125.2h0.7 M476.0 126.7h0.7 M475.4 131.0h0.7 M475.5 124.3h0.7 M476.5 126.9h0.7 M477.7 121.3h0.7 M476.5 122.5h0.7 M467.7 126.7h0.7 M475.4 124.2h0.7 M475.4 86.6h0.7 M477.1 78.8h0.7 M464.9 118.7h0.7 M477.3 91.5h0.7 M468.5 130.2h0.7 M475.1 131.8h0.7 M474.8 131.6h0.7 M464.6 106.2h0.7 M477.8 106.6h0.7 M464.3 93.2h0.7 M477.5 87.3h0.7 M477.9 77.6h0.7 M465.3 115.8h0.7 M476.8 125.8h0.7 M477.7 85.0h0.7 M476.4 131.1h0.7 M466.7 78.0h0.7 M464.8 106.5h0.7 M475.1 128.1h0.7 M466.4 117.1h0.7 M476.1 129.6h0.7 M478.6 116.6h0.7 M466.5 123.9h0.7 M478.9 94.8h0.7 M478.9 104.2h0.7 M475.0 75.9h0.7 M466.6 121.6h0.7 M466.2 121.9h0.7 M478.6 90.2h0.7 M479.2 101.1h0.7 M478.4 118.3h0.7 M465.6 95.6h0.7 M464.1 102.9h0.7 M466.2 82.3h0.7 M464.8 116.8h0.7 M464.3 101.1h0.7 M476.2 78.4h0.7 M475.0 128.5h0.7 M466.7 89.4h0.7 M477.1 123.6h0.7 M468.9 75.1h0.7 M476.5 123.5h0.7 M466.7 117.4h0.7 M477.3 115.4h0.7 M465.9 96.4h0.7 M480.2 114.2h0.7 M466.8 125.4h0.7 M476.5 77.3h0.7 M478.8 107.2h0.7 M464.8 96.1h0.7 M477.7 109.2h0.7 M477.0 120.3h0.7 M480.3 104.4h0.7 M475.8 76.5h0.7 M468.0 124.7h0.7 M468.2 128.7h0.7 M477.1 119.7h0.7 M478.5 116.4h0.7 M478.5 94.5h0.7 M478.2 118.4h0.7 M466.6 121.2h0.7 M468.0 129.5h0.7 M479.2 102.9h0.7 M476.5 77.8h0.7 M477.1 79.3h0.7 M475.4 127.3h0.7 M466.0 123.0h0.7 M479.4 119.4h0.7 M478.8 93.7h0.7 M476.6 131.4h0.7 M477.1 129.9h0.7 M466.2 123.8h0.7 M479.2 85.6h0.7 M465.2 93.1h0.7 M465.2 116.7h0.7 M465.0 117.9h0.7 M476.2 128.3h0.7 M477.1 101.7h0.7 M465.7 121.3h0.7 M479.7 110.8h0.7 M477.3 125.0h0.7 M477.5 83.2h0.7 M478.2 121.4h0.7 M469.2 129.7h0.7 M465.1 116.0h0.7 M476.7 120.1h0.7 M466.2 121.9h0.7 M469.6 130.1h0.7 M476.1 121.1h0.7 M465.8 90.9h0.7 M477.4 124.8h0.7 M466.3 123.8h0.7 M475.8 123.7h0.7 M466.3 88.2h0.7 M467.0 122.2h0.7 M465.5 109.3h0.7 M480.4 114.7h0.7 M478.8 106.4h0.7 M468.5 129.7h0.7 M477.8 114.7h0.7 M468.7 130.6h0.7 M465.5 109.6h0.7 M473.0 131.8h0.7 M480.2 101.7h0.7 M479.3 94.1h0.7 M467.6 127.1h0.7 M476.1 76.8h0.7 M478.7 92.0h0.7 M477.7 127.0h0.7 M478.2 89.1h0.7 M480.2 97.2h0.7 M478.9 108.3h0.7 M477.6 114.9h0.7 M478.4 92.1h0.7 M466.8 93.7h0.7 M477.4 101.8h0.7 M476.4 126.8h0.7 M475.6 89.6h0.7 M477.2 87.0h0.7 M476.2 83.2h0.7 M474.2 127.4h0.7 M463.6 102.5h0.7 M478.5 117.4h0.7 M475.1 130.7h0.7 M464.9 90.5h0.7 M479.3 119.4h0.7 M476.5 120.3h0.7 M476.6 77.6h0.7 M465.6 92.7h0.7 M478.3 96.5h0.7 M480.3 96.6h0.7 M479.5 107.8h0.7 M476.6 128.3h0.7 M478.9 122.9h0.7 M477.3 114.2h0.7 M474.3 130.7h0.7 M478.8 121.3h0.7 M478.9 121.6h0.7 M466.8 83.6h0.7 M477.8 95.5h0.7 M465.8 123.8h0.7 M478.2 90.8h0.7 M464.0 116.5h0.7 M476.1 124.1h0.7 M476.7 123.5h0.7 M476.1 77.8h0.7 M478.7 109.5h0.7 M466.7 123.3h0.7 M463.7 97.9h0.7 M465.2 86.8h0.7 M476.4 88.0h0.7 M476.1 126.8h0.7 M476.7 128.2h0.7 M475.1 78.0h0.7 M465.8 84.5h0.7 M477.1 116.0h0.7 M464.1 100.7h0.7 M479.8 122.1h0.7 M479.6 116.9h0.7 M477.1 114.8h0.7 M477.7 116.1h0.7 M476.4 94.3h0.7 M479.3 82.6h0.7 M467.8 126.6h0.7 M465.2 90.4h0.7 M478.9 119.4h0.7 M474.5 130.6h0.7 M469.1 130.1h0.7 M465.8 107.7h0.7 M475.4 75.0h0.7 M480.4 98.6h0.7 M476.8 85.5h0.7 M477.2 87.4h0.7 M475.2 76.2h0.7 M474.5 130.9h0.7 M476.7 123.0h0.7 M474.7 77.1h0.7 M479.2 124.4h0.7 M467.8 130.8h0.7 M478.2 82.1h0.7 M477.7 120.2h0.7 M468.3 81.1h0.7 M477.6 101.9h0.7 M469.2 131.0h0.7 M479.3 104.7h0.7 M464.5 97.3h0.7 M475.8 125.1h0.7 M477.6 84.7h0.7 M477.4 111.0h0.7 M478.3 82.0h0.7 M476.5 75.5h0.7 M479.7 93.3h0.7 M480.0 98.9h0.7 M465.4 98.6h0.7 M477.4 124.8h0.7 M465.7 79.7h0.7 M466.9 125.1h0.7 M478.5 117.8h0.7 M478.4 95.0h0.7 M478.5 82.6h0.7 M479.1 117.4h0.7 M479.6 103.4h0.7 M474.4 131.8h0.7 M473.3 130.5h0.7 M466.0 85.7h0.7 M478.3 120.0h0.7 M478.2 107.7h0.7 M477.7 91.5h0.7 M475.8 125.8h0.7 M465.8 118.8h0.7 M478.9 100.0h0.7 M475.4 75.0h0.7 M479.5 100.9h0.7 M478.5 115.8h0.7 M479.5 116.7h0.7 M476.4 120.2h0.7 M474.4 129.6h0.7 M467.0 123.6h0.7 M479.2 115.5h0.7 M480.8 111.7h0.7 M477.8 115.5h0.7 M476.0 128.9h0.7 M478.8 117.2h0.7 M464.4 99.7h0.7 M481.5 102.0h0.7 M473.4 74.6h0.7 M466.7 88.0h0.7 M478.1 91.9h0.7 M473.7 74.8h0.7 M475.1 87.3h0.7 M475.4 83.1h0.7 M468.6 131.2h0.7 M466.1 116.5h0.7 M476.3 95.8h0.7 M479.3 110.7h0.7 M473.8 131.7h0.7 M469.4 129.3h0.7 M476.6 124.8h0.7 M475.5 124.8h0.7 M476.5 92.3h0.7 M463.9 105.3h0.7 M467.9 127.0h0.7 M479.8 96.7h0.7 M474.3 130.0h0.7 M476.4 125.4h0.7 M477.6 111.2h0.7 M477.2 88.9h0.7 M480.5 105.9h0.7 M466.0 119.5h0.7 M466.0 124.7h0.7 M464.3 120.3h0.7 M477.8 123.6h0.7 M477.9 128.3h0.7 M480.6 114.6h0.7 M466.2 77.6h0.7 M477.3 118.9h0.7 M478.5 87.5h0.7 M476.1 125.4h0.7 M475.9 123.7h0.7 M476.2 125.1h0.7 M466.2 87.4h0.7 M476.6 129.8h0.7 M468.7 128.9h0.7 M478.1 107.1h0.7 M466.2 125.8h0.7 M476.8 126.6h0.7 M477.0 117.6h0.7 M465.7 92.4h0.7 M474.5 131.0h0.7 M476.8 109.1h0.7 M478.0 94.3h0.7 M465.5 117.5h0.7 M478.2 118.1h0.7 M465.8 89.3h0.7 M476.0 123.5h0.7 M474.5 128.5h0.7 M480.3 108.8h0.7 M467.9 129.1h0.7 M477.9 117.3h0.7 M479.9 101.1h0.7 M475.1 128.0h0.7 M478.1 91.9h0.7 M478.7 80.7h0.7 M474.6 128.3h0.7 M467.5 82.4h0.7 M478.3 119.2h0.7 M464.7 116.9h0.7 M477.3 122.1h0.7 M477.6 122.1h0.7 M466.3 95.6h0.7 M477.6 112.8h0.7 M476.4 130.7h0.7 M464.6 104.8h0.7 M475.7 128.0h0.7 M478.1 120.0h0.7 M476.4 124.5h0.7 M465.0 98.3h0.7 M477.0 117.2h0.7 M466.1 84.5h0.7 M465.7 118.5h0.7 M478.4 85.0h0.7 M465.1 104.6h0.7 M474.6 75.8h0.7 M478.4 100.1h0.7 M479.5 120.7h0.7 M476.4 79.3h0.7 M477.6 113.0h0.7 M466.7 122.8h0.7 M477.2 117.5h0.7 M474.9 129.4h0.7 M464.0 98.8h0.7 M479.3 120.9h0.7 M477.8 117.1h0.7 M479.2 89.0h0.7 M475.5 82.4h0.7 M475.0 131.4h0.7 M478.8 119.8h0.7 M465.3 115.3h0.7 M467.4 77.9h0.7 M477.9 121.8h0.7 M479.9 107.1h0.7 M464.3 117.3h0.7 M479.0 109.9h0.7 M481.4 113.8h0.7 M465.1 93.7h0.7 M467.8 127.7h0.7 M468.2 122.1h0.7 M475.2 126.1h0.7 M465.0 117.2h0.7 M467.4 126.2h0.7 M466.8 123.0h0.7 M478.0 116.8h0.7 M478.7 79.7h0.7 M465.7 123.5h0.7 M478.6 91.2h0.7 M478.5 115.3h0.7 M479.9 96.1h0.7 M465.3 117.0h0.7 M474.1 131.8h0.7 M476.6 81.2h0.7 M478.2 87.5h0.7 M476.6 128.4h0.7 M474.5 129.6h0.7 M481.3 87.6h0.7 M478.1 103.7h0.7 M465.2 122.3h0.7 M479.0 104.2h0.7 M476.9 127.7h0.7 M475.7 90.0h0.7 M478.7 115.5h0.7 M475.6 120.8h0.7 M478.3 124.0h0.7 M480.9 95.2h0.7 M464.7 92.4h0.7 M477.8 122.7h0.7 M475.5 129.6h0.7 M478.7 85.4h0.7 M477.2 88.3h0.7 M476.5 94.2h0.7 M468.4 124.7h0.7 M464.8 102.2h0.7 M480.4 111.2h0.7 M467.3 125.0h0.7 M465.6 96.0h0.7 M473.7 129.6h0.7 M477.0 122.3h0.7 M475.0 126.7h0.7 M475.8 131.5h0.7 M468.5 130.2h0.7 M477.5 127.2h0.7 M464.6 114.1h0.7 M465.4 116.2h0.7 M478.7 102.5h0.7 M477.0 78.2h0.7 M478.9 127.9h0.7 M479.1 121.3h0.7 M465.9 120.4h0.7 M465.4 87.5h0.7 M467.4 80.4h0.7 M479.7 123.8h0.7 M465.5 91.8h0.7 M477.3 120.8h0.7 M477.4 91.9h0.7 M479.9 97.8h0.7 M479.4 88.1h0.7 M467.4 126.1h0.7 M477.6 124.8h0.7 M480.8 98.3h0.7 M468.2 79.4h0.7 M478.0 77.8h0.7 M476.9 123.7h0.7 M477.5 103.7h0.7 M479.1 104.8h0.7 M479.4 99.8h0.7 M477.0 98.2h0.7 M477.5 104.0h0.7 M465.5 119.6h0.7 M476.6 126.5h0.7 M476.4 127.3h0.7 M466.9 87.4h0.7 M473.6 125.6h0.7 M477.6 120.1h0.7 M478.0 94.8h0.7 M477.2 123.7h0.7 M466.2 81.6h0.7 M468.0 79.1h0.7 M477.3 118.8h0.7 M478.8 104.1h0.7 M476.9 86.1h0.7 M476.9 91.6h0.7 M478.0 103.5h0.7 M475.8 129.1h0.7 M465.6 105.9h0.7 M476.9 125.6h0.7 M479.2 101.5h0.7 M479.7 113.6h0.7 M478.2 90.2h0.7 M464.8 99.1h0.7 M476.2 119.2h0.7 M477.0 114.0h0.7 M475.5 127.5h0.7 M480.4 82.6h0.7 M477.1 96.5h0.7 M464.2 99.1h0.7 M478.5 94.3h0.7 M476.9 127.9h0.7 M477.7 103.8h0.7 M463.9 100.9h0.7 M465.9 121.9h0.7 M479.6 119.4h0.7 M476.9 120.1h0.7 M477.7 109.7h0.7 M463.9 108.1h0.7 M466.6 80.0h0.7 M475.3 86.2h0.7 M480.1 121.0h0.7 M477.7 93.6h0.7 M479.0 122.1h0.7 M474.6 128.9h0.7 M465.5 116.0h0.7 M479.3 123.5h0.7 M475.2 128.4h0.7 M475.2 131.3h0.7 M478.0 124.1h0.7 M476.4 131.1h0.7 M467.5 126.6h0.7 M465.5 116.2h0.7 M476.0 88.7h0.7 M469.1 128.2h0.7 M478.5 84.9h0.7 M478.8 114.6h0.7 M477.6 126.2h0.7 M476.3 130.0h0.7 M464.5 92.9h0.7 M475.3 90.1h0.7 M476.9 82.5h0.7 M466.1 90.4h0.7 M464.5 96.8h0.7 M477.6 108.2h0.7 M465.3 101.0h0.7 M479.0 123.6h0.7 M474.7 125.9h0.7 M478.6 125.2h0.7 M477.7 117.2h0.7 M476.8 122.0h0.7 M476.6 115.2h0.7 M477.5 116.2h0.7 M475.3 129.7h0.7 M466.4 86.3h0.7 M474.4 75.3h0.7 M479.7 104.9h0.7 M479.6 95.0h0.7 M479.3 93.8h0.7 M477.6 129.3h0.7 M478.4 117.9h0.7 M464.5 110.9h0.7 M466.3 88.3h0.7 M476.5 125.7h0.7 M480.7 110.4h0.7 M478.2 97.1h0.7 M477.7 116.5h0.7 M477.2 80.3h0.7 M477.6 122.2h0.7 M476.8 80.5h0.7 M478.0 115.6h0.7 M463.9 116.9h0.7 M477.5 122.8h0.7 M478.2 103.2h0.7 M479.6 86.9h0.7 M464.1 116.2h0.7 M476.0 81.7h0.7 M477.8 120.0h0.7 M468.0 81.4h0.7 M475.1 127.0h0.7 M476.0 76.4h0.7 M478.3 77.1h0.7 M477.1 128.4h0.7 M476.2 128.1h0.7 M481.0 113.6h0.7 M465.1 109.7h0.7 M479.5 119.9h0.7 M478.5 80.2h0.7 M476.9 94.0h0.7 M477.0 91.0h0.7 M478.9 116.5h0.7 M480.0 111.0h0.7 M475.1 77.0h0.7 M478.6 91.5h0.7 M474.7 84.1h0.7 M466.1 88.1h0.7 M468.1 127.2h0.7 M469.1 130.0h0.7 M475.8 131.8h0.7 M466.9 122.2h0.7 M478.4 120.3h0.7 M477.9 89.7h0.7 M478.3 105.1h0.7 M476.0 121.1h0.7 M464.8 113.5h0.7 M479.1 108.7h0.7 M480.0 107.3h0.7 M465.2 92.4h0.7 M476.7 97.9h0.7 M476.5 123.9h0.7 M480.9 107.9h0.7 M477.4 103.5h0.7 M478.9 122.4h0.7 M475.4 131.0h0.7 M468.0 125.5h0.7 M473.6 129.6h0.7 M467.3 122.7h0.7 M465.2 118.3h0.7 M478.9 99.8h0.7 M475.9 126.5h0.7 M478.0 79.6h0.7 M480.2 107.4h0.7 M480.5 114.3h0.7 M476.4 125.3h0.7 M473.7 131.1h0.7 M465.7 105.6h0.7 M467.1 122.5h0.7 M476.3 120.8h0.7 M479.0 114.9h0.7 M478.8 88.9h0.7 M465.0 97.9h0.7 M466.4 120.3h0.7 M466.0 119.9h0.7 M466.2 120.8h0.7 M478.2 103.3h0.7 M479.2 102.8h0.7 M477.8 123.8h0.7 M476.6 92.3h0.7 M466.1 85.9h0.7 M464.6 107.5h0.7 M466.7 125.9h0.7 M479.9 105.8h0.7 M476.3 131.7h0.7 M462.9 109.1h0.7 M479.3 98.1h0.7 M478.9 93.2h0.7 M475.7 78.9h0.7 M478.8 121.1h0.7 M476.7 80.2h0.7 M476.9 123.1h0.7 M475.3 125.3h0.7 M478.9 115.9h0.7 M477.6 104.4h0.7 M476.6 130.5h0.7 M476.6 84.5h0.7 M476.1 130.7h0.7 M477.5 127.6h0.7 M465.6 115.6h0.7 M464.9 85.3h0.7 M480.4 100.3h0.7 M479.1 115.1h0.7 M477.7 117.1h0.7 M464.7 114.7h0.7 M476.3 77.4h0.7 M466.1 96.9h0.7 M479.8 105.7h0.7 M479.0 92.5h0.7 M472.0 74.7h0.7 M466.9 84.4h0.7 M466.8 81.3h0.7 M464.3 102.3h0.7 M477.5 127.5h0.7 M476.9 79.0h0.7 M469.1 130.4h0.7 M477.9 123.3h0.7 M477.7 116.9h0.7 M480.4 82.0h0.7 M478.3 96.0h0.7 M478.6 109.6h0.7 M476.2 80.5h0.7 M477.9 99.8h0.7 M481.1 112.1h0.7 M466.3 93.5h0.7 M477.4 77.3h0.7 M477.7 96.2h0.7 M469.2 129.5h0.7 M465.7 88.8h0.7 M464.7 95.7h0.7 M464.7 112.8h0.7 M467.5 123.8h0.7 M476.8 79.7h0.7 M476.9 94.3h0.7 M477.3 90.7h0.7 M478.0 125.8h0.7 M476.7 118.6h0.7 M480.0 102.2h0.7 M478.0 113.4h0.7 M467.5 75.7h0.7 M465.1 120.1h0.7 M479.9 114.8h0.7 M478.1 85.4h0.7 M474.4 130.0h0.7 M464.9 116.3h0.7 M479.4 122.1h0.7 M463.7 100.1h0.7 M474.8 131.0h0.7 M476.3 110.5h0.7 M476.7 85.2h0.7 M476.2 82.7h0.7 M469.4 128.0h0.7 M464.6 116.7h0.7 M477.2 84.0h0.7 M477.3 103.9h0.7 M478.5 109.0h0.7 M466.4 123.4h0.7 M476.6 130.8h0.7 M465.2 97.2h0.7 M466.3 123.3h0.7 M465.8 107.7h0.7 M478.6 94.5h0.7 M476.9 86.2h0.7 M466.0 119.5h0.7 M476.4 76.6h0.7 M477.7 91.1h0.7 M478.1 119.1h0.7 M474.8 130.5h0.7 M466.6 79.0h0.7 M467.9 125.5h0.7 M480.4 109.8h0.7 M477.9 124.3h0.7 M476.5 122.3h0.7 M472.0 131.8h0.7 M476.7 122.8h0.7 M479.3 97.4h0.7 M475.7 85.4h0.7 M477.7 119.6h0.7 M477.5 114.8h0.7 M475.0 75.3h0.7 M475.3 129.3h0.7 M475.9 127.5h0.7 M477.2 114.9h0.7 M477.2 83.5h0.7 M466.4 118.5h0.7 M477.1 102.2h0.7 M479.7 90.0h0.7 M468.4 131.0h0.7 M473.7 131.8h0.7 M477.5 121.3h0.7 M466.8 78.0h0.7 M476.2 127.3h0.7 M468.2 129.6h0.7 M463.6 112.8h0.7 M480.0 106.9h0.7 M475.8 124.8h0.7 M477.3 115.6h0.7 M476.5 94.3h0.7 M467.5 128.7h0.7 M476.3 86.1h0.7 M476.1 92.2h0.7 M479.0 86.3h0.7 M466.5 122.8h0.7 M479.3 116.3h0.7 M467.7 122.4h0.7 M478.2 112.4h0.7 M477.4 94.5h0.7 M477.7 122.1h0.7 M468.8 130.2h0.7 M478.1 117.1h0.7 M476.8 129.5h0.7 M467.3 127.3h0.7 M476.1 80.8h0.7 M465.4 107.7h0.7 M478.3 118.4h0.7 M466.7 87.5h0.7 M476.5 123.7h0.7 M477.9 114.7h0.7 M476.6 130.3h0.7 M477.2 76.5h0.7 M464.6 106.6h0.7 M479.7 109.1h0.7 M476.4 127.9h0.7 M477.7 81.3h0.7 M477.9 112.0h0.7 M478.9 95.2h0.7 M477.9 116.5h0.7 M466.5 122.4h0.7 M465.6 102.3h0.7 M476.0 126.0h0.7 M466.3 126.5h0.7 M478.9 94.4h0.7 M475.6 93.8h0.7 M463.3 110.6h0.7 M465.5 98.6h0.7 M478.1 110.4h0.7 M466.9 121.7h0.7 M467.7 75.0h0.7 M468.0 127.8h0.7 M475.6 120.9h0.7 M476.7 121.4h0.7 M477.2 78.3h0.7 M479.0 106.2h0.7 M478.4 86.1h0.7 M473.8 126.5h0.7 M465.1 97.8h0.7 M477.6 103.1h0.7 M475.5 124.5h0.7 M478.2 104.7h0.7 M479.6 103.1h0.7 M478.0 76.8h0.7 M475.3 127.3h0.7 M477.2 127.3h0.7 M466.7 122.9h0.7 M477.3 90.3h0.7 M478.3 97.1h0.7 M478.3 118.1h0.7 M479.8 103.8h0.7 M479.0 93.8h0.7 M472.3 131.2h0.7 M478.4 115.0h0.7 M477.8 118.8h0.7 M476.9 115.3h0.7 M476.7 121.9h0.7 M474.5 129.6h0.7 M479.2 104.3h0.7 M477.7 118.4h0.7 M464.0 102.5h0.7 M475.2 124.8h0.7 M467.6 125.6h0.7 M478.6 111.2h0.7 M477.7 97.3h0.7 M479.3 117.5h0.7 M479.8 80.7h0.7 M478.7 95.9h0.7 M475.5 129.4h0.7 M477.4 108.7h0.7 M475.4 129.7h0.7 M476.8 118.8h0.7 M476.6 84.0h0.7 M474.2 128.1h0.7 M468.9 127.3h0.7 M478.6 89.7h0.7 M478.5 124.6h0.7 M465.3 93.7h0.7 M475.5 85.2h0.7 M476.9 127.3h0.7 M478.5 96.4h0.7 M467.4 76.0h0.7 M465.0 103.1h0.7 M474.7 130.1h0.7 M463.5 110.5h0.7 M477.0 100.3h0.7 M479.1 100.9h0.7 M476.3 123.6h0.7 M477.1 119.3h0.7 M478.5 100.1h0.7 M465.3 115.0h0.7 M464.0 98.9h0.7 M478.8 88.4h0.7 M466.0 122.6h0.7 M466.8 93.0h0.7 M476.3 118.6h0.7 M466.0 121.7h0.7 M475.7 129.7h0.7 M465.4 96.1h0.7 M477.4 117.8h0.7 M478.4 120.8h0.7 M476.8 124.9h0.7 M467.7 123.6h0.7 M479.2 104.7h0.7 M476.4 126.5h0.7 M476.4 123.2h0.7 M474.0 75.6h0.7 M477.7 92.7h0.7 M477.3 122.4h0.7 M475.5 80.1h0.7 M479.2 113.0h0.7 M465.1 88.8h0.7 M477.1 126.9h0.7 M465.6 94.2h0.7 M469.4 130.8h0.7 M478.7 123.2h0.7 M465.2 109.9h0.7 M463.3 98.1h0.7 M467.3 123.4h0.7 M476.4 79.1h0.7 M468.8 126.6h0.7 M476.2 77.7h0.7 M478.5 115.8h0.7 M464.3 115.8h0.7 M479.6 120.8h0.7 M475.9 76.7h0.7 M465.3 120.0h0.7 M479.0 79.7h0.7 M476.2 120.9h0.7 M477.6 89.9h0.7 M479.8 109.1h0.7 M475.8 128.1h0.7 M477.3 82.9h0.7 M466.9 120.8h0.7 M474.8 128.1h0.7 M475.4 128.2h0.7 M463.4 108.0h0.7 M478.0 108.9h0.7 M479.3 119.9h0.7 M466.5 80.8h0.7 M477.3 124.8h0.7 M477.1 123.9h0.7 M475.9 84.7h0.7 M477.7 81.6h0.7 M476.4 78.9h0.7 M474.8 127.4h0.7 M476.6 130.7h0.7 M464.8 117.4h0.7 M465.8 91.9h0.7 M475.5 122.3h0.7 M477.2 77.9h0.7 M479.1 86.1h0.7 M477.9 95.7h0.7 M478.9 93.4h0.7 M475.3 124.5h0.7 M477.9 124.7h0.7 M479.5 103.2h0.7 M476.4 114.9h0.7 M476.6 121.4h0.7 M477.7 117.9h0.7 M468.0 127.4h0.7 M477.0 84.0h0.7 M463.8 111.5h0.7 M476.3 79.9h0.7 M463.6 112.4h0.7 M477.1 127.8h0.7 M476.3 77.1h0.7 M479.6 111.5h0.7 M466.0 93.5h0.7 M475.5 130.9h0.7 M477.3 108.3h0.7 M475.9 76.0h0.7 M476.1 127.3h0.7 M478.4 85.0h0.7 M466.9 83.3h0.7 M477.2 121.4h0.7 M476.3 108.2h0.7 M467.0 76.7h0.7 M465.1 117.0h0.7 M466.4 83.0h0.7 M467.3 124.5h0.7 M476.2 129.3h0.7 M477.0 130.7h0.7 M479.4 128.1h0.7 M468.4 126.5h0.7 M476.9 118.7h0.7 M468.3 128.9h0.7 M478.3 82.8h0.7 M477.4 97.2h0.7 M479.7 98.2h0.7 M478.1 109.1h0.7 M469.5 129.0h0.7 M475.1 128.9h0.7 M477.3 121.4h0.7 M476.3 126.3h0.7 M468.1 122.3h0.7 M479.3 126.1h0.7 M477.0 75.2h0.7 M477.7 121.1h0.7 M475.9 123.2h0.7 M477.3 128.4h0.7 M468.1 131.3h0.7 M478.2 107.3h0.7 M480.0 109.1h0.7 M479.4 95.1h0.7 M477.5 121.9h0.7 M465.2 95.7h0.7 M477.9 120.6h0.7 M480.5 114.9h0.7 M475.4 125.2h0.7 M475.4 81.4h0.7 M477.6 108.0h0.7 M478.5 118.0h0.7 M466.4 88.9h0.7 M476.7 121.9h0.7 M481.4 113.1h0.7 M478.9 125.4h0.7 M466.0 119.0h0.7 M465.8 121.4h0.7 M476.1 80.6h0.7 M478.5 96.2h0.7 M475.4 127.1h0.7 M466.5 92.7h0.7 M476.6 100.7h0.7 M478.8 81.8h0.7 M467.4 76.8h0.7 M475.4 130.0h0.7 M477.1 77.7h0.7 M478.2 115.1h0.7 M468.1 128.0h0.7 M479.4 93.7h0.7 M474.8 77.5h0.7 M464.9 100.1h0.7 M475.2 131.2h0.7 M478.1 109.2h0.7 M465.2 117.1h0.7 M478.6 84.2h0.7 M477.5 115.8h0.7 M476.6 128.2h0.7 M477.4 123.3h0.7 M478.3 122.3h0.7 M479.9 115.1h0.7 M478.9 109.9h0.7 M479.2 117.7h0.7 M477.6 124.9h0.7 M478.7 104.4h0.7 M474.8 122.4h0.7 M475.4 131.9h0.7 M477.0 125.7h0.7 M475.5 126.6h0.7 M475.0 130.2h0.7 M465.9 89.2h0.7 M467.6 126.1h0.7 M476.4 122.2h0.7 M477.6 86.0h0.7 M477.5 85.1h0.7 M478.7 114.9h0.7 M468.9 129.8h0.7 M477.2 118.9h0.7 M468.0 125.0h0.7 M465.9 120.1h0.7 M476.2 127.4h0.7 M467.3 126.8h0.7 M469.1 75.3h0.7 M477.0 95.3h0.7 M479.2 118.0h0.7 M473.9 131.7h0.7 M475.8 76.7h0.7 M474.9 80.6h0.7 M475.8 130.6h0.7 M478.8 106.3h0.7 M477.6 89.0h0.7 M464.8 100.7h0.7 M477.7 127.1h0.7 M480.4 112.4h0.7 M476.2 121.7h0.7 M478.7 108.1h0.7 M477.5 117.2h0.7 M476.4 86.9h0.7 M476.0 129.9h0.7 M465.8 86.6h0.7 M478.1 126.7h0.7 M478.9 93.6h0.7 M465.8 118.5h0.7 M475.3 122.9h0.7 M475.9 79.0h0.7 M478.9 110.9h0.7 M465.5 117.5h0.7 M477.1 120.0h0.7 M466.3 121.6h0.7 M481.4 117.7h0.7 M465.2 109.0h0.7 M475.1 131.0h0.7 M464.8 108.9h0.7 M473.4 124.2h0.7 M478.0 101.7h0.7 M477.1 103.3h0.7 M477.2 86.2h0.7 M466.3 77.8h0.7 M477.5 96.0h0.7 M464.9 115.5h0.7 M464.3 114.3h0.7 M477.9 131.0h0.7 M478.3 80.2h0.7 M465.6 118.3h0.7 M478.9 90.9h0.7 M474.6 131.8h0.7 M480.4 98.9h0.7 M464.9 85.6h0.7 M478.5 104.5h0.7 M481.6 106.3h0.7 M465.6 117.2h0.7 M476.7 118.2h0.7 M464.2 104.5h0.7 M466.7 125.2h0.7 M464.1 102.5h0.7 M463.7 111.2h0.7 M474.6 131.3h0.7 M467.4 77.5h0.7 M465.9 118.3h0.7 M475.9 126.3h0.7 M479.3 115.6h0.7 M476.4 92.9h0.7 M478.5 123.4h0.7 M466.0 121.0h0.7 M478.8 112.9h0.7 M480.1 117.0h0.7 M477.4 115.7h0.7 M478.1 123.2h0.7 M468.4 129.4h0.7 M476.6 131.8h0.7 M476.2 78.7h0.7 M467.5 123.2h0.7 M476.2 125.6h0.7 M478.8 113.5h0.7 M477.4 125.3h0.7 M476.1 80.4h0.7 M478.9 92.7h0.7 M478.4 127.3h0.7 M464.4 102.6h0.7 M475.1 130.2h0.7 M466.5 123.0h0.7 M479.9 96.1h0.7 M477.1 116.1h0.7 M464.1 106.0h0.7 M478.0 87.1h0.7 M476.4 131.8h0.7 M478.9 98.0h0.7 M480.7 119.9h0.7 M475.1 130.3h0.7 M468.0 78.2h0.7 M464.7 104.8h0.7 M478.3 109.8h0.7 M474.8 129.8h0.7 M476.3 124.5h0.7 M463.7 100.3h0.7 M478.0 119.3h0.7 M477.4 127.3h0.7 M479.0 111.6h0.7 M477.9 98.3h0.7 M465.3 113.9h0.7 M478.1 120.9h0.7 M478.7 109.8h0.7 M467.5 127.5h0.7 M476.9 128.0h0.7 M478.4 83.8h0.7 M476.0 122.8h0.7 M478.1 118.6h0.7 M464.6 98.3h0.7 M478.0 116.9h0.7 M469.0 129.5h0.7 M481.2 114.4h0.7 M467.9 76.9h0.7 M477.7 117.3h0.7 M466.2 89.2h0.7 M465.7 122.3h0.7 M466.9 117.9h0.7 M465.3 109.4h0.7 M465.6 96.5h0.7 M469.3 132.0h0.7 M477.2 119.8h0.7 M476.8 126.4h0.7 M477.3 126.9h0.7 M465.5 98.8h0.7 M469.3 131.1h0.7 M478.9 86.3h0.7 M477.5 93.2h0.7 M465.6 119.2h0.7 M477.6 86.4h0.7 M465.7 116.4h0.7 M477.3 91.8h0.7 M467.9 78.0h0.7 M468.0 127.8h0.7 M477.2 119.1h0.7 M465.3 115.7h0.7 M477.3 117.2h0.7 M478.1 86.5h0.7 M477.1 92.0h0.7 M479.6 100.0h0.7 M477.7 78.8h0.7 M478.8 116.4h0.7 M477.5 79.9h0.7 M479.4 119.9h0.7 M465.2 115.3h0.7 M478.7 94.3h0.7 M472.7 75.2h0.7 M476.4 89.6h0.7 M478.3 94.7h0.7 M468.4 127.8h0.7 M474.8 127.7h0.7 M473.8 130.0h0.7 M478.8 119.9h0.7 M476.9 117.4h0.7 M465.9 98.9h0.7 M475.5 130.7h0.7 M465.9 119.7h0.7 M475.5 129.5h0.7 M477.1 126.1h0.7 M476.2 123.9h0.7 M477.0 120.1h0.7 M462.7 109.2h0.7 M481.7 102.9h0.7 M476.4 122.1h0.7 M473.3 131.7h0.7 M468.8 127.5h0.7 M475.4 130.1h0.7 M480.8 109.7h0.7 M475.4 128.4h0.7 M473.7 129.7h0.7 M477.2 117.0h0.7 M463.8 104.1h0.7 M477.1 122.9h0.7 M464.1 100.4h0.7 M476.7 122.5h0.7 M474.4 121.8h0.7 M466.2 121.3h0.7 M476.2 126.7h0.7 M480.0 100.1h0.7 M465.4 94.2h0.7 M477.0 124.7h0.7 M477.1 116.5h0.7 M475.1 129.1h0.7 M476.2 127.8h0.7 M479.2 98.8h0.7 M478.8 124.2h0.7 M474.9 129.4h0.7 M473.4 131.9h0.7 M475.5 128.0h0.7 M475.7 120.0h0.7 M474.2 128.3h0.7 M480.3 117.3h0.7 M475.8 80.0h0.7 M464.9 107.1h0.7 M466.3 117.6h0.7 M477.8 94.9h0.7 M476.4 123.4h0.7 M477.2 90.7h0.7 M476.6 124.9h0.7 M472.0 74.8h0.7 M478.6 117.7h0.7 M483.4 106.1h0.7 M479.1 118.4h0.7 M466.5 76.7h0.7 M477.2 126.6h0.7 M466.4 120.4h0.7 M480.6 116.9h0.7 M473.8 129.5h0.7 M467.2 122.2h0.7 M479.2 112.8h0.7 M478.4 89.6h0.7 M476.3 79.8h0.7 M471.6 74.3h0.7 M471.9 74.7h0.7 M475.0 76.3h0.7 M472.4 74.8h0.7 M469.8 74.3h0.7 M468.5 75.8h0.7 M476.0 76.2h0.7 M471.0 74.3h0.7 M473.7 76.4h0.7 M473.1 75.7h0.7 M475.2 75.9h0.7 M468.5 75.8h0.7 M469.3 75.6h0.7 M472.1 75.2h0.7 M472.2 76.4h0.7 M475.1 75.4h0.7 M470.1 75.5h0.7 M470.1 76.0h0.7 M474.0 76.3h0.7 M468.0 75.8h0.7 M469.5 75.5h0.7 M472.6 75.8h0.7 M472.1 76.3h0.7 M467.9 75.7h0.7 M469.3 76.2h0.7 M474.0 74.9h0.7 M472.8 74.0h0.7 M475.5 75.2h0.7 M475.0 74.7h0.7 M474.6 75.6h0.7 M470.9 76.0h0.7 M471.2 76.1h0.7 M470.0 74.6h0.7 M468.2 74.8h0.7 M473.6 75.9h0.7 M469.4 74.3h0.7 M470.5 74.7h0.7 M474.7 75.9h0.7 M475.6 76.2h0.7 M470.0 74.0h0.7 M468.6 75.9h0.7 M476.0 75.3h0.7 M472.7 73.6h0.7 M473.6 75.7h0.7 M469.9 75.0h0.7 M468.9 73.7h0.7 M471.9 75.2h0.7 M475.9 76.0h0.7 M472.7 75.9h0.7 M468.3 76.4h0.7 M473.7 75.3h0.7 M470.4 76.1h0.7 M471.3 73.3h0.7 M472.4 74.4h0.7 M474.5 74.7h0.7 M470.8 76.3h0.7 M471.0 76.4h0.7 M469.8 74.1h0.7 M472.4 75.0h0.7 M471.9 75.9h0.7 M472.4 75.9h0.7 M474.5 75.0h0.7 M472.0 76.4h0.7 M470.9 76.3h0.7 M474.9 75.2h0.7 M469.2 76.4h0.7 M468.6 76.0h0.7 M468.5 75.1h0.7 M474.7 75.8h0.7 M470.3 75.4h0.7 M472.3 76.4h0.7 M468.8 76.4h0.7 M471.9 74.7h0.7 M469.6 75.4h0.7 M468.9 75.6h0.7 M473.2 76.1h0.7 M471.2 73.7h0.7 M468.1 74.8h0.7 M471.6 76.3h0.7 M472.6 75.4h0.7 M474.9 74.4h0.7 M475.2 76.0h0.7 M471.4 74.4h0.7 M473.3 75.9h0.7 M469.2 75.0h0.7 M470.9 75.4h0.7 M469.8 75.5h0.7 M475.5 74.6h0.7 M468.7 75.8h0.7 M472.7 75.0h0.7 M470.1 76.3h0.7 M470.1 76.0h0.7 M468.4 74.3h0.7 M473.2 75.2h0.7 M472.1 75.5h0.7 M472.7 76.2h0.7 M473.1 76.1h0.7 M472.6 76.4h0.7 M467.8 75.2h0.7 M471.2 75.9h0.7 M471.0 76.5h0.7 M471.8 76.5h0.7 M468.0 75.7h0.7 M470.1 76.2h0.7 M471.1 74.1h0.7 M467.8 74.5h0.7 M468.1 75.1h0.7 M474.8 75.3h0.7 M472.6 73.6h0.7 M469.8 75.0h0.7 M469.5 74.6h0.7 M475.7 75.5h0.7 M472.1 74.9h0.7 M475.4 75.6h0.7 M468.4 75.1h0.7 M471.2 75.0h0.7 M470.0 75.3h0.7 M468.0 75.4h0.7 M474.5 75.8h0.7 M474.4 76.4h0.7 M471.2 75.7h0.7 M472.5 75.6h0.7 M475.6 75.3h0.7 M472.4 76.2h0.7 M472.3 76.5h0.7 M474.2 74.7h0.7 M474.0 76.3h0.7 M468.3 75.4h0.7 M469.5 73.9h0.7 M473.3 75.6h0.7 M472.9 76.3h0.7 M471.3 75.9h0.7 M467.9 76.0h0.7 M469.6 76.2h0.7 M475.2 76.5h0.7 M472.1 76.1h0.7 M472.4 75.9h0.7 M475.3 75.4h0.7 M473.5 74.6h0.7 M469.1 75.6h0.7 M473.1 76.3h0.7 M468.3 75.7h0.7 M468.6 74.7h0.7 M470.5 75.7h0.7 M480.2 86.6h0.7 M475.8 93.5h0.7 M479.4 111.9h0.7 M479.1 128.0h0.7 M483.2 120.3h0.7 M479.9 101.5h0.7 M477.1 118.1h0.7 M476.5 94.9h0.7 M479.8 111.8h0.7 M482.4 112.2h0.7 M485.1 101.8h0.7 M483.8 96.8h0.7 M477.9 117.1h0.7 M480.9 106.0h0.7 M473.0 101.8h0.7 M478.9 118.2h0.7 M478.6 93.9h0.7 M483.8 131.4h0.7 M476.0 93.0h0.7 M484.4 126.9h0.7 M479.3 91.9h0.7 M480.4 109.8h0.7 M484.4 109.8h0.7 M480.5 61.7h0.7 M476.7 102.6h0.7 M478.6 93.6h0.7 M483.4 88.9h0.7 M484.3 115.0h0.7 M483.3 74.8h0.7 M480.8 108.4h0.7 M476.0 92.5h0.7 M485.2 89.8h0.7 M482.1 79.2h0.7 M477.4 99.7h0.7 M486.0 81.9h0.7 M486.4 97.4h0.7 M476.3 114.4h0.7 M475.7 99.2h0.7 M479.4 98.7h0.7 M486.2 81.4h0.7 M477.9 96.2h0.7 M476.0 85.6h0.7 M492.1 104.4h0.7 M482.1 108.6h0.7 M474.9 106.8h0.7 M479.2 122.4h0.7 M474.1 109.7h0.7" stroke="#111" stroke-width="0.7" fill="none" opacity="0.8"/>
<path d="M472 77.200 C474.500 77.200 476.300 80 476.500 86 C476.600 91 476.800 94 477.500 99 C478.300 105 477.500 112 475.500 117 C474.500 119.500 473.500 121 472.300 121 C470.800 121 469.500 119 468.500 116 C466.800 111 466.200 104 467 98 C467.600 93 468 90 468.200 85 C468.500 80 470 77.200 472 77.200Z" fill="#a8a8a8" stroke="#f4f4f4" stroke-width="0.7"/>
<path d="M472 79.500 C473.800 79.500 475 82 475.200 86.500 C475.300 91 475.500 94 476 99 C476.600 105 476 111 474.500 115.500 C473.800 117.500 473.200 118.500 472.300 118.500 C471.300 118.500 470.400 117 469.700 114.500 C468.400 110 468 104 468.600 98.500 C469.100 94 469.400 90 469.600 86 C469.800 82 470.600 79.500 472 79.500Z" fill="none" stroke="#555" stroke-width="0.45"/>
<path d="M472 82 C473 82 473.800 84 473.900 87 C474 91 474 94 474.500 99 C475 105 474.600 110 473.600 113.500 C473.200 115 472.800 115.500 472.300 115.500 C471.700 115.500 471.300 114.500 470.900 113 C470 109 469.800 104 470.200 99 C470.600 94 470.800 91 470.900 87 C471 84 471.300 82 472 82Z" fill="none" stroke="#555" stroke-width="0.45"/>
<ellipse cx="472.300" cy="104" rx="0.8" ry="3.5" fill="#fff"/>
<ellipse cx="472.500" cy="87" rx="0.6" ry="2.5" fill="#ddd"/>
<rect x="50.30" y="50.50" width="75.50" height="49.80" fill="none" stroke="#787878" stroke-width="0.7"/>
<rect x="160.60" y="51.10" width="75.40" height="49.20" fill="none" stroke="#787878" stroke-width="0.7"/>
<rect x="51.30" y="161.50" width="75.00" height="49.70" fill="none" stroke="#787878" stroke-width="0.7"/>
<rect x="161.50" y="161.40" width="74.80" height="49.50" fill="none" stroke="#787878" stroke-width="0.7"/>
<rect x="344.20" y="56.90" width="47.00" height="36.30" fill="none" stroke="#787878" stroke-width="0.7"/>
<rect x="455.40" y="58.50" width="46.20" height="35.90" fill="none" stroke="#787878" stroke-width="0.7"/>
<rect x="344.80" y="167.50" width="46.20" height="35.70" fill="none" stroke="#787878" stroke-width="0.7"/>
<rect x="456.30" y="168.00" width="45.30" height="36.00" fill="none" stroke="#787878" stroke-width="0.7"/>
<text x="88" y="79.7" font-size="11" font-weight="bold" text-anchor="middle" fill="#111" stroke="#111" stroke-width="0.25">1.56</text>
<text x="198.1" y="80.7" font-size="11" font-weight="bold" text-anchor="middle" fill="#111" stroke="#111" stroke-width="0.25">26.5</text>
<text x="88.7" y="191.3" font-size="11" font-weight="bold" text-anchor="middle" fill="#111" stroke="#111" stroke-width="0.25">1.39</text>
<text x="198.4" y="191" font-size="11" font-weight="bold" text-anchor="middle" fill="#111" stroke="#111" stroke-width="0.25">4.15</text>
<text x="367.9" y="69.9" font-size="11" font-weight="bold" text-anchor="middle" fill="#111" stroke="#111" stroke-width="0.25">1.59</text>
<text x="478.3" y="70.4" font-size="11" font-weight="bold" text-anchor="middle" fill="#111" stroke="#111" stroke-width="0.25">25.3</text>
<text x="367.6" y="181.8" font-size="11" font-weight="bold" text-anchor="middle" fill="#111" stroke="#111" stroke-width="0.25">0.3</text>
<text x="478.6" y="182.5" font-size="11" font-weight="bold" text-anchor="middle" fill="#111" stroke="#111" stroke-width="0.25">0.35</text>
<text x="4.0" y="13.2" font-size="13.4" font-weight="bold" text-anchor="start" fill="#111" stroke="#111" stroke-width="0.35">A</text>
<text x="66.8" y="23.7" font-size="12.8" font-weight="bold" text-anchor="start" fill="#111" stroke="#111" stroke-width="0.35" textLength="43.7" lengthAdjust="spacingAndGlyphs">No IL-6</text>
<text x="171" y="25" font-size="13" font-weight="bold" text-anchor="start" fill="#111" stroke="#111" stroke-width="0.35" textLength="57" lengthAdjust="spacingAndGlyphs">With IL-6</text>
<text x="23.9" y="59.4" font-size="13.2" font-weight="bold" text-anchor="start" fill="#111" stroke="#111" stroke-width="0.22" transform="rotate(-90 23.9 59.4)" textLength="39" lengthAdjust="spacingAndGlyphs">DMSO</text>
<text x="24" y="191.9" font-size="13.2" font-weight="bold" text-anchor="start" fill="#111" stroke="#111" stroke-width="0.22" transform="rotate(-90 24 191.9)" textLength="63.8" lengthAdjust="spacingAndGlyphs">TG101348</text>
<text x="25" y="246.4" font-size="13.2" font-weight="bold" text-anchor="start" fill="#111" stroke="#111" stroke-width="0.22" transform="rotate(-90 25 246.4)" textLength="43.2" lengthAdjust="spacingAndGlyphs">pSTAT3</text>
<text x="31.9" y="258.3" font-size="11.6" font-weight="bold" text-anchor="start" fill="#111" stroke="#111" stroke-width="0.35" textLength="47.3" lengthAdjust="spacingAndGlyphs">HLA-DR</text>
<path d="M29.7 181.5V246.0H88.8" stroke="#1c1c1c" stroke-width="1.3" fill="none" stroke-linejoin="miter"/>
<path d="M29.7 177.5l-2.6 5.8h5.2z M92.8 246.0l-5.8 -2.7v5.400z" fill="#1c1c1c"/>
<text x="264.6" y="13.2" font-size="13.4" font-weight="bold" text-anchor="start" fill="#111" stroke="#111" stroke-width="0.35">D</text>
<text x="329.2" y="25.5" font-size="12.8" font-weight="bold" text-anchor="start" fill="#111" stroke="#111" stroke-width="0.35" textLength="43.3" lengthAdjust="spacingAndGlyphs">No IL-6</text>
<text x="433" y="26.8" font-size="13" font-weight="bold" text-anchor="start" fill="#111" stroke="#111" stroke-width="0.35" textLength="57" lengthAdjust="spacingAndGlyphs">With IL-6</text>
<text x="284.9" y="60.9" font-size="13.2" font-weight="bold" text-anchor="start" fill="#111" stroke="#111" stroke-width="0.22" transform="rotate(-90 284.9 60.9)" textLength="39" lengthAdjust="spacingAndGlyphs">DMSO</text>
<text x="285.4" y="193.7" font-size="13.2" font-weight="bold" text-anchor="start" fill="#111" stroke="#111" stroke-width="0.22" transform="rotate(-90 285.4 193.7)" textLength="63" lengthAdjust="spacingAndGlyphs">TG101348</text>
<text x="286.3" y="249.1" font-size="13.2" font-weight="bold" text-anchor="start" fill="#111" stroke="#111" stroke-width="0.22" transform="rotate(-90 286.3 249.1)" textLength="43.2" lengthAdjust="spacingAndGlyphs">pSTAT3</text>
<text x="292.0" y="260.8" font-size="12" font-weight="bold" text-anchor="start" fill="#111" stroke="#111" stroke-width="0.35" textLength="25" lengthAdjust="spacingAndGlyphs">CD3</text>
<path d="M291.1 184V248.7H350.5" stroke="#1c1c1c" stroke-width="1.3" fill="none" stroke-linejoin="miter"/>
<path d="M291.1 180l-2.6 5.8h5.2z M354.5 248.7l-5.8 -2.7v5.400z" fill="#1c1c1c"/>
<text x="3.8" y="277.5" font-size="14.6" font-weight="bold" text-anchor="start" fill="#111" stroke="#111" stroke-width="0.3">B</text>
<line x1="59.3" y1="286.625" x2="59.3" y2="369.875" stroke="#161616" stroke-width="1.15" />
<line x1="57.0" y1="369.3" x2="59.3" y2="369.3" stroke="#161616" stroke-width="1.15" />
<text x="56.0" y="371.928" font-size="7.3" font-weight="bold" text-anchor="end" fill="#111" stroke="#111" stroke-width="0.3">0</text>
<line x1="57.0" y1="352.88" x2="59.3" y2="352.88" stroke="#161616" stroke-width="1.15" />
<text x="56.0" y="355.508" font-size="7.3" font-weight="bold" text-anchor="end" fill="#111" stroke="#111" stroke-width="0.3">10</text>
<line x1="57.0" y1="336.46000000000004" x2="59.3" y2="336.46000000000004" stroke="#161616" stroke-width="1.15" />
<text x="56.0" y="339.088" font-size="7.3" font-weight="bold" text-anchor="end" fill="#111" stroke="#111" stroke-width="0.3">20</text>
<line x1="57.0" y1="320.04" x2="59.3" y2="320.04" stroke="#161616" stroke-width="1.15" />
<text x="56.0" y="322.668" font-size="7.3" font-weight="bold" text-anchor="end" fill="#111" stroke="#111" stroke-width="0.3">30</text>
<line x1="57.0" y1="303.62" x2="59.3" y2="303.62" stroke="#161616" stroke-width="1.15" />
<text x="56.0" y="306.248" font-size="7.3" font-weight="bold" text-anchor="end" fill="#111" stroke="#111" stroke-width="0.3">40</text>
<line x1="57.0" y1="287.2" x2="59.3" y2="287.2" stroke="#161616" stroke-width="1.15" />
<text x="56.0" y="289.828" font-size="7.3" font-weight="bold" text-anchor="end" fill="#111" stroke="#111" stroke-width="0.3">50</text>
<text x="41.6" y="381.3" font-size="10.8" font-weight="bold" text-anchor="start" fill="#111" stroke="#111" stroke-width="0.3" transform="rotate(-90 41.6 381.3)" textLength="110.7" lengthAdjust="spacingAndGlyphs">%HLA-DR+, pSTAT3+</text>
<line x1="72.35" y1="338.10200000000003" x2="72.35" y2="352.3874" stroke="#161616" stroke-width="1.3" />
<line x1="67.64999999999999" y1="338.10200000000003" x2="77.05" y2="338.10200000000003" stroke="#161616" stroke-width="1.3" />
<rect x="63.60" y="352.99" width="17.50" height="16.31" fill="#fff" stroke="#161616" stroke-width="1.2"/>
<line x1="100.0" y1="354.1936" x2="100.0" y2="360.7616" stroke="#8a8a8a" stroke-width="1.3" />
<line x1="95.3" y1="354.1936" x2="104.7" y2="354.1936" stroke="#8a8a8a" stroke-width="1.3" />
<rect x="91.40" y="361.36" width="17.20" height="7.94" fill="#fff" stroke="#8a8a8a" stroke-width="1.2"/>
<line x1="126.5" y1="301.64959999999996" x2="126.5" y2="320.04" stroke="#161616" stroke-width="1.3" />
<line x1="121.8" y1="301.64959999999996" x2="131.2" y2="301.64959999999996" stroke="#161616" stroke-width="1.3" />
<rect x="117.60" y="320.64" width="17.80" height="48.66" fill="#161616" stroke="#161616" stroke-width="1.2"/>
<line x1="153.14999999999998" y1="342.207" x2="153.14999999999998" y2="353.701" stroke="#8c8c8c" stroke-width="1.3" />
<line x1="148.45" y1="342.207" x2="157.84999999999997" y2="342.207" stroke="#8c8c8c" stroke-width="1.3" />
<rect x="144.20" y="354.30" width="17.90" height="15.00" fill="#8c8c8c" stroke="#8c8c8c" stroke-width="1.2"/>
<line x1="59.3" y1="369.3" x2="167" y2="369.3" stroke="#161616" stroke-width="1.2" />
<line x1="72.35" y1="369.3" x2="72.35" y2="371.3" stroke="#161616" stroke-width="1.1" />
<line x1="100.0" y1="369.3" x2="100.0" y2="371.3" stroke="#161616" stroke-width="1.1" />
<line x1="126.5" y1="369.3" x2="126.5" y2="371.3" stroke="#161616" stroke-width="1.1" />
<line x1="153.14999999999998" y1="369.3" x2="153.14999999999998" y2="371.3" stroke="#161616" stroke-width="1.1" />
<line x1="126.8" y1="295.5" x2="152.3" y2="295.5" stroke="#161616" stroke-width="1.5" />
<text x="140" y="291" font-size="9" font-weight="bold" text-anchor="middle" fill="#111" stroke="#111" stroke-width="0.5">*</text>
<text x="76.14999999999999" y="376.5" font-size="11.5" font-weight="bold" text-anchor="end" fill="#111" stroke="#111" stroke-width="0.2" transform="rotate(-45 76.14999999999999 376.5)">DMSO</text>
<text x="103.8" y="376.5" font-size="11.5" font-weight="bold" text-anchor="end" fill="#111" stroke="#111" stroke-width="0.2" transform="rotate(-45 103.8 376.5)">TG101348</text>
<text x="130.3" y="376.5" font-size="11.5" font-weight="bold" text-anchor="end" fill="#111" stroke="#111" stroke-width="0.2" transform="rotate(-45 130.3 376.5)">DMSO + IL-6</text>
<text x="156.95" y="376.5" font-size="11.5" font-weight="bold" text-anchor="end" fill="#111" stroke="#111" stroke-width="0.2" transform="rotate(-45 156.95 376.5)">TG101348 + IL-6</text>
<text x="264.7" y="277.5" font-size="14.6" font-weight="bold" text-anchor="start" fill="#111" stroke="#111" stroke-width="0.3">E</text>
<line x1="307.8" y1="280.02500000000003" x2="307.8" y2="363.775" stroke="#161616" stroke-width="1.15" />
<line x1="305.5" y1="363.2" x2="307.8" y2="363.2" stroke="#161616" stroke-width="1.15" />
<text x="304.5" y="365.828" font-size="7.3" font-weight="bold" text-anchor="end" fill="#111" stroke="#111" stroke-width="0.3">0</text>
<line x1="305.5" y1="346.68" x2="307.8" y2="346.68" stroke="#161616" stroke-width="1.15" />
<text x="304.5" y="349.308" font-size="7.3" font-weight="bold" text-anchor="end" fill="#111" stroke="#111" stroke-width="0.3">10</text>
<line x1="305.5" y1="330.15999999999997" x2="307.8" y2="330.15999999999997" stroke="#161616" stroke-width="1.15" />
<text x="304.5" y="332.78799999999995" font-size="7.3" font-weight="bold" text-anchor="end" fill="#111" stroke="#111" stroke-width="0.3">20</text>
<line x1="305.5" y1="313.64" x2="307.8" y2="313.64" stroke="#161616" stroke-width="1.15" />
<text x="304.5" y="316.268" font-size="7.3" font-weight="bold" text-anchor="end" fill="#111" stroke="#111" stroke-width="0.3">30</text>
<line x1="305.5" y1="297.12" x2="307.8" y2="297.12" stroke="#161616" stroke-width="1.15" />
<text x="304.5" y="299.748" font-size="7.3" font-weight="bold" text-anchor="end" fill="#111" stroke="#111" stroke-width="0.3">40</text>
<line x1="305.5" y1="280.6" x2="307.8" y2="280.6" stroke="#161616" stroke-width="1.15" />
<text x="304.5" y="283.228" font-size="7.3" font-weight="bold" text-anchor="end" fill="#111" stroke="#111" stroke-width="0.3">50</text>
<text x="290.7" y="365.3" font-size="10.8" font-weight="bold" text-anchor="start" fill="#111" stroke="#111" stroke-width="0.3" transform="rotate(-90 290.7 365.3)" textLength="91.4" lengthAdjust="spacingAndGlyphs">%CD3+, pSTAT3+</text>
<line x1="321.5" y1="360.722" x2="321.5" y2="361.3828" stroke="#161616" stroke-width="1.3" />
<line x1="316.8" y1="360.722" x2="326.2" y2="360.722" stroke="#161616" stroke-width="1.3" />
<rect x="312.60" y="361.68" width="17.80" height="1.52" fill="#333" stroke="#161616" stroke-width="1.0"/>
<line x1="349.1" y1="362.04359999999997" x2="349.1" y2="362.5392" stroke="#999" stroke-width="1.3" />
<line x1="344.40000000000003" y1="362.04359999999997" x2="353.8" y2="362.04359999999997" stroke="#999" stroke-width="1.3" />
<rect x="340.20" y="362.84" width="17.80" height="0.50" fill="#fff" stroke="#999" stroke-width="1.0"/>
<line x1="375.1" y1="299.26759999999996" x2="375.1" y2="322.3956" stroke="#161616" stroke-width="1.3" />
<line x1="370.40000000000003" y1="299.26759999999996" x2="379.8" y2="299.26759999999996" stroke="#161616" stroke-width="1.3" />
<rect x="366.20" y="322.70" width="17.80" height="40.50" fill="#161616" stroke="#161616" stroke-width="1.0"/>
<line x1="402.5" y1="362.37399999999997" x2="402.5" y2="362.70439999999996" stroke="#aaa" stroke-width="1.3" />
<line x1="397.8" y1="362.37399999999997" x2="407.2" y2="362.37399999999997" stroke="#aaa" stroke-width="1.3" />
<rect x="393.60" y="363.00" width="17.80" height="0.50" fill="#aaa" stroke="#aaa" stroke-width="1.0"/>
<line x1="307.8" y1="363.2" x2="415.8" y2="363.2" stroke="#161616" stroke-width="1.2" />
<line x1="321.5" y1="363.2" x2="321.5" y2="365.2" stroke="#161616" stroke-width="1.1" />
<line x1="349.1" y1="363.2" x2="349.1" y2="365.2" stroke="#161616" stroke-width="1.1" />
<line x1="375.1" y1="363.2" x2="375.1" y2="365.2" stroke="#161616" stroke-width="1.1" />
<line x1="402.5" y1="363.2" x2="402.5" y2="365.2" stroke="#161616" stroke-width="1.1" />
<line x1="375.8" y1="293.4" x2="401" y2="293.4" stroke="#161616" stroke-width="1.5" />
<text x="388.8" y="288.6" font-size="9" font-weight="bold" text-anchor="middle" fill="#111" stroke="#111" stroke-width="0.5">*</text>
<text x="324.3" y="372.0" font-size="11.5" font-weight="bold" text-anchor="end" fill="#111" stroke="#111" stroke-width="0.2" transform="rotate(-45 324.3 372.0)">DMSO</text>
<text x="351.90000000000003" y="372.0" font-size="11.5" font-weight="bold" text-anchor="end" fill="#111" stroke="#111" stroke-width="0.2" transform="rotate(-45 351.90000000000003 372.0)">TG101348</text>
<text x="377.90000000000003" y="372.0" font-size="11.5" font-weight="bold" text-anchor="end" fill="#111" stroke="#111" stroke-width="0.2" transform="rotate(-45 377.90000000000003 372.0)">DMSO + IL-6</text>
<text x="405.3" y="372.0" font-size="11.5" font-weight="bold" text-anchor="end" fill="#111" stroke="#111" stroke-width="0.2" transform="rotate(-45 405.3 372.0)">TG101348 + IL-6</text>
<text x="3.4" y="443.6" font-size="14.6" font-weight="bold" text-anchor="start" fill="#111" stroke="#111" stroke-width="0.3">C</text>
<line x1="28.4" y1="479.975" x2="28.4" y2="593.1750000000001" stroke="#161616" stroke-width="1.15" />
<line x1="26.099999999999998" y1="592.6" x2="28.4" y2="592.6" stroke="#161616" stroke-width="1.15" />
<text x="25.099999999999998" y="595.3000000000001" font-size="7.5" font-weight="bold" text-anchor="end" fill="#111" stroke="#111" stroke-width="0.3">0.0</text>
<line x1="26.099999999999998" y1="555.25" x2="28.4" y2="555.25" stroke="#161616" stroke-width="1.15" />
<text x="25.099999999999998" y="557.95" font-size="7.5" font-weight="bold" text-anchor="end" fill="#111" stroke="#111" stroke-width="0.3">0.5</text>
<line x1="26.099999999999998" y1="517.9" x2="28.4" y2="517.9" stroke="#161616" stroke-width="1.15" />
<text x="25.099999999999998" y="520.6" font-size="7.5" font-weight="bold" text-anchor="end" fill="#111" stroke="#111" stroke-width="0.3">1.0</text>
<line x1="26.099999999999998" y1="480.55" x2="28.4" y2="480.55" stroke="#161616" stroke-width="1.15" />
<text x="25.099999999999998" y="483.25" font-size="7.5" font-weight="bold" text-anchor="end" fill="#111" stroke="#111" stroke-width="0.3">1.5</text>
<line x1="28.4" y1="592.6" x2="127" y2="592.6" stroke="#161616" stroke-width="1.2" />
<line x1="44.6" y1="592.6" x2="44.6" y2="594.6" stroke="#161616" stroke-width="1.1" />
<line x1="78.5" y1="592.6" x2="78.5" y2="594.6" stroke="#161616" stroke-width="1.1" />
<line x1="111.4" y1="592.6" x2="111.4" y2="594.6" stroke="#161616" stroke-width="1.1" />
<text x="11.8" y="611.6" font-size="10.8" font-weight="bold" text-anchor="start" fill="#111" stroke="#111" stroke-width="0.3" transform="rotate(-90 11.8 611.6)" textLength="153" lengthAdjust="spacingAndGlyphs">MTS Absorbance OD (490nm)</text>
<line x1="28.4" y1="554.7" x2="127" y2="554.7" stroke="#161616" stroke-width="1.4" stroke-dasharray="2.3 1.65"/>
<rect x="35.60" y="524.20" width="4.20" height="4.20" fill="#161616" stroke="#161616" stroke-width="1"/>
<rect x="42.80" y="515.50" width="4.20" height="4.20" fill="#161616" stroke="#161616" stroke-width="1"/>
<rect x="42.80" y="529.50" width="4.20" height="4.20" fill="#161616" stroke="#161616" stroke-width="1"/>
<rect x="49.70" y="524.70" width="4.20" height="4.20" fill="#161616" stroke="#161616" stroke-width="1"/>
<line x1="34.5" y1="526.0" x2="55" y2="526.0" stroke="#161616" stroke-width="1.2" />
<rect x="72.5" y="503.3" width="4.6" height="4.6" rx="0.8" fill="#dcdcdc" stroke="#2a2a2a" stroke-width="1.25"/>
<rect x="79.5" y="507.59999999999997" width="4.6" height="4.6" rx="0.8" fill="#dcdcdc" stroke="#2a2a2a" stroke-width="1.25"/>
<rect x="79.5" y="513.8000000000001" width="4.6" height="4.6" rx="0.8" fill="#dcdcdc" stroke="#2a2a2a" stroke-width="1.25"/>
<rect x="72.5" y="519.8000000000001" width="4.6" height="4.6" rx="0.8" fill="#dcdcdc" stroke="#2a2a2a" stroke-width="1.25"/>
<line x1="67" y1="513.5" x2="89.3" y2="513.5" stroke="#161616" stroke-width="1.2" />
<rect x="109.10000000000001" y="492.3" width="4.6" height="4.6" rx="0.8" fill="#f4f4f4" stroke="#2a2a2a" stroke-width="1.2"/>
<line x1="100.1" y1="494.6" x2="122.6" y2="494.6" stroke="#161616" stroke-width="1.1" />
<text x="47.800000000000004" y="601.4" font-size="11.7" font-weight="bold" text-anchor="end" fill="#111" stroke="#111" stroke-width="0.15" transform="rotate(-45 47.800000000000004 601.4)">DMSO</text>
<text x="81.7" y="601.4" font-size="11.7" font-weight="bold" text-anchor="end" fill="#111" stroke="#111" stroke-width="0.15" transform="rotate(-45 81.7 601.4)">TG101348</text>
<text x="114.60000000000001" y="601.4" font-size="11.7" font-weight="bold" text-anchor="end" fill="#111" stroke="#111" stroke-width="0.15" transform="rotate(-45 114.60000000000001 601.4)">PHA</text>
<line x1="158.2" y1="478.52500000000003" x2="158.2" y2="592.6750000000001" stroke="#161616" stroke-width="1.15" />
<line x1="155.89999999999998" y1="592.1" x2="158.2" y2="592.1" stroke="#161616" stroke-width="1.15" />
<text x="154.89999999999998" y="594.98" font-size="8" font-weight="bold" text-anchor="end" fill="#111" stroke="#111" stroke-width="0.3">1.0</text>
<line x1="155.89999999999998" y1="569.5" x2="158.2" y2="569.5" stroke="#161616" stroke-width="1.15" />
<text x="154.89999999999998" y="572.38" font-size="8" font-weight="bold" text-anchor="end" fill="#111" stroke="#111" stroke-width="0.3">1.5</text>
<line x1="155.89999999999998" y1="546.9" x2="158.2" y2="546.9" stroke="#161616" stroke-width="1.15" />
<text x="154.89999999999998" y="549.78" font-size="8" font-weight="bold" text-anchor="end" fill="#111" stroke="#111" stroke-width="0.3">2.0</text>
<line x1="155.89999999999998" y1="524.3" x2="158.2" y2="524.3" stroke="#161616" stroke-width="1.15" />
<text x="154.89999999999998" y="527.18" font-size="8" font-weight="bold" text-anchor="end" fill="#111" stroke="#111" stroke-width="0.3">2.5</text>
<line x1="155.89999999999998" y1="501.70000000000005" x2="158.2" y2="501.70000000000005" stroke="#161616" stroke-width="1.15" />
<text x="154.89999999999998" y="504.58000000000004" font-size="8" font-weight="bold" text-anchor="end" fill="#111" stroke="#111" stroke-width="0.3">3.0</text>
<line x1="155.89999999999998" y1="479.1" x2="158.2" y2="479.1" stroke="#161616" stroke-width="1.15" />
<text x="154.89999999999998" y="481.98" font-size="8" font-weight="bold" text-anchor="end" fill="#111" stroke="#111" stroke-width="0.3">3.5</text>
<text x="140.2" y="580.3" font-size="11.3" font-weight="bold" text-anchor="start" fill="#111" stroke="#111" stroke-width="0.3" transform="rotate(-90 140.2 580.3)" textLength="96" lengthAdjust="spacingAndGlyphs">Stimulation Index</text>
<line x1="174.95" y1="546.9" x2="174.95" y2="557.974" stroke="#161616" stroke-width="1.3" />
<line x1="169.54999999999998" y1="546.9" x2="180.35" y2="546.9" stroke="#161616" stroke-width="1.3" />
<rect x="164.30" y="558.57" width="21.30" height="33.53" fill="#161616" stroke="#161616" stroke-width="1.2"/>
<line x1="208.15" y1="539.442" x2="208.15" y2="544.188" stroke="#161616" stroke-width="1.3" />
<line x1="202.75" y1="539.442" x2="213.55" y2="539.442" stroke="#161616" stroke-width="1.3" />
<rect x="197.50" y="544.79" width="21.30" height="47.31" fill="#cdcdcd" stroke="#161616" stroke-width="1.2"/>
<rect x="230.50" y="498.68" width="21.30" height="93.42" fill="#fff" stroke="#161616" stroke-width="1.2"/>
<line x1="158.2" y1="592.1" x2="257" y2="592.1" stroke="#161616" stroke-width="1.2" />
<line x1="174.95" y1="592.1" x2="174.95" y2="594.1" stroke="#161616" stroke-width="1.1" />
<line x1="208.15" y1="592.1" x2="208.15" y2="594.1" stroke="#161616" stroke-width="1.1" />
<line x1="241.15" y1="592.1" x2="241.15" y2="594.1" stroke="#161616" stroke-width="1.1" />
<line x1="174" y1="535.6" x2="207.5" y2="535.6" stroke="#161616" stroke-width="1.5" />
<text x="191" y="531.5" font-size="9.2" font-weight="bold" text-anchor="middle" fill="#111" stroke="#111" stroke-width="0.2">NS</text>
<text x="178.45" y="600.1" font-size="11.7" font-weight="bold" text-anchor="end" fill="#111" stroke="#111" stroke-width="0.1" transform="rotate(-45 178.45 600.1)">DMSO</text>
<text x="211.65" y="600.1" font-size="11.7" font-weight="bold" text-anchor="end" fill="#111" stroke="#111" stroke-width="0.1" transform="rotate(-45 211.65 600.1)">TG101348</text>
<text x="244.65" y="600.1" font-size="11.7" font-weight="bold" text-anchor="end" fill="#111" stroke="#111" stroke-width="0.1" transform="rotate(-45 244.65 600.1)">PHA</text>
<text x="265.1" y="443.6" font-size="14.6" font-weight="bold" text-anchor="start" fill="#111" stroke="#111" stroke-width="0.3">F</text>
<line x1="290.0" y1="476.475" x2="290.0" y2="593.575" stroke="#161616" stroke-width="1.15" />
<line x1="287.7" y1="593.0" x2="290.0" y2="593.0" stroke="#161616" stroke-width="1.15" />
<text x="286.7" y="595.7" font-size="7.5" font-weight="bold" text-anchor="end" fill="#111" stroke="#111" stroke-width="0.3">0.0</text>
<line x1="287.7" y1="554.35" x2="290.0" y2="554.35" stroke="#161616" stroke-width="1.15" />
<text x="286.7" y="557.0500000000001" font-size="7.5" font-weight="bold" text-anchor="end" fill="#111" stroke="#111" stroke-width="0.3">0.5</text>
<line x1="287.7" y1="515.7" x2="290.0" y2="515.7" stroke="#161616" stroke-width="1.15" />
<text x="286.7" y="518.4000000000001" font-size="7.5" font-weight="bold" text-anchor="end" fill="#111" stroke="#111" stroke-width="0.3">1.0</text>
<line x1="287.7" y1="477.05" x2="290.0" y2="477.05" stroke="#161616" stroke-width="1.15" />
<text x="286.7" y="479.75" font-size="7.5" font-weight="bold" text-anchor="end" fill="#111" stroke="#111" stroke-width="0.3">1.5</text>
<line x1="290.0" y1="593.0" x2="393.4" y2="593.0" stroke="#161616" stroke-width="1.2" />
<line x1="301.6" y1="593.0" x2="301.6" y2="594.8" stroke="#161616" stroke-width="1.1" />
<line x1="323.2" y1="593.0" x2="323.2" y2="594.8" stroke="#161616" stroke-width="1.1" />
<line x1="344.9" y1="593.0" x2="344.9" y2="594.8" stroke="#161616" stroke-width="1.1" />
<line x1="366.8" y1="593.0" x2="366.8" y2="594.8" stroke="#161616" stroke-width="1.1" />
<line x1="388.2" y1="593.0" x2="388.2" y2="594.8" stroke="#161616" stroke-width="1.1" />
<text x="273.6" y="604.5" font-size="10.2" font-weight="bold" text-anchor="start" fill="#111" stroke="#111" stroke-width="0.3" transform="rotate(-90 273.6 604.5)" textLength="141.5" lengthAdjust="spacingAndGlyphs">MTS Absorbance OD (490 nm)</text>
<line x1="290.0" y1="562.5" x2="393.4" y2="562.5" stroke="#161616" stroke-width="1.4" stroke-dasharray="2.3 1.65"/>
<polyline points="301.6,521.2 323.2,521.8 344.9,533.5 366.8,545.1" fill="none" stroke="#161616" stroke-width="1.1"/>
<polyline points="301.6,543.8 323.2,546.4 344.9,556.1 366.8,559.3" fill="none" stroke="#161616" stroke-width="1.1"/>
<line x1="301.6" y1="515.2" x2="301.6" y2="526.6" stroke="#161616" stroke-width="1.1" />
<line x1="298.70000000000005" y1="515.2" x2="304.5" y2="515.2" stroke="#161616" stroke-width="1.1" />
<line x1="298.70000000000005" y1="526.6" x2="304.5" y2="526.6" stroke="#161616" stroke-width="1.1" />
<rect x="299.40" y="519.00" width="4.40" height="4.40" fill="#161616" stroke="#161616" stroke-width="1"/>
<line x1="323.2" y1="517.4" x2="323.2" y2="525.9" stroke="#161616" stroke-width="1.1" />
<line x1="320.3" y1="517.4" x2="326.09999999999997" y2="517.4" stroke="#161616" stroke-width="1.1" />
<line x1="320.3" y1="525.9" x2="326.09999999999997" y2="525.9" stroke="#161616" stroke-width="1.1" />
<rect x="321.00" y="519.60" width="4.40" height="4.40" fill="#161616" stroke="#161616" stroke-width="1"/>
<line x1="344.9" y1="528.2" x2="344.9" y2="538.8" stroke="#161616" stroke-width="1.1" />
<line x1="342.0" y1="528.2" x2="347.79999999999995" y2="528.2" stroke="#161616" stroke-width="1.1" />
<line x1="342.0" y1="538.8" x2="347.79999999999995" y2="538.8" stroke="#161616" stroke-width="1.1" />
<rect x="342.70" y="531.30" width="4.40" height="4.40" fill="#161616" stroke="#161616" stroke-width="1"/>
<line x1="366.8" y1="544" x2="366.8" y2="546.2" stroke="#161616" stroke-width="1.1" />
<line x1="363.90000000000003" y1="544" x2="369.7" y2="544" stroke="#161616" stroke-width="1.1" />
<line x1="363.90000000000003" y1="546.2" x2="369.7" y2="546.2" stroke="#161616" stroke-width="1.1" />
<rect x="364.60" y="542.90" width="4.40" height="4.40" fill="#161616" stroke="#161616" stroke-width="1"/>
<line x1="301.6" y1="539.5" x2="301.6" y2="549.0" stroke="#161616" stroke-width="1.1" />
<line x1="298.70000000000005" y1="539.5" x2="304.5" y2="539.5" stroke="#161616" stroke-width="1.1" />
<line x1="298.70000000000005" y1="549.0" x2="304.5" y2="549.0" stroke="#161616" stroke-width="1.1" />
<rect x="299.3" y="541.5" width="4.6" height="4.6" rx="0.7" fill="#e8e8e8" stroke="#2a2a2a" stroke-width="1.1"/>
<line x1="323.2" y1="542.6" x2="323.2" y2="550.3" stroke="#161616" stroke-width="1.1" />
<line x1="320.3" y1="542.6" x2="326.09999999999997" y2="542.6" stroke="#161616" stroke-width="1.1" />
<line x1="320.3" y1="550.3" x2="326.09999999999997" y2="550.3" stroke="#161616" stroke-width="1.1" />
<rect x="320.9" y="544.1" width="4.6" height="4.6" rx="0.7" fill="#e8e8e8" stroke="#2a2a2a" stroke-width="1.1"/>
<line x1="344.9" y1="555" x2="344.9" y2="557.2" stroke="#161616" stroke-width="1.1" />
<line x1="342.0" y1="555" x2="347.79999999999995" y2="555" stroke="#161616" stroke-width="1.1" />
<line x1="342.0" y1="557.2" x2="347.79999999999995" y2="557.2" stroke="#161616" stroke-width="1.1" />
<rect x="342.59999999999997" y="553.8000000000001" width="4.6" height="4.6" rx="0.7" fill="#e8e8e8" stroke="#2a2a2a" stroke-width="1.1"/>
<line x1="366.8" y1="558" x2="366.8" y2="560.5" stroke="#161616" stroke-width="1.1" />
<line x1="363.90000000000003" y1="558" x2="369.7" y2="558" stroke="#161616" stroke-width="1.1" />
<line x1="363.90000000000003" y1="560.5" x2="369.7" y2="560.5" stroke="#161616" stroke-width="1.1" />
<rect x="364.5" y="557.0" width="4.6" height="4.6" rx="0.7" fill="#e8e8e8" stroke="#2a2a2a" stroke-width="1.1"/>
<line x1="388.6" y1="483.6" x2="388.6" y2="503.1" stroke="#161616" stroke-width="1.1" />
<line x1="386.0" y1="483.6" x2="391.20000000000005" y2="483.6" stroke="#161616" stroke-width="1.1" />
<line x1="386.0" y1="503.1" x2="391.20000000000005" y2="503.1" stroke="#161616" stroke-width="1.1" />
<rect x="386.50" y="490.90" width="4.20" height="5.00" fill="#fff" stroke="#222" stroke-width="1.1"/>
<line x1="372.3" y1="541.6" x2="372.3" y2="563.1" stroke="#161616" stroke-width="1.4" />
<text x="377.6" y="553.8" font-size="7" font-weight="bold" text-anchor="middle" fill="#111" stroke="#111" stroke-width="0.4">**</text>
<line x1="356.6" y1="457.0" x2="365.8" y2="457.0" stroke="#161616" stroke-width="0.9" />
<rect x="359.50" y="455.20" width="3.60" height="3.60" fill="#161616" stroke="#161616" stroke-width="1"/>
<text x="369.5" y="459.8" font-size="7.8" font-weight="bold" text-anchor="start" fill="#111" stroke="#111" stroke-width="0.25">DMSO</text>
<line x1="356.6" y1="465.2" x2="365.8" y2="465.2" stroke="#161616" stroke-width="0.9" />
<rect x="359.40000000000003" y="463.3" width="3.8" height="3.8" rx="1.2" fill="#e8e8e8" stroke="#333" stroke-width="0.9"/>
<text x="369.5" y="468.0" font-size="7.8" font-weight="bold" text-anchor="start" fill="#111" stroke="#111" stroke-width="0.25">TG101348</text>
<line x1="356.6" y1="473.4" x2="365.8" y2="473.4" stroke="#161616" stroke-width="0.9" />
<rect x="359.50" y="471.60" width="3.60" height="3.60" fill="#fff" stroke="#333" stroke-width="0.9"/>
<text x="369.5" y="476.2" font-size="7.8" font-weight="bold" text-anchor="start" fill="#111" stroke="#111" stroke-width="0.25">PHA</text>
<text x="304.40000000000003" y="602.2" font-size="10" font-weight="bold" text-anchor="end" fill="#111" stroke="#111" stroke-width="0.22" transform="rotate(-45 304.40000000000003 602.2)">1:30</text>
<text x="326.0" y="602.2" font-size="10" font-weight="bold" text-anchor="end" fill="#111" stroke="#111" stroke-width="0.22" transform="rotate(-45 326.0 602.2)">1:100</text>
<text x="347.7" y="602.2" font-size="10" font-weight="bold" text-anchor="end" fill="#111" stroke="#111" stroke-width="0.22" transform="rotate(-45 347.7 602.2)">1:300</text>
<text x="369.6" y="602.2" font-size="10" font-weight="bold" text-anchor="end" fill="#111" stroke="#111" stroke-width="0.22" transform="rotate(-45 369.6 602.2)">1:1000</text>
<text x="391.0" y="602.2" font-size="10" font-weight="bold" text-anchor="end" fill="#111" stroke="#111" stroke-width="0.22" transform="rotate(-45 391.0 602.2)">PHA</text>
<line x1="425.2" y1="481.925" x2="425.2" y2="593.075" stroke="#161616" stroke-width="1.15" />
<line x1="422.9" y1="592.5" x2="425.2" y2="592.5" stroke="#161616" stroke-width="1.15" />
<text x="421.9" y="595.38" font-size="8" font-weight="bold" text-anchor="end" fill="#111" stroke="#111" stroke-width="0.3">1.0</text>
<line x1="422.9" y1="570.5" x2="425.2" y2="570.5" stroke="#161616" stroke-width="1.15" />
<text x="421.9" y="573.38" font-size="8" font-weight="bold" text-anchor="end" fill="#111" stroke="#111" stroke-width="0.3">1.5</text>
<line x1="422.9" y1="548.5" x2="425.2" y2="548.5" stroke="#161616" stroke-width="1.15" />
<text x="421.9" y="551.38" font-size="8" font-weight="bold" text-anchor="end" fill="#111" stroke="#111" stroke-width="0.3">2.0</text>
<line x1="422.9" y1="526.5" x2="425.2" y2="526.5" stroke="#161616" stroke-width="1.15" />
<text x="421.9" y="529.38" font-size="8" font-weight="bold" text-anchor="end" fill="#111" stroke="#111" stroke-width="0.3">2.5</text>
<line x1="422.9" y1="504.5" x2="425.2" y2="504.5" stroke="#161616" stroke-width="1.15" />
<text x="421.9" y="507.38" font-size="8" font-weight="bold" text-anchor="end" fill="#111" stroke="#111" stroke-width="0.3">3.0</text>
<line x1="422.9" y1="482.5" x2="425.2" y2="482.5" stroke="#161616" stroke-width="1.15" />
<text x="421.9" y="485.38" font-size="8" font-weight="bold" text-anchor="end" fill="#111" stroke="#111" stroke-width="0.3">3.5</text>
<text x="406.0" y="582" font-size="10.9" font-weight="bold" text-anchor="start" fill="#111" stroke="#111" stroke-width="0.3" transform="rotate(-90 406.0 582)" textLength="93.5" lengthAdjust="spacingAndGlyphs">Stimulation Index</text>
<line x1="440.1" y1="550.04" x2="440.1" y2="554.22" stroke="#161616" stroke-width="1.3" />
<line x1="434.70000000000005" y1="550.04" x2="445.5" y2="550.04" stroke="#161616" stroke-width="1.3" />
<rect x="429.90" y="554.82" width="20.40" height="37.68" fill="#161616" stroke="#161616" stroke-width="1.2"/>
<line x1="470.6" y1="577.76" x2="470.6" y2="581.5" stroke="#161616" stroke-width="1.3" />
<line x1="465.20000000000005" y1="577.76" x2="476.0" y2="577.76" stroke="#161616" stroke-width="1.3" />
<rect x="460.50" y="582.10" width="20.20" height="10.40" fill="#cdcdcd" stroke="#161616" stroke-width="1.2"/>
<line x1="501.5" y1="508.02" x2="501.5" y2="522.1" stroke="#161616" stroke-width="1.3" />
<line x1="496.1" y1="508.02" x2="506.9" y2="508.02" stroke="#161616" stroke-width="1.3" />
<rect x="491.20" y="522.70" width="20.60" height="69.80" fill="#fff" stroke="#161616" stroke-width="1.2"/>
<line x1="425.2" y1="592.5" x2="518" y2="592.5" stroke="#161616" stroke-width="1.2" />
<line x1="440.1" y1="592.5" x2="440.1" y2="594.5" stroke="#161616" stroke-width="1.1" />
<line x1="470.6" y1="592.5" x2="470.6" y2="594.5" stroke="#161616" stroke-width="1.1" />
<line x1="501.5" y1="592.5" x2="501.5" y2="594.5" stroke="#161616" stroke-width="1.1" />
<line x1="440.5" y1="544.6" x2="470" y2="544.6" stroke="#161616" stroke-width="1.5" />
<text x="455.3" y="540" font-size="8" font-weight="bold" text-anchor="middle" fill="#111" stroke="#111" stroke-width="0.4">**</text>
<text x="443.6" y="600.5" font-size="11.7" font-weight="bold" text-anchor="end" fill="#111" stroke="#111" stroke-width="0.1" transform="rotate(-45 443.6 600.5)">DMSO</text>
<text x="474.1" y="600.5" font-size="11.7" font-weight="bold" text-anchor="end" fill="#111" stroke="#111" stroke-width="0.1" transform="rotate(-45 474.1 600.5)">TG101348</text>
<text x="505.0" y="600.5" font-size="11.7" font-weight="bold" text-anchor="end" fill="#111" stroke="#111" stroke-width="0.1" transform="rotate(-45 505.0 600.5)">PHA</text>
</svg>
</body></html>
